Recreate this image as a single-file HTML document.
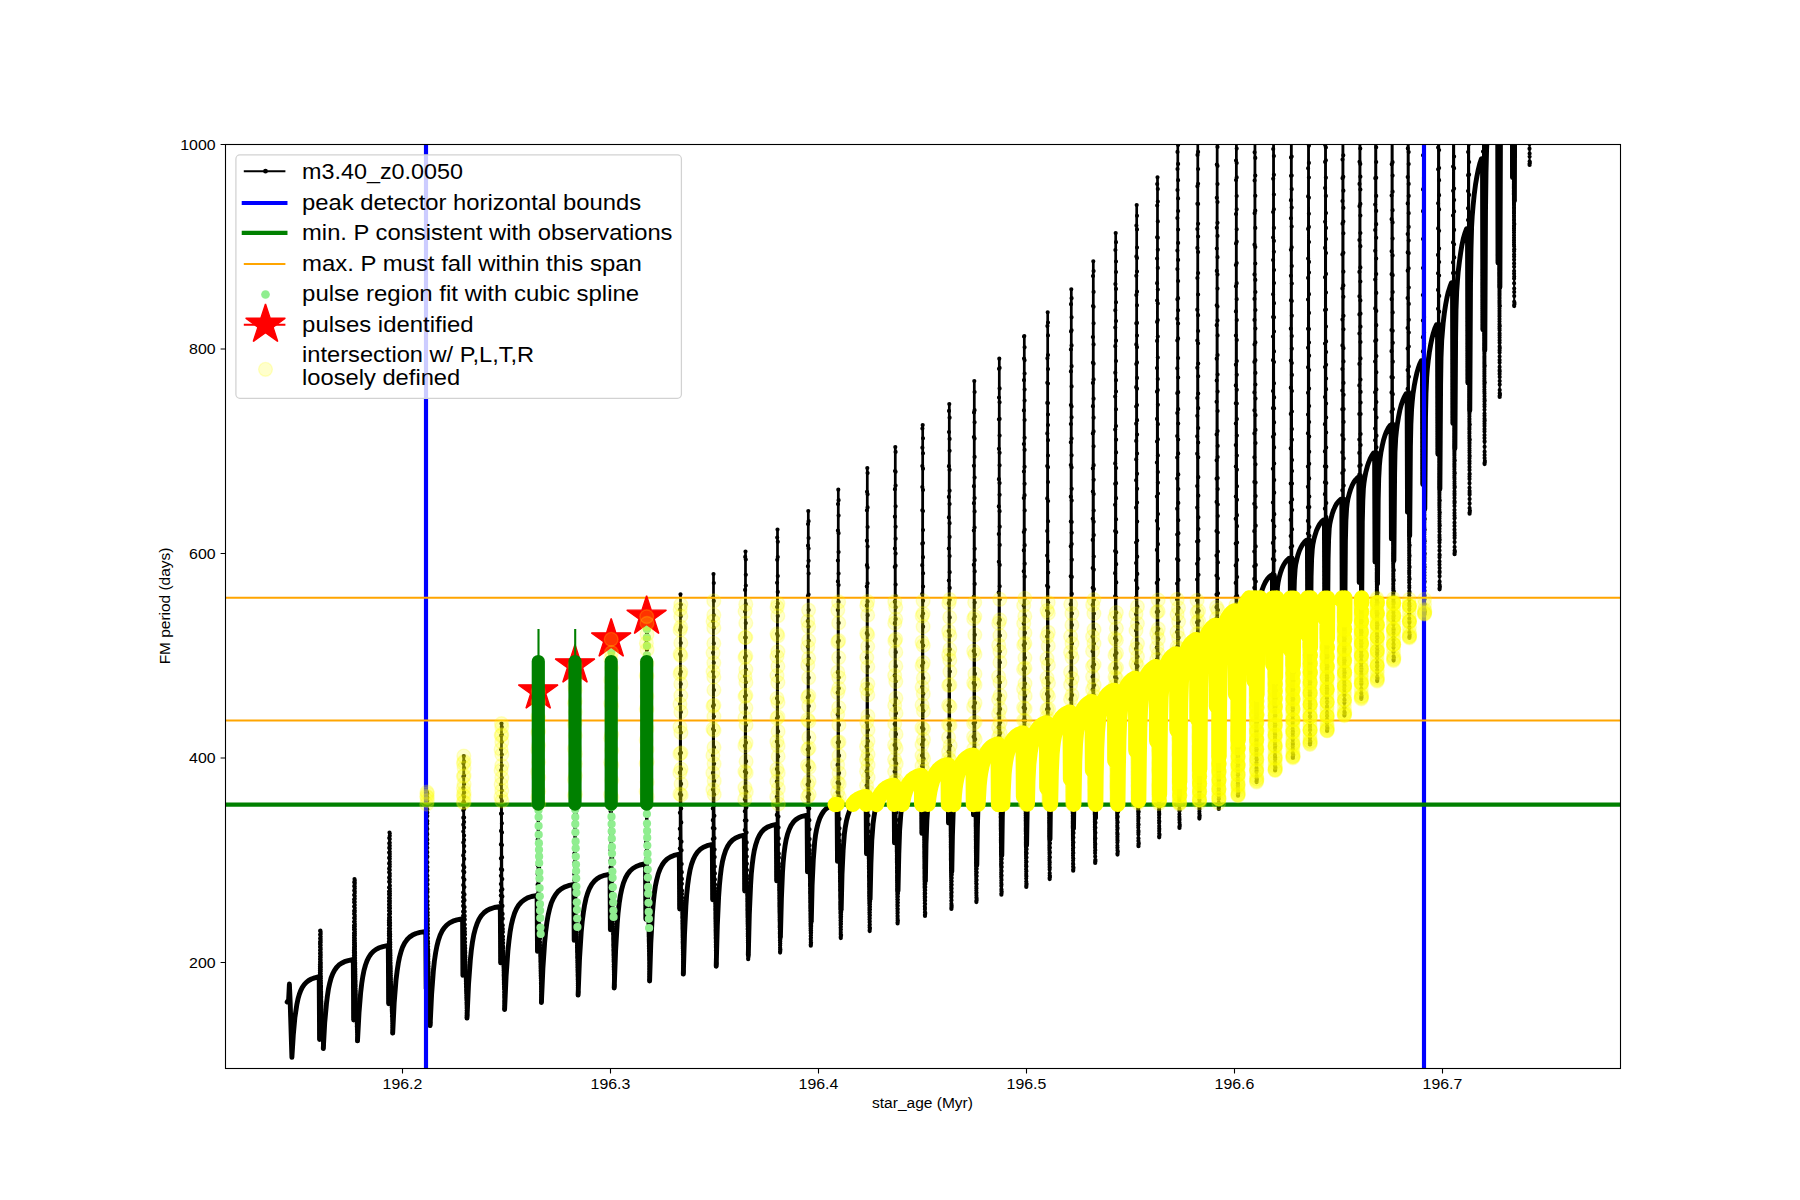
<!DOCTYPE html>
<html><head><meta charset="utf-8"><title>FM period vs star_age</title><style>html,body{margin:0;padding:0;background:#fff}body{width:1800px;height:1200px;overflow:hidden;font-family:"Liberation Sans",sans-serif}</style></head><body>
<svg width="1800" height="1200" viewBox="0 0 1800 1200" style="display:block;font-family:'Liberation Sans',sans-serif">
<defs><clipPath id="c"><rect x="225.5" y="144.5" width="1395" height="924"/></clipPath>
<path id="st" d="M0.00 -20.83 L4.68 -6.44 L19.81 -6.44 L7.57 2.46 L12.24 16.85 L0.00 7.96 L-12.24 16.85 L-7.57 2.46 L-19.81 -6.44 L-4.68 -6.44Z" fill="#f00" stroke="#f00" stroke-width="1.39" stroke-linejoin="bevel"/>
</defs>
<rect width="1800" height="1200" fill="#fff"/>
<g clip-path="url(#c)">
<g fill="none" stroke="#000" stroke-linejoin="round" stroke-linecap="round">
<path stroke-width="4.9" d="M287.2 1002.0 L288.6 1000.0 L289.4 984.0 L290.2 1003.0 L291.9 1057.4 M291.9 1057.4 L293.3 1035.1 L294.9 1017.4 L296.9 1004.2 L298.0 998.9 L299.3 994.4 L300.7 990.6 L302.3 987.4 L304.2 984.7 L306.3 982.4 L308.7 980.5 L311.4 979.0 L314.6 977.9 L318.2 977.0 L319.2 977.0 L319.6 1039.5 M323.3 1048.5 L324.7 1022.9 L326.5 1003.2 L327.5 995.3 L328.5 988.7 L329.8 982.8 L331.1 978.0 L332.7 973.9 L334.5 970.4 L336.5 967.5 L338.8 965.1 L341.5 963.2 L344.5 961.7 L348.1 960.6 L352.3 959.7 L353.3 959.7 L353.7 1020.0 M357.5 1040.9 L359.0 1012.9 L360.7 992.1 L361.7 983.7 L362.8 976.5 L364.0 970.4 L365.5 965.0 L367.1 960.6 L368.9 957.0 L371.0 953.9 L373.4 951.4 L376.1 949.4 L379.3 947.8 L382.9 946.6 L387.3 945.7 L388.3 945.7 L388.7 1003.7 M392.7 1033.1 L394.2 1002.7 L396.0 980.1 L397.1 971.2 L398.3 963.3 L399.6 956.8 L401.1 951.4 L402.7 946.8 L404.7 942.9 L406.9 939.8 L409.5 937.1 L412.5 935.1 L416.0 933.5 L420.0 932.4 L424.8 931.6 L425.8 931.6 L426.2 988.7 M430.1 1025.6 L431.6 994.4 L433.4 970.4 L434.4 961.0 L435.6 952.9 L436.9 946.1 L438.4 940.2 L440.1 935.3 L442.0 931.2 L444.2 927.8 L446.7 925.1 L449.6 922.9 L452.9 921.2 L456.9 919.9 L461.6 919.0 L462.6 919.0 L462.9 975.4 M467.0 1018.1 L468.5 984.9 L470.3 960.2 L471.3 950.4 L472.5 941.7 L473.8 934.6 L475.4 928.5 L477.1 923.4 L479.0 919.2 L481.3 915.6 L483.9 912.8 L486.9 910.5 L490.4 908.8 L494.4 907.5 L499.3 906.6 L500.3 906.6 L500.7 962.9 M504.6 1009.5 L506.1 976.3 L507.9 950.7 L509.0 940.6 L510.1 932.0 L511.4 924.6 L512.9 918.4 L514.6 913.1 L516.5 908.8 L518.7 905.1 L521.3 902.1 L524.2 899.8 L527.5 897.9 L531.5 896.5 L536.1 895.6 L537.1 895.6 L537.5 951.4 M541.4 1002.5 L542.9 968.2 L544.7 941.7 L545.7 931.3 L546.9 922.4 L548.2 914.9 L549.7 908.5 L551.3 903.0 L553.3 898.5 L555.5 894.7 L558.0 891.5 L560.9 889.1 L564.3 887.1 L568.2 885.7 L572.8 884.7 L573.8 884.7 L574.2 940.4 M578.1 995.1 L579.5 958.9 L581.2 932.1 L582.2 921.5 L583.4 912.4 L584.6 904.9 L586.0 898.4 L587.7 892.9 L589.6 888.2 L591.8 884.3 L594.3 881.2 L597.2 878.7 L600.5 876.7 L604.4 875.3 L609.0 874.3 L610.0 874.3 L610.4 929.8 M614.2 988.0 L615.6 950.7 L617.2 923.6 L618.1 912.6 L619.2 903.2 L620.4 895.5 L621.8 888.8 L623.4 883.1 L625.3 878.3 L627.5 874.3 L630.0 871.0 L632.8 868.5 L636.1 866.5 L639.9 865.0 L644.5 864.0 L645.5 864.0 L645.9 919.2 M649.6 981.0 L650.8 943.1 L652.3 914.8 L653.2 903.8 L654.2 894.4 L655.3 886.6 L656.7 879.8 L658.2 874.0 L660.0 869.1 L662.1 865.0 L664.4 861.7 L667.1 859.0 L670.3 857.0 L673.9 855.4 L678.3 854.4 L679.3 854.4 L679.7 909.0 M683.3 974.1 L684.5 934.8 L685.9 905.6 L686.7 894.4 L687.7 884.8 L688.8 876.9 L690.0 870.2 L691.5 864.4 L693.3 859.4 L695.3 855.3 L697.6 851.9 L700.3 849.3 L703.4 847.2 L707.0 845.7 L711.3 844.7 L712.3 844.7 L712.7 899.8 M716.2 966.2 L717.3 926.2 L718.6 897.0 L719.4 885.5 L720.3 876.2 L721.3 868.1 L722.5 861.3 L724.0 855.4 L725.7 850.3 L727.7 846.1 L730.0 842.7 L732.6 840.0 L735.6 837.9 L739.1 836.4 L743.3 835.4 L744.3 835.4 L744.7 891.0 M748.3 955.0 L749.3 914.9 L750.6 885.0 L751.3 873.8 L752.2 864.7 L753.2 856.9 L754.3 850.3 L755.8 844.4 L757.5 839.3 L759.5 835.1 L761.8 831.7 L764.4 829.1 L767.4 827.1 L771.0 825.7 L775.3 824.7 L776.3 824.7 L776.7 880.9 M780.4 937.0 L781.4 898.7 L782.5 872.3 L783.2 861.9 L784.0 853.5 L785.0 846.1 L786.1 839.9 L787.5 834.3 L789.2 829.5 L791.1 825.4 L793.4 822.1 L795.9 819.6 L798.7 817.7 L802.1 816.3 L806.1 815.4 L807.1 815.4 L807.5 871.9 M811.3 921.5 L812.1 885.4 L813.3 859.5 L814.7 841.8 L815.6 834.8 L816.7 828.8 L818.1 823.2 L819.7 818.4 L821.7 814.4 L823.8 811.1 L826.2 808.6 L829.0 806.7 L832.2 805.3 L836.1 804.3 L837.1 804.3 L837.5 861.4 M841.2 909.8 L842.0 874.7 L843.1 850.6 L844.4 833.8 L845.3 827.2 L846.4 821.2 L847.8 815.7 L849.4 810.9 L851.3 806.8 L853.3 803.6 L855.7 801.0 L858.3 799.1 L861.4 797.6 L865.1 796.6 L866.1 796.6 L866.5 853.7 M870.1 899.2 L870.9 864.2 L871.8 840.0 L873.1 823.3 L874.0 816.6 L875.0 810.8 L876.3 805.2 L877.9 800.2 L879.7 796.0 L881.7 792.6 L884.0 789.9 L886.6 787.9 L889.5 786.4 L893.1 785.3 L894.1 785.3 L894.5 842.9 M898.0 890.9 L898.8 854.4 L899.6 830.6 L900.8 814.2 L901.6 807.6 L902.6 801.9 L903.9 796.1 L905.5 790.9 L907.3 786.5 L909.3 783.0 L911.5 780.3 L914.1 778.2 L917.0 776.6 L920.5 775.5 L921.5 775.5 L921.9 833.4 M925.4 881.0 L926.0 844.2 L926.9 820.1 L928.0 803.9 L928.8 797.4 L929.7 791.7 L931.0 785.8 L932.5 780.6 L934.3 776.1 L936.3 772.6 L938.4 769.8 L940.9 767.6 L943.7 765.9 L947.1 764.8 L948.1 764.8 L948.5 823.1 M951.8 871.6 L952.4 836.6 L953.2 811.3 L954.3 794.9 L955.0 788.5 L955.8 782.9 L957.0 777.0 L958.4 771.8 L960.1 767.2 L962.0 763.4 L964.0 760.5 L966.4 758.1 L969.0 756.4 L972.1 755.1 L973.1 755.1 L973.5 814.9 M976.8 865.3 L977.4 827.1 L978.1 802.2 L979.1 784.9 L979.8 778.1 L980.6 772.5 L981.8 766.4 L983.2 761.1 L984.9 756.5 L986.8 752.6 L988.9 749.6 L991.3 747.2 L993.9 745.5 L997.1 744.2 L998.1 744.2 L998.5 805.8 M1001.8 855.4 L1002.3 817.4 L1003.1 791.0 L1004.0 773.8 L1004.7 767.3 L1005.5 761.5 L1006.6 755.6 L1008.1 750.2 L1009.8 745.4 L1011.8 741.6 L1013.8 738.6 L1016.2 736.2 L1018.9 734.4 L1022.1 733.2 L1023.1 733.2 L1023.5 796.6 M1026.6 845.3 L1027.2 807.8 L1027.8 781.2 L1028.7 764.1 L1030.1 751.9 L1031.1 746.1 L1032.5 740.7 L1034.1 736.0 L1035.9 731.9 L1037.9 728.8 L1040.1 726.3 L1042.6 724.4 L1045.5 723.0 L1046.5 723.0 L1046.9 788.1 M1050.0 839.1 L1050.5 798.4 L1051.2 771.4 L1052.0 753.9 L1052.6 747.3 L1053.3 741.6 L1054.4 735.6 L1055.8 730.1 L1057.4 725.2 L1059.3 721.2 L1061.3 718.0 L1063.5 715.6 L1066.1 713.6 L1069.1 712.2 L1070.1 712.2 L1070.5 779.1 M1073.5 828.4 L1074.0 788.6 L1074.6 761.4 L1075.4 743.5 L1076.5 731.4 L1077.5 725.5 L1078.8 720.2 L1080.4 715.3 L1082.1 711.2 L1084.0 707.9 L1086.1 705.3 L1088.4 703.3 L1091.1 701.7 L1092.1 701.7 L1092.5 770.4 M1095.5 818.0 L1096.0 776.5 L1096.6 748.9 L1097.4 731.7 L1098.5 719.7 L1099.5 713.9 L1100.8 708.5 L1102.5 703.6 L1104.2 699.6 L1106.1 696.4 L1108.3 693.8 L1110.7 691.8 L1113.5 690.3 L1114.5 690.3 L1114.9 760.8 M1117.8 811.5 L1118.2 768.7 L1118.8 739.1 L1119.5 720.6 L1120.5 708.5 L1121.4 702.8 L1122.6 697.5 L1124.1 692.5 L1125.8 688.2 L1127.6 684.9 L1129.7 682.1 L1131.9 680.0 L1134.5 678.3 L1135.5 678.3 L1135.9 750.8 M1138.7 800.5 L1139.2 755.8 L1139.7 727.4 L1140.4 709.0 L1141.4 696.8 L1142.3 691.1 L1143.4 685.9 L1144.9 680.9 L1146.6 676.6 L1148.4 673.2 L1150.5 670.5 L1152.7 668.3 L1155.3 666.6 L1156.3 666.6 L1156.7 741.0 M1159.5 794.4 L1159.9 748.5 L1160.4 716.2 L1161.0 697.0 L1162.0 684.3 L1162.8 678.6 L1163.9 673.4 L1165.4 668.3 L1167.1 664.0 L1168.9 660.5 L1170.9 657.7 L1173.1 655.5 L1175.6 653.8 L1176.6 653.8 L1177.0 730.3 M1179.7 782.0 L1180.1 733.6 L1180.6 702.4 L1181.3 682.4 L1182.1 670.3 L1182.9 664.7 L1184.0 659.5 L1185.5 654.5 L1187.1 650.1 L1188.9 646.6 L1190.9 643.7 L1193.1 641.5 L1195.6 639.7 L1196.6 639.7 L1197.0 718.5 M1199.7 769.2 L1200.1 722.1 L1200.5 688.2 L1201.1 668.0 L1202.0 655.8 L1202.7 650.2 L1203.8 645.1 L1205.2 640.1 L1206.8 635.7 L1208.5 632.2 L1210.5 629.3 L1212.6 627.0 L1215.0 625.2 L1216.0 625.2 L1216.4 706.4 M1219.1 756.3 L1219.4 707.1 L1219.9 674.5 L1220.4 654.4 L1221.3 641.5 L1222.0 636.1 L1223.0 631.0 L1224.4 625.9 L1226.1 621.4 L1227.8 617.9 L1229.7 615.0 L1231.8 612.7 L1234.2 610.9 L1235.2 610.9 L1235.6 694.4 M1238.2 740.2 L1239.0 658.5 L1239.5 637.7 L1240.3 625.2 L1241.0 620.0 L1242.0 614.9 L1243.4 609.9 L1245.0 605.4 L1246.6 601.9 L1248.5 599.0 L1250.5 596.6 L1252.8 594.7 L1253.8 594.7 L1254.2 680.9 M1255.7 594.7 L1255.8 674.9 M1257.0 694.7 L1257.7 630.0 L1258.3 613.7 L1259.1 603.7 L1259.9 598.8 L1260.9 594.1 L1262.3 589.3 L1263.9 585.2 L1265.5 581.9 L1267.2 579.2 L1269.2 577.0 L1271.4 575.2 L1272.4 575.2 L1272.8 664.5 M1274.3 575.2 L1274.4 658.5 M1275.5 677.3 L1276.2 612.9 L1276.8 596.8 L1277.5 586.7 L1278.2 582.0 L1279.2 577.3 L1280.5 572.6 L1282.0 568.4 L1283.6 565.0 L1285.3 562.3 L1287.1 560.0 L1289.2 558.2 L1290.2 558.2 L1290.6 650.2 M1292.1 558.2 L1292.2 644.2 M1293.2 665.6 L1293.9 596.9 L1294.4 580.0 L1295.1 569.2 L1295.7 564.5 L1296.7 559.9 L1297.9 555.1 L1299.4 550.8 L1301.0 547.3 L1302.6 544.5 L1304.4 542.1 L1306.4 540.2 L1307.4 540.2 L1307.8 635.2 M1309.3 540.2 L1309.4 629.2 M1310.4 647.3 L1311.1 576.3 L1311.6 559.2 L1312.3 548.9 L1312.9 544.3 L1313.8 539.7 L1315.1 534.9 L1316.5 530.6 L1318.0 527.2 L1319.6 524.3 L1321.4 521.9 L1323.4 520.0 L1324.4 520.0 L1324.8 618.2 M1326.3 520.0 L1326.4 612.2 M1327.4 638.3 L1328.1 558.8 L1328.6 539.9 L1329.2 528.8 L1329.8 524.0 L1330.8 519.3 L1332.1 514.3 L1333.6 509.9 L1335.2 506.4 L1336.8 503.5 L1338.7 501.2 L1340.8 499.2 L1341.8 499.2 L1342.2 600.8 M1343.7 499.2 L1343.8 594.8 M1344.8 620.3 L1345.4 541.3 L1345.9 520.5 L1346.6 508.4 L1347.2 503.3 L1348.0 498.6 L1349.3 493.5 L1350.8 488.8 L1352.3 485.1 L1353.9 482.1 L1355.8 479.6 L1357.8 477.5 L1358.8 477.5 L1359.2 582.6 M1360.7 477.5 L1360.8 576.6 M1361.7 602.7 L1362.3 522.3 L1362.8 500.9 L1363.4 488.4 L1364.0 482.8 L1364.8 477.5 L1365.9 471.8 L1367.3 466.6 L1368.7 462.3 L1370.2 458.6 L1371.8 455.6 L1373.6 453.0 L1374.6 453.0 L1375.0 562.1 M1376.5 453.0 L1376.6 556.1 M1377.5 583.7 L1378.2 499.2 L1378.7 478.4 L1379.4 465.4 L1380.0 458.9 L1380.9 452.6 L1382.2 446.0 L1383.5 440.3 L1384.9 435.6 L1386.5 431.5 L1388.2 428.2 L1390.0 425.5 L1391.0 425.5 L1391.4 538.9 M1392.9 425.5 L1393.0 532.9 M1393.9 560.8 L1394.6 473.9 L1395.0 452.2 L1395.7 438.3 L1396.4 431.2 L1397.3 424.3 L1398.5 417.1 L1399.8 410.5 L1401.2 405.1 L1402.7 400.7 L1404.3 396.9 L1406.1 393.8 L1407.1 393.8 L1407.5 512.3 M1409.0 393.8 L1409.1 506.3 M1409.7 535.7 L1410.4 446.3 L1410.9 423.8 L1411.6 409.0 L1412.2 401.7 L1413.0 394.0 L1414.2 386.1 L1415.5 379.1 L1416.8 373.2 L1418.2 368.3 L1419.7 364.1 L1421.4 360.6 L1422.4 360.6 L1422.8 484.5 M1424.3 360.6 L1424.4 478.5 M1424.8 509.1 L1425.5 416.8 L1426.0 393.3 L1426.7 377.6 L1427.3 369.3 L1428.2 361.0 L1429.3 352.7 L1430.6 345.0 L1431.9 338.6 L1433.3 333.2 L1434.8 328.6 L1436.5 324.7 L1437.5 324.7 L1437.9 454.3 M1439.4 324.7 L1439.5 448.3 M1439.9 489.1 L1440.6 384.5 L1441.0 358.0 L1441.7 340.6 L1443.2 322.6 L1444.3 313.4 L1445.6 304.9 L1446.9 297.9 L1448.3 291.9 L1449.9 286.9 L1451.5 282.7 L1452.5 282.7 L1452.9 423.4 M1454.4 282.7 L1454.5 417.4 M1454.9 448.5 L1455.6 338.0 L1456.0 309.9 L1456.7 291.3 L1457.4 281.4 L1458.2 271.6 L1459.4 261.7 L1460.7 252.6 L1461.9 245.2 L1463.3 238.8 L1464.9 233.3 L1466.5 228.8 L1467.5 228.8 L1467.9 383.1 M1469.4 228.8 L1469.5 377.1 M1469.8 410.5 L1470.5 283.9 L1471.0 249.1 L1471.6 226.9 L1472.2 216.3 L1473.1 205.9 L1474.2 194.7 L1475.5 184.7 L1476.9 176.5 L1478.3 169.6 L1479.8 163.6 L1481.5 158.6 L1482.5 158.6 L1482.9 329.8 M1484.4 158.6 L1484.5 323.8 M1484.8 350.3 L1485.5 211.1 L1486.0 173.0 L1486.6 149.0 L1487.2 137.6 L1488.1 126.5 L1489.3 114.6 L1490.5 104.1 L1491.9 95.4 L1493.3 87.9 L1494.9 81.5 L1496.6 76.2 L1497.6 76.2 L1498.0 262.9 M1499.5 100.0 L1499.6 256.9 M1499.9 287.2 L1500.5 120.3 L1501.0 77.9 L1501.6 50.0 L1502.1 38.1 L1502.9 26.3 L1504.0 13.8 L1505.2 2.3 L1506.5 -7.3 L1507.9 -15.7 L1509.5 -22.8 L1511.1 -28.7 L1512.1 -28.7 L1512.5 177.5 M1514.0 100.0 L1514.1 171.5 M1514.4 200.7 L1515.0 -6.9 L1515.5 -61.6 L1516.1 -92.6 L1516.7 -106.0 L1517.4 -117.9 L1518.6 -131.2 L1520.0 -143.5 L1521.4 -153.4 L1522.9 -162.1 L1524.6 -169.2 L1526.5 -175.2 L1527.5 -175.2 L1527.9 58.1 M1529.4 100.0 L1529.5 52.1"/>
<path stroke-width="2.1" d="M319.6 1039.5 L320.1 930.5 L320.7 930.5 L320.7 939.6 L320.7 948.7 L320.7 957.7 L320.8 966.8 L320.8 975.9 L321.0 985.0 L321.1 994.0 L321.3 1003.1 L321.6 1012.2 L321.9 1021.3 L322.3 1030.3 L322.7 1039.4 L323.3 1048.5 M353.7 1020.0 L354.2 879.0 L354.8 879.0 L354.8 891.5 L354.8 903.9 L354.8 916.4 L354.9 928.8 L355.0 941.3 L355.1 953.7 L355.2 966.2 L355.4 978.7 L355.7 991.1 L356.0 1003.6 L356.4 1016.0 L356.9 1028.5 L357.5 1040.9 M388.7 1003.7 L389.2 832.5 L389.8 832.5 L389.8 847.9 L389.8 863.4 L389.8 878.8 L389.9 894.2 L390.0 909.6 L390.1 925.1 L390.3 940.5 L390.5 955.9 L390.8 971.4 L391.1 986.8 L391.5 1002.2 L392.1 1017.6 L392.7 1033.1 M426.2 988.7 L426.7 792.0 L427.3 792.0 L427.3 810.0 L427.3 827.9 L427.3 845.9 L427.4 863.9 L427.5 881.8 L427.6 899.8 L427.7 917.8 L428.0 935.7 L428.2 953.7 L428.6 971.7 L429.0 989.6 L429.5 1007.6 L430.1 1025.6 M462.9 975.4 L463.4 756.0 L464.1 756.0 L464.1 776.2 L464.1 796.3 L464.1 816.5 L464.1 836.6 L464.2 856.8 L464.3 877.0 L464.5 897.1 L464.7 917.3 L465.0 937.5 L465.4 957.6 L465.8 977.8 L466.3 997.9 L467.0 1018.1 M500.7 962.9 L501.2 723.6 L501.8 723.6 L501.8 745.6 L501.8 767.6 L501.8 789.6 L501.9 811.6 L502.0 833.6 L502.1 855.5 L502.2 877.5 L502.5 899.5 L502.7 921.5 L503.1 943.5 L503.5 965.5 L504.0 987.5 L504.6 1009.5 M537.5 951.4 L538.0 691.3 L538.6 691.3 L538.6 715.2 L538.6 739.2 L538.6 763.1 L538.7 787.1 L538.8 811.0 L538.9 834.9 L539.0 858.9 L539.3 882.8 L539.5 906.8 L539.9 930.7 L540.3 954.7 L540.8 978.6 L541.4 1002.5 M574.2 940.4 L574.7 665.3 L575.3 665.3 L575.3 690.7 L575.3 716.0 L575.3 741.4 L575.4 766.8 L575.5 792.1 L575.6 817.5 L575.7 842.9 L575.9 868.2 L576.2 893.6 L576.6 919.0 L577.0 944.3 L577.5 969.7 L578.1 995.1 M610.4 929.8 L610.9 639.3 L611.5 639.3 L611.5 666.1 L611.5 693.0 L611.5 719.8 L611.6 746.6 L611.7 773.4 L611.8 800.3 L611.9 827.1 L612.1 853.9 L612.4 880.7 L612.7 907.6 L613.1 934.4 L613.6 961.2 L614.2 988.0 M645.9 919.2 L646.4 616.6 L647.0 616.6 L647.0 644.6 L647.0 672.7 L647.0 700.7 L647.1 728.7 L647.1 756.7 L647.3 784.8 L647.4 812.8 L647.6 840.8 L647.9 868.9 L648.2 896.9 L648.6 924.9 L649.0 952.9 L649.6 981.0 M679.7 909.0 L680.2 594.3 L680.8 594.3 L680.8 623.5 L680.8 652.7 L680.8 681.9 L680.9 711.1 L680.9 740.4 L681.0 769.6 L681.2 798.8 L681.4 828.0 L681.6 857.2 L681.9 886.4 L682.3 915.6 L682.8 944.8 L683.3 974.1 M712.7 899.8 L713.2 574.0 L713.8 574.0 L713.8 604.2 L713.8 634.3 L713.8 664.5 L713.9 694.7 L713.9 724.8 L714.0 755.0 L714.2 785.2 L714.4 815.3 L714.6 845.5 L714.9 875.7 L715.3 905.9 L715.7 936.0 L716.2 966.2 M744.7 891.0 L745.2 551.5 L745.8 551.5 L745.8 582.9 L745.8 614.2 L745.8 645.6 L745.9 676.9 L745.9 708.3 L746.0 739.7 L746.2 771.0 L746.4 802.4 L746.6 833.7 L746.9 865.1 L747.3 896.5 L747.7 927.8 L748.2 959.2 M748.2 959.2 L748.3 955.0 M776.7 880.9 L777.2 529.5 L777.8 529.5 L777.8 562.0 L777.8 594.6 L777.8 627.1 L777.9 659.7 L777.9 692.2 L778.0 724.8 L778.2 757.3 L778.3 789.9 L778.6 822.4 L778.9 855.0 L779.2 887.5 L779.6 920.1 L780.1 952.6 M780.1 952.6 L780.4 937.0 M807.5 871.9 L808.0 511.0 L808.6 511.0 L808.6 544.4 L808.6 577.9 L808.6 611.3 L808.7 644.8 L808.7 678.2 L808.8 711.6 L809.0 745.1 L809.1 778.5 L809.3 811.9 L809.6 845.4 L810.0 878.8 L810.4 912.3 L810.8 945.7 M810.8 945.7 L811.3 921.5 M837.5 861.4 L838.0 489.7 L838.6 489.7 L838.6 524.2 L838.6 558.7 L838.6 593.2 L838.7 627.7 L838.7 662.1 L838.8 696.6 L838.9 731.1 L839.1 765.6 L839.3 800.1 L839.6 834.6 L839.9 869.1 L840.3 903.6 L840.8 938.1 M840.8 938.1 L841.2 909.8 M866.5 853.7 L867.0 468.0 L867.6 468.0 L867.6 503.6 L867.6 539.2 L867.6 574.9 L867.7 610.5 L867.7 646.1 L867.8 681.7 L867.9 717.3 L868.1 753.0 L868.3 788.6 L868.5 824.2 L868.9 859.8 L869.2 895.5 L869.7 931.1 M869.7 931.1 L870.1 899.2 M894.5 842.9 L895.0 447.0 L895.6 447.0 L895.6 483.7 L895.6 520.3 L895.6 557.0 L895.7 593.6 L895.7 630.3 L895.8 666.9 L895.9 703.6 L896.1 740.2 L896.3 776.9 L896.5 813.5 L896.8 850.2 L897.2 886.8 L897.6 923.5 M897.6 923.5 L898.0 890.9 M921.9 833.4 L922.4 425.0 L923.0 425.0 L923.0 462.8 L923.0 500.5 L923.0 538.3 L923.1 576.1 L923.1 613.9 L923.2 651.6 L923.3 689.4 L923.5 727.2 L923.7 764.9 L923.9 802.7 L924.2 840.5 L924.5 878.2 L925.0 916.0 M925.0 916.0 L925.4 881.0 M948.5 823.1 L949.0 404.0 L949.6 404.0 L949.6 442.8 L949.6 481.7 L949.6 520.5 L949.7 559.3 L949.7 598.2 L949.8 637.0 L949.9 675.9 L950.0 714.7 L950.2 753.5 L950.4 792.4 L950.7 831.2 L951.0 870.0 L951.4 908.9 M951.4 908.9 L951.8 871.6 M973.5 814.9 L974.0 381.0 L974.6 381.0 L974.6 421.1 L974.6 461.2 L974.6 501.2 L974.7 541.3 L974.7 581.4 L974.8 621.5 L974.9 661.6 L975.0 701.7 L975.2 741.7 L975.4 781.8 L975.7 821.9 L976.0 862.0 L976.4 902.1 M976.4 902.1 L976.8 865.3 M998.5 805.8 L999.0 358.7 L999.6 358.7 L999.6 399.9 L999.6 441.2 L999.6 482.4 L999.7 523.6 L999.7 564.8 L999.8 606.1 L999.9 647.3 L1000.0 688.5 L1000.2 729.8 L1000.4 771.0 L1000.7 812.2 L1001.0 853.4 L1001.4 894.7 M1001.4 894.7 L1001.8 855.4 M1023.5 796.6 L1024.0 336.0 L1024.6 336.0 L1024.6 378.4 L1024.6 420.8 L1024.6 463.1 L1024.6 505.5 L1024.7 547.9 L1024.8 590.3 L1024.9 632.6 L1025.0 675.0 L1025.2 717.4 L1025.4 759.8 L1025.6 802.1 L1025.9 844.5 L1026.3 886.9 M1026.3 886.9 L1026.6 845.3 M1046.9 788.1 L1047.4 312.3 L1048.0 312.3 L1048.0 355.9 L1048.0 399.5 L1048.0 443.1 L1048.0 486.7 L1048.1 530.3 L1048.2 573.9 L1048.3 617.5 L1048.4 661.1 L1048.6 704.7 L1048.8 748.3 L1049.0 791.9 L1049.3 835.5 L1049.7 879.1 M1049.7 879.1 L1050.0 839.1 M1070.5 779.1 L1071.0 289.3 L1071.6 289.3 L1071.6 334.0 L1071.6 378.8 L1071.6 423.5 L1071.6 468.2 L1071.7 512.9 L1071.8 557.7 L1071.8 602.4 L1072.0 647.1 L1072.1 691.8 L1072.3 736.6 L1072.6 781.3 L1072.8 826.0 L1073.2 870.7 M1073.2 870.7 L1073.5 828.4 M1092.5 770.4 L1093.0 261.3 L1093.6 261.3 L1093.6 307.6 L1093.6 353.9 L1093.6 400.2 L1093.6 446.4 L1093.7 492.7 L1093.8 539.0 L1093.9 585.3 L1094.0 631.6 L1094.1 677.9 L1094.3 724.2 L1094.6 770.5 L1094.9 816.7 L1095.2 863.0 M1095.2 863.0 L1095.5 818.0 M1114.9 760.8 L1115.4 233.0 L1116.0 233.0 L1116.0 280.8 L1116.0 328.6 L1116.0 376.5 L1116.0 424.3 L1116.1 472.1 L1116.1 519.9 L1116.2 567.7 L1116.3 615.5 L1116.5 663.4 L1116.7 711.2 L1116.9 759.0 L1117.2 806.8 L1117.5 854.6 M1117.5 854.6 L1117.8 811.5 M1135.9 750.8 L1136.4 205.0 L1137.0 205.0 L1137.0 254.3 L1137.0 303.7 L1137.0 353.0 L1137.0 402.3 L1137.1 451.6 L1137.1 501.0 L1137.2 550.3 L1137.3 599.6 L1137.5 648.9 L1137.7 698.3 L1137.9 747.6 L1138.2 796.9 L1138.5 846.2 M1138.5 846.2 L1138.7 800.5 M1156.7 741.0 L1157.2 177.3 L1157.8 177.3 L1157.8 228.1 L1157.8 278.8 L1157.8 329.6 L1157.8 380.4 L1157.9 431.2 L1157.9 481.9 L1158.0 532.7 L1158.1 583.5 L1158.3 634.2 L1158.4 685.0 L1158.7 735.8 L1158.9 786.6 L1159.2 837.3 M1159.2 837.3 L1159.5 794.4 M1177.0 730.3 L1177.5 140.0 L1178.1 140.0 L1178.1 192.9 L1178.1 245.8 L1178.1 298.7 L1178.1 351.7 L1178.2 404.6 L1178.2 457.5 L1178.3 510.4 L1178.4 563.3 L1178.6 616.2 L1178.7 669.2 L1178.9 722.1 L1179.2 775.0 L1179.5 827.9 M1179.5 827.9 L1179.7 782.0 M1197.0 718.5 L1197.5 117.0 L1198.1 117.0 L1198.1 171.0 L1198.1 224.9 L1198.1 278.9 L1198.1 332.9 L1198.2 386.9 L1198.2 440.8 L1198.3 494.8 L1198.4 548.8 L1198.5 602.7 L1198.7 656.7 L1198.9 710.7 L1199.2 764.7 L1199.4 818.6 M1199.4 818.6 L1199.7 769.2 M1216.4 706.4 L1216.9 87.0 L1217.5 87.0 L1217.5 142.5 L1217.5 198.1 L1217.5 253.6 L1217.5 309.1 L1217.6 364.7 L1217.6 420.2 L1217.7 475.7 L1217.8 531.3 L1217.9 586.8 L1218.1 642.3 L1218.3 697.9 L1218.5 753.4 L1218.8 808.9 M1218.8 808.9 L1219.1 756.3 M1235.6 694.4 L1236.1 57.7 L1236.7 57.7 L1236.7 114.4 L1236.7 171.2 L1236.7 228.0 L1236.7 284.8 L1236.8 341.5 L1236.8 398.3 L1236.9 455.1 L1237.0 511.9 L1237.1 568.6 L1237.3 625.4 L1237.5 682.2 L1237.7 738.9 L1238.0 795.7 M1238.0 795.7 L1238.2 740.2 M1254.2 680.9 L1254.7 29.2 L1255.3 29.2 L1255.3 87.1 L1255.3 145.1 L1255.3 203.0 L1255.3 260.9 L1255.4 318.8 L1255.4 376.7 L1255.5 434.6 L1255.6 492.5 L1255.7 550.4 L1255.9 608.4 L1256.1 666.3 L1256.3 724.2 L1256.6 782.1 M1256.6 782.1 L1257.0 694.7 M1272.8 664.5 L1273.3 0.8 L1273.9 0.8 L1273.9 60.0 L1273.9 119.2 L1273.9 178.4 L1273.9 237.6 L1274.0 296.8 L1274.0 356.0 L1274.1 415.2 L1274.2 474.4 L1274.3 533.6 L1274.5 592.8 L1274.6 652.0 L1274.9 711.2 L1275.1 770.4 M1275.1 770.4 L1275.5 677.3 M1290.6 650.2 L1291.1 -26.4 L1291.7 -26.4 L1291.7 33.9 L1291.7 94.3 L1291.7 154.6 L1291.7 214.9 L1291.8 275.2 L1291.8 335.6 L1291.9 395.9 L1292.0 456.2 L1292.1 516.6 L1292.2 576.9 L1292.4 637.2 L1292.6 697.5 L1292.9 757.9 M1292.9 757.9 L1293.2 665.6 M1307.8 635.2 L1308.3 -52.7 L1308.9 -52.7 L1308.9 8.6 L1308.9 70.0 L1308.9 131.3 L1308.9 192.6 L1309.0 253.9 L1309.0 315.3 L1309.1 376.6 L1309.2 437.9 L1309.3 499.2 L1309.4 560.5 L1309.6 621.9 L1309.8 683.2 L1310.0 744.5 M1310.0 744.5 L1310.4 647.3 M1324.8 618.2 L1325.3 -78.7 L1325.9 -78.7 L1325.9 -16.4 L1325.9 45.9 L1325.9 108.2 L1325.9 170.5 L1326.0 232.7 L1326.0 295.0 L1326.1 357.3 L1326.2 419.6 L1326.3 481.9 L1326.4 544.2 L1326.6 606.4 L1326.8 668.7 L1327.1 731.0 M1327.1 731.0 L1327.4 638.3 M1342.2 600.8 L1342.7 -105.2 L1343.3 -105.2 L1343.3 -42.1 L1343.3 21.0 L1343.3 84.2 L1343.3 147.3 L1343.4 210.4 L1343.4 273.6 L1343.5 336.7 L1343.6 399.9 L1343.7 463.0 L1343.8 526.1 L1344.0 589.3 L1344.2 652.4 L1344.4 715.6 M1344.4 715.6 L1344.8 620.3 M1359.2 582.6 L1359.7 -131.2 L1360.3 -131.2 L1360.3 -67.4 L1360.3 -3.5 L1360.3 60.3 L1360.3 124.2 L1360.4 188.0 L1360.4 251.9 L1360.5 315.7 L1360.5 379.5 L1360.6 443.4 L1360.8 507.2 L1360.9 571.1 L1361.1 634.9 L1361.3 698.8 M1361.3 698.8 L1361.7 602.7 M1375.0 562.1 L1375.5 -155.4 L1376.1 -155.4 L1376.1 -91.0 L1376.1 -26.7 L1376.1 37.7 L1376.1 102.0 L1376.2 166.4 L1376.2 230.7 L1376.3 295.0 L1376.4 359.4 L1376.5 423.7 L1376.6 488.1 L1376.8 552.4 L1377.0 616.8 L1377.2 681.1 M1377.2 681.1 L1377.5 583.7 M1391.4 538.9 L1391.9 -180.4 L1392.5 -180.4 L1392.5 -115.7 L1392.5 -51.0 L1392.5 13.7 L1392.5 78.3 L1392.6 143.0 L1392.6 207.7 L1392.7 272.4 L1392.7 337.1 L1392.9 401.8 L1393.0 466.5 L1393.1 531.2 L1393.3 595.9 L1393.6 660.6 M1393.6 660.6 L1393.9 560.8 M1407.5 512.3 L1408.0 -205.0 L1408.6 -205.0 L1408.6 -140.2 L1408.6 -75.4 L1408.6 -10.5 L1408.6 54.3 L1408.6 119.1 L1408.7 184.0 L1408.7 248.8 L1408.8 313.6 L1408.9 378.5 L1409.0 443.3 L1409.1 508.1 L1409.2 573.0 L1409.4 637.8 M1409.4 637.8 L1409.7 535.7 M1422.8 484.5 L1423.3 -228.4 L1423.9 -228.4 L1423.9 -163.6 L1423.9 -98.8 L1423.9 -34.0 L1423.9 30.8 L1423.9 95.7 L1424.0 160.5 L1424.0 225.3 L1424.0 290.1 L1424.1 354.9 L1424.2 419.7 L1424.3 484.6 L1424.4 549.4 L1424.5 614.2 M1424.5 614.2 L1424.8 509.1 M1437.9 454.3 L1438.4 -251.5 L1439.0 -251.5 L1439.0 -186.8 L1439.0 -122.1 L1439.0 -57.5 L1439.0 7.2 L1439.0 71.9 L1439.1 136.6 L1439.1 201.2 L1439.1 265.9 L1439.2 330.6 L1439.3 395.3 L1439.4 459.9 L1439.5 524.6 L1439.6 589.3 M1439.6 589.3 L1439.9 489.1 M1452.9 423.4 L1453.4 -274.4 L1454.0 -274.4 L1454.0 -210.7 L1454.0 -146.9 L1454.0 -83.2 L1454.0 -19.5 L1454.0 44.3 L1454.1 108.0 L1454.1 171.8 L1454.1 235.5 L1454.2 299.2 L1454.3 363.0 L1454.4 426.7 L1454.5 490.5 L1454.6 554.2 M1454.6 554.2 L1454.9 448.5 M1467.9 383.1 L1468.4 -297.3 L1469.0 -297.3 L1469.0 -235.0 L1469.0 -172.6 L1469.0 -110.2 L1469.0 -47.8 L1469.0 14.6 L1469.1 77.0 L1469.1 139.4 L1469.1 201.7 L1469.2 264.1 L1469.3 326.5 L1469.4 388.9 L1469.5 451.3 L1469.6 513.7 M1469.6 513.7 L1469.8 410.5 M1482.9 329.8 L1483.4 -320.3 L1484.0 -320.3 L1484.0 -259.9 L1484.0 -199.6 L1484.0 -139.3 L1484.0 -78.9 L1484.0 -18.6 L1484.1 41.8 L1484.1 102.1 L1484.1 162.4 L1484.2 222.8 L1484.3 283.1 L1484.4 343.4 L1484.5 403.8 L1484.6 464.1 M1484.6 464.1 L1484.8 350.3 M1498.0 262.9 L1498.5 -343.3 L1499.1 -343.3 L1499.1 -286.4 L1499.1 -229.5 L1499.1 -172.5 L1499.1 -115.6 L1499.1 -58.6 L1499.2 -1.7 L1499.2 55.2 L1499.2 112.2 L1499.3 169.1 L1499.4 226.1 L1499.5 283.0 L1499.6 340.0 L1499.7 396.9 M1499.7 396.9 L1499.9 287.2 M1512.5 177.5 L1513.0 -365.5 L1513.6 -365.5 L1513.6 -313.8 L1513.6 -262.2 L1513.6 -210.5 L1513.6 -158.9 L1513.6 -107.2 L1513.7 -55.5 L1513.7 -3.9 L1513.7 47.8 L1513.8 99.5 L1513.9 151.1 L1514.0 202.8 L1514.1 254.5 L1514.2 306.1 M1514.2 306.1 L1514.4 200.7 M1527.9 58.1 L1528.4 -389.0 L1529.0 -389.0 L1529.0 -346.4 L1529.0 -303.8 L1529.0 -261.2 L1529.0 -218.6 L1529.0 -175.9 L1529.1 -133.3 L1529.1 -90.7 L1529.1 -48.1 L1529.2 -5.5 L1529.3 37.1 L1529.4 79.8 L1529.5 122.4 L1529.6 165.0"/>
<path stroke-width="4.2" d="M319.6 1038.9h0M319.6 1037.7h0M319.6 1036.6h0M319.6 1035.3h0M319.6 1034.0h0M319.6 1033.1h0M319.6 1032.3h0M319.6 1030.8h0M319.6 1029.8h0M319.6 1028.7h0M319.7 1027.1h0M319.7 1025.8h0M319.7 1024.2h0M319.7 1023.0h0M319.7 1021.5h0M319.7 1020.5h0M319.7 1019.1h0M319.7 1017.4h0M319.7 1016.0h0M319.7 1014.4h0M319.7 1012.8h0M319.7 1011.8h0M319.7 1010.1h0M319.7 1008.6h0M319.7 1007.3h0M319.8 1006.3h0M319.8 1004.4h0M319.8 1002.9h0M319.8 1001.1h0M319.8 999.1h0M319.8 997.3h0M319.8 995.1h0M319.8 993.6h0M319.8 991.5h0M319.8 989.9h0M319.8 987.6h0M319.8 985.3h0M319.9 984.0h0M319.9 982.6h0M319.9 981.1h0M319.9 978.5h0M319.9 976.7h0M319.9 974.5h0M319.9 972.7h0M319.9 970.7h0M319.9 968.7h0M319.9 966.8h0M319.9 964.5h0M320.0 962.1h0M320.0 959.2h0M320.0 956.5h0M320.0 953.4h0M320.0 950.3h0M320.0 946.9h0M320.0 943.9h0M320.0 941.9h0M320.1 938.4h0M320.1 934.7h0M320.1 930.9h0M320.4 930.5h0M320.7 932.1h0M320.7 933.9h0M320.7 936.7h0M320.7 939.0h0M320.7 940.9h0M320.7 942.5h0M320.7 945.2h0M320.7 948.1h0M320.7 949.6h0M320.7 952.2h0M320.7 954.2h0M320.7 955.7h0M320.7 957.5h0M320.7 959.9h0M320.8 962.5h0M320.8 963.9h0M320.8 966.0h0M320.8 967.4h0M320.8 969.6h0M320.8 971.3h0M320.8 973.8h0M320.9 976.3h0M320.9 978.2h0M320.9 980.7h0M320.9 982.3h0M320.9 983.6h0M321.0 985.5h0M321.0 986.7h0M321.0 988.1h0M321.0 989.8h0M321.1 991.7h0M321.1 993.0h0M321.1 994.2h0M321.2 996.3h0M321.2 997.8h0M321.2 1000.0h0M321.3 1001.4h0M321.3 1002.3h0M321.3 1003.4h0M321.3 1004.5h0M321.4 1005.8h0M321.4 1007.1h0M321.4 1008.3h0M321.5 1009.7h0M321.5 1011.3h0M321.6 1012.7h0M321.6 1013.9h0M321.7 1015.5h0M321.7 1016.7h0M321.8 1017.9h0M321.8 1019.9h0M321.9 1021.4h0M322.0 1023.1h0M322.0 1024.1h0M322.1 1025.6h0M322.1 1027.4h0M322.2 1028.5h0M322.3 1030.4h0M322.4 1032.3h0M322.4 1033.6h0M322.5 1035.6h0M322.6 1037.5h0M322.8 1039.7h0M322.9 1041.5h0M323.0 1043.9h0M323.2 1046.3h0M323.3 1047.8h0M323.3 1048.5h0M323.2 1047.6h0M323.4 1046.9h0M323.6 1045.5h0M353.7 1019.2h0M353.7 1017.6h0M353.7 1016.6h0M353.7 1015.4h0M353.7 1014.1h0M353.7 1013.0h0M353.7 1011.9h0M353.7 1010.8h0M353.7 1009.7h0M353.7 1008.4h0M353.7 1007.3h0M353.7 1006.1h0M353.8 1004.6h0M353.8 1003.7h0M353.8 1002.3h0M353.8 1000.7h0M353.8 999.6h0M353.8 998.5h0M353.8 996.8h0M353.8 995.6h0M353.8 994.5h0M353.8 993.2h0M353.8 991.5h0M353.8 990.4h0M353.8 989.1h0M353.8 987.8h0M353.8 985.9h0M353.8 984.4h0M353.8 982.4h0M353.8 981.2h0M353.8 979.7h0M353.8 977.9h0M353.9 975.8h0M353.9 974.1h0M353.9 972.7h0M353.9 971.3h0M353.9 969.5h0M353.9 968.0h0M353.9 965.7h0M353.9 963.4h0M353.9 961.8h0M353.9 960.1h0M353.9 957.7h0M353.9 955.3h0M353.9 952.7h0M353.9 950.8h0M354.0 949.1h0M354.0 947.2h0M354.0 944.4h0M354.0 942.3h0M354.0 940.2h0M354.0 937.8h0M354.0 935.4h0M354.0 933.0h0M354.0 929.5h0M354.0 927.4h0M354.0 925.6h0M354.0 921.8h0M354.1 918.0h0M354.1 913.9h0M354.1 910.9h0M354.1 906.6h0M354.1 902.2h0M354.1 899.4h0M354.1 895.1h0M354.2 890.5h0M354.2 886.2h0M354.2 882.2h0M354.5 879.0h0M354.8 880.2h0M354.8 882.2h0M354.8 883.8h0M354.8 886.4h0M354.8 888.4h0M354.8 891.3h0M354.8 893.0h0M354.8 896.1h0M354.8 898.8h0M354.8 901.9h0M354.8 905.0h0M354.8 908.0h0M354.8 910.6h0M354.8 912.1h0M354.8 915.0h0M354.8 916.8h0M354.8 918.9h0M354.8 921.5h0M354.9 924.0h0M354.9 926.2h0M354.9 929.2h0M354.9 931.7h0M354.9 933.7h0M354.9 935.6h0M354.9 938.4h0M354.9 940.5h0M355.0 943.1h0M355.0 945.0h0M355.0 946.7h0M355.0 948.9h0M355.0 951.4h0M355.1 953.0h0M355.1 955.4h0M355.1 958.0h0M355.1 960.4h0M355.2 962.8h0M355.2 964.1h0M355.2 966.2h0M355.3 968.6h0M355.3 969.8h0M355.3 971.4h0M355.3 972.9h0M355.4 974.8h0M355.4 976.5h0M355.4 978.2h0M355.5 980.3h0M355.5 981.4h0M355.5 982.6h0M355.5 983.9h0M355.6 985.1h0M355.6 986.3h0M355.6 988.5h0M355.7 990.6h0M355.7 991.8h0M355.7 992.8h0M355.7 993.7h0M355.8 994.6h0M355.8 995.6h0M355.8 996.8h0M355.9 998.0h0M355.9 999.1h0M355.9 1000.1h0M355.9 1001.1h0M356.0 1002.1h0M356.0 1003.4h0M356.1 1004.9h0M356.1 1006.1h0M356.1 1007.1h0M356.2 1008.2h0M356.2 1009.5h0M356.3 1011.1h0M356.3 1012.9h0M356.4 1014.3h0M356.4 1016.3h0M356.5 1018.0h0M356.6 1019.6h0M356.6 1021.2h0M356.7 1023.0h0M356.8 1025.0h0M356.8 1026.8h0M356.9 1029.0h0M357.0 1030.9h0M357.1 1032.5h0M357.2 1034.6h0M357.3 1037.0h0M357.4 1038.5h0M357.5 1040.6h0M357.5 1040.9h0M357.4 1040.0h0M357.6 1039.3h0M357.8 1037.9h0M388.7 1002.7h0M388.7 1001.2h0M388.7 1000.1h0M388.7 998.5h0M388.7 997.0h0M388.7 996.0h0M388.7 994.8h0M388.7 993.9h0M388.7 992.3h0M388.7 990.9h0M388.7 989.2h0M388.7 987.6h0M388.8 986.1h0M388.8 984.5h0M388.8 983.0h0M388.8 982.0h0M388.8 980.4h0M388.8 979.5h0M388.8 978.4h0M388.8 976.6h0M388.8 975.5h0M388.8 974.4h0M388.8 973.3h0M388.8 971.2h0M388.8 970.0h0M388.8 968.8h0M388.8 966.7h0M388.8 965.5h0M388.8 963.3h0M388.8 961.2h0M388.8 958.9h0M388.8 956.4h0M388.8 954.3h0M388.9 951.8h0M388.9 950.4h0M388.9 947.9h0M388.9 945.7h0M388.9 943.1h0M388.9 941.4h0M388.9 938.6h0M388.9 935.4h0M388.9 933.6h0M388.9 931.3h0M388.9 928.5h0M388.9 925.1h0M388.9 922.7h0M388.9 920.4h0M389.0 917.9h0M389.0 914.6h0M389.0 910.8h0M389.0 907.7h0M389.0 904.5h0M389.0 901.2h0M389.0 897.9h0M389.0 894.3h0M389.0 891.5h0M389.0 887.5h0M389.1 881.8h0M389.1 877.7h0M389.1 872.3h0M389.1 868.7h0M389.1 863.4h0M389.1 857.9h0M389.1 852.6h0M389.2 847.9h0M389.2 843.3h0M389.2 838.1h0M389.5 832.5h0M389.8 833.6h0M389.8 835.7h0M389.8 839.1h0M389.8 842.8h0M389.8 845.7h0M389.8 848.5h0M389.8 851.8h0M389.8 854.0h0M389.8 856.4h0M389.8 858.7h0M389.8 861.8h0M389.8 864.3h0M389.8 866.6h0M389.8 869.9h0M389.8 873.7h0M389.8 876.1h0M389.8 879.4h0M389.8 882.1h0M389.9 885.7h0M389.9 888.8h0M389.9 891.2h0M389.9 893.5h0M389.9 895.4h0M389.9 898.3h0M389.9 900.9h0M389.9 903.1h0M389.9 905.7h0M390.0 908.3h0M390.0 911.6h0M390.0 913.7h0M390.0 917.4h0M390.0 920.1h0M390.1 922.9h0M390.1 925.5h0M390.1 928.6h0M390.1 931.7h0M390.2 934.3h0M390.2 936.6h0M390.2 939.4h0M390.3 942.3h0M390.3 944.4h0M390.3 947.1h0M390.4 950.0h0M390.4 952.1h0M390.4 953.8h0M390.5 955.6h0M390.5 957.9h0M390.5 960.2h0M390.6 962.9h0M390.6 965.3h0M390.7 966.9h0M390.7 968.4h0M390.7 969.9h0M390.8 971.4h0M390.8 973.5h0M390.9 975.7h0M390.9 977.9h0M390.9 979.4h0M391.0 981.5h0M391.0 982.9h0M391.1 984.5h0M391.1 985.7h0M391.1 986.4h0M391.1 987.2h0M391.2 988.6h0M391.2 989.6h0M391.2 990.6h0M391.2 991.9h0M391.3 993.3h0M391.3 994.1h0M391.3 995.2h0M391.4 996.5h0M391.4 997.8h0M391.4 998.9h0M391.5 1000.4h0M391.6 1002.3h0M391.6 1003.7h0M391.6 1005.3h0M391.7 1006.5h0M391.7 1007.8h0M391.8 1009.6h0M391.8 1010.9h0M391.9 1013.1h0M392.0 1015.4h0M392.0 1016.7h0M392.1 1019.1h0M392.2 1020.9h0M392.3 1023.3h0M392.4 1025.7h0M392.5 1027.5h0M392.6 1029.9h0M392.7 1032.4h0M392.7 1033.1h0M392.6 1032.2h0M392.8 1031.5h0M393.0 1030.1h0M426.2 988.1h0M426.2 986.7h0M426.2 985.1h0M426.2 983.7h0M426.2 982.5h0M426.2 981.5h0M426.2 980.3h0M426.2 979.1h0M426.2 977.6h0M426.2 976.1h0M426.2 974.6h0M426.2 973.6h0M426.2 972.0h0M426.2 970.4h0M426.2 969.2h0M426.3 967.3h0M426.3 965.5h0M426.3 964.3h0M426.3 962.1h0M426.3 960.8h0M426.3 959.3h0M426.3 957.2h0M426.3 955.2h0M426.3 953.1h0M426.3 950.9h0M426.3 948.9h0M426.3 947.0h0M426.3 945.2h0M426.3 943.6h0M426.3 940.9h0M426.3 938.0h0M426.3 935.3h0M426.3 932.1h0M426.4 929.6h0M426.4 927.1h0M426.4 924.2h0M426.4 920.2h0M426.4 917.9h0M426.4 914.4h0M426.4 911.3h0M426.4 906.8h0M426.4 903.1h0M426.4 899.3h0M426.4 895.2h0M426.5 890.3h0M426.5 884.4h0M426.5 879.6h0M426.5 872.6h0M426.5 868.2h0M426.5 862.9h0M426.5 858.1h0M426.5 853.2h0M426.6 845.1h0M426.6 837.3h0M426.6 832.0h0M426.6 826.7h0M426.6 820.3h0M426.6 812.4h0M426.7 804.2h0M426.7 796.2h0M427.0 792.0h0M427.3 793.6h0M427.3 797.5h0M427.3 800.7h0M427.3 805.0h0M427.3 809.3h0M427.3 812.6h0M427.3 816.1h0M427.3 821.1h0M427.3 823.8h0M427.3 828.9h0M427.3 834.2h0M427.3 839.7h0M427.3 843.5h0M427.3 847.8h0M427.3 852.2h0M427.4 856.7h0M427.4 862.3h0M427.4 867.0h0M427.4 870.6h0M427.4 875.8h0M427.5 879.9h0M427.5 884.3h0M427.5 889.2h0M427.5 891.9h0M427.6 896.8h0M427.6 901.3h0M427.6 905.1h0M427.7 908.9h0M427.7 912.5h0M427.7 915.3h0M427.8 918.8h0M427.8 921.1h0M427.8 924.4h0M427.9 927.9h0M427.9 930.9h0M427.9 934.0h0M428.0 937.9h0M428.0 941.4h0M428.1 943.4h0M428.1 946.6h0M428.2 949.4h0M428.2 951.0h0M428.2 953.2h0M428.3 955.1h0M428.3 956.7h0M428.3 959.0h0M428.4 961.9h0M428.4 963.7h0M428.5 966.3h0M428.5 968.5h0M428.5 969.9h0M428.6 972.2h0M428.6 974.1h0M428.7 976.4h0M428.7 977.5h0M428.7 978.8h0M428.8 979.7h0M428.8 981.1h0M428.8 982.6h0M428.9 984.1h0M428.9 985.2h0M428.9 986.7h0M429.0 988.0h0M429.0 989.0h0M429.0 989.9h0M429.0 990.9h0M429.1 992.0h0M429.1 993.1h0M429.1 994.6h0M429.2 996.3h0M429.2 997.9h0M429.3 999.4h0M429.3 1001.2h0M429.4 1002.7h0M429.4 1004.4h0M429.5 1006.5h0M429.5 1008.2h0M429.6 1009.6h0M429.7 1012.1h0M429.7 1014.4h0M429.8 1016.2h0M429.9 1018.1h0M429.9 1020.3h0M430.0 1022.7h0M430.1 1024.5h0M430.1 1025.6h0M430.0 1024.7h0M430.3 1024.0h0M430.4 1022.6h0M463.0 974.9h0M463.0 973.4h0M463.0 972.5h0M463.0 971.3h0M463.0 970.3h0M463.0 969.3h0M463.0 968.3h0M463.0 967.1h0M463.0 966.1h0M463.0 965.1h0M463.0 964.1h0M463.0 963.0h0M463.0 961.5h0M463.0 960.5h0M463.0 959.4h0M463.0 957.9h0M463.0 956.3h0M463.0 954.3h0M463.0 953.0h0M463.0 951.3h0M463.0 949.5h0M463.0 948.1h0M463.0 945.3h0M463.0 943.5h0M463.0 941.8h0M463.0 939.3h0M463.0 937.3h0M463.0 934.4h0M463.0 931.8h0M463.1 929.6h0M463.1 927.3h0M463.1 923.5h0M463.1 920.4h0M463.1 915.8h0M463.1 911.7h0M463.1 905.9h0M463.1 901.6h0M463.1 897.2h0M463.1 892.5h0M463.2 885.0h0M463.2 877.7h0M463.2 871.0h0M463.2 865.2h0M463.2 855.4h0M463.3 842.5h0M463.3 831.5h0M463.3 824.7h0M463.3 817.7h0M463.3 810.3h0M463.3 802.3h0M463.4 795.2h0M463.4 788.1h0M463.4 776.6h0M463.4 763.3h0M463.8 756.0h0M464.1 761.7h0M464.1 768.0h0M464.1 775.7h0M464.1 784.0h0M464.1 792.4h0M464.1 796.7h0M464.1 802.2h0M464.1 809.1h0M464.1 817.5h0M464.1 822.0h0M464.1 827.5h0M464.1 835.5h0M464.1 840.1h0M464.2 846.1h0M464.2 851.7h0M464.2 858.9h0M464.3 867.2h0M464.3 872.2h0M464.4 879.7h0M464.4 887.1h0M464.5 894.4h0M464.5 900.2h0M464.6 907.1h0M464.7 911.5h0M464.7 915.9h0M464.8 919.5h0M464.8 924.6h0M464.9 928.5h0M464.9 931.7h0M465.0 934.5h0M465.0 938.5h0M465.1 942.0h0M465.1 945.5h0M465.2 948.2h0M465.2 950.9h0M465.3 952.8h0M465.3 955.7h0M465.4 957.3h0M465.4 959.5h0M465.5 962.0h0M465.5 964.3h0M465.5 965.6h0M465.6 967.1h0M465.6 969.3h0M465.6 970.4h0M465.7 971.7h0M465.7 973.1h0M465.7 974.2h0M465.8 975.7h0M465.8 977.1h0M465.8 978.2h0M465.9 979.4h0M465.9 980.3h0M465.9 981.6h0M465.9 983.4h0M466.0 984.4h0M466.0 985.9h0M466.0 987.0h0M466.1 988.1h0M466.1 989.8h0M466.1 991.1h0M466.2 992.2h0M466.2 993.5h0M466.3 995.4h0M466.3 997.2h0M466.4 998.4h0M466.4 999.9h0M466.5 1002.4h0M466.5 1004.0h0M466.6 1006.1h0M466.6 1008.0h0M466.7 1010.5h0M466.8 1012.9h0M466.9 1015.5h0M467.0 1017.9h0M467.0 1018.1h0M466.9 1017.2h0M467.1 1016.5h0M467.3 1015.1h0M500.7 962.4h0M500.7 961.6h0M500.7 960.1h0M500.7 959.2h0M500.7 958.3h0M500.7 956.6h0M500.7 955.5h0M500.7 953.7h0M500.7 952.7h0M500.7 951.2h0M500.7 949.9h0M500.7 947.8h0M500.7 945.9h0M500.7 943.8h0M500.7 941.4h0M500.8 938.6h0M500.8 936.4h0M500.8 933.7h0M500.8 931.0h0M500.8 928.8h0M500.8 924.8h0M500.8 920.9h0M500.8 916.1h0M500.8 912.6h0M500.8 907.6h0M500.8 902.4h0M500.8 895.5h0M500.9 890.7h0M500.9 884.0h0M500.9 875.8h0M500.9 869.2h0M500.9 858.4h0M500.9 844.4h0M501.0 830.9h0M501.0 813.7h0M501.0 796.9h0M501.1 784.4h0M501.1 770.4h0M501.1 749.4h0M501.2 735.6h0M501.5 723.6h0M501.8 727.0h0M501.8 734.7h0M501.8 742.0h0M501.8 754.5h0M501.8 765.6h0M501.8 777.8h0M501.8 790.6h0M501.9 801.0h0M501.9 813.5h0M501.9 823.3h0M502.0 832.4h0M502.0 845.0h0M502.1 857.3h0M502.2 869.9h0M502.3 879.1h0M502.4 889.3h0M502.4 896.4h0M502.5 905.9h0M502.6 913.9h0M502.7 918.7h0M502.8 925.3h0M502.8 928.9h0M502.9 931.9h0M503.0 936.5h0M503.0 939.6h0M503.1 942.9h0M503.1 946.2h0M503.2 948.1h0M503.2 951.1h0M503.3 953.1h0M503.3 955.1h0M503.3 956.9h0M503.4 959.0h0M503.4 960.9h0M503.4 961.8h0M503.5 962.6h0M503.5 963.5h0M503.5 964.6h0M503.5 965.4h0M503.5 966.3h0M503.6 967.7h0M503.6 969.1h0M503.6 970.8h0M503.7 972.5h0M503.7 974.3h0M503.7 975.6h0M503.8 976.7h0M503.8 978.0h0M503.8 979.5h0M503.9 981.1h0M503.9 982.7h0M503.9 984.2h0M504.0 986.4h0M504.0 987.9h0M504.1 989.6h0M504.1 992.0h0M504.2 994.4h0M504.2 996.1h0M504.3 997.7h0M504.4 1000.3h0M504.4 1001.7h0M504.5 1003.3h0M504.5 1005.7h0M504.6 1008.0h0M504.6 1009.5h0M504.5 1008.6h0M504.8 1007.9h0M504.9 1006.5h0M537.5 951.0h0M537.5 950.0h0M537.5 948.5h0M537.5 947.3h0M537.5 945.6h0M537.5 943.9h0M537.5 941.9h0M537.5 940.8h0M537.5 939.5h0M537.5 938.4h0M537.5 936.6h0M537.5 934.8h0M537.5 933.4h0M537.5 931.0h0M537.5 929.3h0M537.5 927.0h0M537.6 924.6h0M537.6 920.8h0M537.6 917.5h0M537.6 914.2h0M537.6 911.3h0M537.6 906.8h0M537.6 900.9h0M537.6 894.0h0M537.6 884.7h0M537.6 874.1h0M537.7 865.3h0M537.7 856.1h0M537.7 839.5h0M537.8 818.3h0M537.8 797.3h0M537.8 771.7h0M537.9 750.2h0M537.9 732.6h0M538.0 716.6h0M538.0 702.8h0M538.3 691.3h0M538.6 702.0h0M538.6 718.5h0M538.6 731.0h0M538.6 745.3h0M538.6 761.9h0M538.7 777.5h0M538.7 791.2h0M538.7 803.3h0M538.8 816.2h0M538.8 826.1h0M538.9 836.0h0M539.0 850.5h0M539.1 867.7h0M539.2 879.4h0M539.3 888.7h0M539.4 896.6h0M539.5 904.2h0M539.6 912.7h0M539.7 918.4h0M539.8 925.4h0M539.9 928.7h0M539.9 932.2h0M540.0 935.9h0M540.0 938.8h0M540.1 942.3h0M540.1 945.2h0M540.2 947.9h0M540.2 949.7h0M540.2 950.7h0M540.3 952.2h0M540.3 953.5h0M540.3 954.6h0M540.3 955.5h0M540.3 956.7h0M540.4 958.1h0M540.4 959.0h0M540.4 960.3h0M540.4 961.4h0M540.5 962.7h0M540.5 964.4h0M540.5 966.2h0M540.6 967.7h0M540.6 968.8h0M540.6 970.7h0M540.7 971.9h0M540.7 973.4h0M540.7 975.4h0M540.8 976.8h0M540.8 978.3h0M540.9 980.6h0M540.9 983.0h0M541.0 984.6h0M541.0 986.4h0M541.0 988.1h0M541.1 989.6h0M541.1 991.4h0M541.2 994.2h0M541.2 995.8h0M541.3 997.6h0M541.3 999.5h0M541.4 1001.2h0M541.4 1002.5h0M541.3 1001.6h0M541.6 1000.9h0M541.7 999.5h0M574.2 939.5h0M574.2 938.0h0M574.2 936.7h0M574.2 935.1h0M574.2 934.1h0M574.2 932.9h0M574.2 930.9h0M574.2 929.7h0M574.2 928.3h0M574.2 926.4h0M574.2 924.7h0M574.2 922.5h0M574.2 920.9h0M574.2 918.8h0M574.2 915.1h0M574.3 912.7h0M574.3 908.2h0M574.3 905.0h0M574.3 898.9h0M574.3 892.9h0M574.3 885.8h0M574.3 880.2h0M574.3 874.3h0M574.3 862.9h0M574.4 853.6h0M574.4 842.7h0M574.4 822.6h0M574.5 795.7h0M574.5 779.7h0M574.5 748.7h0M574.6 724.8h0M574.6 703.3h0M574.7 686.3h0M575.0 665.3h0M575.3 678.2h0M575.3 690.3h0M575.3 701.0h0M575.3 711.9h0M575.3 722.5h0M575.3 735.4h0M575.4 754.0h0M575.4 764.1h0M575.4 775.4h0M575.5 794.2h0M575.6 813.7h0M575.7 832.9h0M575.7 844.7h0M575.9 857.7h0M576.0 874.3h0M576.1 884.5h0M576.2 894.7h0M576.3 901.3h0M576.4 905.7h0M576.5 911.1h0M576.5 917.3h0M576.6 922.7h0M576.7 926.6h0M576.7 929.7h0M576.8 932.5h0M576.8 934.8h0M576.9 936.9h0M576.9 939.1h0M576.9 940.3h0M576.9 941.7h0M577.0 943.4h0M577.0 945.0h0M577.0 946.0h0M577.0 947.4h0M577.1 948.7h0M577.1 949.6h0M577.1 950.5h0M577.1 951.4h0M577.1 952.3h0M577.2 953.9h0M577.2 955.1h0M577.2 956.7h0M577.2 957.7h0M577.3 958.6h0M577.3 960.4h0M577.3 962.2h0M577.4 964.2h0M577.4 966.0h0M577.4 967.6h0M577.5 969.6h0M577.5 970.9h0M577.6 972.7h0M577.6 974.5h0M577.6 975.9h0M577.7 978.0h0M577.7 979.7h0M577.8 981.8h0M577.8 983.7h0M577.8 985.6h0M577.9 987.6h0M578.0 990.1h0M578.0 993.2h0M578.1 995.1h0M578.0 994.2h0M578.2 993.5h0M578.4 992.1h0M610.4 928.8h0M610.4 927.3h0M610.4 926.2h0M610.4 924.5h0M610.4 923.3h0M610.4 922.2h0M610.4 920.6h0M610.4 918.7h0M610.4 917.0h0M610.4 914.8h0M610.4 912.9h0M610.4 909.7h0M610.4 907.0h0M610.4 903.9h0M610.5 900.3h0M610.5 895.3h0M610.5 888.8h0M610.5 882.9h0M610.5 876.3h0M610.5 867.6h0M610.5 860.7h0M610.5 849.9h0M610.6 832.8h0M610.6 811.2h0M610.6 794.6h0M610.7 762.2h0M610.7 738.3h0M610.8 703.5h0M610.8 680.0h0M610.9 659.1h0M611.2 639.3h0M611.5 652.6h0M611.5 667.8h0M611.5 687.9h0M611.5 706.3h0M611.5 720.7h0M611.6 734.5h0M611.6 750.6h0M611.6 765.4h0M611.7 780.0h0M611.8 797.7h0M611.9 817.9h0M612.0 834.9h0M612.1 846.8h0M612.2 858.1h0M612.3 869.4h0M612.4 880.8h0M612.5 887.4h0M612.5 893.0h0M612.6 899.0h0M612.7 904.2h0M612.7 907.7h0M612.8 912.5h0M612.9 917.6h0M612.9 920.9h0M613.0 924.0h0M613.0 926.7h0M613.1 928.9h0M613.1 930.8h0M613.1 932.0h0M613.1 933.5h0M613.1 934.4h0M613.2 936.1h0M613.2 937.3h0M613.2 938.5h0M613.2 939.8h0M613.3 940.7h0M613.3 941.6h0M613.3 942.9h0M613.3 944.2h0M613.3 945.0h0M613.3 945.8h0M613.4 946.9h0M613.4 947.8h0M613.4 949.4h0M613.4 950.4h0M613.5 951.6h0M613.5 952.9h0M613.5 954.4h0M613.5 955.8h0M613.6 957.5h0M613.6 959.3h0M613.6 960.9h0M613.7 962.1h0M613.7 964.5h0M613.7 966.5h0M613.8 967.9h0M613.8 969.7h0M613.9 972.1h0M613.9 974.8h0M614.0 976.3h0M614.0 977.8h0M614.0 980.0h0M614.1 982.1h0M614.2 985.2h0M614.2 988.0h0M614.1 987.1h0M614.4 986.4h0M614.5 985.0h0M645.9 918.6h0M645.9 917.4h0M645.9 916.1h0M645.9 914.5h0M645.9 913.4h0M645.9 912.0h0M645.9 910.9h0M645.9 909.2h0M645.9 908.0h0M645.9 905.6h0M645.9 903.4h0M645.9 901.0h0M645.9 899.2h0M645.9 896.9h0M645.9 893.9h0M645.9 889.6h0M646.0 885.5h0M646.0 881.5h0M646.0 874.4h0M646.0 867.2h0M646.0 859.2h0M646.0 851.8h0M646.0 842.3h0M646.1 825.5h0M646.1 812.7h0M646.1 791.6h0M646.2 763.4h0M646.2 740.0h0M646.2 709.1h0M646.3 675.7h0M646.4 643.2h0M646.7 616.6h0M647.0 623.4h0M647.0 634.4h0M647.0 649.7h0M647.0 663.6h0M647.0 676.1h0M647.0 696.3h0M647.0 709.1h0M647.1 728.7h0M647.1 749.6h0M647.2 761.4h0M647.2 782.0h0M647.3 796.9h0M647.4 809.6h0M647.5 822.1h0M647.5 832.9h0M647.7 847.6h0M647.8 858.9h0M647.9 872.1h0M648.0 882.7h0M648.1 887.5h0M648.1 893.2h0M648.2 898.1h0M648.2 901.7h0M648.3 905.0h0M648.3 907.9h0M648.4 911.3h0M648.4 913.6h0M648.4 915.1h0M648.4 916.7h0M648.5 918.3h0M648.5 919.8h0M648.5 920.9h0M648.5 922.3h0M648.5 923.4h0M648.6 924.8h0M648.6 926.2h0M648.6 927.2h0M648.6 928.8h0M648.6 930.0h0M648.7 931.3h0M648.7 932.4h0M648.7 933.5h0M648.7 934.6h0M648.7 935.3h0M648.7 936.7h0M648.8 938.2h0M648.8 939.4h0M648.8 940.8h0M648.8 941.9h0M648.9 943.6h0M648.9 945.2h0M648.9 946.3h0M648.9 948.2h0M649.0 950.2h0M649.0 951.7h0M649.0 953.9h0M649.1 955.6h0M649.1 957.0h0M649.1 959.1h0M649.2 960.8h0M649.2 963.1h0M649.3 965.2h0M649.3 966.7h0M649.3 968.9h0M649.4 971.7h0M649.4 973.9h0M649.5 976.4h0M649.5 979.5h0M649.6 981.0h0M649.5 980.1h0M649.7 979.4h0M649.9 978.0h0M679.7 908.3h0M679.7 907.0h0M679.7 905.4h0M679.7 904.4h0M679.7 903.4h0M679.7 901.7h0M679.7 900.1h0M679.7 898.7h0M679.7 896.4h0M679.7 893.9h0M679.7 891.6h0M679.7 888.2h0M679.7 884.6h0M679.7 880.7h0M679.8 877.4h0M679.8 874.5h0M679.8 869.1h0M679.8 862.5h0M679.8 856.4h0M679.8 848.5h0M679.8 838.5h0M679.8 828.8h0M679.9 812.8h0M679.9 794.0h0M679.9 772.7h0M679.9 753.8h0M680.0 726.8h0M680.0 704.1h0M680.1 674.0h0M680.1 654.0h0M680.1 629.9h0M680.2 609.4h0M680.5 594.3h0M680.8 604.6h0M680.8 616.2h0M680.8 627.2h0M680.8 643.0h0M680.8 655.7h0M680.8 671.8h0M680.8 684.0h0M680.8 695.6h0M680.9 712.0h0M680.9 732.7h0M681.0 752.8h0M681.0 769.0h0M681.1 783.9h0M681.2 795.0h0M681.2 808.5h0M681.3 822.4h0M681.5 841.7h0M681.6 850.3h0M681.7 864.0h0M681.8 872.2h0M681.9 878.9h0M681.9 883.8h0M682.0 890.7h0M682.0 894.0h0M682.1 897.8h0M682.1 900.8h0M682.1 902.9h0M682.2 904.7h0M682.2 907.3h0M682.2 909.2h0M682.2 910.7h0M682.3 912.4h0M682.3 913.3h0M682.3 914.8h0M682.3 916.3h0M682.3 917.4h0M682.4 918.6h0M682.4 920.4h0M682.4 921.5h0M682.4 923.0h0M682.4 924.0h0M682.5 925.5h0M682.5 926.4h0M682.5 927.4h0M682.5 928.5h0M682.5 929.9h0M682.6 931.3h0M682.6 932.5h0M682.6 934.0h0M682.6 935.2h0M682.6 936.9h0M682.7 938.1h0M682.7 939.6h0M682.7 941.2h0M682.7 942.6h0M682.8 943.7h0M682.8 945.0h0M682.8 946.8h0M682.8 948.2h0M682.9 950.3h0M682.9 952.2h0M682.9 954.7h0M683.0 957.2h0M683.0 959.6h0M683.1 961.6h0M683.1 963.1h0M683.1 965.5h0M683.2 968.2h0M683.3 971.4h0M683.3 973.4h0M683.3 974.1h0M683.2 973.2h0M683.5 972.5h0M683.6 971.1h0M712.7 898.8h0M712.7 897.3h0M712.7 896.1h0M712.7 894.5h0M712.7 893.5h0M712.7 891.9h0M712.7 890.1h0M712.7 888.3h0M712.7 886.8h0M712.7 885.3h0M712.7 883.0h0M712.7 879.9h0M712.7 877.8h0M712.7 875.8h0M712.7 873.5h0M712.7 869.2h0M712.8 865.3h0M712.8 860.7h0M712.8 853.2h0M712.8 845.8h0M712.8 839.0h0M712.8 828.0h0M712.8 820.2h0M712.8 808.5h0M712.9 789.6h0M712.9 772.9h0M712.9 755.4h0M713.0 729.0h0M713.0 706.2h0M713.1 671.6h0M713.1 652.8h0M713.1 621.3h0M713.2 597.4h0M713.5 574.0h0M713.8 583.1h0M713.8 600.9h0M713.8 615.0h0M713.8 627.9h0M713.8 643.4h0M713.8 662.8h0M713.8 677.0h0M713.9 690.0h0M713.9 705.1h0M713.9 716.5h0M714.0 730.5h0M714.0 747.3h0M714.1 763.8h0M714.2 780.9h0M714.2 794.5h0M714.3 805.2h0M714.4 815.8h0M714.5 828.5h0M714.5 838.2h0M714.6 849.6h0M714.7 857.1h0M714.8 866.5h0M714.9 873.4h0M714.9 879.4h0M715.0 884.6h0M715.0 888.3h0M715.1 891.2h0M715.1 893.5h0M715.1 895.1h0M715.2 897.5h0M715.2 899.2h0M715.2 900.2h0M715.2 901.9h0M715.2 903.2h0M715.3 904.7h0M715.3 905.9h0M715.3 906.9h0M715.3 908.6h0M715.3 909.6h0M715.3 910.8h0M715.4 912.5h0M715.4 913.5h0M715.4 914.8h0M715.4 916.1h0M715.4 917.2h0M715.4 918.5h0M715.5 919.5h0M715.5 920.2h0M715.5 921.3h0M715.5 922.1h0M715.5 923.5h0M715.5 925.1h0M715.6 926.7h0M715.6 927.6h0M715.6 929.2h0M715.6 930.4h0M715.6 931.9h0M715.7 933.2h0M715.7 934.6h0M715.7 935.8h0M715.7 937.6h0M715.7 938.8h0M715.8 941.1h0M715.8 942.3h0M715.8 944.8h0M715.9 946.4h0M715.9 947.8h0M715.9 950.2h0M716.0 952.4h0M716.0 955.0h0M716.1 957.3h0M716.1 959.9h0M716.1 961.7h0M716.2 964.5h0M716.2 966.2h0M716.1 965.3h0M716.4 964.6h0M716.5 963.2h0M744.7 889.9h0M744.7 889.1h0M744.7 888.2h0M744.7 886.8h0M744.7 885.0h0M744.7 883.7h0M744.7 881.9h0M744.7 880.1h0M744.7 878.5h0M744.7 876.5h0M744.7 874.2h0M744.7 872.6h0M744.7 870.4h0M744.7 867.0h0M744.7 864.3h0M744.7 860.8h0M744.7 857.4h0M744.8 853.2h0M744.8 847.3h0M744.8 840.0h0M744.8 830.0h0M744.8 820.5h0M744.8 811.3h0M744.8 799.2h0M744.9 787.6h0M744.9 771.5h0M744.9 745.8h0M745.0 717.8h0M745.0 696.5h0M745.0 676.3h0M745.0 657.6h0M745.1 637.5h0M745.1 611.5h0M745.1 589.9h0M745.2 556.9h0M745.5 551.5h0M745.8 559.6h0M745.8 574.8h0M745.8 585.6h0M745.8 604.2h0M745.8 623.1h0M745.8 637.5h0M745.8 656.1h0M745.9 669.5h0M745.9 682.4h0M745.9 695.3h0M745.9 707.9h0M746.0 725.1h0M746.0 742.7h0M746.1 761.3h0M746.2 772.8h0M746.3 791.8h0M746.4 807.6h0M746.5 820.5h0M746.6 832.6h0M746.7 842.4h0M746.7 849.4h0M746.8 856.5h0M746.9 863.8h0M747.0 870.1h0M747.0 875.9h0M747.1 878.7h0M747.1 882.8h0M747.1 885.9h0M747.2 888.3h0M747.2 890.6h0M747.2 891.6h0M747.2 893.1h0M747.2 894.8h0M747.3 895.7h0M747.3 897.1h0M747.3 898.8h0M747.3 899.9h0M747.3 901.6h0M747.4 903.2h0M747.4 904.5h0M747.4 905.5h0M747.4 906.5h0M747.4 908.1h0M747.4 909.3h0M747.4 910.2h0M747.5 911.2h0M747.5 912.6h0M747.5 913.5h0M747.5 914.3h0M747.5 915.8h0M747.5 916.9h0M747.6 918.1h0M747.6 919.8h0M747.6 920.9h0M747.6 921.9h0M747.6 923.8h0M747.7 925.0h0M747.7 926.2h0M747.7 928.3h0M747.7 929.6h0M747.8 931.8h0M747.8 933.4h0M747.8 935.0h0M747.8 936.5h0M747.9 938.5h0M747.9 940.5h0M747.9 942.5h0M748.0 944.6h0M748.0 946.5h0M748.0 949.3h0M748.1 952.4h0M748.2 955.4h0M748.2 958.5h0M748.2 959.2h0M748.1 958.3h0M748.4 957.6h0M748.5 956.2h0M748.3 957.1h0M748.3 957.1h0M748.3 955.0h0M776.7 879.8h0M776.7 878.3h0M776.7 876.6h0M776.7 875.2h0M776.7 874.2h0M776.7 872.7h0M776.7 871.6h0M776.7 869.5h0M776.7 867.9h0M776.7 866.2h0M776.7 863.3h0M776.7 861.3h0M776.7 857.8h0M776.7 855.1h0M776.7 851.2h0M776.7 848.3h0M776.8 842.6h0M776.8 837.6h0M776.8 832.1h0M776.8 824.1h0M776.8 814.9h0M776.8 806.1h0M776.8 796.9h0M776.8 781.5h0M776.9 769.1h0M776.9 741.5h0M776.9 718.3h0M777.0 698.3h0M777.0 675.5h0M777.0 656.5h0M777.1 633.8h0M777.1 607.1h0M777.1 582.8h0M777.2 559.8h0M777.2 537.6h0M777.5 529.5h0M777.8 541.8h0M777.8 557.1h0M777.8 576.1h0M777.8 591.9h0M777.8 603.6h0M777.8 615.9h0M777.8 635.8h0M777.9 651.6h0M777.9 666.3h0M777.9 682.5h0M778.0 702.3h0M778.0 716.9h0M778.1 731.4h0M778.1 745.9h0M778.2 756.4h0M778.2 772.9h0M778.3 788.7h0M778.4 804.0h0M778.5 816.6h0M778.6 827.5h0M778.7 838.4h0M778.8 844.5h0M778.8 853.7h0M778.9 857.7h0M778.9 863.8h0M779.0 866.8h0M779.0 871.0h0M779.0 873.3h0M779.1 875.0h0M779.1 877.3h0M779.1 879.6h0M779.1 881.5h0M779.2 883.1h0M779.2 884.8h0M779.2 885.7h0M779.2 886.9h0M779.2 887.9h0M779.2 889.4h0M779.2 890.6h0M779.3 892.2h0M779.3 893.7h0M779.3 895.5h0M779.3 897.0h0M779.3 898.6h0M779.4 899.9h0M779.4 900.9h0M779.4 902.5h0M779.4 903.4h0M779.4 904.2h0M779.4 905.5h0M779.4 906.4h0M779.5 907.7h0M779.5 908.4h0M779.5 909.4h0M779.5 910.8h0M779.5 911.7h0M779.5 913.0h0M779.6 914.8h0M779.6 915.9h0M779.6 917.6h0M779.6 919.4h0M779.6 921.1h0M779.7 923.1h0M779.7 925.0h0M779.7 926.2h0M779.7 927.6h0M779.8 929.6h0M779.8 932.1h0M779.8 933.8h0M779.9 936.0h0M779.9 937.6h0M779.9 940.3h0M780.0 942.6h0M780.0 945.0h0M780.0 947.8h0M780.1 949.7h0M780.1 952.6h0M780.0 951.7h0M780.3 951.0h0M780.4 949.6h0M780.2 950.2h0M780.2 947.9h0M780.2 947.9h0M780.2 947.9h0M780.2 945.6h0M780.2 945.6h0M780.3 943.4h0M780.3 943.4h0M780.3 941.2h0M780.3 941.2h0M780.4 939.0h0M780.4 939.0h0M780.4 937.0h0M807.5 871.0h0M807.5 869.9h0M807.5 869.0h0M807.5 867.4h0M807.5 865.8h0M807.5 864.2h0M807.5 862.8h0M807.5 860.6h0M807.5 858.8h0M807.5 857.2h0M807.5 855.6h0M807.5 853.5h0M807.5 850.7h0M807.5 848.1h0M807.5 843.9h0M807.5 839.7h0M807.6 835.4h0M807.6 829.8h0M807.6 823.5h0M807.6 815.8h0M807.6 807.3h0M807.6 796.9h0M807.6 784.5h0M807.6 765.4h0M807.7 749.5h0M807.7 719.7h0M807.7 697.4h0M807.8 665.0h0M807.8 646.8h0M807.8 621.1h0M807.9 596.1h0M807.9 566.3h0M808.0 545.7h0M808.0 524.0h0M808.3 511.0h0M808.6 521.2h0M808.6 538.0h0M808.6 548.5h0M808.6 560.8h0M808.6 573.5h0M808.6 594.6h0M808.6 610.1h0M808.6 626.8h0M808.7 640.5h0M808.7 658.3h0M808.7 677.8h0M808.8 695.7h0M808.8 706.1h0M808.9 721.4h0M808.9 737.3h0M809.0 748.2h0M809.1 767.4h0M809.1 781.4h0M809.2 794.3h0M809.3 808.6h0M809.4 820.2h0M809.5 829.3h0M809.6 839.1h0M809.6 845.4h0M809.7 850.2h0M809.7 853.4h0M809.7 857.7h0M809.8 860.8h0M809.8 863.9h0M809.8 866.1h0M809.8 867.5h0M809.9 868.9h0M809.9 870.2h0M809.9 871.3h0M809.9 873.0h0M809.9 874.4h0M809.9 875.5h0M809.9 877.0h0M810.0 878.4h0M810.0 879.3h0M810.0 880.8h0M810.0 881.9h0M810.0 883.6h0M810.0 884.6h0M810.0 885.7h0M810.1 886.8h0M810.1 888.4h0M810.1 890.0h0M810.1 891.4h0M810.1 892.4h0M810.1 893.6h0M810.2 895.1h0M810.2 896.0h0M810.2 897.3h0M810.2 898.6h0M810.2 900.0h0M810.2 901.3h0M810.2 902.6h0M810.3 904.3h0M810.3 905.4h0M810.3 906.6h0M810.3 907.6h0M810.3 908.7h0M810.3 910.5h0M810.4 911.5h0M810.4 913.4h0M810.4 914.9h0M810.4 917.0h0M810.5 919.1h0M810.5 921.2h0M810.5 923.5h0M810.5 924.9h0M810.6 926.6h0M810.6 928.5h0M810.6 930.6h0M810.7 933.1h0M810.7 936.0h0M810.7 938.9h0M810.8 942.2h0M810.8 945.2h0M810.8 945.7h0M810.7 944.8h0M811.0 944.1h0M811.1 942.7h0M810.9 943.0h0M810.9 943.0h0M810.9 940.3h0M810.9 940.3h0M811.0 937.8h0M811.0 937.8h0M811.0 935.3h0M811.0 935.3h0M811.1 932.8h0M811.1 932.8h0M811.1 930.4h0M811.1 930.4h0M811.1 928.1h0M811.1 928.1h0M811.2 925.9h0M811.2 925.9h0M811.2 923.7h0M811.2 923.7h0M811.3 921.5h0M837.5 860.9h0M837.5 859.4h0M837.5 857.9h0M837.5 856.1h0M837.5 854.4h0M837.5 853.0h0M837.5 851.8h0M837.5 849.9h0M837.5 848.4h0M837.5 846.0h0M837.5 843.6h0M837.5 840.6h0M837.5 838.0h0M837.5 835.3h0M837.5 830.8h0M837.5 826.2h0M837.6 821.8h0M837.6 816.0h0M837.6 809.8h0M837.6 801.5h0M837.6 792.1h0M837.6 782.6h0M837.6 764.9h0M837.7 742.5h0M837.7 714.6h0M837.7 692.6h0M837.8 672.2h0M837.8 642.0h0M837.8 610.1h0M837.9 581.4h0M837.9 560.6h0M837.9 530.6h0M838.0 504.1h0M838.3 489.7h0M838.6 500.2h0M838.6 515.6h0M838.6 533.2h0M838.6 552.1h0M838.6 573.5h0M838.6 585.1h0M838.6 601.9h0M838.7 622.9h0M838.7 640.7h0M838.7 657.6h0M838.8 677.5h0M838.8 688.3h0M838.8 707.5h0M838.9 724.9h0M839.0 741.9h0M839.1 755.7h0M839.1 773.1h0M839.2 783.9h0M839.3 797.2h0M839.4 806.3h0M839.5 818.9h0M839.5 828.3h0M839.6 834.5h0M839.6 840.8h0M839.7 844.9h0M839.7 848.7h0M839.7 851.2h0M839.8 854.7h0M839.8 857.5h0M839.8 859.7h0M839.8 860.8h0M839.8 862.5h0M839.9 863.4h0M839.9 864.7h0M839.9 866.0h0M839.9 866.9h0M839.9 868.1h0M839.9 869.8h0M839.9 871.2h0M839.9 872.3h0M840.0 873.9h0M840.0 875.1h0M840.0 876.7h0M840.0 878.0h0M840.0 878.9h0M840.0 880.6h0M840.0 881.5h0M840.1 882.6h0M840.1 884.1h0M840.1 885.1h0M840.1 886.4h0M840.1 888.0h0M840.1 889.4h0M840.1 890.4h0M840.2 891.6h0M840.2 893.0h0M840.2 894.3h0M840.2 895.6h0M840.2 896.7h0M840.2 898.0h0M840.3 899.8h0M840.3 901.7h0M840.3 902.7h0M840.3 903.9h0M840.3 905.1h0M840.3 907.1h0M840.4 908.4h0M840.4 909.8h0M840.4 911.9h0M840.4 913.3h0M840.5 915.9h0M840.5 917.8h0M840.5 920.5h0M840.6 923.1h0M840.6 924.9h0M840.6 927.8h0M840.7 930.1h0M840.7 932.1h0M840.7 933.9h0M840.7 936.9h0M840.8 938.1h0M840.7 937.2h0M840.9 936.5h0M841.1 935.1h0M840.8 935.1h0M840.8 935.1h0M840.8 932.2h0M840.8 932.2h0M840.9 929.5h0M840.9 929.5h0M840.9 926.8h0M840.9 926.8h0M841.0 924.1h0M841.0 924.1h0M841.0 921.6h0M841.0 921.6h0M841.0 919.1h0M841.0 919.1h0M841.0 919.1h0M841.1 916.7h0M841.1 916.7h0M841.1 914.3h0M841.1 914.3h0M841.2 912.0h0M841.2 912.0h0M841.2 909.8h0M866.5 853.3h0M866.5 851.8h0M866.5 850.2h0M866.5 848.6h0M866.5 846.9h0M866.5 845.3h0M866.5 843.3h0M866.5 841.2h0M866.5 839.2h0M866.5 837.1h0M866.5 835.6h0M866.5 833.8h0M866.5 831.5h0M866.5 828.6h0M866.5 826.1h0M866.5 821.1h0M866.5 816.5h0M866.6 810.5h0M866.6 802.7h0M866.6 796.6h0M866.6 785.6h0M866.6 771.2h0M866.6 759.3h0M866.6 746.7h0M866.7 722.1h0M866.7 689.0h0M866.8 657.6h0M866.8 633.2h0M866.8 605.4h0M866.8 586.4h0M866.9 565.2h0M866.9 540.7h0M866.9 510.3h0M867.0 491.8h0M867.3 468.0h0M867.6 473.1h0M867.6 494.3h0M867.6 507.4h0M867.6 527.0h0M867.6 546.5h0M867.6 567.6h0M867.6 583.3h0M867.6 601.5h0M867.7 615.2h0M867.7 634.9h0M867.7 646.5h0M867.8 666.8h0M867.8 683.9h0M867.8 695.0h0M867.9 715.9h0M868.0 729.8h0M868.0 741.0h0M868.1 754.3h0M868.1 765.0h0M868.2 777.5h0M868.3 792.2h0M868.4 806.5h0M868.5 815.7h0M868.5 824.5h0M868.6 831.5h0M868.7 836.9h0M868.7 840.4h0M868.7 843.1h0M868.7 845.3h0M868.7 848.0h0M868.8 849.7h0M868.8 851.9h0M868.8 853.3h0M868.8 854.7h0M868.8 856.1h0M868.8 857.5h0M868.8 858.5h0M868.9 859.6h0M868.9 861.0h0M868.9 862.1h0M868.9 863.5h0M868.9 865.2h0M868.9 866.4h0M868.9 868.2h0M869.0 869.6h0M869.0 871.3h0M869.0 872.6h0M869.0 874.1h0M869.0 875.6h0M869.0 876.6h0M869.0 877.9h0M869.1 879.3h0M869.1 880.6h0M869.1 882.0h0M869.1 883.4h0M869.1 884.7h0M869.1 886.0h0M869.1 886.9h0M869.2 888.3h0M869.2 889.7h0M869.2 891.4h0M869.2 892.3h0M869.2 893.4h0M869.2 895.4h0M869.3 896.7h0M869.3 898.5h0M869.3 900.3h0M869.3 901.9h0M869.3 903.6h0M869.4 905.5h0M869.4 908.0h0M869.4 910.1h0M869.4 912.6h0M869.5 914.4h0M869.5 917.0h0M869.5 919.5h0M869.6 922.3h0M869.6 925.5h0M869.6 927.4h0M869.7 931.0h0M869.7 931.1h0M869.6 930.2h0M869.8 929.5h0M870.0 928.1h0M869.7 927.7h0M869.7 927.7h0M869.8 924.4h0M869.8 924.4h0M869.8 921.3h0M869.8 921.3h0M869.8 918.2h0M869.8 918.2h0M869.8 918.2h0M869.9 915.2h0M869.9 915.2h0M869.9 912.3h0M869.9 912.3h0M870.0 909.6h0M870.0 909.6h0M870.0 909.6h0M870.0 906.8h0M870.0 906.8h0M870.0 904.2h0M870.0 904.2h0M870.0 904.2h0M870.1 901.7h0M870.1 901.7h0M870.1 899.2h0M894.5 842.3h0M894.5 840.7h0M894.5 839.2h0M894.5 838.2h0M894.5 837.3h0M894.5 835.4h0M894.5 834.0h0M894.5 832.8h0M894.5 831.4h0M894.5 829.3h0M894.5 827.7h0M894.5 825.6h0M894.5 822.9h0M894.5 820.4h0M894.5 817.1h0M894.5 812.5h0M894.5 807.6h0M894.6 802.4h0M894.6 796.2h0M894.6 790.4h0M894.6 781.9h0M894.6 771.6h0M894.6 759.3h0M894.6 745.0h0M894.7 724.0h0M894.7 705.4h0M894.7 675.5h0M894.8 640.8h0M894.8 623.2h0M894.8 601.7h0M894.8 566.9h0M894.9 548.5h0M894.9 516.7h0M894.9 489.2h0M895.0 471.1h0M895.3 447.0h0M895.6 451.9h0M895.6 471.8h0M895.6 485.6h0M895.6 506.3h0M895.6 526.8h0M895.6 538.7h0M895.6 553.6h0M895.6 565.7h0M895.6 584.6h0M895.7 596.1h0M895.7 607.3h0M895.7 619.0h0M895.7 639.0h0M895.8 652.2h0M895.8 666.2h0M895.8 681.6h0M895.9 698.2h0M896.0 713.2h0M896.0 734.2h0M896.1 748.4h0M896.2 763.7h0M896.3 780.3h0M896.4 789.1h0M896.4 796.4h0M896.5 806.6h0M896.5 812.5h0M896.6 820.0h0M896.6 825.8h0M896.6 829.4h0M896.7 832.3h0M896.7 834.4h0M896.7 837.7h0M896.7 839.7h0M896.7 841.3h0M896.8 842.5h0M896.8 843.6h0M896.8 845.2h0M896.8 846.2h0M896.8 847.5h0M896.8 848.9h0M896.8 850.2h0M896.8 851.6h0M896.9 852.8h0M896.9 853.8h0M896.9 855.4h0M896.9 857.0h0M896.9 858.4h0M896.9 859.5h0M896.9 861.1h0M896.9 862.2h0M897.0 863.2h0M897.0 864.6h0M897.0 866.2h0M897.0 867.5h0M897.0 868.5h0M897.0 870.2h0M897.0 871.2h0M897.0 872.4h0M897.1 874.1h0M897.1 875.4h0M897.1 876.6h0M897.1 877.4h0M897.1 878.8h0M897.1 879.9h0M897.1 880.8h0M897.1 882.3h0M897.2 884.0h0M897.2 885.0h0M897.2 886.4h0M897.2 888.3h0M897.2 889.7h0M897.2 891.0h0M897.3 893.0h0M897.3 894.7h0M897.3 897.1h0M897.3 899.5h0M897.4 902.0h0M897.4 904.3h0M897.4 906.0h0M897.4 908.5h0M897.5 911.0h0M897.5 913.4h0M897.5 916.0h0M897.6 918.2h0M897.6 920.3h0M897.6 923.5h0M897.5 922.6h0M897.8 921.9h0M897.9 920.5h0M897.7 919.7h0M897.7 919.7h0M897.7 916.0h0M897.7 916.0h0M897.7 912.4h0M897.7 912.4h0M897.7 912.4h0M897.8 909.0h0M897.8 909.0h0M897.8 905.7h0M897.8 905.7h0M897.9 902.5h0M897.9 902.5h0M897.9 902.5h0M897.9 899.5h0M897.9 899.5h0M897.9 899.5h0M897.9 896.5h0M897.9 896.5h0M898.0 893.6h0M898.0 893.6h0M898.0 893.6h0M898.0 890.9h0M921.9 832.4h0M921.9 831.5h0M921.9 830.4h0M921.9 828.7h0M921.9 827.3h0M921.9 826.1h0M921.9 824.0h0M921.9 822.8h0M921.9 821.5h0M921.9 820.2h0M921.9 818.3h0M921.9 815.5h0M921.9 813.4h0M921.9 811.0h0M921.9 807.4h0M921.9 805.0h0M921.9 802.4h0M921.9 797.8h0M921.9 794.4h0M922.0 788.9h0M922.0 784.2h0M922.0 776.5h0M922.0 765.9h0M922.0 755.5h0M922.0 744.6h0M922.0 727.7h0M922.1 705.0h0M922.1 687.1h0M922.1 665.8h0M922.1 642.1h0M922.2 616.0h0M922.2 594.1h0M922.2 565.2h0M922.3 543.7h0M922.3 510.3h0M922.3 487.0h0M922.3 466.1h0M922.4 447.7h0M922.4 428.5h0M922.7 425.0h0M923.0 438.3h0M923.0 453.3h0M923.0 468.7h0M923.0 489.9h0M923.0 511.1h0M923.0 530.1h0M923.0 543.1h0M923.0 557.2h0M923.1 573.3h0M923.1 586.6h0M923.1 600.8h0M923.1 613.6h0M923.1 626.7h0M923.2 645.5h0M923.2 662.7h0M923.3 678.1h0M923.3 693.8h0M923.4 711.0h0M923.5 729.1h0M923.5 739.7h0M923.6 758.8h0M923.7 771.0h0M923.7 780.5h0M923.8 792.7h0M923.9 801.4h0M923.9 806.9h0M923.9 810.4h0M924.0 815.0h0M924.0 818.9h0M924.0 822.0h0M924.1 824.2h0M924.1 827.0h0M924.1 828.9h0M924.1 831.2h0M924.1 832.9h0M924.1 834.1h0M924.1 835.7h0M924.2 836.9h0M924.2 837.8h0M924.2 838.9h0M924.2 839.8h0M924.2 841.1h0M924.2 842.7h0M924.2 844.4h0M924.2 845.9h0M924.2 846.9h0M924.3 847.9h0M924.3 849.0h0M924.3 850.1h0M924.3 851.6h0M924.3 852.4h0M924.3 853.7h0M924.3 855.0h0M924.3 856.4h0M924.3 858.0h0M924.4 859.2h0M924.4 860.6h0M924.4 861.7h0M924.4 862.9h0M924.4 864.4h0M924.4 865.3h0M924.4 866.6h0M924.4 867.6h0M924.4 868.4h0M924.5 869.3h0M924.5 870.7h0M924.5 871.8h0M924.5 872.7h0M924.5 873.8h0M924.5 875.1h0M924.5 876.4h0M924.5 877.6h0M924.5 878.9h0M924.6 880.1h0M924.6 881.6h0M924.6 883.3h0M924.6 884.5h0M924.6 886.3h0M924.6 887.8h0M924.7 890.3h0M924.7 892.8h0M924.7 894.3h0M924.7 896.7h0M924.8 898.6h0M924.8 900.3h0M924.8 903.2h0M924.8 906.3h0M924.9 909.3h0M924.9 912.3h0M925.0 915.9h0M925.0 916.0h0M924.9 915.1h0M925.1 914.4h0M925.3 913.0h0M925.0 911.9h0M925.0 911.9h0M925.0 907.9h0M925.0 907.9h0M925.1 904.1h0M925.1 904.1h0M925.1 900.4h0M925.1 900.4h0M925.1 900.4h0M925.2 896.9h0M925.2 896.9h0M925.2 893.4h0M925.2 893.4h0M925.2 893.4h0M925.2 890.2h0M925.2 890.2h0M925.2 890.2h0M925.3 887.0h0M925.3 887.0h0M925.3 883.9h0M925.3 883.9h0M925.3 883.9h0M925.4 881.0h0M948.5 822.2h0M948.5 821.3h0M948.5 819.8h0M948.5 818.5h0M948.5 817.2h0M948.5 815.5h0M948.5 813.9h0M948.5 812.2h0M948.5 810.7h0M948.5 808.8h0M948.5 807.4h0M948.5 805.5h0M948.5 802.5h0M948.5 800.5h0M948.5 798.3h0M948.5 794.2h0M948.5 790.7h0M948.5 786.2h0M948.6 780.9h0M948.6 774.2h0M948.6 768.0h0M948.6 758.3h0M948.6 751.7h0M948.6 737.4h0M948.6 724.7h0M948.6 705.3h0M948.7 685.4h0M948.7 654.9h0M948.7 631.1h0M948.8 603.2h0M948.8 580.5h0M948.8 548.5h0M948.9 517.4h0M948.9 496.9h0M948.9 466.2h0M949.0 432.1h0M949.0 410.9h0M949.3 404.0h0M949.6 417.7h0M949.6 438.9h0M949.6 450.8h0M949.6 469.9h0M949.6 490.7h0M949.6 504.0h0M949.6 523.2h0M949.6 536.9h0M949.6 556.1h0M949.7 572.2h0M949.7 587.9h0M949.7 599.7h0M949.7 617.4h0M949.8 635.7h0M949.8 649.3h0M949.8 660.2h0M949.9 671.6h0M949.9 684.9h0M950.0 706.5h0M950.1 725.2h0M950.2 745.6h0M950.2 760.7h0M950.3 768.6h0M950.3 777.3h0M950.4 788.0h0M950.5 796.2h0M950.5 803.3h0M950.5 808.5h0M950.6 812.5h0M950.6 815.9h0M950.6 819.0h0M950.6 820.8h0M950.6 821.9h0M950.6 823.2h0M950.7 824.0h0M950.7 825.1h0M950.7 826.5h0M950.7 827.6h0M950.7 828.7h0M950.7 829.6h0M950.7 830.8h0M950.7 832.1h0M950.7 833.5h0M950.7 835.2h0M950.7 836.1h0M950.8 837.2h0M950.8 838.1h0M950.8 839.8h0M950.8 841.2h0M950.8 842.6h0M950.8 844.2h0M950.8 845.1h0M950.8 846.7h0M950.8 847.9h0M950.9 849.3h0M950.9 850.5h0M950.9 852.0h0M950.9 853.2h0M950.9 854.2h0M950.9 855.3h0M950.9 856.8h0M950.9 858.1h0M950.9 859.1h0M950.9 860.0h0M951.0 861.1h0M951.0 862.1h0M951.0 863.3h0M951.0 864.7h0M951.0 866.1h0M951.0 867.6h0M951.0 868.8h0M951.0 870.5h0M951.1 872.4h0M951.1 873.9h0M951.1 875.0h0M951.1 876.2h0M951.1 878.1h0M951.1 880.3h0M951.2 882.4h0M951.2 884.4h0M951.2 886.4h0M951.2 887.9h0M951.2 890.2h0M951.3 893.2h0M951.3 895.1h0M951.3 897.6h0M951.3 900.8h0M951.4 903.7h0M951.4 906.1h0M951.4 908.4h0M951.4 908.9h0M951.3 908.0h0M951.6 907.3h0M951.7 905.9h0M951.5 904.5h0M951.5 904.5h0M951.5 900.2h0M951.5 900.2h0M951.5 896.1h0M951.5 896.1h0M951.6 892.2h0M951.6 892.2h0M951.6 892.2h0M951.6 888.4h0M951.6 888.4h0M951.6 888.4h0M951.7 884.8h0M951.7 884.8h0M951.7 884.8h0M951.7 881.3h0M951.7 881.3h0M951.7 881.3h0M951.7 877.9h0M951.7 877.9h0M951.7 877.9h0M951.8 874.7h0M951.8 874.7h0M951.8 871.6h0M973.5 814.1h0M973.5 813.0h0M973.5 812.0h0M973.5 810.3h0M973.5 808.7h0M973.5 807.2h0M973.5 805.6h0M973.5 803.8h0M973.5 802.2h0M973.5 800.9h0M973.5 798.7h0M973.5 795.8h0M973.5 793.9h0M973.5 790.2h0M973.5 787.2h0M973.5 782.3h0M973.5 777.1h0M973.5 772.8h0M973.6 768.2h0M973.6 759.9h0M973.6 749.1h0M973.6 736.8h0M973.6 723.3h0M973.6 706.9h0M973.7 682.9h0M973.7 651.0h0M973.7 618.9h0M973.8 596.8h0M973.8 564.8h0M973.8 530.6h0M973.9 503.2h0M973.9 486.2h0M973.9 465.8h0M973.9 437.1h0M974.0 412.4h0M974.3 381.0h0M974.6 392.0h0M974.6 410.2h0M974.6 422.3h0M974.6 438.6h0M974.6 456.9h0M974.6 477.6h0M974.6 498.1h0M974.6 511.4h0M974.6 527.5h0M974.7 548.8h0M974.7 560.2h0M974.7 571.4h0M974.7 583.9h0M974.7 602.5h0M974.8 616.5h0M974.8 634.8h0M974.9 654.5h0M974.9 673.9h0M975.0 684.8h0M975.0 702.9h0M975.1 722.2h0M975.2 739.3h0M975.3 754.9h0M975.3 767.3h0M975.4 776.3h0M975.5 785.1h0M975.5 790.9h0M975.5 794.4h0M975.5 798.1h0M975.6 803.0h0M975.6 805.7h0M975.6 808.3h0M975.6 811.2h0M975.6 813.3h0M975.7 815.1h0M975.7 816.4h0M975.7 817.7h0M975.7 818.6h0M975.7 819.7h0M975.7 820.7h0M975.7 822.0h0M975.7 823.3h0M975.7 824.2h0M975.7 825.6h0M975.7 826.6h0M975.8 827.8h0M975.8 828.6h0M975.8 829.9h0M975.8 830.9h0M975.8 832.6h0M975.8 833.8h0M975.8 835.4h0M975.8 836.6h0M975.8 837.8h0M975.8 839.4h0M975.9 840.5h0M975.9 841.8h0M975.9 843.2h0M975.9 845.0h0M975.9 846.4h0M975.9 847.3h0M975.9 848.6h0M975.9 850.3h0M975.9 851.9h0M976.0 853.1h0M976.0 853.9h0M976.0 854.8h0M976.0 856.1h0M976.0 857.0h0M976.0 858.5h0M976.0 859.6h0M976.0 861.0h0M976.0 862.6h0M976.1 863.7h0M976.1 865.2h0M976.1 866.8h0M976.1 868.2h0M976.1 869.8h0M976.1 871.7h0M976.1 874.0h0M976.2 875.6h0M976.2 877.1h0M976.2 879.1h0M976.2 881.3h0M976.2 883.4h0M976.3 886.3h0M976.3 888.2h0M976.3 890.6h0M976.3 893.1h0M976.4 895.2h0M976.4 897.8h0M976.4 900.5h0M976.4 902.1h0M976.3 901.2h0M976.6 900.5h0M976.7 899.1h0M976.5 897.3h0M976.5 897.3h0M976.5 892.7h0M976.5 892.7h0M976.5 888.3h0M976.5 888.3h0M976.5 888.3h0M976.6 884.1h0M976.6 884.1h0M976.6 880.0h0M976.6 880.0h0M976.6 880.0h0M976.7 876.1h0M976.7 876.1h0M976.7 876.1h0M976.7 872.4h0M976.7 872.4h0M976.7 872.4h0M976.7 868.8h0M976.7 868.8h0M976.7 868.8h0M976.7 868.8h0M976.8 865.3h0M998.5 805.4h0M998.5 804.6h0M998.5 803.0h0M998.5 801.4h0M998.5 799.8h0M998.5 798.5h0M998.5 797.0h0M998.5 795.3h0M998.5 793.2h0M998.5 791.6h0M998.5 789.5h0M998.5 787.1h0M998.5 784.0h0M998.5 781.4h0M998.5 779.3h0M998.5 776.1h0M998.5 771.3h0M998.5 767.8h0M998.5 762.3h0M998.6 757.9h0M998.6 752.3h0M998.6 744.0h0M998.6 737.4h0M998.6 727.2h0M998.6 713.8h0M998.6 699.3h0M998.6 676.6h0M998.7 645.2h0M998.7 623.2h0M998.7 592.5h0M998.8 561.8h0M998.8 534.1h0M998.8 506.4h0M998.9 479.2h0M998.9 448.8h0M998.9 419.3h0M999.0 397.5h0M999.0 368.8h0M999.3 358.7h0M999.6 367.9h0M999.6 388.4h0M999.6 402.3h0M999.6 418.9h0M999.6 435.6h0M999.6 452.8h0M999.6 465.3h0M999.6 483.1h0M999.6 494.8h0M999.6 511.2h0M999.7 526.7h0M999.7 544.9h0M999.7 564.9h0M999.7 586.3h0M999.8 599.3h0M999.8 619.9h0M999.9 635.5h0M999.9 651.6h0M999.9 662.4h0M1000.0 682.5h0M1000.1 695.4h0M1000.1 708.9h0M1000.2 722.2h0M1000.2 733.1h0M1000.3 743.1h0M1000.3 752.0h0M1000.4 761.3h0M1000.4 768.2h0M1000.5 776.2h0M1000.5 783.5h0M1000.5 789.4h0M1000.6 792.7h0M1000.6 796.3h0M1000.6 799.4h0M1000.6 802.0h0M1000.6 803.7h0M1000.7 805.0h0M1000.7 806.6h0M1000.7 808.1h0M1000.7 809.2h0M1000.7 810.7h0M1000.7 811.6h0M1000.7 813.2h0M1000.7 814.8h0M1000.7 816.6h0M1000.7 817.5h0M1000.8 819.0h0M1000.8 820.5h0M1000.8 821.5h0M1000.8 822.9h0M1000.8 823.9h0M1000.8 825.0h0M1000.8 825.8h0M1000.8 826.9h0M1000.8 828.6h0M1000.8 829.9h0M1000.9 831.5h0M1000.9 833.2h0M1000.9 834.2h0M1000.9 835.8h0M1000.9 837.5h0M1000.9 838.9h0M1000.9 840.1h0M1000.9 841.1h0M1000.9 842.3h0M1001.0 843.5h0M1001.0 844.6h0M1001.0 846.1h0M1001.0 847.2h0M1001.0 848.1h0M1001.0 849.0h0M1001.0 850.2h0M1001.0 851.6h0M1001.0 853.0h0M1001.0 854.5h0M1001.1 856.2h0M1001.1 858.0h0M1001.1 859.4h0M1001.1 861.3h0M1001.1 863.2h0M1001.1 864.7h0M1001.1 866.1h0M1001.2 867.8h0M1001.2 870.0h0M1001.2 872.4h0M1001.2 874.2h0M1001.2 876.4h0M1001.3 878.0h0M1001.3 880.5h0M1001.3 882.9h0M1001.3 885.9h0M1001.4 889.2h0M1001.4 891.1h0M1001.4 894.7h0M1001.3 893.8h0M1001.6 893.1h0M1001.7 891.7h0M1001.5 889.5h0M1001.5 889.5h0M1001.5 884.6h0M1001.5 884.6h0M1001.5 879.9h0M1001.5 879.9h0M1001.5 879.9h0M1001.6 875.4h0M1001.6 875.4h0M1001.6 875.4h0M1001.6 871.0h0M1001.6 871.0h0M1001.6 871.0h0M1001.7 866.9h0M1001.7 866.9h0M1001.7 866.9h0M1001.7 862.9h0M1001.7 862.9h0M1001.7 862.9h0M1001.7 859.1h0M1001.7 859.1h0M1001.7 859.1h0M1001.8 855.4h0M1023.5 795.9h0M1023.5 794.5h0M1023.5 793.6h0M1023.5 792.6h0M1023.5 791.7h0M1023.5 790.4h0M1023.5 788.6h0M1023.5 786.9h0M1023.5 785.1h0M1023.5 782.7h0M1023.5 780.2h0M1023.5 778.3h0M1023.5 776.3h0M1023.5 773.6h0M1023.5 771.1h0M1023.5 767.7h0M1023.5 765.0h0M1023.5 761.3h0M1023.5 756.0h0M1023.5 751.6h0M1023.6 747.0h0M1023.6 739.0h0M1023.6 732.5h0M1023.6 720.4h0M1023.6 707.6h0M1023.6 688.9h0M1023.6 669.2h0M1023.7 645.1h0M1023.7 623.5h0M1023.7 605.5h0M1023.7 571.3h0M1023.8 550.4h0M1023.8 532.0h0M1023.8 498.1h0M1023.9 471.5h0M1023.9 444.0h0M1023.9 410.4h0M1024.0 380.2h0M1024.0 358.5h0M1024.0 336.5h0M1024.3 336.0h0M1024.6 347.3h0M1024.6 360.3h0M1024.6 373.5h0M1024.6 389.6h0M1024.6 400.6h0M1024.6 420.0h0M1024.6 437.8h0M1024.6 449.9h0M1024.6 466.8h0M1024.6 483.8h0M1024.6 495.2h0M1024.7 510.4h0M1024.7 529.7h0M1024.7 545.2h0M1024.7 563.7h0M1024.7 576.7h0M1024.8 598.3h0M1024.8 616.2h0M1024.9 632.9h0M1024.9 643.4h0M1024.9 657.8h0M1025.0 668.2h0M1025.0 683.5h0M1025.1 695.9h0M1025.1 708.7h0M1025.2 720.6h0M1025.2 729.7h0M1025.3 738.9h0M1025.3 748.4h0M1025.3 754.5h0M1025.4 762.1h0M1025.4 770.2h0M1025.5 776.1h0M1025.5 781.6h0M1025.5 784.1h0M1025.5 787.5h0M1025.5 789.6h0M1025.6 792.6h0M1025.6 794.5h0M1025.6 796.3h0M1025.6 797.9h0M1025.6 798.9h0M1025.6 799.8h0M1025.6 801.4h0M1025.6 803.0h0M1025.6 804.2h0M1025.6 805.1h0M1025.6 806.0h0M1025.7 807.6h0M1025.7 809.0h0M1025.7 810.2h0M1025.7 811.7h0M1025.7 813.3h0M1025.7 814.1h0M1025.7 815.6h0M1025.7 817.4h0M1025.7 819.0h0M1025.7 820.7h0M1025.8 821.9h0M1025.8 823.3h0M1025.8 824.2h0M1025.8 825.8h0M1025.8 827.3h0M1025.8 828.5h0M1025.8 829.4h0M1025.8 830.4h0M1025.8 831.6h0M1025.8 833.3h0M1025.9 834.5h0M1025.9 836.2h0M1025.9 837.2h0M1025.9 838.0h0M1025.9 838.9h0M1025.9 839.8h0M1025.9 841.1h0M1025.9 842.2h0M1025.9 843.3h0M1025.9 844.7h0M1025.9 846.0h0M1026.0 847.7h0M1026.0 849.3h0M1026.0 851.2h0M1026.0 852.7h0M1026.0 854.3h0M1026.0 855.9h0M1026.0 858.3h0M1026.1 860.8h0M1026.1 862.8h0M1026.1 864.9h0M1026.1 866.4h0M1026.1 869.2h0M1026.2 871.7h0M1026.2 874.0h0M1026.2 875.9h0M1026.2 878.5h0M1026.2 881.6h0M1026.3 883.9h0M1026.3 886.4h0M1026.3 886.9h0M1026.2 886.0h0M1026.4 885.3h0M1026.6 883.9h0M1026.3 881.4h0M1026.3 881.4h0M1026.4 876.2h0M1026.4 876.2h0M1026.4 876.2h0M1026.4 871.2h0M1026.4 871.2h0M1026.4 871.2h0M1026.4 866.4h0M1026.4 866.4h0M1026.4 866.4h0M1026.5 861.8h0M1026.5 861.8h0M1026.5 861.8h0M1026.5 857.4h0M1026.5 857.4h0M1026.5 857.4h0M1026.6 853.2h0M1026.6 853.2h0M1026.6 853.2h0M1026.6 853.2h0M1026.6 849.2h0M1026.6 849.2h0M1026.6 849.2h0M1026.6 849.2h0M1026.6 845.3h0M1046.9 787.3h0M1046.9 786.2h0M1046.9 785.2h0M1046.9 784.3h0M1046.9 782.9h0M1046.9 781.3h0M1046.9 780.3h0M1046.9 779.0h0M1046.9 777.1h0M1046.9 775.0h0M1046.9 773.6h0M1046.9 770.8h0M1046.9 768.1h0M1046.9 765.1h0M1046.9 762.5h0M1046.9 758.2h0M1046.9 754.6h0M1046.9 750.0h0M1046.9 743.4h0M1047.0 736.1h0M1047.0 730.5h0M1047.0 724.6h0M1047.0 717.2h0M1047.0 709.4h0M1047.0 693.9h0M1047.0 677.8h0M1047.0 658.7h0M1047.1 636.5h0M1047.1 610.5h0M1047.1 585.7h0M1047.1 555.6h0M1047.2 531.1h0M1047.2 498.4h0M1047.2 466.1h0M1047.3 433.4h0M1047.3 402.9h0M1047.3 382.8h0M1047.4 358.3h0M1047.4 326.1h0M1047.7 312.3h0M1048.0 322.6h0M1048.0 335.4h0M1048.0 355.0h0M1048.0 369.1h0M1048.0 383.6h0M1048.0 403.1h0M1048.0 414.5h0M1048.0 425.0h0M1048.0 440.2h0M1048.0 455.6h0M1048.0 467.2h0M1048.0 482.0h0M1048.1 501.0h0M1048.1 521.3h0M1048.1 542.0h0M1048.1 561.3h0M1048.2 572.6h0M1048.2 587.1h0M1048.2 602.5h0M1048.3 613.2h0M1048.3 632.4h0M1048.3 645.9h0M1048.4 665.0h0M1048.5 683.0h0M1048.5 696.4h0M1048.6 708.9h0M1048.6 720.9h0M1048.7 729.3h0M1048.7 735.5h0M1048.8 743.7h0M1048.8 749.8h0M1048.8 755.3h0M1048.9 762.4h0M1048.9 768.1h0M1048.9 771.9h0M1048.9 774.3h0M1048.9 778.1h0M1049.0 780.4h0M1049.0 782.1h0M1049.0 784.6h0M1049.0 786.9h0M1049.0 788.1h0M1049.0 789.5h0M1049.0 791.1h0M1049.0 792.4h0M1049.0 793.6h0M1049.1 794.6h0M1049.1 795.5h0M1049.1 797.1h0M1049.1 798.7h0M1049.1 799.7h0M1049.1 801.1h0M1049.1 802.2h0M1049.1 803.7h0M1049.1 804.9h0M1049.1 806.3h0M1049.1 807.7h0M1049.1 808.6h0M1049.2 810.0h0M1049.2 811.4h0M1049.2 812.3h0M1049.2 813.2h0M1049.2 814.3h0M1049.2 815.8h0M1049.2 817.5h0M1049.2 818.7h0M1049.2 820.4h0M1049.2 821.9h0M1049.2 823.0h0M1049.3 824.2h0M1049.3 825.8h0M1049.3 827.1h0M1049.3 828.4h0M1049.3 829.9h0M1049.3 830.7h0M1049.3 831.7h0M1049.3 832.9h0M1049.3 834.1h0M1049.3 835.4h0M1049.3 836.5h0M1049.4 837.8h0M1049.4 839.1h0M1049.4 840.2h0M1049.4 841.9h0M1049.4 844.0h0M1049.4 845.7h0M1049.4 847.3h0M1049.4 848.9h0M1049.5 850.6h0M1049.5 852.4h0M1049.5 854.0h0M1049.5 856.7h0M1049.5 858.7h0M1049.5 860.5h0M1049.6 863.1h0M1049.6 864.7h0M1049.6 866.9h0M1049.6 869.6h0M1049.7 873.0h0M1049.7 875.4h0M1049.7 877.5h0M1049.7 879.1h0M1049.6 878.2h0M1049.9 877.5h0M1050.0 876.1h0M1049.7 873.2h0M1049.7 873.2h0M1049.8 867.7h0M1049.8 867.7h0M1049.8 867.7h0M1049.8 862.3h0M1049.8 862.3h0M1049.8 862.3h0M1049.9 857.2h0M1049.9 857.2h0M1049.9 857.2h0M1049.9 852.4h0M1049.9 852.4h0M1049.9 852.4h0M1049.9 847.7h0M1049.9 847.7h0M1049.9 847.7h0M1050.0 843.3h0M1050.0 843.3h0M1050.0 843.3h0M1050.0 843.3h0M1050.0 839.1h0M1070.5 778.5h0M1070.5 777.3h0M1070.5 775.7h0M1070.5 774.3h0M1070.5 773.4h0M1070.5 772.3h0M1070.5 770.8h0M1070.5 769.4h0M1070.5 768.3h0M1070.5 766.1h0M1070.5 764.4h0M1070.5 761.8h0M1070.5 759.7h0M1070.5 757.7h0M1070.5 755.1h0M1070.5 751.4h0M1070.5 747.0h0M1070.5 742.8h0M1070.5 739.0h0M1070.5 733.7h0M1070.6 728.8h0M1070.6 722.7h0M1070.6 717.6h0M1070.6 711.9h0M1070.6 699.2h0M1070.6 684.7h0M1070.6 672.0h0M1070.6 652.2h0M1070.6 636.3h0M1070.7 604.3h0M1070.7 576.3h0M1070.7 546.3h0M1070.8 521.6h0M1070.8 496.7h0M1070.8 465.0h0M1070.8 442.3h0M1070.9 424.0h0M1070.9 405.0h0M1070.9 371.4h0M1070.9 349.4h0M1071.0 331.4h0M1071.0 304.2h0M1071.3 289.3h0M1071.6 298.2h0M1071.6 317.3h0M1071.6 330.3h0M1071.6 345.4h0M1071.6 366.2h0M1071.6 386.4h0M1071.6 406.5h0M1071.6 417.3h0M1071.6 438.6h0M1071.6 455.3h0M1071.6 467.4h0M1071.7 488.8h0M1071.7 500.6h0M1071.7 522.0h0M1071.7 532.8h0M1071.7 544.0h0M1071.8 559.7h0M1071.8 576.9h0M1071.8 593.9h0M1071.9 613.5h0M1071.9 625.1h0M1072.0 643.6h0M1072.0 657.6h0M1072.1 678.7h0M1072.1 695.1h0M1072.2 709.7h0M1072.2 717.7h0M1072.3 730.3h0M1072.3 737.1h0M1072.3 742.8h0M1072.4 748.7h0M1072.4 755.3h0M1072.4 759.3h0M1072.5 763.2h0M1072.5 767.0h0M1072.5 769.4h0M1072.5 771.3h0M1072.5 773.6h0M1072.5 775.9h0M1072.5 777.9h0M1072.5 779.1h0M1072.5 780.5h0M1072.6 782.1h0M1072.6 783.6h0M1072.6 784.6h0M1072.6 785.5h0M1072.6 787.2h0M1072.6 788.7h0M1072.6 789.8h0M1072.6 791.3h0M1072.6 792.7h0M1072.6 794.1h0M1072.6 795.3h0M1072.6 796.8h0M1072.7 798.0h0M1072.7 799.1h0M1072.7 800.3h0M1072.7 801.8h0M1072.7 803.4h0M1072.7 804.5h0M1072.7 805.5h0M1072.7 806.5h0M1072.7 808.1h0M1072.7 809.2h0M1072.7 810.1h0M1072.7 811.7h0M1072.7 812.9h0M1072.8 813.8h0M1072.8 815.4h0M1072.8 816.7h0M1072.8 818.3h0M1072.8 819.9h0M1072.8 821.5h0M1072.8 822.8h0M1072.8 823.8h0M1072.8 825.2h0M1072.8 826.4h0M1072.8 827.7h0M1072.9 828.8h0M1072.9 830.3h0M1072.9 831.3h0M1072.9 833.1h0M1072.9 834.3h0M1072.9 835.9h0M1072.9 838.0h0M1072.9 840.1h0M1073.0 842.4h0M1073.0 844.3h0M1073.0 845.7h0M1073.0 848.5h0M1073.0 850.4h0M1073.0 853.3h0M1073.0 855.5h0M1073.1 857.9h0M1073.1 860.6h0M1073.1 863.4h0M1073.1 866.8h0M1073.2 870.0h0M1073.2 870.7h0M1073.1 869.8h0M1073.3 869.1h0M1073.5 867.7h0M1073.2 864.5h0M1073.2 864.5h0M1073.3 858.6h0M1073.3 858.6h0M1073.3 858.6h0M1073.3 852.9h0M1073.3 852.9h0M1073.3 852.9h0M1073.3 847.6h0M1073.3 847.6h0M1073.3 847.6h0M1073.4 842.4h0M1073.4 842.4h0M1073.4 842.4h0M1073.4 837.5h0M1073.4 837.5h0M1073.4 837.5h0M1073.4 837.5h0M1073.5 832.9h0M1073.5 832.9h0M1073.5 832.9h0M1073.5 832.9h0M1073.5 828.4h0M1092.5 769.3h0M1092.5 768.5h0M1092.5 767.4h0M1092.5 766.2h0M1092.5 764.6h0M1092.5 763.1h0M1092.5 762.0h0M1092.5 760.5h0M1092.5 758.6h0M1092.5 757.2h0M1092.5 755.8h0M1092.5 753.3h0M1092.5 751.8h0M1092.5 750.1h0M1092.5 748.1h0M1092.5 744.7h0M1092.5 741.8h0M1092.5 738.5h0M1092.5 734.4h0M1092.5 728.7h0M1092.5 725.1h0M1092.5 720.6h0M1092.6 714.5h0M1092.6 706.2h0M1092.6 699.5h0M1092.6 689.7h0M1092.6 676.8h0M1092.6 666.5h0M1092.6 651.2h0M1092.6 636.7h0M1092.7 604.9h0M1092.7 587.8h0M1092.7 568.0h0M1092.7 539.9h0M1092.7 518.8h0M1092.8 491.5h0M1092.8 468.4h0M1092.8 433.5h0M1092.9 406.2h0M1092.9 382.9h0M1092.9 362.7h0M1092.9 337.0h0M1093.0 306.1h0M1093.0 276.1h0M1093.3 261.3h0M1093.6 271.1h0M1093.6 291.9h0M1093.6 306.8h0M1093.6 323.3h0M1093.6 344.4h0M1093.6 363.7h0M1093.6 379.4h0M1093.6 398.7h0M1093.6 417.7h0M1093.6 431.4h0M1093.6 446.3h0M1093.7 465.2h0M1093.7 479.8h0M1093.7 494.1h0M1093.7 510.5h0M1093.7 521.8h0M1093.8 535.1h0M1093.8 556.5h0M1093.8 569.7h0M1093.9 589.2h0M1093.9 599.6h0M1093.9 613.5h0M1094.0 629.6h0M1094.0 643.5h0M1094.1 664.5h0M1094.2 685.1h0M1094.2 696.2h0M1094.2 704.6h0M1094.3 717.8h0M1094.3 728.0h0M1094.4 735.1h0M1094.4 739.3h0M1094.4 742.9h0M1094.5 748.6h0M1094.5 753.4h0M1094.5 756.9h0M1094.5 759.7h0M1094.5 762.0h0M1094.5 764.2h0M1094.5 766.2h0M1094.6 768.2h0M1094.6 769.7h0M1094.6 770.9h0M1094.6 772.0h0M1094.6 773.4h0M1094.6 775.1h0M1094.6 776.1h0M1094.6 777.7h0M1094.6 779.1h0M1094.6 780.2h0M1094.6 781.1h0M1094.6 782.8h0M1094.6 783.7h0M1094.7 784.7h0M1094.7 785.6h0M1094.7 787.2h0M1094.7 788.4h0M1094.7 789.2h0M1094.7 790.3h0M1094.7 791.7h0M1094.7 792.9h0M1094.7 793.9h0M1094.7 795.5h0M1094.7 797.0h0M1094.7 798.1h0M1094.7 799.2h0M1094.8 800.3h0M1094.8 801.2h0M1094.8 802.6h0M1094.8 803.7h0M1094.8 805.1h0M1094.8 806.7h0M1094.8 807.9h0M1094.8 809.0h0M1094.8 810.1h0M1094.8 811.4h0M1094.8 812.3h0M1094.8 813.5h0M1094.8 814.4h0M1094.9 815.2h0M1094.9 816.5h0M1094.9 817.8h0M1094.9 819.0h0M1094.9 819.9h0M1094.9 821.4h0M1094.9 822.7h0M1094.9 824.5h0M1094.9 826.2h0M1094.9 827.5h0M1094.9 829.4h0M1095.0 831.2h0M1095.0 832.9h0M1095.0 835.1h0M1095.0 836.9h0M1095.0 838.4h0M1095.0 839.9h0M1095.0 842.2h0M1095.1 844.2h0M1095.1 846.0h0M1095.1 847.7h0M1095.1 850.7h0M1095.1 853.0h0M1095.2 856.4h0M1095.2 860.2h0M1095.2 863.0h0M1095.1 862.1h0M1095.4 861.4h0M1095.5 860.0h0M1095.2 856.4h0M1095.2 856.4h0M1095.3 850.0h0M1095.3 850.0h0M1095.3 850.0h0M1095.3 844.0h0M1095.3 844.0h0M1095.3 844.0h0M1095.4 838.3h0M1095.4 838.3h0M1095.4 838.3h0M1095.4 832.8h0M1095.4 832.8h0M1095.4 832.8h0M1095.4 832.8h0M1095.4 827.7h0M1095.4 827.7h0M1095.4 827.7h0M1095.4 827.7h0M1095.5 822.7h0M1095.5 822.7h0M1095.5 822.7h0M1095.5 822.7h0M1095.5 818.0h0M1114.9 760.2h0M1114.9 758.9h0M1114.9 757.9h0M1114.9 756.9h0M1114.9 755.6h0M1114.9 754.2h0M1114.9 752.9h0M1114.9 751.8h0M1114.9 749.7h0M1114.9 748.1h0M1114.9 746.3h0M1114.9 744.5h0M1114.9 742.2h0M1114.9 739.3h0M1114.9 735.8h0M1114.9 732.5h0M1114.9 728.0h0M1114.9 724.4h0M1114.9 720.0h0M1114.9 715.5h0M1115.0 707.9h0M1115.0 702.8h0M1115.0 696.5h0M1115.0 686.0h0M1115.0 677.1h0M1115.0 668.3h0M1115.0 655.2h0M1115.0 638.3h0M1115.0 617.6h0M1115.1 596.4h0M1115.1 573.2h0M1115.1 551.1h0M1115.1 531.0h0M1115.1 504.8h0M1115.2 483.8h0M1115.2 463.4h0M1115.2 429.6h0M1115.2 396.6h0M1115.3 372.7h0M1115.3 346.2h0M1115.3 327.5h0M1115.3 310.3h0M1115.4 284.1h0M1115.4 250.0h0M1115.7 233.0h0M1116.0 242.2h0M1116.0 261.5h0M1116.0 272.0h0M1116.0 288.9h0M1116.0 302.3h0M1116.0 321.1h0M1116.0 340.7h0M1116.0 361.0h0M1116.0 380.2h0M1116.0 391.5h0M1116.0 409.3h0M1116.0 426.0h0M1116.1 439.7h0M1116.1 452.4h0M1116.1 468.1h0M1116.1 483.2h0M1116.1 498.2h0M1116.1 519.3h0M1116.2 532.2h0M1116.2 552.2h0M1116.2 564.2h0M1116.3 582.4h0M1116.3 597.7h0M1116.3 612.5h0M1116.4 628.3h0M1116.4 640.2h0M1116.5 653.1h0M1116.5 667.7h0M1116.5 678.5h0M1116.6 693.7h0M1116.7 705.3h0M1116.7 714.8h0M1116.7 723.2h0M1116.7 728.0h0M1116.8 731.7h0M1116.8 735.4h0M1116.8 741.3h0M1116.8 745.2h0M1116.9 749.7h0M1116.9 752.1h0M1116.9 754.4h0M1116.9 756.8h0M1116.9 759.0h0M1116.9 760.5h0M1116.9 761.8h0M1116.9 763.0h0M1116.9 764.1h0M1116.9 765.7h0M1116.9 767.4h0M1117.0 768.6h0M1117.0 769.6h0M1117.0 771.3h0M1117.0 772.5h0M1117.0 774.0h0M1117.0 775.3h0M1117.0 776.2h0M1117.0 777.7h0M1117.0 778.7h0M1117.0 780.3h0M1117.0 781.3h0M1117.0 782.5h0M1117.0 783.4h0M1117.0 784.4h0M1117.0 785.8h0M1117.0 786.8h0M1117.1 787.7h0M1117.1 788.6h0M1117.1 789.5h0M1117.1 790.8h0M1117.1 791.8h0M1117.1 793.4h0M1117.1 794.8h0M1117.1 796.1h0M1117.1 797.8h0M1117.1 799.5h0M1117.1 800.7h0M1117.1 802.2h0M1117.1 803.7h0M1117.2 804.7h0M1117.2 805.9h0M1117.2 806.6h0M1117.2 807.9h0M1117.2 809.3h0M1117.2 810.7h0M1117.2 812.1h0M1117.2 813.6h0M1117.2 814.9h0M1117.2 816.0h0M1117.2 817.4h0M1117.2 818.8h0M1117.3 820.8h0M1117.3 823.0h0M1117.3 825.4h0M1117.3 827.1h0M1117.3 829.7h0M1117.3 832.5h0M1117.3 834.0h0M1117.4 836.4h0M1117.4 838.1h0M1117.4 839.9h0M1117.4 842.4h0M1117.4 845.5h0M1117.4 847.7h0M1117.5 850.3h0M1117.5 853.4h0M1117.5 854.6h0M1117.4 853.7h0M1117.6 853.0h0M1117.8 851.6h0M1117.5 847.5h0M1117.5 847.5h0M1117.5 847.5h0M1117.6 840.7h0M1117.6 840.7h0M1117.6 840.7h0M1117.6 834.2h0M1117.6 834.2h0M1117.6 828.1h0M1117.6 828.1h0M1117.6 828.1h0M1117.6 828.1h0M1117.7 822.3h0M1117.7 822.3h0M1117.7 822.3h0M1117.7 822.3h0M1117.7 816.8h0M1117.7 816.8h0M1117.7 816.8h0M1117.7 816.8h0M1117.7 816.8h0M1117.8 811.5h0M1135.9 750.4h0M1135.9 748.8h0M1135.9 747.3h0M1135.9 745.9h0M1135.9 744.4h0M1135.9 742.7h0M1135.9 741.2h0M1135.9 739.9h0M1135.9 738.0h0M1135.9 735.5h0M1135.9 732.8h0M1135.9 730.1h0M1135.9 728.1h0M1135.9 725.7h0M1135.9 723.1h0M1135.9 719.6h0M1135.9 714.8h0M1135.9 710.1h0M1135.9 704.8h0M1135.9 699.4h0M1136.0 694.3h0M1136.0 688.1h0M1136.0 676.8h0M1136.0 663.4h0M1136.0 648.9h0M1136.0 630.5h0M1136.0 614.0h0M1136.0 597.7h0M1136.1 580.3h0M1136.1 563.1h0M1136.1 542.5h0M1136.1 507.7h0M1136.1 480.3h0M1136.2 459.4h0M1136.2 440.9h0M1136.2 423.7h0M1136.2 406.5h0M1136.2 387.2h0M1136.3 364.1h0M1136.3 344.4h0M1136.3 323.3h0M1136.3 295.1h0M1136.3 275.8h0M1136.4 256.4h0M1136.4 225.5h0M1136.7 205.0h0M1137.0 215.8h0M1137.0 229.4h0M1137.0 247.6h0M1137.0 258.1h0M1137.0 271.6h0M1137.0 291.7h0M1137.0 305.3h0M1137.0 322.9h0M1137.0 335.6h0M1137.0 347.2h0M1137.0 362.4h0M1137.0 377.9h0M1137.0 388.7h0M1137.0 405.0h0M1137.1 420.2h0M1137.1 434.6h0M1137.1 453.5h0M1137.1 473.8h0M1137.1 488.8h0M1137.1 502.6h0M1137.2 521.6h0M1137.2 540.5h0M1137.2 556.7h0M1137.3 573.9h0M1137.3 588.2h0M1137.4 606.7h0M1137.4 623.5h0M1137.5 643.6h0M1137.5 656.7h0M1137.5 666.2h0M1137.6 681.7h0M1137.6 692.7h0M1137.7 703.5h0M1137.7 712.2h0M1137.8 719.8h0M1137.8 724.6h0M1137.8 730.5h0M1137.8 734.8h0M1137.8 738.0h0M1137.9 740.3h0M1137.9 742.2h0M1137.9 744.2h0M1137.9 746.0h0M1137.9 747.7h0M1137.9 749.6h0M1137.9 751.5h0M1137.9 752.9h0M1137.9 754.3h0M1137.9 755.2h0M1137.9 756.7h0M1137.9 758.0h0M1137.9 759.5h0M1138.0 760.7h0M1138.0 762.1h0M1138.0 763.4h0M1138.0 765.0h0M1138.0 766.2h0M1138.0 767.8h0M1138.0 769.5h0M1138.0 770.8h0M1138.0 772.1h0M1138.0 773.6h0M1138.0 774.9h0M1138.0 776.6h0M1138.0 778.3h0M1138.1 779.6h0M1138.1 781.1h0M1138.1 782.0h0M1138.1 783.7h0M1138.1 785.1h0M1138.1 786.0h0M1138.1 786.8h0M1138.1 788.4h0M1138.1 790.0h0M1138.1 791.4h0M1138.1 792.6h0M1138.1 793.7h0M1138.1 795.0h0M1138.2 796.6h0M1138.2 797.8h0M1138.2 798.5h0M1138.2 799.4h0M1138.2 800.2h0M1138.2 801.7h0M1138.2 803.2h0M1138.2 804.9h0M1138.2 806.3h0M1138.2 807.6h0M1138.2 808.6h0M1138.2 809.9h0M1138.2 811.4h0M1138.3 813.0h0M1138.3 814.5h0M1138.3 816.7h0M1138.3 819.1h0M1138.3 821.0h0M1138.3 823.6h0M1138.3 825.6h0M1138.3 827.6h0M1138.4 830.5h0M1138.4 832.4h0M1138.4 834.3h0M1138.4 838.0h0M1138.4 840.9h0M1138.5 843.8h0M1138.5 846.2h0M1138.4 845.3h0M1138.6 844.6h0M1138.8 843.2h0M1138.5 838.6h0M1138.5 838.6h0M1138.5 831.3h0M1138.5 831.3h0M1138.5 831.3h0M1138.6 824.5h0M1138.6 824.5h0M1138.6 824.5h0M1138.6 824.5h0M1138.6 818.0h0M1138.6 818.0h0M1138.6 818.0h0M1138.6 818.0h0M1138.7 811.8h0M1138.7 811.8h0M1138.7 811.8h0M1138.7 811.8h0M1138.7 806.0h0M1138.7 806.0h0M1138.7 806.0h0M1138.7 806.0h0M1138.7 806.0h0M1138.7 806.0h0M1138.7 800.5h0M1156.7 740.5h0M1156.7 738.9h0M1156.7 737.6h0M1156.7 736.3h0M1156.7 734.9h0M1156.7 733.1h0M1156.7 731.5h0M1156.7 730.2h0M1156.7 728.0h0M1156.7 725.6h0M1156.7 723.2h0M1156.7 720.5h0M1156.7 717.7h0M1156.7 715.2h0M1156.7 711.1h0M1156.7 707.1h0M1156.7 704.0h0M1156.7 698.6h0M1156.7 693.8h0M1156.7 689.7h0M1156.8 681.5h0M1156.8 675.3h0M1156.8 666.9h0M1156.8 659.5h0M1156.8 647.6h0M1156.8 633.2h0M1156.8 612.1h0M1156.8 582.9h0M1156.9 549.9h0M1156.9 520.8h0M1156.9 496.6h0M1156.9 462.6h0M1157.0 441.6h0M1157.0 418.9h0M1157.0 391.7h0M1157.0 368.1h0M1157.1 340.9h0M1157.1 321.9h0M1157.1 300.5h0M1157.1 283.2h0M1157.1 258.5h0M1157.1 237.3h0M1157.2 205.5h0M1157.2 184.0h0M1157.5 177.3h0M1157.8 189.0h0M1157.8 201.6h0M1157.8 221.4h0M1157.8 237.7h0M1157.8 249.7h0M1157.8 267.9h0M1157.8 289.5h0M1157.8 303.4h0M1157.8 320.0h0M1157.8 336.5h0M1157.8 357.5h0M1157.8 379.0h0M1157.8 390.1h0M1157.9 404.8h0M1157.9 424.2h0M1157.9 439.3h0M1157.9 455.4h0M1157.9 472.1h0M1157.9 482.7h0M1158.0 493.5h0M1158.0 514.0h0M1158.0 528.8h0M1158.0 544.2h0M1158.1 560.8h0M1158.1 579.6h0M1158.2 600.0h0M1158.2 611.4h0M1158.3 628.8h0M1158.3 639.1h0M1158.3 654.0h0M1158.4 669.2h0M1158.4 679.6h0M1158.5 687.9h0M1158.5 698.1h0M1158.5 705.8h0M1158.6 713.3h0M1158.6 718.3h0M1158.6 722.0h0M1158.6 726.2h0M1158.6 729.4h0M1158.6 731.2h0M1158.7 733.1h0M1158.7 736.2h0M1158.7 738.3h0M1158.7 739.4h0M1158.7 741.2h0M1158.7 742.7h0M1158.7 743.6h0M1158.7 745.3h0M1158.7 746.3h0M1158.7 747.7h0M1158.7 749.1h0M1158.7 750.4h0M1158.7 751.6h0M1158.7 752.9h0M1158.8 754.3h0M1158.8 756.0h0M1158.8 757.7h0M1158.8 759.4h0M1158.8 761.0h0M1158.8 762.3h0M1158.8 763.4h0M1158.8 765.1h0M1158.8 766.8h0M1158.8 767.9h0M1158.8 769.5h0M1158.8 770.6h0M1158.8 771.5h0M1158.8 772.8h0M1158.9 774.5h0M1158.9 775.8h0M1158.9 777.4h0M1158.9 779.0h0M1158.9 780.6h0M1158.9 781.7h0M1158.9 783.3h0M1158.9 784.3h0M1158.9 785.6h0M1158.9 786.5h0M1158.9 787.7h0M1158.9 789.0h0M1158.9 790.3h0M1159.0 791.8h0M1159.0 793.1h0M1159.0 794.4h0M1159.0 795.4h0M1159.0 796.8h0M1159.0 798.6h0M1159.0 800.0h0M1159.0 802.0h0M1159.0 803.5h0M1159.0 805.6h0M1159.0 807.1h0M1159.1 809.6h0M1159.1 811.2h0M1159.1 812.7h0M1159.1 815.0h0M1159.1 817.7h0M1159.1 820.5h0M1159.1 823.0h0M1159.2 826.1h0M1159.2 828.3h0M1159.2 830.9h0M1159.2 833.5h0M1159.2 836.1h0M1159.2 837.3h0M1159.1 836.4h0M1159.4 835.7h0M1159.5 834.3h0M1159.3 829.1h0M1159.3 829.1h0M1159.3 821.4h0M1159.3 821.4h0M1159.3 821.4h0M1159.3 821.4h0M1159.3 814.1h0M1159.3 814.1h0M1159.3 814.1h0M1159.4 807.1h0M1159.4 807.1h0M1159.4 807.1h0M1159.4 807.1h0M1159.4 807.1h0M1159.4 800.6h0M1159.4 800.6h0M1159.4 800.6h0M1159.4 800.6h0M1159.4 800.6h0M1159.5 794.4h0M1177.0 729.6h0M1177.0 728.1h0M1177.0 727.2h0M1177.0 725.8h0M1177.0 724.8h0M1177.0 723.1h0M1177.0 721.9h0M1177.0 720.1h0M1177.0 718.6h0M1177.0 716.7h0M1177.0 714.8h0M1177.0 712.0h0M1177.0 709.8h0M1177.0 707.3h0M1177.0 704.5h0M1177.0 702.0h0M1177.0 697.7h0M1177.0 694.3h0M1177.0 691.1h0M1177.0 687.5h0M1177.0 681.6h0M1177.0 673.9h0M1177.1 666.3h0M1177.1 655.3h0M1177.1 647.0h0M1177.1 632.0h0M1177.1 614.3h0M1177.1 599.4h0M1177.1 583.6h0M1177.1 559.0h0M1177.2 534.5h0M1177.2 508.7h0M1177.2 478.6h0M1177.2 457.6h0M1177.2 436.0h0M1177.3 413.1h0M1177.3 393.2h0M1177.3 368.3h0M1177.3 340.5h0M1177.3 318.7h0M1177.4 299.3h0M1177.4 269.1h0M1177.4 250.6h0M1177.4 218.1h0M1177.5 190.0h0M1177.5 169.0h0M1177.5 151.9h0M1177.8 140.0h0M1178.1 145.0h0M1178.1 163.9h0M1178.1 180.2h0M1178.1 198.4h0M1178.1 211.0h0M1178.1 229.6h0M1178.1 242.9h0M1178.1 259.9h0M1178.1 281.1h0M1178.1 298.2h0M1178.1 310.3h0M1178.1 323.5h0M1178.1 338.4h0M1178.1 358.1h0M1178.2 377.5h0M1178.2 392.2h0M1178.2 409.2h0M1178.2 423.6h0M1178.2 439.5h0M1178.2 453.4h0M1178.3 474.4h0M1178.3 489.0h0M1178.3 502.9h0M1178.3 520.3h0M1178.4 533.2h0M1178.4 544.8h0M1178.4 560.2h0M1178.5 579.9h0M1178.5 594.4h0M1178.5 607.9h0M1178.6 621.6h0M1178.6 637.7h0M1178.7 648.6h0M1178.7 660.5h0M1178.7 670.7h0M1178.8 676.6h0M1178.8 683.7h0M1178.8 692.5h0M1178.8 697.3h0M1178.9 703.8h0M1178.9 707.0h0M1178.9 711.2h0M1178.9 714.7h0M1178.9 718.3h0M1178.9 720.2h0M1178.9 722.1h0M1179.0 724.3h0M1179.0 726.9h0M1179.0 728.7h0M1179.0 730.5h0M1179.0 731.9h0M1179.0 733.6h0M1179.0 734.5h0M1179.0 736.2h0M1179.0 737.2h0M1179.0 738.3h0M1179.0 739.6h0M1179.0 740.8h0M1179.0 742.6h0M1179.0 744.3h0M1179.1 745.8h0M1179.1 746.9h0M1179.1 747.9h0M1179.1 749.2h0M1179.1 750.3h0M1179.1 751.3h0M1179.1 752.4h0M1179.1 753.5h0M1179.1 754.6h0M1179.1 755.5h0M1179.1 756.6h0M1179.1 758.4h0M1179.1 760.0h0M1179.1 761.4h0M1179.1 763.1h0M1179.1 764.8h0M1179.2 765.7h0M1179.2 766.6h0M1179.2 767.8h0M1179.2 769.1h0M1179.2 770.8h0M1179.2 771.7h0M1179.2 773.2h0M1179.2 774.8h0M1179.2 775.8h0M1179.2 777.4h0M1179.2 779.0h0M1179.2 779.8h0M1179.2 781.0h0M1179.2 782.1h0M1179.2 783.5h0M1179.3 784.5h0M1179.3 786.0h0M1179.3 786.9h0M1179.3 787.9h0M1179.3 789.3h0M1179.3 790.6h0M1179.3 792.2h0M1179.3 793.5h0M1179.3 795.9h0M1179.3 797.7h0M1179.3 799.6h0M1179.3 801.5h0M1179.4 804.2h0M1179.4 805.9h0M1179.4 809.0h0M1179.4 811.0h0M1179.4 814.3h0M1179.4 816.9h0M1179.5 820.0h0M1179.5 822.5h0M1179.5 826.3h0M1179.5 827.9h0M1179.4 827.0h0M1179.7 826.3h0M1179.8 824.9h0M1179.5 819.1h0M1179.5 819.1h0M1179.6 810.7h0M1179.6 810.7h0M1179.6 810.7h0M1179.6 810.7h0M1179.6 802.9h0M1179.6 802.9h0M1179.6 802.9h0M1179.7 795.5h0M1179.7 795.5h0M1179.7 795.5h0M1179.7 795.5h0M1179.7 795.5h0M1179.7 788.5h0M1179.7 788.5h0M1179.7 788.5h0M1179.7 788.5h0M1179.7 788.5h0M1179.7 788.5h0M1179.7 782.0h0M1197.0 717.9h0M1197.0 716.3h0M1197.0 715.2h0M1197.0 713.5h0M1197.0 712.3h0M1197.0 710.9h0M1197.0 709.9h0M1197.0 708.7h0M1197.0 706.6h0M1197.0 704.9h0M1197.0 702.8h0M1197.0 700.7h0M1197.0 698.2h0M1197.0 695.7h0M1197.0 693.6h0M1197.0 691.1h0M1197.0 687.7h0M1197.0 685.0h0M1197.0 679.9h0M1197.0 676.8h0M1197.0 671.7h0M1197.0 664.7h0M1197.1 657.0h0M1197.1 651.2h0M1197.1 644.9h0M1197.1 633.6h0M1197.1 622.4h0M1197.1 612.3h0M1197.1 600.4h0M1197.1 579.5h0M1197.1 563.8h0M1197.1 541.6h0M1197.2 507.6h0M1197.2 486.1h0M1197.2 453.7h0M1197.2 436.3h0M1197.3 415.8h0M1197.3 398.0h0M1197.3 367.8h0M1197.3 340.6h0M1197.3 309.7h0M1197.4 278.0h0M1197.4 247.9h0M1197.4 229.0h0M1197.4 203.8h0M1197.4 186.3h0M1197.5 154.9h0M1197.5 131.2h0M1198.1 130.4h0M1198.1 151.9h0M1198.1 169.0h0M1198.1 183.8h0M1198.1 203.9h0M1198.1 223.8h0M1198.1 236.6h0M1198.1 252.1h0M1198.1 273.1h0M1198.1 294.5h0M1198.1 315.2h0M1198.1 331.0h0M1198.1 343.3h0M1198.2 363.6h0M1198.2 376.3h0M1198.2 393.5h0M1198.2 408.2h0M1198.2 428.1h0M1198.2 442.6h0M1198.3 457.3h0M1198.3 477.2h0M1198.3 495.7h0M1198.4 517.3h0M1198.4 529.0h0M1198.4 540.9h0M1198.4 558.9h0M1198.5 574.8h0M1198.5 595.2h0M1198.6 610.8h0M1198.6 620.8h0M1198.6 634.0h0M1198.7 643.7h0M1198.7 656.5h0M1198.8 667.4h0M1198.8 676.9h0M1198.8 681.6h0M1198.8 687.8h0M1198.8 691.8h0M1198.9 697.9h0M1198.9 700.8h0M1198.9 704.7h0M1198.9 708.2h0M1198.9 710.2h0M1198.9 712.7h0M1198.9 714.2h0M1198.9 715.4h0M1198.9 716.8h0M1198.9 717.9h0M1199.0 719.2h0M1199.0 720.7h0M1199.0 722.4h0M1199.0 723.5h0M1199.0 724.7h0M1199.0 726.2h0M1199.0 727.3h0M1199.0 728.5h0M1199.0 729.7h0M1199.0 731.3h0M1199.0 732.4h0M1199.0 734.0h0M1199.0 735.0h0M1199.0 736.1h0M1199.0 737.2h0M1199.0 738.2h0M1199.0 739.2h0M1199.0 740.4h0M1199.1 742.0h0M1199.1 743.5h0M1199.1 745.2h0M1199.1 746.3h0M1199.1 747.5h0M1199.1 748.5h0M1199.1 749.8h0M1199.1 750.8h0M1199.1 752.4h0M1199.1 753.6h0M1199.1 754.5h0M1199.1 755.8h0M1199.1 757.0h0M1199.1 758.0h0M1199.1 759.2h0M1199.1 760.6h0M1199.1 762.4h0M1199.2 763.8h0M1199.2 764.8h0M1199.2 765.7h0M1199.2 766.9h0M1199.2 767.9h0M1199.2 769.1h0M1199.2 770.1h0M1199.2 771.0h0M1199.2 771.9h0M1199.2 773.4h0M1199.2 775.0h0M1199.2 776.6h0M1199.2 778.4h0M1199.2 779.9h0M1199.2 781.7h0M1199.3 783.3h0M1199.3 785.3h0M1199.3 787.5h0M1199.3 789.7h0M1199.3 792.2h0M1199.3 794.5h0M1199.3 796.6h0M1199.3 799.5h0M1199.4 802.7h0M1199.4 804.9h0M1199.4 807.0h0M1199.4 808.9h0M1199.4 811.4h0M1199.4 813.8h0M1199.4 816.4h0M1199.4 818.6h0M1199.3 817.7h0M1199.6 817.0h0M1199.7 815.6h0M1199.5 809.1h0M1199.5 809.1h0M1199.5 809.1h0M1199.5 800.1h0M1199.5 800.1h0M1199.5 800.1h0M1199.5 800.1h0M1199.6 791.6h0M1199.6 791.6h0M1199.6 791.6h0M1199.6 791.6h0M1199.6 783.7h0M1199.6 783.7h0M1199.6 783.7h0M1199.6 783.7h0M1199.6 783.7h0M1199.6 783.7h0M1199.6 776.2h0M1199.6 776.2h0M1199.6 776.2h0M1199.6 776.2h0M1199.6 776.2h0M1199.6 776.2h0M1199.6 776.2h0M1199.7 769.2h0M1216.4 705.8h0M1216.4 704.1h0M1216.4 702.7h0M1216.4 701.6h0M1216.4 700.0h0M1216.4 699.0h0M1216.4 697.5h0M1216.4 695.6h0M1216.4 694.4h0M1216.4 693.1h0M1216.4 690.9h0M1216.4 689.3h0M1216.4 686.7h0M1216.4 684.4h0M1216.4 682.4h0M1216.4 678.9h0M1216.4 676.1h0M1216.4 673.3h0M1216.4 668.5h0M1216.4 662.7h0M1216.4 658.2h0M1216.4 650.7h0M1216.4 645.8h0M1216.5 636.7h0M1216.5 627.2h0M1216.5 618.5h0M1216.5 607.2h0M1216.5 594.6h0M1216.5 575.6h0M1216.5 555.6h0M1216.5 531.0h0M1216.6 501.9h0M1216.6 478.7h0M1216.6 460.3h0M1216.6 434.4h0M1216.6 401.8h0M1216.7 380.5h0M1216.7 358.7h0M1216.7 325.2h0M1216.7 305.3h0M1216.8 270.9h0M1216.8 248.5h0M1216.8 227.8h0M1216.8 197.8h0M1216.8 164.6h0M1216.9 139.3h0M1217.5 131.2h0M1217.5 146.9h0M1217.5 165.9h0M1217.5 184.1h0M1217.5 202.1h0M1217.5 222.8h0M1217.5 235.9h0M1217.5 257.2h0M1217.5 274.6h0M1217.5 288.6h0M1217.5 306.6h0M1217.5 320.4h0M1217.6 335.4h0M1217.6 355.1h0M1217.6 374.5h0M1217.6 391.6h0M1217.6 411.0h0M1217.6 431.1h0M1217.7 445.9h0M1217.7 457.1h0M1217.7 478.0h0M1217.7 489.1h0M1217.8 504.5h0M1217.8 516.0h0M1217.8 532.5h0M1217.9 551.6h0M1217.9 562.4h0M1217.9 578.4h0M1218.0 593.3h0M1218.0 610.1h0M1218.1 626.7h0M1218.1 639.0h0M1218.1 645.6h0M1218.1 653.3h0M1218.2 660.9h0M1218.2 666.1h0M1218.2 673.8h0M1218.2 678.6h0M1218.2 682.8h0M1218.3 686.1h0M1218.3 690.0h0M1218.3 694.0h0M1218.3 696.0h0M1218.3 698.6h0M1218.3 700.5h0M1218.3 701.9h0M1218.3 703.6h0M1218.3 705.4h0M1218.3 706.9h0M1218.4 708.7h0M1218.4 710.2h0M1218.4 711.9h0M1218.4 713.4h0M1218.4 714.8h0M1218.4 716.5h0M1218.4 718.1h0M1218.4 719.7h0M1218.4 720.8h0M1218.4 721.9h0M1218.4 723.5h0M1218.4 724.4h0M1218.4 725.6h0M1218.4 727.2h0M1218.4 728.3h0M1218.4 729.6h0M1218.4 730.8h0M1218.5 732.2h0M1218.5 733.8h0M1218.5 734.7h0M1218.5 735.9h0M1218.5 737.6h0M1218.5 738.8h0M1218.5 740.5h0M1218.5 741.6h0M1218.5 742.9h0M1218.5 743.9h0M1218.5 745.6h0M1218.5 746.8h0M1218.5 748.4h0M1218.5 749.9h0M1218.5 751.0h0M1218.5 752.6h0M1218.5 753.5h0M1218.6 755.2h0M1218.6 756.4h0M1218.6 757.3h0M1218.6 758.5h0M1218.6 759.6h0M1218.6 760.8h0M1218.6 762.5h0M1218.6 763.8h0M1218.6 765.4h0M1218.6 766.4h0M1218.6 767.5h0M1218.6 769.0h0M1218.6 770.6h0M1218.6 772.9h0M1218.7 774.9h0M1218.7 777.3h0M1218.7 779.5h0M1218.7 782.3h0M1218.7 784.3h0M1218.7 785.9h0M1218.7 788.8h0M1218.7 791.7h0M1218.8 793.8h0M1218.8 796.1h0M1218.8 798.9h0M1218.8 802.8h0M1218.8 806.5h0M1218.8 808.9h0M1218.7 808.0h0M1219.0 807.3h0M1219.1 805.9h0M1218.9 798.7h0M1218.9 798.7h0M1218.9 798.7h0M1218.9 789.1h0M1218.9 789.1h0M1218.9 789.1h0M1218.9 789.1h0M1219.0 780.1h0M1219.0 780.1h0M1219.0 780.1h0M1219.0 780.1h0M1219.0 780.1h0M1219.0 771.7h0M1219.0 771.7h0M1219.0 771.7h0M1219.0 771.7h0M1219.0 771.7h0M1219.0 763.8h0M1219.0 763.8h0M1219.0 763.8h0M1219.0 763.8h0M1219.0 763.8h0M1219.0 763.8h0M1219.0 763.8h0M1219.1 756.3h0M1235.6 693.6h0M1235.6 692.6h0M1235.6 691.8h0M1235.6 690.4h0M1235.6 689.6h0M1235.6 687.9h0M1235.6 686.8h0M1235.6 685.1h0M1235.6 683.1h0M1235.6 681.7h0M1235.6 679.8h0M1235.6 677.6h0M1235.6 675.6h0M1235.6 673.4h0M1235.6 670.3h0M1235.6 668.1h0M1235.6 665.0h0M1235.6 662.8h0M1235.6 659.1h0M1235.6 653.9h0M1235.6 649.7h0M1235.6 643.7h0M1235.6 638.6h0M1235.6 632.5h0M1235.7 625.5h0M1235.7 614.6h0M1235.7 605.3h0M1235.7 597.1h0M1235.7 582.9h0M1235.7 565.4h0M1235.7 543.6h0M1235.7 518.8h0M1235.8 496.5h0M1235.8 466.5h0M1235.8 445.1h0M1235.8 423.5h0M1235.8 403.3h0M1235.8 385.4h0M1235.9 364.7h0M1235.9 335.5h0M1235.9 311.4h0M1235.9 286.2h0M1235.9 265.1h0M1236.0 243.5h0M1236.0 214.1h0M1236.0 180.1h0M1236.0 160.6h0M1236.0 131.2h0M1236.7 148.6h0M1236.7 163.0h0M1236.7 177.4h0M1236.7 196.0h0M1236.7 209.3h0M1236.7 229.3h0M1236.7 241.7h0M1236.7 263.1h0M1236.7 283.2h0M1236.7 299.2h0M1236.8 320.1h0M1236.8 340.0h0M1236.8 361.0h0M1236.8 374.8h0M1236.8 389.8h0M1236.8 403.6h0M1236.9 419.0h0M1236.9 435.6h0M1236.9 455.6h0M1236.9 469.7h0M1237.0 486.3h0M1237.0 499.8h0M1237.0 515.2h0M1237.0 526.2h0M1237.1 542.6h0M1237.1 559.9h0M1237.1 577.0h0M1237.2 596.2h0M1237.2 609.3h0M1237.3 619.0h0M1237.3 632.5h0M1237.3 640.6h0M1237.4 646.6h0M1237.4 653.6h0M1237.4 660.7h0M1237.4 665.1h0M1237.4 669.0h0M1237.4 672.1h0M1237.5 676.2h0M1237.5 679.3h0M1237.5 683.1h0M1237.5 685.1h0M1237.5 687.7h0M1237.5 689.3h0M1237.5 690.8h0M1237.5 692.0h0M1237.5 693.8h0M1237.5 695.4h0M1237.5 696.6h0M1237.5 698.2h0M1237.5 699.8h0M1237.5 701.4h0M1237.6 702.8h0M1237.6 704.1h0M1237.6 705.3h0M1237.6 706.9h0M1237.6 708.0h0M1237.6 709.1h0M1237.6 710.8h0M1237.6 712.5h0M1237.6 714.0h0M1237.6 715.6h0M1237.6 716.4h0M1237.6 718.0h0M1237.6 719.4h0M1237.6 720.5h0M1237.6 721.6h0M1237.6 723.1h0M1237.6 724.7h0M1237.7 726.3h0M1237.7 727.1h0M1237.7 728.5h0M1237.7 729.7h0M1237.7 730.7h0M1237.7 731.6h0M1237.7 733.0h0M1237.7 734.1h0M1237.7 735.2h0M1237.7 736.5h0M1237.7 737.8h0M1237.7 738.7h0M1237.7 739.9h0M1237.7 741.2h0M1237.7 742.6h0M1237.7 744.2h0M1237.7 745.3h0M1237.7 747.0h0M1237.7 748.1h0M1237.8 749.5h0M1237.8 751.4h0M1237.8 753.5h0M1237.8 755.1h0M1237.8 757.1h0M1237.8 759.3h0M1237.8 760.6h0M1237.8 763.1h0M1237.8 765.7h0M1237.8 767.4h0M1237.8 769.5h0M1237.9 771.8h0M1237.9 775.1h0M1237.9 778.7h0M1237.9 780.9h0M1237.9 783.6h0M1237.9 785.8h0M1237.9 788.0h0M1238.0 790.6h0M1238.0 794.9h0M1238.0 795.7h0M1237.9 794.8h0M1238.1 794.1h0M1238.3 792.7h0M1238.0 784.8h0M1238.0 784.8h0M1238.0 784.8h0M1238.1 774.7h0M1238.1 774.7h0M1238.1 774.7h0M1238.1 774.7h0M1238.1 765.1h0M1238.1 765.1h0M1238.1 765.1h0M1238.1 765.1h0M1238.1 765.1h0M1238.1 756.3h0M1238.1 756.3h0M1238.1 756.3h0M1238.1 756.3h0M1238.2 747.9h0M1238.2 747.9h0M1238.2 747.9h0M1238.2 747.9h0M1238.2 747.9h0M1238.2 747.9h0M1238.2 747.9h0M1238.2 740.2h0M1254.2 680.5h0M1254.2 679.4h0M1254.2 677.9h0M1254.2 676.8h0M1254.2 675.1h0M1254.2 673.5h0M1254.2 672.3h0M1254.2 670.8h0M1254.2 669.4h0M1254.2 667.5h0M1254.2 665.4h0M1254.2 663.4h0M1254.2 661.9h0M1254.2 659.1h0M1254.2 657.2h0M1254.2 654.3h0M1254.2 650.7h0M1254.2 647.4h0M1254.2 644.9h0M1254.2 640.9h0M1254.2 637.7h0M1254.2 634.0h0M1254.2 629.8h0M1254.2 625.3h0M1254.2 618.5h0M1254.3 609.7h0M1254.3 601.2h0M1254.3 587.8h0M1254.3 578.9h0M1254.3 566.3h0M1254.3 551.6h0M1254.3 531.2h0M1254.3 503.8h0M1254.4 481.9h0M1254.4 457.3h0M1254.4 433.4h0M1254.4 410.3h0M1254.4 392.4h0M1254.4 361.9h0M1254.5 344.5h0M1254.5 319.9h0M1254.5 298.9h0M1254.5 274.4h0M1254.5 244.7h0M1254.6 213.2h0M1254.6 180.5h0M1254.6 152.3h0M1254.6 130.2h0M1255.3 131.6h0M1255.3 142.3h0M1255.3 157.9h0M1255.3 175.6h0M1255.3 195.8h0M1255.3 210.7h0M1255.3 227.9h0M1255.3 247.1h0M1255.3 263.5h0M1255.3 279.9h0M1255.4 292.0h0M1255.4 310.0h0M1255.4 328.6h0M1255.4 342.4h0M1255.4 360.2h0M1255.4 372.9h0M1255.4 384.5h0M1255.5 398.6h0M1255.5 415.2h0M1255.5 429.9h0M1255.5 443.1h0M1255.5 464.3h0M1255.6 482.6h0M1255.6 496.1h0M1255.6 507.3h0M1255.7 525.7h0M1255.7 546.4h0M1255.8 564.9h0M1255.8 581.6h0M1255.9 598.7h0M1255.9 611.1h0M1255.9 618.0h0M1255.9 626.5h0M1256.0 633.5h0M1256.0 640.7h0M1256.0 645.3h0M1256.0 651.2h0M1256.0 656.6h0M1256.1 660.1h0M1256.1 664.2h0M1256.1 667.0h0M1256.1 670.3h0M1256.1 672.8h0M1256.1 675.7h0M1256.1 677.6h0M1256.1 678.7h0M1256.1 679.8h0M1256.1 681.4h0M1256.1 682.4h0M1256.1 683.9h0M1256.1 685.2h0M1256.2 686.1h0M1256.2 687.1h0M1256.2 688.4h0M1256.2 689.6h0M1256.2 690.6h0M1256.2 691.8h0M1256.2 693.0h0M1256.2 694.2h0M1256.2 695.7h0M1256.2 696.9h0M1256.2 698.1h0M1256.2 699.1h0M1256.2 700.4h0M1256.2 701.5h0M1256.2 702.7h0M1256.2 703.8h0M1256.2 705.2h0M1256.2 707.2h0M1256.2 708.8h0M1256.2 710.2h0M1256.3 711.9h0M1256.3 713.6h0M1256.3 714.8h0M1256.3 717.0h0M1256.3 718.9h0M1256.3 721.5h0M1256.3 723.7h0M1256.3 725.4h0M1256.3 728.2h0M1256.3 729.8h0M1256.3 731.5h0M1256.3 733.2h0M1256.4 734.9h0M1256.4 736.7h0M1256.4 739.8h0M1256.4 741.6h0M1256.4 744.2h0M1256.4 746.1h0M1256.4 748.4h0M1256.4 750.4h0M1256.4 752.9h0M1256.4 755.3h0M1256.5 758.7h0M1256.5 762.7h0M1256.5 765.1h0M1256.5 768.2h0M1256.5 771.7h0M1256.6 776.2h0M1256.6 778.6h0M1256.6 782.1h0M1256.5 781.2h0M1256.7 780.5h0M1256.9 779.1h0M1256.6 770.3h0M1256.6 770.3h0M1256.6 770.3h0M1256.7 759.4h0M1256.7 759.4h0M1256.7 759.4h0M1256.7 749.2h0M1256.7 749.2h0M1256.7 749.2h0M1256.7 749.2h0M1256.7 739.7h0M1256.7 739.7h0M1256.7 739.7h0M1256.7 739.7h0M1256.7 739.7h0M1256.8 730.8h0M1256.8 730.8h0M1256.8 730.8h0M1256.8 730.8h0M1256.8 722.5h0M1256.8 722.5h0M1256.8 722.5h0M1256.8 722.5h0M1256.9 714.8h0M1256.9 714.8h0M1256.9 714.8h0M1256.9 714.8h0M1256.9 714.8h0M1256.9 714.8h0M1256.9 707.6h0M1256.9 707.6h0M1256.9 707.6h0M1256.9 707.6h0M1256.9 707.6h0M1256.9 700.9h0M1256.9 700.9h0M1256.9 700.9h0M1256.9 700.9h0M1256.9 700.9h0M1257.0 694.7h0M1272.8 663.7h0M1272.8 662.3h0M1272.8 661.1h0M1272.8 659.4h0M1272.8 657.8h0M1272.8 656.0h0M1272.8 654.9h0M1272.8 653.1h0M1272.8 651.2h0M1272.8 649.2h0M1272.8 646.7h0M1272.8 645.0h0M1272.8 643.3h0M1272.8 640.8h0M1272.8 638.7h0M1272.8 635.0h0M1272.8 630.9h0M1272.8 627.4h0M1272.8 622.5h0M1272.8 617.6h0M1272.8 610.9h0M1272.8 604.7h0M1272.8 599.2h0M1272.9 588.8h0M1272.9 581.0h0M1272.9 573.3h0M1272.9 559.0h0M1272.9 542.9h0M1272.9 520.6h0M1272.9 502.5h0M1272.9 468.8h0M1273.0 436.8h0M1273.0 408.2h0M1273.0 391.0h0M1273.0 360.2h0M1273.0 336.5h0M1273.1 317.1h0M1273.1 294.3h0M1273.1 260.1h0M1273.1 237.5h0M1273.1 212.1h0M1273.2 178.8h0M1273.2 149.0h0M1273.9 137.9h0M1273.9 156.1h0M1273.9 174.8h0M1273.9 194.5h0M1273.9 209.3h0M1273.9 227.9h0M1273.9 240.9h0M1273.9 251.8h0M1274.0 270.0h0M1274.0 283.0h0M1274.0 303.2h0M1274.0 317.3h0M1274.0 331.5h0M1274.0 351.4h0M1274.0 362.1h0M1274.0 383.3h0M1274.1 397.4h0M1274.1 408.3h0M1274.1 422.4h0M1274.1 434.2h0M1274.1 447.4h0M1274.2 463.5h0M1274.2 480.1h0M1274.2 492.7h0M1274.3 514.2h0M1274.3 526.3h0M1274.3 537.9h0M1274.3 551.0h0M1274.4 560.2h0M1274.4 576.9h0M1274.4 585.4h0M1274.5 592.2h0M1274.5 602.6h0M1274.5 610.0h0M1274.5 615.5h0M1274.5 622.2h0M1274.6 626.9h0M1274.6 630.9h0M1274.6 636.0h0M1274.6 639.7h0M1274.6 643.4h0M1274.6 647.1h0M1274.6 651.5h0M1274.6 654.5h0M1274.7 657.0h0M1274.7 658.9h0M1274.7 660.8h0M1274.7 662.2h0M1274.7 664.2h0M1274.7 665.9h0M1274.7 667.5h0M1274.7 668.7h0M1274.7 670.2h0M1274.7 671.1h0M1274.7 672.4h0M1274.7 673.8h0M1274.7 674.6h0M1274.7 675.5h0M1274.7 677.0h0M1274.7 678.3h0M1274.7 679.8h0M1274.7 681.4h0M1274.7 683.0h0M1274.7 684.0h0M1274.8 685.1h0M1274.8 686.4h0M1274.8 688.2h0M1274.8 690.0h0M1274.8 691.2h0M1274.8 692.4h0M1274.8 694.4h0M1274.8 696.5h0M1274.8 697.6h0M1274.8 699.2h0M1274.8 700.5h0M1274.8 702.3h0M1274.8 703.5h0M1274.8 705.3h0M1274.8 706.8h0M1274.8 708.2h0M1274.9 710.9h0M1274.9 712.5h0M1274.9 715.3h0M1274.9 717.9h0M1274.9 719.9h0M1274.9 722.1h0M1274.9 724.3h0M1274.9 726.4h0M1274.9 729.1h0M1274.9 731.0h0M1274.9 733.8h0M1275.0 736.5h0M1275.0 738.7h0M1275.0 742.5h0M1275.0 745.0h0M1275.0 748.3h0M1275.0 752.0h0M1275.0 755.7h0M1275.1 759.2h0M1275.1 762.5h0M1275.1 765.9h0M1275.1 770.1h0M1275.1 770.4h0M1275.0 769.5h0M1275.3 768.8h0M1275.4 767.4h0M1275.2 757.8h0M1275.2 757.8h0M1275.2 757.8h0M1275.2 746.0h0M1275.2 746.0h0M1275.2 746.0h0M1275.2 746.0h0M1275.2 735.0h0M1275.2 735.0h0M1275.2 735.0h0M1275.2 735.0h0M1275.3 724.9h0M1275.3 724.9h0M1275.3 724.9h0M1275.3 724.9h0M1275.3 715.4h0M1275.3 715.4h0M1275.3 715.4h0M1275.3 715.4h0M1275.3 715.4h0M1275.4 706.7h0M1275.4 706.7h0M1275.4 706.7h0M1275.4 706.7h0M1275.4 706.7h0M1275.4 698.5h0M1275.4 698.5h0M1275.4 698.5h0M1275.4 698.5h0M1275.4 698.5h0M1275.4 690.9h0M1275.4 690.9h0M1275.4 690.9h0M1275.4 690.9h0M1275.4 690.9h0M1275.4 690.9h0M1275.5 683.9h0M1275.5 683.9h0M1275.5 683.9h0M1275.5 683.9h0M1275.5 683.9h0M1275.5 683.9h0M1275.5 677.3h0M1290.6 649.8h0M1290.6 648.7h0M1290.6 647.2h0M1290.6 646.3h0M1290.6 645.3h0M1290.6 643.9h0M1290.6 643.0h0M1290.6 641.9h0M1290.6 640.1h0M1290.6 638.9h0M1290.6 637.3h0M1290.6 635.0h0M1290.6 633.0h0M1290.6 630.7h0M1290.6 629.1h0M1290.6 626.7h0M1290.6 624.1h0M1290.6 621.3h0M1290.6 618.3h0M1290.6 616.0h0M1290.6 612.1h0M1290.6 608.4h0M1290.6 603.4h0M1290.6 599.2h0M1290.6 592.0h0M1290.6 585.6h0M1290.7 576.4h0M1290.7 567.5h0M1290.7 558.8h0M1290.7 547.6h0M1290.7 536.0h0M1290.7 519.8h0M1290.7 502.6h0M1290.7 483.5h0M1290.7 448.4h0M1290.8 413.9h0M1290.8 387.7h0M1290.8 360.5h0M1290.8 328.7h0M1290.9 300.3h0M1290.9 275.8h0M1290.9 249.8h0M1290.9 218.3h0M1290.9 200.2h0M1291.0 175.8h0M1291.0 157.4h0M1291.0 130.2h0M1291.7 140.2h0M1291.7 156.5h0M1291.7 175.6h0M1291.7 189.2h0M1291.7 207.6h0M1291.7 226.5h0M1291.7 247.3h0M1291.8 266.0h0M1291.8 283.5h0M1291.8 301.0h0M1291.8 315.7h0M1291.8 336.1h0M1291.8 348.7h0M1291.8 363.1h0M1291.9 374.9h0M1291.9 391.0h0M1291.9 411.5h0M1291.9 429.1h0M1291.9 439.7h0M1292.0 460.0h0M1292.0 471.0h0M1292.0 483.6h0M1292.1 499.4h0M1292.1 510.0h0M1292.1 529.3h0M1292.2 546.0h0M1292.2 563.1h0M1292.2 575.2h0M1292.2 584.4h0M1292.3 591.4h0M1292.3 598.2h0M1292.3 605.9h0M1292.3 613.6h0M1292.3 617.8h0M1292.4 622.8h0M1292.4 627.6h0M1292.4 630.7h0M1292.4 634.7h0M1292.4 637.3h0M1292.4 639.7h0M1292.4 641.7h0M1292.4 644.6h0M1292.4 645.9h0M1292.4 647.5h0M1292.4 649.2h0M1292.4 650.6h0M1292.5 651.7h0M1292.5 653.0h0M1292.5 654.2h0M1292.5 655.6h0M1292.5 656.8h0M1292.5 657.6h0M1292.5 658.8h0M1292.5 659.8h0M1292.5 661.1h0M1292.5 662.1h0M1292.5 663.6h0M1292.5 664.6h0M1292.5 666.0h0M1292.5 667.7h0M1292.5 668.8h0M1292.5 670.5h0M1292.5 672.0h0M1292.5 672.9h0M1292.5 674.5h0M1292.5 675.8h0M1292.5 676.9h0M1292.5 678.9h0M1292.6 680.7h0M1292.6 682.9h0M1292.6 684.2h0M1292.6 685.8h0M1292.6 687.7h0M1292.6 689.4h0M1292.6 690.8h0M1292.6 692.6h0M1292.6 694.6h0M1292.6 696.6h0M1292.6 698.6h0M1292.6 700.7h0M1292.6 702.9h0M1292.6 705.5h0M1292.7 707.5h0M1292.7 709.9h0M1292.7 713.0h0M1292.7 716.0h0M1292.7 719.2h0M1292.7 722.8h0M1292.7 725.6h0M1292.7 729.2h0M1292.8 732.9h0M1292.8 735.7h0M1292.8 739.4h0M1292.8 742.7h0M1292.8 746.3h0M1292.8 748.9h0M1292.8 753.1h0M1292.9 756.3h0M1292.9 757.9h0M1292.8 757.0h0M1293.0 756.3h0M1293.2 754.9h0M1292.9 744.2h0M1292.9 744.2h0M1292.9 744.2h0M1292.9 731.6h0M1292.9 731.6h0M1292.9 731.6h0M1292.9 731.6h0M1293.0 719.8h0M1293.0 719.8h0M1293.0 719.8h0M1293.0 719.8h0M1293.0 719.8h0M1293.0 709.0h0M1293.0 709.0h0M1293.0 709.0h0M1293.0 709.0h0M1293.1 699.0h0M1293.1 699.0h0M1293.1 699.0h0M1293.1 699.0h0M1293.1 699.0h0M1293.1 689.6h0M1293.1 689.6h0M1293.1 689.6h0M1293.1 689.6h0M1293.1 689.6h0M1293.1 681.0h0M1293.1 681.0h0M1293.1 681.0h0M1293.1 681.0h0M1293.1 681.0h0M1293.1 681.0h0M1293.2 673.0h0M1293.2 673.0h0M1293.2 673.0h0M1293.2 673.0h0M1293.2 673.0h0M1293.2 673.0h0M1293.2 673.0h0M1293.2 665.6h0M1307.8 634.4h0M1307.8 633.5h0M1307.8 632.5h0M1307.8 631.4h0M1307.8 630.6h0M1307.8 629.2h0M1307.8 627.5h0M1307.8 626.3h0M1307.8 624.4h0M1307.8 622.9h0M1307.8 621.3h0M1307.8 619.1h0M1307.8 617.2h0M1307.8 615.1h0M1307.8 612.2h0M1307.8 610.5h0M1307.8 608.0h0M1307.8 605.5h0M1307.8 602.4h0M1307.8 598.9h0M1307.8 594.7h0M1307.8 591.1h0M1307.8 585.0h0M1307.8 578.0h0M1307.8 570.5h0M1307.9 562.7h0M1307.9 552.5h0M1307.9 545.6h0M1307.9 533.6h0M1307.9 520.9h0M1307.9 507.3h0M1307.9 486.8h0M1307.9 466.5h0M1307.9 433.3h0M1308.0 414.5h0M1308.0 392.8h0M1308.0 367.3h0M1308.0 347.8h0M1308.0 328.8h0M1308.0 299.6h0M1308.1 277.9h0M1308.1 258.6h0M1308.1 228.9h0M1308.1 196.4h0M1308.1 168.3h0M1308.2 140.1h0M1308.9 130.6h0M1308.9 145.8h0M1308.9 162.9h0M1308.9 177.5h0M1308.9 197.7h0M1308.9 213.8h0M1308.9 226.9h0M1309.0 242.0h0M1309.0 261.9h0M1309.0 272.6h0M1309.0 294.2h0M1309.0 312.9h0M1309.0 329.0h0M1309.0 342.5h0M1309.1 355.7h0M1309.1 370.0h0M1309.1 388.5h0M1309.1 406.0h0M1309.1 422.0h0M1309.2 436.6h0M1309.2 451.8h0M1309.2 463.8h0M1309.2 478.4h0M1309.3 496.5h0M1309.3 507.1h0M1309.3 527.1h0M1309.4 535.8h0M1309.4 547.4h0M1309.4 556.7h0M1309.4 566.8h0M1309.5 574.1h0M1309.5 582.6h0M1309.5 587.4h0M1309.5 595.7h0M1309.5 603.0h0M1309.6 609.0h0M1309.6 613.7h0M1309.6 616.4h0M1309.6 620.1h0M1309.6 623.2h0M1309.6 626.3h0M1309.6 628.5h0M1309.6 631.0h0M1309.6 632.5h0M1309.6 633.5h0M1309.6 634.7h0M1309.6 636.5h0M1309.6 637.6h0M1309.6 638.6h0M1309.6 639.6h0M1309.7 641.3h0M1309.7 642.5h0M1309.7 643.5h0M1309.7 644.2h0M1309.7 645.5h0M1309.7 646.3h0M1309.7 647.6h0M1309.7 648.7h0M1309.7 649.8h0M1309.7 650.6h0M1309.7 652.0h0M1309.7 653.7h0M1309.7 655.0h0M1309.7 656.7h0M1309.7 657.8h0M1309.7 659.1h0M1309.7 660.6h0M1309.7 661.8h0M1309.7 663.9h0M1309.7 665.5h0M1309.7 666.6h0M1309.7 668.5h0M1309.8 669.8h0M1309.8 671.4h0M1309.8 673.7h0M1309.8 675.4h0M1309.8 677.0h0M1309.8 679.5h0M1309.8 681.2h0M1309.8 684.0h0M1309.8 685.5h0M1309.8 687.1h0M1309.8 690.1h0M1309.8 692.7h0M1309.8 695.2h0M1309.9 698.3h0M1309.9 700.5h0M1309.9 703.8h0M1309.9 706.2h0M1309.9 709.7h0M1309.9 712.6h0M1309.9 716.5h0M1309.9 720.6h0M1310.0 724.5h0M1310.0 727.0h0M1310.0 730.3h0M1310.0 734.8h0M1310.0 738.3h0M1310.0 741.2h0M1310.0 744.5h0M1309.9 743.6h0M1310.2 742.9h0M1310.3 741.5h0M1310.1 730.0h0M1310.1 730.0h0M1310.1 730.0h0M1310.1 730.0h0M1310.1 716.7h0M1310.1 716.7h0M1310.1 716.7h0M1310.1 716.7h0M1310.2 704.3h0M1310.2 704.3h0M1310.2 704.3h0M1310.2 704.3h0M1310.2 704.3h0M1310.2 692.9h0M1310.2 692.9h0M1310.2 692.9h0M1310.2 692.9h0M1310.2 692.9h0M1310.2 682.3h0M1310.2 682.3h0M1310.2 682.3h0M1310.2 682.3h0M1310.2 682.3h0M1310.3 672.5h0M1310.3 672.5h0M1310.3 672.5h0M1310.3 672.5h0M1310.3 672.5h0M1310.3 672.5h0M1310.3 672.5h0M1310.3 663.5h0M1310.3 663.5h0M1310.3 663.5h0M1310.3 663.5h0M1310.3 663.5h0M1310.3 663.5h0M1310.4 655.1h0M1310.4 655.1h0M1310.4 655.1h0M1310.4 655.1h0M1310.4 655.1h0M1310.4 655.1h0M1310.4 655.1h0M1310.4 655.1h0M1310.4 647.3h0M1324.8 617.2h0M1324.8 615.9h0M1324.8 614.5h0M1324.8 613.3h0M1324.8 612.0h0M1324.8 610.8h0M1324.8 609.8h0M1324.8 608.5h0M1324.8 607.3h0M1324.8 605.8h0M1324.8 604.2h0M1324.8 602.7h0M1324.8 600.1h0M1324.8 598.4h0M1324.8 596.4h0M1324.8 593.5h0M1324.8 591.2h0M1324.8 589.2h0M1324.8 586.1h0M1324.8 583.2h0M1324.8 579.0h0M1324.8 575.4h0M1324.8 571.6h0M1324.8 566.7h0M1324.8 560.8h0M1324.8 556.3h0M1324.8 551.6h0M1324.9 542.8h0M1324.9 535.7h0M1324.9 523.0h0M1324.9 508.7h0M1324.9 494.2h0M1324.9 482.3h0M1324.9 466.3h0M1324.9 451.4h0M1324.9 424.2h0M1325.0 397.1h0M1325.0 367.0h0M1325.0 343.5h0M1325.0 310.1h0M1325.0 277.3h0M1325.1 247.9h0M1325.1 221.8h0M1325.1 188.0h0M1325.1 161.9h0M1325.1 145.0h0M1325.9 133.1h0M1325.9 147.4h0M1325.9 160.3h0M1325.9 177.7h0M1325.9 195.9h0M1326.0 213.1h0M1326.0 227.9h0M1326.0 239.0h0M1326.0 253.1h0M1326.0 273.9h0M1326.0 292.6h0M1326.0 309.6h0M1326.0 326.6h0M1326.1 341.4h0M1326.1 352.1h0M1326.1 364.8h0M1326.1 378.6h0M1326.1 389.2h0M1326.1 403.6h0M1326.2 417.5h0M1326.2 432.5h0M1326.2 447.6h0M1326.3 466.7h0M1326.3 483.0h0M1326.3 503.0h0M1326.4 517.2h0M1326.4 527.7h0M1326.4 538.3h0M1326.5 549.3h0M1326.5 555.8h0M1326.5 564.9h0M1326.5 574.2h0M1326.5 581.1h0M1326.6 587.0h0M1326.6 592.7h0M1326.6 595.4h0M1326.6 599.3h0M1326.6 602.3h0M1326.6 604.6h0M1326.6 607.2h0M1326.6 608.9h0M1326.6 611.5h0M1326.6 612.9h0M1326.6 614.6h0M1326.6 615.8h0M1326.7 617.9h0M1326.7 619.0h0M1326.7 620.3h0M1326.7 621.2h0M1326.7 622.3h0M1326.7 623.5h0M1326.7 624.4h0M1326.7 626.0h0M1326.7 627.5h0M1326.7 628.2h0M1326.7 629.2h0M1326.7 629.9h0M1326.7 631.0h0M1326.7 632.3h0M1326.7 633.2h0M1326.7 634.7h0M1326.7 635.9h0M1326.7 637.3h0M1326.7 639.0h0M1326.7 640.1h0M1326.7 641.7h0M1326.7 643.5h0M1326.7 645.0h0M1326.7 646.2h0M1326.8 648.1h0M1326.8 649.6h0M1326.8 650.7h0M1326.8 652.9h0M1326.8 654.2h0M1326.8 656.3h0M1326.8 657.7h0M1326.8 659.6h0M1326.8 661.5h0M1326.8 663.2h0M1326.8 665.3h0M1326.8 668.2h0M1326.8 670.1h0M1326.8 672.5h0M1326.9 675.5h0M1326.9 677.3h0M1326.9 680.4h0M1326.9 683.7h0M1326.9 686.5h0M1326.9 688.4h0M1326.9 690.7h0M1326.9 693.0h0M1326.9 695.9h0M1326.9 698.3h0M1327.0 702.2h0M1327.0 706.4h0M1327.0 708.7h0M1327.0 712.8h0M1327.0 716.1h0M1327.0 719.7h0M1327.0 723.2h0M1327.1 726.6h0M1327.1 730.5h0M1327.1 731.0h0M1327.0 730.1h0M1327.2 729.4h0M1327.4 728.0h0M1327.1 716.0h0M1327.1 716.0h0M1327.1 716.0h0M1327.1 716.0h0M1327.2 702.1h0M1327.2 702.1h0M1327.2 702.1h0M1327.2 702.1h0M1327.2 689.3h0M1327.2 689.3h0M1327.2 689.3h0M1327.2 689.3h0M1327.2 689.3h0M1327.2 677.5h0M1327.2 677.5h0M1327.2 677.5h0M1327.2 677.5h0M1327.2 677.5h0M1327.3 666.5h0M1327.3 666.5h0M1327.3 666.5h0M1327.3 666.5h0M1327.3 666.5h0M1327.3 666.5h0M1327.3 656.4h0M1327.3 656.4h0M1327.3 656.4h0M1327.3 656.4h0M1327.3 656.4h0M1327.3 656.4h0M1327.4 647.0h0M1327.4 647.0h0M1327.4 647.0h0M1327.4 647.0h0M1327.4 647.0h0M1327.4 647.0h0M1327.4 647.0h0M1327.4 647.0h0M1327.4 638.3h0M1342.2 600.1h0M1342.2 598.5h0M1342.2 597.3h0M1342.2 596.0h0M1342.2 595.1h0M1342.2 593.6h0M1342.2 592.1h0M1342.2 590.2h0M1342.2 589.1h0M1342.2 587.7h0M1342.2 585.7h0M1342.2 583.5h0M1342.2 581.2h0M1342.2 579.5h0M1342.2 576.5h0M1342.2 573.9h0M1342.2 570.5h0M1342.2 566.7h0M1342.2 563.0h0M1342.2 559.2h0M1342.2 554.5h0M1342.2 551.1h0M1342.2 545.1h0M1342.2 537.6h0M1342.2 530.3h0M1342.3 521.8h0M1342.3 511.3h0M1342.3 499.6h0M1342.3 490.3h0M1342.3 473.0h0M1342.3 452.3h0M1342.3 435.0h0M1342.3 409.3h0M1342.3 390.5h0M1342.4 369.1h0M1342.4 345.4h0M1342.4 319.6h0M1342.4 288.4h0M1342.4 254.4h0M1342.5 223.7h0M1342.5 201.0h0M1342.5 178.2h0M1342.5 159.6h0M1342.5 132.7h0M1343.3 130.8h0M1343.3 142.9h0M1343.3 155.3h0M1343.3 176.8h0M1343.4 190.7h0M1343.4 207.9h0M1343.4 221.5h0M1343.4 233.3h0M1343.4 252.8h0M1343.4 271.7h0M1343.4 285.4h0M1343.4 296.8h0M1343.5 315.8h0M1343.5 329.3h0M1343.5 348.2h0M1343.5 361.4h0M1343.5 382.9h0M1343.6 394.8h0M1343.6 409.0h0M1343.6 421.9h0M1343.6 439.3h0M1343.7 458.4h0M1343.7 470.2h0M1343.7 485.6h0M1343.8 502.8h0M1343.8 513.5h0M1343.8 525.4h0M1343.8 535.9h0M1343.9 542.8h0M1343.9 552.1h0M1343.9 559.8h0M1343.9 565.3h0M1343.9 569.2h0M1343.9 572.6h0M1344.0 577.9h0M1344.0 581.7h0M1344.0 585.1h0M1344.0 587.8h0M1344.0 589.6h0M1344.0 591.5h0M1344.0 593.1h0M1344.0 595.7h0M1344.0 598.1h0M1344.0 599.6h0M1344.0 601.2h0M1344.0 602.6h0M1344.0 604.3h0M1344.0 606.0h0M1344.0 607.0h0M1344.1 608.7h0M1344.1 610.1h0M1344.1 611.3h0M1344.1 612.5h0M1344.1 613.2h0M1344.1 614.5h0M1344.1 616.0h0M1344.1 616.8h0M1344.1 617.8h0M1344.1 619.4h0M1344.1 621.1h0M1344.1 622.5h0M1344.1 624.3h0M1344.1 625.3h0M1344.1 626.6h0M1344.1 628.5h0M1344.1 629.5h0M1344.1 630.9h0M1344.1 632.1h0M1344.1 633.8h0M1344.1 636.1h0M1344.1 637.8h0M1344.2 640.1h0M1344.2 641.4h0M1344.2 643.2h0M1344.2 645.8h0M1344.2 648.5h0M1344.2 650.2h0M1344.2 651.8h0M1344.2 653.7h0M1344.2 656.6h0M1344.2 658.4h0M1344.2 660.4h0M1344.2 662.5h0M1344.2 664.9h0M1344.3 668.0h0M1344.3 670.8h0M1344.3 674.1h0M1344.3 676.9h0M1344.3 680.5h0M1344.3 683.2h0M1344.3 686.6h0M1344.3 689.5h0M1344.4 692.6h0M1344.4 695.3h0M1344.4 699.6h0M1344.4 702.8h0M1344.4 707.7h0M1344.4 711.9h0M1344.4 714.8h0M1344.4 715.6h0M1344.3 714.7h0M1344.6 714.0h0M1344.7 712.6h0M1344.5 700.1h0M1344.5 700.1h0M1344.5 700.1h0M1344.5 685.9h0M1344.5 685.9h0M1344.5 685.9h0M1344.5 685.9h0M1344.5 685.9h0M1344.6 672.7h0M1344.6 672.7h0M1344.6 672.7h0M1344.6 672.7h0M1344.6 672.7h0M1344.6 660.6h0M1344.6 660.6h0M1344.6 660.6h0M1344.6 660.6h0M1344.6 660.6h0M1344.6 649.3h0M1344.6 649.3h0M1344.6 649.3h0M1344.6 649.3h0M1344.6 649.3h0M1344.6 649.3h0M1344.7 638.9h0M1344.7 638.9h0M1344.7 638.9h0M1344.7 638.9h0M1344.7 638.9h0M1344.7 638.9h0M1344.7 629.2h0M1344.7 629.2h0M1344.7 629.2h0M1344.7 629.2h0M1344.7 629.2h0M1344.7 629.2h0M1344.7 629.2h0M1344.7 629.2h0M1344.8 620.3h0M1359.2 582.0h0M1359.2 580.5h0M1359.2 579.7h0M1359.2 578.1h0M1359.2 576.5h0M1359.2 574.8h0M1359.2 573.2h0M1359.2 571.8h0M1359.2 570.3h0M1359.2 568.9h0M1359.2 567.4h0M1359.2 565.6h0M1359.2 564.2h0M1359.2 562.9h0M1359.2 560.5h0M1359.2 557.5h0M1359.2 554.5h0M1359.2 552.6h0M1359.2 550.4h0M1359.2 548.2h0M1359.2 544.6h0M1359.2 540.3h0M1359.2 536.3h0M1359.2 533.1h0M1359.2 526.7h0M1359.2 519.9h0M1359.2 514.9h0M1359.3 505.9h0M1359.3 495.0h0M1359.3 486.5h0M1359.3 474.7h0M1359.3 466.1h0M1359.3 452.9h0M1359.3 439.5h0M1359.3 414.0h0M1359.3 385.4h0M1359.4 363.9h0M1359.4 333.5h0M1359.4 314.4h0M1359.4 296.3h0M1359.4 271.9h0M1359.4 240.0h0M1359.5 206.2h0M1359.5 183.9h0M1359.5 161.8h0M1359.5 136.9h0M1360.3 132.1h0M1360.3 148.5h0M1360.3 163.9h0M1360.4 176.7h0M1360.4 189.5h0M1360.4 203.9h0M1360.4 215.6h0M1360.4 233.0h0M1360.4 246.2h0M1360.4 267.4h0M1360.4 281.5h0M1360.4 300.4h0M1360.5 313.7h0M1360.5 326.7h0M1360.5 342.0h0M1360.5 358.4h0M1360.5 379.6h0M1360.6 391.9h0M1360.6 402.6h0M1360.6 414.0h0M1360.6 434.0h0M1360.6 445.1h0M1360.7 465.0h0M1360.7 475.3h0M1360.7 491.0h0M1360.8 500.4h0M1360.8 512.8h0M1360.8 520.9h0M1360.8 527.8h0M1360.8 532.3h0M1360.8 538.2h0M1360.9 543.8h0M1360.9 550.6h0M1360.9 555.2h0M1360.9 560.3h0M1360.9 563.7h0M1360.9 567.2h0M1360.9 570.3h0M1360.9 572.2h0M1360.9 574.7h0M1360.9 577.1h0M1361.0 578.8h0M1361.0 580.1h0M1361.0 581.3h0M1361.0 582.7h0M1361.0 584.4h0M1361.0 585.7h0M1361.0 586.7h0M1361.0 588.0h0M1361.0 589.5h0M1361.0 591.1h0M1361.0 592.1h0M1361.0 593.4h0M1361.0 594.1h0M1361.0 595.0h0M1361.0 596.0h0M1361.0 596.9h0M1361.0 597.7h0M1361.0 599.1h0M1361.0 600.1h0M1361.0 601.5h0M1361.0 602.5h0M1361.0 603.5h0M1361.0 604.5h0M1361.0 606.2h0M1361.0 607.2h0M1361.0 608.3h0M1361.0 609.9h0M1361.0 611.4h0M1361.1 613.3h0M1361.1 614.7h0M1361.1 615.9h0M1361.1 617.8h0M1361.1 619.4h0M1361.1 621.3h0M1361.1 622.7h0M1361.1 625.2h0M1361.1 627.5h0M1361.1 629.2h0M1361.1 631.1h0M1361.1 632.7h0M1361.1 635.6h0M1361.1 637.3h0M1361.1 639.5h0M1361.1 641.4h0M1361.1 643.8h0M1361.2 646.5h0M1361.2 648.7h0M1361.2 651.5h0M1361.2 654.6h0M1361.2 656.9h0M1361.2 660.8h0M1361.2 663.5h0M1361.2 666.8h0M1361.2 671.0h0M1361.3 673.9h0M1361.3 676.1h0M1361.3 679.0h0M1361.3 681.5h0M1361.3 684.1h0M1361.3 688.9h0M1361.3 693.1h0M1361.3 696.2h0M1361.3 698.8h0M1361.2 697.9h0M1361.5 697.2h0M1361.6 695.8h0M1361.4 683.2h0M1361.4 683.2h0M1361.4 683.2h0M1361.4 683.2h0M1361.4 668.9h0M1361.4 668.9h0M1361.4 668.9h0M1361.4 668.9h0M1361.5 655.6h0M1361.5 655.6h0M1361.5 655.6h0M1361.5 655.6h0M1361.5 655.6h0M1361.5 643.3h0M1361.5 643.3h0M1361.5 643.3h0M1361.5 643.3h0M1361.5 643.3h0M1361.5 643.3h0M1361.5 631.9h0M1361.5 631.9h0M1361.5 631.9h0M1361.5 631.9h0M1361.5 631.9h0M1361.6 621.4h0M1361.6 621.4h0M1361.6 621.4h0M1361.6 621.4h0M1361.6 621.4h0M1361.6 621.4h0M1361.6 621.4h0M1361.6 611.7h0M1361.6 611.7h0M1361.6 611.7h0M1361.6 611.7h0M1361.6 611.7h0M1361.6 611.7h0M1361.6 611.7h0M1361.6 611.7h0M1361.7 602.7h0M1375.0 561.5h0M1375.0 560.3h0M1375.0 559.3h0M1375.0 557.7h0M1375.0 556.8h0M1375.0 555.1h0M1375.0 554.0h0M1375.0 552.8h0M1375.0 551.4h0M1375.0 550.0h0M1375.0 548.8h0M1375.0 546.8h0M1375.0 545.6h0M1375.0 543.9h0M1375.0 542.6h0M1375.0 541.2h0M1375.0 539.2h0M1375.0 536.8h0M1375.0 535.1h0M1375.0 532.6h0M1375.0 530.0h0M1375.0 525.9h0M1375.0 521.3h0M1375.0 517.2h0M1375.0 512.2h0M1375.0 509.0h0M1375.0 503.6h0M1375.0 496.2h0M1375.1 487.7h0M1375.1 478.7h0M1375.1 467.9h0M1375.1 454.0h0M1375.1 440.3h0M1375.1 428.6h0M1375.1 409.3h0M1375.1 392.3h0M1375.1 361.6h0M1375.2 341.0h0M1375.2 308.4h0M1375.2 279.6h0M1375.2 250.8h0M1375.2 230.0h0M1375.2 204.6h0M1375.3 178.2h0M1375.3 143.3h0M1376.2 147.3h0M1376.2 162.0h0M1376.2 177.8h0M1376.2 195.9h0M1376.2 210.9h0M1376.2 224.2h0M1376.2 237.8h0M1376.2 258.6h0M1376.2 274.1h0M1376.3 292.9h0M1376.3 310.9h0M1376.3 325.2h0M1376.3 340.1h0M1376.4 356.1h0M1376.4 372.3h0M1376.4 389.4h0M1376.4 402.1h0M1376.5 417.5h0M1376.5 435.7h0M1376.5 447.3h0M1376.5 459.3h0M1376.6 472.9h0M1376.6 484.1h0M1376.6 493.6h0M1376.6 499.4h0M1376.6 507.8h0M1376.7 515.6h0M1376.7 519.9h0M1376.7 524.1h0M1376.7 530.5h0M1376.7 534.8h0M1376.7 539.6h0M1376.7 542.1h0M1376.7 546.3h0M1376.8 549.3h0M1376.8 551.4h0M1376.8 554.0h0M1376.8 556.2h0M1376.8 557.7h0M1376.8 560.0h0M1376.8 561.0h0M1376.8 562.3h0M1376.8 563.9h0M1376.8 565.5h0M1376.8 566.5h0M1376.8 568.2h0M1376.8 569.2h0M1376.8 570.3h0M1376.8 571.9h0M1376.8 572.9h0M1376.8 574.0h0M1376.8 575.0h0M1376.8 576.0h0M1376.8 577.0h0M1376.8 577.9h0M1376.8 579.0h0M1376.8 580.1h0M1376.8 581.4h0M1376.9 582.3h0M1376.9 583.2h0M1376.9 584.7h0M1376.9 586.1h0M1376.9 587.7h0M1376.9 589.3h0M1376.9 590.3h0M1376.9 591.4h0M1376.9 593.4h0M1376.9 595.0h0M1376.9 596.5h0M1376.9 598.4h0M1376.9 599.8h0M1376.9 602.2h0M1376.9 604.3h0M1376.9 605.9h0M1376.9 608.2h0M1376.9 610.2h0M1376.9 612.0h0M1376.9 613.6h0M1377.0 615.3h0M1377.0 617.6h0M1377.0 619.8h0M1377.0 622.9h0M1377.0 625.1h0M1377.0 627.7h0M1377.0 631.0h0M1377.0 634.2h0M1377.0 637.4h0M1377.0 641.1h0M1377.1 644.4h0M1377.1 648.2h0M1377.1 651.9h0M1377.1 654.5h0M1377.1 658.2h0M1377.1 662.4h0M1377.1 666.5h0M1377.2 670.1h0M1377.2 672.7h0M1377.2 676.9h0M1377.2 681.1h0M1377.1 680.2h0M1377.3 679.5h0M1377.5 678.1h0M1377.2 665.4h0M1377.2 665.4h0M1377.2 665.4h0M1377.2 665.4h0M1377.3 650.8h0M1377.3 650.8h0M1377.3 650.8h0M1377.3 650.8h0M1377.3 637.4h0M1377.3 637.4h0M1377.3 637.4h0M1377.3 637.4h0M1377.3 637.4h0M1377.4 624.9h0M1377.4 624.9h0M1377.4 624.9h0M1377.4 624.9h0M1377.4 624.9h0M1377.4 613.4h0M1377.4 613.4h0M1377.4 613.4h0M1377.4 613.4h0M1377.4 613.4h0M1377.4 613.4h0M1377.4 602.7h0M1377.4 602.7h0M1377.4 602.7h0M1377.4 602.7h0M1377.4 602.7h0M1377.4 602.7h0M1377.4 602.7h0M1377.5 592.9h0M1377.5 592.9h0M1377.5 592.9h0M1377.5 592.9h0M1377.5 592.9h0M1377.5 592.9h0M1377.5 592.9h0M1377.5 592.9h0M1377.5 583.7h0M1391.4 537.9h0M1391.4 536.6h0M1391.4 535.0h0M1391.4 533.8h0M1391.4 532.1h0M1391.4 531.0h0M1391.4 529.5h0M1391.4 528.0h0M1391.4 526.6h0M1391.4 525.0h0M1391.4 522.8h0M1391.4 521.5h0M1391.4 519.3h0M1391.4 517.7h0M1391.4 515.5h0M1391.4 512.8h0M1391.4 510.3h0M1391.4 506.9h0M1391.4 503.3h0M1391.4 501.0h0M1391.4 498.2h0M1391.4 493.7h0M1391.4 488.9h0M1391.4 484.1h0M1391.4 480.5h0M1391.4 476.1h0M1391.4 470.8h0M1391.5 463.9h0M1391.5 455.0h0M1391.5 447.6h0M1391.5 436.7h0M1391.5 424.0h0M1391.5 411.8h0M1391.5 392.4h0M1391.5 377.1h0M1391.5 351.2h0M1391.5 330.0h0M1391.6 299.2h0M1391.6 274.2h0M1391.6 251.3h0M1391.6 219.2h0M1391.6 195.5h0M1391.7 164.3h0M1391.7 138.4h0M1392.6 141.2h0M1392.6 162.2h0M1392.6 175.6h0M1392.6 191.7h0M1392.6 210.2h0M1392.6 222.4h0M1392.6 238.6h0M1392.6 255.4h0M1392.7 275.2h0M1392.7 292.1h0M1392.7 312.4h0M1392.7 330.8h0M1392.8 342.8h0M1392.8 361.7h0M1392.8 377.6h0M1392.8 394.2h0M1392.9 409.2h0M1392.9 423.7h0M1392.9 435.3h0M1392.9 446.0h0M1393.0 458.8h0M1393.0 465.9h0M1393.0 473.4h0M1393.0 480.3h0M1393.0 484.8h0M1393.0 489.4h0M1393.1 495.3h0M1393.1 502.7h0M1393.1 507.7h0M1393.1 511.2h0M1393.1 513.9h0M1393.1 517.0h0M1393.1 521.5h0M1393.1 524.0h0M1393.1 527.4h0M1393.1 530.0h0M1393.1 531.6h0M1393.2 534.1h0M1393.2 535.8h0M1393.2 536.9h0M1393.2 538.8h0M1393.2 540.2h0M1393.2 541.2h0M1393.2 542.4h0M1393.2 543.6h0M1393.2 544.6h0M1393.2 546.1h0M1393.2 547.7h0M1393.2 549.1h0M1393.2 550.1h0M1393.2 551.9h0M1393.2 553.3h0M1393.2 554.1h0M1393.2 555.4h0M1393.2 556.8h0M1393.2 558.2h0M1393.2 559.8h0M1393.2 561.0h0M1393.2 561.9h0M1393.2 563.6h0M1393.2 565.1h0M1393.2 567.0h0M1393.3 568.9h0M1393.3 570.6h0M1393.3 571.7h0M1393.3 573.8h0M1393.3 574.9h0M1393.3 576.5h0M1393.3 578.2h0M1393.3 579.5h0M1393.3 581.1h0M1393.3 583.3h0M1393.3 584.8h0M1393.3 587.0h0M1393.3 588.7h0M1393.3 590.2h0M1393.3 593.0h0M1393.3 594.9h0M1393.3 596.4h0M1393.4 598.9h0M1393.4 601.4h0M1393.4 604.0h0M1393.4 607.4h0M1393.4 609.7h0M1393.4 612.6h0M1393.4 616.1h0M1393.4 618.4h0M1393.4 621.7h0M1393.4 624.4h0M1393.5 628.6h0M1393.5 630.8h0M1393.5 633.5h0M1393.5 637.6h0M1393.5 640.1h0M1393.5 644.2h0M1393.5 647.6h0M1393.5 651.9h0M1393.6 656.4h0M1393.6 660.6h0M1393.5 659.7h0M1393.7 659.0h0M1393.9 657.6h0M1393.6 644.5h0M1393.6 644.5h0M1393.6 644.5h0M1393.6 644.5h0M1393.6 629.6h0M1393.6 629.6h0M1393.6 629.6h0M1393.6 629.6h0M1393.7 615.8h0M1393.7 615.8h0M1393.7 615.8h0M1393.7 615.8h0M1393.7 615.8h0M1393.7 603.1h0M1393.7 603.1h0M1393.7 603.1h0M1393.7 603.1h0M1393.7 603.1h0M1393.7 603.1h0M1393.8 591.3h0M1393.8 591.3h0M1393.8 591.3h0M1393.8 591.3h0M1393.8 591.3h0M1393.8 591.3h0M1393.8 580.3h0M1393.8 580.3h0M1393.8 580.3h0M1393.8 580.3h0M1393.8 580.3h0M1393.8 580.3h0M1393.8 580.3h0M1393.8 570.2h0M1393.8 570.2h0M1393.8 570.2h0M1393.8 570.2h0M1393.8 570.2h0M1393.8 570.2h0M1393.8 570.2h0M1393.8 570.2h0M1393.9 560.8h0M1407.5 511.9h0M1407.5 510.7h0M1407.5 509.1h0M1407.5 507.9h0M1407.5 506.5h0M1407.5 505.1h0M1407.5 503.8h0M1407.5 501.9h0M1407.5 500.8h0M1407.5 499.4h0M1407.5 497.2h0M1407.5 495.9h0M1407.5 493.6h0M1407.5 491.5h0M1407.5 489.5h0M1407.5 486.6h0M1407.5 483.3h0M1407.5 481.3h0M1407.5 479.0h0M1407.5 476.8h0M1407.5 474.0h0M1407.5 470.4h0M1407.5 467.0h0M1407.5 462.4h0M1407.5 459.4h0M1407.5 456.1h0M1407.5 451.1h0M1407.5 446.0h0M1407.6 440.0h0M1407.6 432.3h0M1407.6 423.8h0M1407.6 417.6h0M1407.6 410.5h0M1407.6 403.1h0M1407.6 388.9h0M1407.6 370.1h0M1407.6 348.6h0M1407.6 328.0h0M1407.6 298.1h0M1407.7 270.7h0M1407.7 252.4h0M1407.7 234.1h0M1407.7 203.4h0M1407.7 177.1h0M1407.8 148.4h0M1408.7 136.7h0M1408.7 152.1h0M1408.7 164.1h0M1408.7 183.9h0M1408.7 195.9h0M1408.7 213.2h0M1408.7 226.9h0M1408.7 240.6h0M1408.7 253.2h0M1408.7 268.3h0M1408.8 287.5h0M1408.8 303.9h0M1408.8 319.8h0M1408.8 332.6h0M1408.8 346.5h0M1408.8 366.4h0M1408.9 376.8h0M1408.9 392.1h0M1408.9 407.1h0M1408.9 418.5h0M1408.9 427.3h0M1408.9 434.8h0M1409.0 444.4h0M1409.0 452.8h0M1409.0 458.0h0M1409.0 463.6h0M1409.0 470.7h0M1409.0 474.2h0M1409.0 480.4h0M1409.0 485.0h0M1409.0 488.0h0M1409.0 492.6h0M1409.1 495.4h0M1409.1 498.6h0M1409.1 501.1h0M1409.1 502.8h0M1409.1 504.8h0M1409.1 506.3h0M1409.1 508.4h0M1409.1 510.6h0M1409.1 511.6h0M1409.1 512.7h0M1409.1 513.9h0M1409.1 515.3h0M1409.1 516.5h0M1409.1 518.0h0M1409.1 519.7h0M1409.1 520.7h0M1409.1 521.7h0M1409.1 523.0h0M1409.1 524.4h0M1409.1 525.9h0M1409.1 527.2h0M1409.1 528.9h0M1409.1 530.2h0M1409.1 531.6h0M1409.1 532.6h0M1409.1 534.1h0M1409.1 535.3h0M1409.1 536.8h0M1409.1 538.3h0M1409.1 539.2h0M1409.1 541.0h0M1409.2 542.7h0M1409.2 544.3h0M1409.2 546.0h0M1409.2 547.4h0M1409.2 549.0h0M1409.2 550.5h0M1409.2 551.9h0M1409.2 553.6h0M1409.2 555.2h0M1409.2 557.4h0M1409.2 559.2h0M1409.2 560.7h0M1409.2 563.1h0M1409.2 565.5h0M1409.2 568.2h0M1409.2 570.7h0M1409.2 572.2h0M1409.2 573.9h0M1409.2 577.1h0M1409.2 579.9h0M1409.2 582.4h0M1409.3 585.8h0M1409.3 587.7h0M1409.3 591.2h0M1409.3 593.6h0M1409.3 595.6h0M1409.3 599.4h0M1409.3 603.4h0M1409.3 605.6h0M1409.3 609.4h0M1409.3 614.0h0M1409.3 618.6h0M1409.4 622.6h0M1409.4 627.4h0M1409.4 632.4h0M1409.4 636.7h0M1409.4 637.8h0M1409.3 636.9h0M1409.5 636.2h0M1409.7 634.8h0M1409.4 621.3h0M1409.4 621.3h0M1409.4 621.3h0M1409.4 621.3h0M1409.5 606.1h0M1409.5 606.1h0M1409.5 606.1h0M1409.5 606.1h0M1409.5 592.0h0M1409.5 592.0h0M1409.5 592.0h0M1409.5 592.0h0M1409.5 592.0h0M1409.5 592.0h0M1409.6 578.9h0M1409.6 578.9h0M1409.6 578.9h0M1409.6 578.9h0M1409.6 578.9h0M1409.6 566.9h0M1409.6 566.9h0M1409.6 566.9h0M1409.6 566.9h0M1409.6 566.9h0M1409.6 566.9h0M1409.6 555.7h0M1409.6 555.7h0M1409.6 555.7h0M1409.6 555.7h0M1409.6 555.7h0M1409.6 555.7h0M1409.6 555.7h0M1409.7 545.3h0M1409.7 545.3h0M1409.7 545.3h0M1409.7 545.3h0M1409.7 545.3h0M1409.7 545.3h0M1409.7 545.3h0M1409.7 545.3h0M1409.7 535.7h0M1422.8 483.5h0M1422.8 482.4h0M1422.8 481.2h0M1422.8 480.0h0M1422.8 479.1h0M1422.8 477.8h0M1422.8 476.5h0M1422.8 474.8h0M1422.8 473.6h0M1422.8 472.6h0M1422.8 470.7h0M1422.8 468.8h0M1422.8 467.6h0M1422.8 466.1h0M1422.8 463.8h0M1422.8 462.0h0M1422.8 460.1h0M1422.8 457.7h0M1422.8 454.5h0M1422.8 451.5h0M1422.8 449.5h0M1422.8 446.6h0M1422.8 442.2h0M1422.8 438.1h0M1422.8 433.7h0M1422.8 428.6h0M1422.8 422.8h0M1422.8 419.0h0M1422.9 411.4h0M1422.9 406.0h0M1422.9 398.6h0M1422.9 391.7h0M1422.9 385.4h0M1422.9 377.6h0M1422.9 366.4h0M1422.9 351.4h0M1422.9 337.2h0M1422.9 320.6h0M1422.9 295.1h0M1423.0 268.0h0M1423.0 239.0h0M1423.0 211.2h0M1423.0 189.4h0M1423.0 155.3h0M1423.0 132.9h0M1424.0 145.0h0M1424.0 164.0h0M1424.0 183.4h0M1424.0 204.6h0M1424.0 223.7h0M1424.0 244.7h0M1424.0 259.9h0M1424.0 273.7h0M1424.0 287.9h0M1424.0 302.3h0M1424.1 317.0h0M1424.1 332.7h0M1424.1 343.3h0M1424.1 357.8h0M1424.1 371.3h0M1424.1 381.5h0M1424.1 390.2h0M1424.2 403.3h0M1424.2 413.6h0M1424.2 422.9h0M1424.2 430.7h0M1424.2 435.0h0M1424.2 439.9h0M1424.2 446.0h0M1424.2 451.7h0M1424.2 455.0h0M1424.2 459.2h0M1424.2 463.4h0M1424.2 467.3h0M1424.2 469.4h0M1424.2 472.5h0M1424.2 475.0h0M1424.3 477.9h0M1424.3 479.2h0M1424.3 481.2h0M1424.3 483.3h0M1424.3 485.0h0M1424.3 486.1h0M1424.3 487.3h0M1424.3 489.0h0M1424.3 490.4h0M1424.3 491.7h0M1424.3 492.9h0M1424.3 494.2h0M1424.3 495.1h0M1424.3 496.3h0M1424.3 497.9h0M1424.3 499.6h0M1424.3 500.6h0M1424.3 502.0h0M1424.3 503.7h0M1424.3 504.7h0M1424.3 505.6h0M1424.3 506.7h0M1424.3 507.6h0M1424.3 508.9h0M1424.3 510.2h0M1424.3 511.3h0M1424.3 512.8h0M1424.3 514.5h0M1424.3 515.6h0M1424.3 517.1h0M1424.3 518.2h0M1424.3 519.8h0M1424.3 520.8h0M1424.3 522.2h0M1424.3 524.1h0M1424.3 525.9h0M1424.3 527.4h0M1424.3 528.7h0M1424.3 530.9h0M1424.3 532.8h0M1424.3 534.3h0M1424.3 536.8h0M1424.4 539.1h0M1424.4 541.5h0M1424.4 543.6h0M1424.4 546.2h0M1424.4 547.9h0M1424.4 549.8h0M1424.4 552.6h0M1424.4 555.0h0M1424.4 557.2h0M1424.4 558.9h0M1424.4 561.1h0M1424.4 564.4h0M1424.4 566.4h0M1424.4 569.6h0M1424.4 572.4h0M1424.4 575.4h0M1424.4 578.3h0M1424.4 582.6h0M1424.4 587.3h0M1424.5 590.8h0M1424.5 595.4h0M1424.5 599.3h0M1424.5 604.2h0M1424.5 609.7h0M1424.5 613.5h0M1424.5 614.2h0M1424.4 613.3h0M1424.7 612.6h0M1424.8 611.2h0M1424.5 597.3h0M1424.5 597.3h0M1424.5 597.3h0M1424.5 597.3h0M1424.6 581.6h0M1424.6 581.6h0M1424.6 581.6h0M1424.6 581.6h0M1424.6 567.1h0M1424.6 567.1h0M1424.6 567.1h0M1424.6 567.1h0M1424.6 567.1h0M1424.6 567.1h0M1424.7 553.7h0M1424.7 553.7h0M1424.7 553.7h0M1424.7 553.7h0M1424.7 553.7h0M1424.7 541.2h0M1424.7 541.2h0M1424.7 541.2h0M1424.7 541.2h0M1424.7 541.2h0M1424.7 541.2h0M1424.7 529.7h0M1424.7 529.7h0M1424.7 529.7h0M1424.7 529.7h0M1424.7 529.7h0M1424.7 529.7h0M1424.7 529.7h0M1424.8 519.0h0M1424.8 519.0h0M1424.8 519.0h0M1424.8 519.0h0M1424.8 519.0h0M1424.8 519.0h0M1424.8 519.0h0M1424.8 519.0h0M1424.8 519.0h0M1424.8 519.0h0M1424.8 509.1h0M1437.9 453.8h0M1437.9 452.3h0M1437.9 451.3h0M1437.9 449.7h0M1437.9 448.2h0M1437.9 446.4h0M1437.9 445.3h0M1437.9 444.0h0M1437.9 442.7h0M1437.9 440.9h0M1437.9 439.8h0M1437.9 438.6h0M1437.9 436.4h0M1437.9 434.1h0M1437.9 431.6h0M1437.9 429.3h0M1437.9 427.4h0M1437.9 425.3h0M1437.9 422.2h0M1437.9 420.0h0M1437.9 417.6h0M1437.9 413.8h0M1437.9 409.5h0M1437.9 406.3h0M1437.9 403.0h0M1437.9 397.1h0M1437.9 393.1h0M1437.9 387.0h0M1438.0 379.1h0M1438.0 374.2h0M1438.0 368.5h0M1438.0 360.0h0M1438.0 352.6h0M1438.0 338.9h0M1438.0 326.8h0M1438.0 308.8h0M1438.0 289.9h0M1438.0 273.3h0M1438.0 254.9h0M1438.1 228.4h0M1438.1 203.3h0M1438.1 169.3h0M1438.1 147.6h0M1439.1 130.6h0M1439.1 150.1h0M1439.1 168.0h0M1439.1 180.2h0M1439.1 195.2h0M1439.1 209.4h0M1439.1 230.8h0M1439.1 248.6h0M1439.1 262.0h0M1439.1 275.5h0M1439.2 295.9h0M1439.2 311.7h0M1439.2 325.9h0M1439.2 338.7h0M1439.2 347.6h0M1439.2 354.6h0M1439.2 364.7h0M1439.2 372.0h0M1439.3 382.7h0M1439.3 390.1h0M1439.3 396.3h0M1439.3 404.5h0M1439.3 410.8h0M1439.3 416.9h0M1439.3 422.3h0M1439.3 426.9h0M1439.3 431.4h0M1439.3 434.4h0M1439.3 437.5h0M1439.3 439.8h0M1439.3 443.0h0M1439.3 445.1h0M1439.3 447.1h0M1439.3 449.2h0M1439.3 450.4h0M1439.4 451.5h0M1439.4 453.5h0M1439.4 454.5h0M1439.4 455.9h0M1439.4 457.1h0M1439.4 458.4h0M1439.4 459.5h0M1439.4 460.9h0M1439.4 461.8h0M1439.4 462.8h0M1439.4 464.4h0M1439.4 465.9h0M1439.4 467.3h0M1439.4 468.3h0M1439.4 469.2h0M1439.4 470.1h0M1439.4 471.9h0M1439.4 473.6h0M1439.4 474.8h0M1439.4 476.2h0M1439.4 477.4h0M1439.4 479.0h0M1439.4 480.3h0M1439.4 481.6h0M1439.4 482.3h0M1439.4 483.6h0M1439.4 484.7h0M1439.4 486.2h0M1439.4 487.2h0M1439.4 488.1h0M1439.4 489.5h0M1439.4 490.8h0M1439.4 491.9h0M1439.4 492.9h0M1439.4 494.3h0M1439.4 496.0h0M1439.4 497.7h0M1439.4 499.4h0M1439.4 500.7h0M1439.4 502.5h0M1439.4 503.7h0M1439.4 504.9h0M1439.4 506.1h0M1439.4 507.5h0M1439.4 509.9h0M1439.5 512.5h0M1439.5 514.6h0M1439.5 516.4h0M1439.5 518.5h0M1439.5 521.2h0M1439.5 523.7h0M1439.5 526.1h0M1439.5 528.8h0M1439.5 531.5h0M1439.5 535.0h0M1439.5 537.2h0M1439.5 540.5h0M1439.5 542.6h0M1439.5 546.5h0M1439.5 550.4h0M1439.5 554.7h0M1439.5 557.3h0M1439.5 561.4h0M1439.5 564.5h0M1439.6 568.1h0M1439.6 572.5h0M1439.6 576.2h0M1439.6 581.7h0M1439.6 584.8h0M1439.6 588.8h0M1439.6 589.3h0M1439.5 588.4h0M1439.8 587.7h0M1439.9 586.3h0M1439.6 571.5h0M1439.6 571.5h0M1439.6 571.5h0M1439.6 571.5h0M1439.7 555.0h0M1439.7 555.0h0M1439.7 555.0h0M1439.7 555.0h0M1439.7 555.0h0M1439.7 539.7h0M1439.7 539.7h0M1439.7 539.7h0M1439.7 539.7h0M1439.7 539.7h0M1439.8 525.6h0M1439.8 525.6h0M1439.8 525.6h0M1439.8 525.6h0M1439.8 525.6h0M1439.8 525.6h0M1439.8 525.6h0M1439.8 512.5h0M1439.8 512.5h0M1439.8 512.5h0M1439.8 512.5h0M1439.8 512.5h0M1439.8 512.5h0M1439.8 500.4h0M1439.8 500.4h0M1439.8 500.4h0M1439.8 500.4h0M1439.8 500.4h0M1439.8 500.4h0M1439.8 500.4h0M1439.8 500.4h0M1439.8 500.4h0M1439.9 489.1h0M1452.9 423.0h0M1452.9 421.9h0M1452.9 420.5h0M1452.9 419.3h0M1452.9 417.6h0M1452.9 416.5h0M1452.9 414.8h0M1452.9 413.9h0M1452.9 412.7h0M1452.9 411.7h0M1452.9 410.0h0M1452.9 407.9h0M1452.9 406.3h0M1452.9 404.8h0M1452.9 403.5h0M1452.9 401.9h0M1452.9 400.1h0M1452.9 398.6h0M1452.9 396.3h0M1452.9 394.0h0M1452.9 392.3h0M1452.9 389.3h0M1452.9 386.7h0M1452.9 383.9h0M1452.9 379.8h0M1452.9 376.8h0M1452.9 372.2h0M1452.9 369.1h0M1452.9 363.2h0M1452.9 359.6h0M1453.0 352.9h0M1453.0 344.9h0M1453.0 338.8h0M1453.0 330.9h0M1453.0 321.6h0M1453.0 309.8h0M1453.0 300.5h0M1453.0 286.5h0M1453.0 273.1h0M1453.0 262.4h0M1453.0 242.4h0M1453.0 215.5h0M1453.1 190.8h0M1453.1 166.6h0M1453.1 139.7h0M1454.1 141.1h0M1454.1 156.6h0M1454.1 168.2h0M1454.1 188.6h0M1454.1 200.0h0M1454.1 211.4h0M1454.1 229.9h0M1454.1 244.3h0M1454.2 257.4h0M1454.2 272.9h0M1454.2 281.9h0M1454.2 292.3h0M1454.2 304.1h0M1454.2 318.8h0M1454.2 328.0h0M1454.2 338.6h0M1454.3 347.5h0M1454.3 352.7h0M1454.3 360.3h0M1454.3 368.1h0M1454.3 375.6h0M1454.3 381.1h0M1454.3 385.9h0M1454.3 390.6h0M1454.3 395.6h0M1454.3 400.0h0M1454.3 404.1h0M1454.3 407.9h0M1454.3 410.3h0M1454.3 413.3h0M1454.3 415.6h0M1454.4 418.2h0M1454.4 420.1h0M1454.4 421.8h0M1454.4 423.5h0M1454.4 424.8h0M1454.4 426.3h0M1454.4 428.0h0M1454.4 429.0h0M1454.4 430.4h0M1454.4 431.8h0M1454.4 433.2h0M1454.4 434.8h0M1454.4 436.0h0M1454.4 436.9h0M1454.4 438.0h0M1454.4 439.7h0M1454.4 441.2h0M1454.4 443.0h0M1454.4 444.3h0M1454.4 445.6h0M1454.4 446.6h0M1454.4 447.7h0M1454.4 449.0h0M1454.4 450.1h0M1454.4 451.0h0M1454.4 451.9h0M1454.4 453.2h0M1454.4 454.3h0M1454.4 455.5h0M1454.4 457.3h0M1454.4 459.0h0M1454.4 460.0h0M1454.4 461.6h0M1454.4 463.2h0M1454.4 464.5h0M1454.4 465.9h0M1454.4 467.1h0M1454.4 469.2h0M1454.4 471.6h0M1454.4 473.4h0M1454.4 475.8h0M1454.4 477.6h0M1454.5 479.1h0M1454.5 481.7h0M1454.5 483.8h0M1454.5 485.8h0M1454.5 488.1h0M1454.5 491.3h0M1454.5 493.3h0M1454.5 495.1h0M1454.5 497.9h0M1454.5 501.2h0M1454.5 503.1h0M1454.5 506.0h0M1454.5 510.0h0M1454.5 513.1h0M1454.5 515.6h0M1454.5 518.6h0M1454.5 522.7h0M1454.5 526.0h0M1454.5 529.7h0M1454.6 532.9h0M1454.6 537.9h0M1454.6 542.1h0M1454.6 547.0h0M1454.6 550.7h0M1454.6 554.2h0M1454.5 553.3h0M1454.8 552.6h0M1454.9 551.2h0M1454.6 535.4h0M1454.6 535.4h0M1454.6 535.4h0M1454.6 535.4h0M1454.7 518.0h0M1454.7 518.0h0M1454.7 518.0h0M1454.7 518.0h0M1454.7 518.0h0M1454.7 501.9h0M1454.7 501.9h0M1454.7 501.9h0M1454.7 501.9h0M1454.7 501.9h0M1454.7 501.9h0M1454.8 487.0h0M1454.8 487.0h0M1454.8 487.0h0M1454.8 487.0h0M1454.8 487.0h0M1454.8 487.0h0M1454.8 487.0h0M1454.8 473.2h0M1454.8 473.2h0M1454.8 473.2h0M1454.8 473.2h0M1454.8 473.2h0M1454.8 473.2h0M1454.8 473.2h0M1454.8 473.2h0M1454.8 473.2h0M1454.8 460.4h0M1454.8 460.4h0M1454.8 460.4h0M1454.8 460.4h0M1454.8 460.4h0M1454.8 460.4h0M1454.8 460.4h0M1454.8 460.4h0M1454.8 460.4h0M1454.8 460.4h0M1454.9 448.5h0M1467.9 382.5h0M1467.9 381.4h0M1467.9 380.4h0M1467.9 378.8h0M1467.9 377.6h0M1467.9 376.1h0M1467.9 374.7h0M1467.9 373.7h0M1467.9 371.9h0M1467.9 370.7h0M1467.9 369.7h0M1467.9 367.6h0M1467.9 366.2h0M1467.9 365.1h0M1467.9 363.8h0M1467.9 361.7h0M1467.9 359.5h0M1467.9 357.5h0M1467.9 355.4h0M1467.9 353.5h0M1467.9 350.4h0M1467.9 348.6h0M1467.9 346.7h0M1467.9 343.2h0M1467.9 339.3h0M1467.9 335.4h0M1467.9 330.5h0M1467.9 325.4h0M1467.9 321.4h0M1467.9 317.9h0M1468.0 312.4h0M1468.0 308.6h0M1468.0 302.8h0M1468.0 298.3h0M1468.0 289.8h0M1468.0 284.5h0M1468.0 274.3h0M1468.0 261.9h0M1468.0 253.8h0M1468.0 241.8h0M1468.0 232.3h0M1468.0 220.0h0M1468.0 208.3h0M1468.0 191.0h0M1468.1 175.2h0M1468.1 152.0h0M1469.1 143.9h0M1469.1 162.1h0M1469.1 174.7h0M1469.1 194.9h0M1469.1 212.0h0M1469.2 224.5h0M1469.2 236.8h0M1469.2 248.6h0M1469.2 264.0h0M1469.2 276.4h0M1469.2 282.7h0M1469.2 293.7h0M1469.2 302.0h0M1469.3 311.1h0M1469.3 316.2h0M1469.3 321.7h0M1469.3 329.6h0M1469.3 336.3h0M1469.3 341.5h0M1469.3 346.0h0M1469.3 349.4h0M1469.3 352.9h0M1469.3 356.5h0M1469.3 359.7h0M1469.3 362.7h0M1469.3 365.9h0M1469.3 369.3h0M1469.3 371.9h0M1469.3 374.5h0M1469.3 376.0h0M1469.3 377.9h0M1469.3 379.4h0M1469.4 380.6h0M1469.4 381.8h0M1469.4 383.6h0M1469.4 385.3h0M1469.4 386.6h0M1469.4 387.5h0M1469.4 388.9h0M1469.4 389.8h0M1469.4 391.1h0M1469.4 392.0h0M1469.4 393.4h0M1469.4 394.5h0M1469.4 395.6h0M1469.4 396.7h0M1469.4 397.7h0M1469.4 399.3h0M1469.4 400.9h0M1469.4 402.0h0M1469.4 402.9h0M1469.4 404.3h0M1469.4 405.1h0M1469.4 405.9h0M1469.4 407.2h0M1469.4 408.4h0M1469.4 409.4h0M1469.4 411.0h0M1469.4 412.2h0M1469.4 413.6h0M1469.4 415.0h0M1469.4 416.6h0M1469.4 418.5h0M1469.4 419.6h0M1469.4 421.2h0M1469.4 423.0h0M1469.4 425.0h0M1469.4 427.1h0M1469.4 428.3h0M1469.4 429.6h0M1469.4 431.9h0M1469.4 433.5h0M1469.4 436.1h0M1469.4 438.2h0M1469.5 440.3h0M1469.5 442.3h0M1469.5 443.8h0M1469.5 446.0h0M1469.5 448.6h0M1469.5 450.5h0M1469.5 452.6h0M1469.5 455.3h0M1469.5 458.2h0M1469.5 461.2h0M1469.5 463.4h0M1469.5 466.9h0M1469.5 469.9h0M1469.5 474.1h0M1469.5 476.6h0M1469.5 478.9h0M1469.5 483.2h0M1469.5 487.8h0M1469.6 491.0h0M1469.6 494.6h0M1469.6 499.0h0M1469.6 503.4h0M1469.6 508.1h0M1469.6 513.7h0M1469.5 512.8h0M1469.8 512.1h0M1469.9 510.7h0M1469.6 493.0h0M1469.6 493.0h0M1469.6 493.0h0M1469.6 493.0h0M1469.6 493.0h0M1469.7 473.9h0M1469.7 473.9h0M1469.7 473.9h0M1469.7 473.9h0M1469.7 473.9h0M1469.7 456.1h0M1469.7 456.1h0M1469.7 456.1h0M1469.7 456.1h0M1469.7 456.1h0M1469.7 456.1h0M1469.7 456.1h0M1469.7 456.1h0M1469.8 439.7h0M1469.8 439.7h0M1469.8 439.7h0M1469.8 439.7h0M1469.8 439.7h0M1469.8 439.7h0M1469.8 439.7h0M1469.8 439.7h0M1469.8 424.5h0M1469.8 424.5h0M1469.8 424.5h0M1469.8 424.5h0M1469.8 424.5h0M1469.8 424.5h0M1469.8 424.5h0M1469.8 424.5h0M1469.8 424.5h0M1469.8 424.5h0M1469.8 424.5h0M1469.8 410.5h0M1482.9 329.1h0M1482.9 328.2h0M1482.9 327.1h0M1482.9 325.8h0M1482.9 324.2h0M1482.9 322.6h0M1482.9 321.1h0M1482.9 319.7h0M1482.9 318.1h0M1482.9 316.5h0M1482.9 314.5h0M1482.9 312.6h0M1482.9 310.5h0M1482.9 308.4h0M1482.9 306.5h0M1482.9 304.7h0M1482.9 302.7h0M1482.9 299.9h0M1482.9 297.1h0M1482.9 295.2h0M1482.9 291.9h0M1482.9 289.9h0M1482.9 287.2h0M1482.9 285.1h0M1482.9 283.0h0M1482.9 279.8h0M1482.9 275.5h0M1482.9 272.4h0M1482.9 269.3h0M1483.0 264.1h0M1483.0 258.4h0M1483.0 251.6h0M1483.0 244.5h0M1483.0 239.1h0M1483.0 233.4h0M1483.0 227.0h0M1483.0 217.4h0M1483.0 205.8h0M1483.0 196.3h0M1483.0 180.9h0M1483.0 164.9h0M1483.0 151.6h0M1483.1 131.7h0M1484.1 134.5h0M1484.1 147.6h0M1484.1 162.2h0M1484.2 177.8h0M1484.2 188.0h0M1484.2 198.4h0M1484.2 211.9h0M1484.2 219.6h0M1484.2 226.4h0M1484.2 234.5h0M1484.2 241.4h0M1484.2 249.9h0M1484.2 256.3h0M1484.2 263.4h0M1484.3 268.1h0M1484.3 274.7h0M1484.3 281.3h0M1484.3 285.3h0M1484.3 289.7h0M1484.3 295.0h0M1484.3 297.6h0M1484.3 300.2h0M1484.3 303.1h0M1484.3 306.1h0M1484.3 308.9h0M1484.3 310.7h0M1484.3 313.0h0M1484.3 314.6h0M1484.3 316.8h0M1484.3 318.7h0M1484.3 320.7h0M1484.3 322.7h0M1484.3 323.9h0M1484.3 325.9h0M1484.3 327.6h0M1484.3 328.6h0M1484.3 330.0h0M1484.3 331.7h0M1484.3 333.4h0M1484.3 335.1h0M1484.4 336.1h0M1484.4 337.7h0M1484.4 339.0h0M1484.4 340.5h0M1484.4 342.0h0M1484.4 343.5h0M1484.4 344.8h0M1484.4 345.8h0M1484.4 347.4h0M1484.4 348.3h0M1484.4 349.4h0M1484.4 351.0h0M1484.4 352.1h0M1484.4 353.4h0M1484.4 355.1h0M1484.4 356.4h0M1484.4 357.6h0M1484.4 358.8h0M1484.4 359.9h0M1484.4 361.2h0M1484.4 362.7h0M1484.4 363.7h0M1484.4 364.9h0M1484.4 366.2h0M1484.4 367.3h0M1484.4 369.2h0M1484.4 371.0h0M1484.4 372.1h0M1484.4 373.6h0M1484.4 375.3h0M1484.4 376.4h0M1484.4 378.5h0M1484.4 380.2h0M1484.4 381.7h0M1484.4 383.3h0M1484.4 384.8h0M1484.4 387.0h0M1484.4 389.7h0M1484.4 391.8h0M1484.5 393.4h0M1484.5 396.2h0M1484.5 399.1h0M1484.5 401.5h0M1484.5 404.4h0M1484.5 406.5h0M1484.5 409.8h0M1484.5 413.6h0M1484.5 415.8h0M1484.5 418.7h0M1484.5 421.4h0M1484.5 423.8h0M1484.5 426.1h0M1484.5 429.1h0M1484.5 431.4h0M1484.5 435.1h0M1484.5 438.0h0M1484.6 441.8h0M1484.6 446.8h0M1484.6 451.7h0M1484.6 455.0h0M1484.6 458.0h0M1484.6 462.8h0M1484.6 464.1h0M1484.5 463.2h0M1484.8 462.5h0M1484.9 461.1h0M1484.6 441.3h0M1484.6 441.3h0M1484.6 441.3h0M1484.6 441.3h0M1484.6 441.3h0M1484.7 420.2h0M1484.7 420.2h0M1484.7 420.2h0M1484.7 420.2h0M1484.7 420.2h0M1484.7 420.2h0M1484.7 420.2h0M1484.7 420.2h0M1484.7 400.6h0M1484.7 400.6h0M1484.7 400.6h0M1484.7 400.6h0M1484.7 400.6h0M1484.7 400.6h0M1484.7 400.6h0M1484.7 400.6h0M1484.8 382.5h0M1484.8 382.5h0M1484.8 382.5h0M1484.8 382.5h0M1484.8 382.5h0M1484.8 382.5h0M1484.8 382.5h0M1484.8 382.5h0M1484.8 382.5h0M1484.8 382.5h0M1484.8 365.8h0M1484.8 365.8h0M1484.8 365.8h0M1484.8 365.8h0M1484.8 365.8h0M1484.8 365.8h0M1484.8 365.8h0M1484.8 365.8h0M1484.8 365.8h0M1484.8 365.8h0M1484.8 365.8h0M1484.8 365.8h0M1484.8 365.8h0M1484.8 365.8h0M1484.8 365.8h0M1484.8 365.8h0M1484.8 350.3h0M1498.0 262.3h0M1498.0 260.8h0M1498.0 260.0h0M1498.0 259.1h0M1498.0 257.7h0M1498.0 256.7h0M1498.0 255.6h0M1498.0 254.7h0M1498.0 253.1h0M1498.0 251.4h0M1498.0 249.9h0M1498.0 248.9h0M1498.0 247.1h0M1498.0 245.3h0M1498.0 243.8h0M1498.0 242.5h0M1498.0 240.9h0M1498.0 239.4h0M1498.0 238.0h0M1498.0 235.4h0M1498.0 232.9h0M1498.0 230.8h0M1498.0 228.7h0M1498.0 227.0h0M1498.0 224.4h0M1498.0 222.0h0M1498.0 218.7h0M1498.0 216.5h0M1498.0 213.5h0M1498.0 210.2h0M1498.0 206.4h0M1498.0 203.2h0M1498.1 199.7h0M1498.1 194.6h0M1498.1 189.4h0M1498.1 184.2h0M1498.1 178.7h0M1498.1 173.8h0M1498.1 165.4h0M1498.1 160.5h0M1498.1 153.0h0M1498.1 147.5h0M1498.1 141.6h0M1498.1 130.6h0M1499.3 134.7h0M1499.3 146.1h0M1499.3 157.5h0M1499.3 167.2h0M1499.3 172.1h0M1499.3 177.7h0M1499.3 183.7h0M1499.3 189.0h0M1499.3 197.1h0M1499.3 204.1h0M1499.3 209.3h0M1499.4 213.2h0M1499.4 216.5h0M1499.4 219.5h0M1499.4 222.7h0M1499.4 225.9h0M1499.4 230.5h0M1499.4 233.5h0M1499.4 236.7h0M1499.4 239.9h0M1499.4 243.6h0M1499.4 246.5h0M1499.4 248.5h0M1499.4 250.7h0M1499.4 252.6h0M1499.4 254.2h0M1499.4 256.4h0M1499.4 258.2h0M1499.4 259.6h0M1499.4 261.3h0M1499.4 262.3h0M1499.4 263.7h0M1499.4 265.3h0M1499.4 267.0h0M1499.4 268.4h0M1499.4 269.4h0M1499.4 270.9h0M1499.4 272.7h0M1499.4 273.8h0M1499.4 275.0h0M1499.5 276.0h0M1499.5 277.1h0M1499.5 278.7h0M1499.5 280.0h0M1499.5 281.0h0M1499.5 282.1h0M1499.5 283.1h0M1499.5 284.5h0M1499.5 285.5h0M1499.5 286.5h0M1499.5 287.7h0M1499.5 289.0h0M1499.5 290.3h0M1499.5 291.4h0M1499.5 292.8h0M1499.5 293.7h0M1499.5 294.7h0M1499.5 295.8h0M1499.5 297.2h0M1499.5 298.7h0M1499.5 300.4h0M1499.5 301.5h0M1499.5 302.6h0M1499.5 303.8h0M1499.5 304.9h0M1499.5 306.6h0M1499.5 308.8h0M1499.5 310.9h0M1499.5 313.0h0M1499.5 315.0h0M1499.5 316.5h0M1499.5 319.1h0M1499.5 321.4h0M1499.5 324.2h0M1499.5 326.6h0M1499.5 328.4h0M1499.6 330.2h0M1499.6 333.3h0M1499.6 335.2h0M1499.6 337.6h0M1499.6 340.2h0M1499.6 342.7h0M1499.6 346.4h0M1499.6 350.2h0M1499.6 352.4h0M1499.6 356.6h0M1499.6 360.0h0M1499.6 362.6h0M1499.6 366.9h0M1499.6 370.2h0M1499.6 373.9h0M1499.7 377.0h0M1499.7 381.0h0M1499.7 384.5h0M1499.7 390.0h0M1499.7 393.2h0M1499.7 396.9h0M1499.6 396.0h0M1499.9 395.3h0M1500.0 393.9h0M1499.7 371.4h0M1499.7 371.4h0M1499.7 371.4h0M1499.7 371.4h0M1499.7 371.4h0M1499.7 371.4h0M1499.8 347.9h0M1499.8 347.9h0M1499.8 347.9h0M1499.8 347.9h0M1499.8 347.9h0M1499.8 347.9h0M1499.8 347.9h0M1499.8 347.9h0M1499.8 326.1h0M1499.8 326.1h0M1499.8 326.1h0M1499.8 326.1h0M1499.8 326.1h0M1499.8 326.1h0M1499.8 326.1h0M1499.8 326.1h0M1499.8 326.1h0M1499.8 326.1h0M1499.9 305.9h0M1499.9 305.9h0M1499.9 305.9h0M1499.9 305.9h0M1499.9 305.9h0M1499.9 305.9h0M1499.9 305.9h0M1499.9 305.9h0M1499.9 305.9h0M1499.9 305.9h0M1499.9 305.9h0M1499.9 305.9h0M1499.9 305.9h0M1499.9 305.9h0M1499.9 305.9h0M1499.9 305.9h0M1499.9 287.2h0M1512.5 176.6h0M1512.5 175.5h0M1512.5 174.2h0M1512.5 173.3h0M1512.5 172.0h0M1512.5 171.1h0M1512.5 169.6h0M1512.5 168.3h0M1512.5 166.9h0M1512.5 165.4h0M1512.5 163.9h0M1512.5 162.9h0M1512.5 161.5h0M1512.5 159.5h0M1512.5 157.7h0M1512.5 155.9h0M1512.5 153.7h0M1512.5 151.7h0M1512.5 150.1h0M1512.5 147.9h0M1512.5 145.3h0M1512.5 143.6h0M1512.5 141.7h0M1512.5 139.8h0M1512.5 136.6h0M1512.5 134.4h0M1512.5 131.1h0M1513.8 132.2h0M1513.8 135.9h0M1513.9 140.5h0M1513.9 143.5h0M1513.9 147.9h0M1513.9 150.9h0M1513.9 153.3h0M1513.9 155.7h0M1513.9 157.7h0M1513.9 160.6h0M1513.9 162.7h0M1513.9 164.2h0M1513.9 166.2h0M1513.9 168.6h0M1513.9 170.3h0M1513.9 171.4h0M1513.9 173.0h0M1513.9 174.6h0M1513.9 176.2h0M1513.9 177.4h0M1513.9 178.4h0M1513.9 179.7h0M1513.9 181.2h0M1513.9 182.9h0M1513.9 184.3h0M1513.9 185.2h0M1513.9 186.5h0M1513.9 187.4h0M1513.9 188.7h0M1513.9 190.2h0M1513.9 191.2h0M1513.9 192.3h0M1513.9 193.7h0M1513.9 194.6h0M1514.0 195.8h0M1514.0 197.0h0M1514.0 198.2h0M1514.0 199.4h0M1514.0 200.2h0M1514.0 201.2h0M1514.0 202.4h0M1514.0 203.6h0M1514.0 204.7h0M1514.0 205.9h0M1514.0 207.7h0M1514.0 209.1h0M1514.0 210.9h0M1514.0 212.2h0M1514.0 213.6h0M1514.0 215.5h0M1514.0 217.0h0M1514.0 219.2h0M1514.0 220.8h0M1514.0 223.1h0M1514.0 225.5h0M1514.0 226.9h0M1514.0 228.6h0M1514.0 230.3h0M1514.0 232.4h0M1514.0 235.3h0M1514.0 237.8h0M1514.0 240.2h0M1514.0 242.3h0M1514.0 244.5h0M1514.1 246.2h0M1514.1 249.5h0M1514.1 251.3h0M1514.1 254.5h0M1514.1 256.6h0M1514.1 259.7h0M1514.1 263.4h0M1514.1 266.8h0M1514.1 271.1h0M1514.1 273.7h0M1514.1 278.4h0M1514.1 283.3h0M1514.2 288.5h0M1514.2 292.0h0M1514.2 296.1h0M1514.2 301.8h0M1514.2 306.1h0M1514.1 305.2h0M1514.4 304.5h0M1514.5 303.1h0M1514.2 276.6h0M1514.2 276.6h0M1514.2 276.6h0M1514.2 276.6h0M1514.2 276.6h0M1514.2 276.6h0M1514.2 276.6h0M1514.2 276.6h0M1514.3 249.3h0M1514.3 249.3h0M1514.3 249.3h0M1514.3 249.3h0M1514.3 249.3h0M1514.3 249.3h0M1514.3 249.3h0M1514.3 249.3h0M1514.3 249.3h0M1514.3 249.3h0M1514.3 224.1h0M1514.3 224.1h0M1514.3 224.1h0M1514.3 224.1h0M1514.3 224.1h0M1514.3 224.1h0M1514.3 224.1h0M1514.3 224.1h0M1514.3 224.1h0M1514.3 224.1h0M1514.3 224.1h0M1514.3 224.1h0M1514.3 224.1h0M1514.3 224.1h0M1514.3 224.1h0M1514.4 200.7h0M1529.5 130.3h0M1529.5 133.1h0M1529.5 136.8h0M1529.5 139.5h0M1529.5 143.8h0M1529.5 148.7h0M1529.6 153.5h0M1529.6 156.5h0M1529.6 161.5h0M1529.6 165.0h0M1529.5 164.1h0M1529.8 163.4h0M1529.9 162.0h0"/>
</g>
<path d="M426.0 100V1100M1424.0 100V1100" stroke="#00f" stroke-width="4.17" fill="none"/>
<path d="M200 804.6H1650" stroke="#008000" stroke-width="4.17" fill="none"/>
<path d="M200 597.8H1650M200 720.5H1650" stroke="#ffa500" stroke-width="2.08" fill="none"/>
<g fill="#90ee90"><circle cx="540.7" cy="934.0" r="4.1"/><circle cx="540.5" cy="927.5" r="4.1"/><circle cx="540.3" cy="918.1" r="4.1"/><circle cx="540.1" cy="910.5" r="4.1"/><circle cx="540.0" cy="904.0" r="4.1"/><circle cx="539.8" cy="896.3" r="4.1"/><circle cx="539.6" cy="888.0" r="4.1"/><circle cx="539.5" cy="878.6" r="4.1"/><circle cx="539.3" cy="872.1" r="4.1"/><circle cx="539.2" cy="863.1" r="4.1"/><circle cx="539.1" cy="856.4" r="4.1"/><circle cx="539.0" cy="849.8" r="4.1"/><circle cx="538.9" cy="843.2" r="4.1"/><circle cx="538.7" cy="834.7" r="4.1"/><circle cx="538.6" cy="825.9" r="4.1"/><circle cx="538.6" cy="817.1" r="4.1"/><circle cx="538.5" cy="810.2" r="4.1"/><circle cx="538.5" cy="801.8" r="4.1"/><circle cx="538.5" cy="793.9" r="4.1"/><circle cx="538.5" cy="786.5" r="4.1"/><circle cx="538.5" cy="778.7" r="4.1"/><circle cx="538.5" cy="769.4" r="4.1"/><circle cx="538.5" cy="762.5" r="4.1"/><circle cx="538.5" cy="755.4" r="4.1"/><circle cx="538.5" cy="748.8" r="4.1"/><circle cx="538.5" cy="740.5" r="4.1"/><circle cx="538.5" cy="734.2" r="4.1"/><circle cx="538.5" cy="726.2" r="4.1"/><circle cx="538.5" cy="717.7" r="4.1"/><circle cx="538.5" cy="709.9" r="4.1"/><circle cx="538.5" cy="703.6" r="4.1"/><circle cx="538.5" cy="696.1" r="4.1"/><circle cx="538.3" cy="691.3" r="4.1"/><circle cx="577.4" cy="927.0" r="4.1"/><circle cx="577.2" cy="918.5" r="4.1"/><circle cx="577.0" cy="909.8" r="4.1"/><circle cx="576.8" cy="902.3" r="4.1"/><circle cx="576.5" cy="892.8" r="4.1"/><circle cx="576.4" cy="886.6" r="4.1"/><circle cx="576.2" cy="878.4" r="4.1"/><circle cx="576.1" cy="871.1" r="4.1"/><circle cx="576.0" cy="864.6" r="4.1"/><circle cx="575.8" cy="856.6" r="4.1"/><circle cx="575.7" cy="848.3" r="4.1"/><circle cx="575.6" cy="841.4" r="4.1"/><circle cx="575.4" cy="832.3" r="4.1"/><circle cx="575.3" cy="824.1" r="4.1"/><circle cx="575.3" cy="817.0" r="4.1"/><circle cx="575.2" cy="809.6" r="4.1"/><circle cx="575.2" cy="801.3" r="4.1"/><circle cx="575.2" cy="792.5" r="4.1"/><circle cx="575.2" cy="786.1" r="4.1"/><circle cx="575.2" cy="779.1" r="4.1"/><circle cx="575.2" cy="771.4" r="4.1"/><circle cx="575.2" cy="762.2" r="4.1"/><circle cx="575.2" cy="754.1" r="4.1"/><circle cx="575.2" cy="746.4" r="4.1"/><circle cx="575.2" cy="738.4" r="4.1"/><circle cx="575.2" cy="730.9" r="4.1"/><circle cx="575.2" cy="723.8" r="4.1"/><circle cx="575.2" cy="717.0" r="4.1"/><circle cx="575.2" cy="710.3" r="4.1"/><circle cx="575.2" cy="700.8" r="4.1"/><circle cx="575.2" cy="693.9" r="4.1"/><circle cx="575.2" cy="685.8" r="4.1"/><circle cx="575.2" cy="677.5" r="4.1"/><circle cx="575.2" cy="670.8" r="4.1"/><circle cx="575.0" cy="665.3" r="4.1"/><circle cx="613.6" cy="917.0" r="4.1"/><circle cx="613.4" cy="910.5" r="4.1"/><circle cx="613.2" cy="902.5" r="4.1"/><circle cx="613.0" cy="895.8" r="4.1"/><circle cx="612.8" cy="887.2" r="4.1"/><circle cx="612.6" cy="877.8" r="4.1"/><circle cx="612.4" cy="871.5" r="4.1"/><circle cx="612.2" cy="862.3" r="4.1"/><circle cx="612.0" cy="853.6" r="4.1"/><circle cx="611.9" cy="846.9" r="4.1"/><circle cx="611.8" cy="838.7" r="4.1"/><circle cx="611.7" cy="831.3" r="4.1"/><circle cx="611.6" cy="824.1" r="4.1"/><circle cx="611.5" cy="816.7" r="4.1"/><circle cx="611.4" cy="807.3" r="4.1"/><circle cx="611.4" cy="799.7" r="4.1"/><circle cx="611.4" cy="792.0" r="4.1"/><circle cx="611.4" cy="785.3" r="4.1"/><circle cx="611.4" cy="776.1" r="4.1"/><circle cx="611.4" cy="768.9" r="4.1"/><circle cx="611.4" cy="761.8" r="4.1"/><circle cx="611.4" cy="754.7" r="4.1"/><circle cx="611.4" cy="745.6" r="4.1"/><circle cx="611.4" cy="738.9" r="4.1"/><circle cx="611.4" cy="731.4" r="4.1"/><circle cx="611.4" cy="723.1" r="4.1"/><circle cx="611.4" cy="715.9" r="4.1"/><circle cx="611.4" cy="707.5" r="4.1"/><circle cx="611.4" cy="698.1" r="4.1"/><circle cx="611.4" cy="691.3" r="4.1"/><circle cx="611.4" cy="682.2" r="4.1"/><circle cx="611.4" cy="674.2" r="4.1"/><circle cx="611.4" cy="665.0" r="4.1"/><circle cx="611.4" cy="658.2" r="4.1"/><circle cx="611.4" cy="651.7" r="4.1"/><circle cx="611.4" cy="642.4" r="4.1"/><circle cx="611.2" cy="639.3" r="4.1"/><circle cx="649.1" cy="928.0" r="4.1"/><circle cx="648.9" cy="918.8" r="4.1"/><circle cx="648.7" cy="911.9" r="4.1"/><circle cx="648.5" cy="902.8" r="4.1"/><circle cx="648.2" cy="893.7" r="4.1"/><circle cx="648.1" cy="886.9" r="4.1"/><circle cx="647.9" cy="877.6" r="4.1"/><circle cx="647.7" cy="869.6" r="4.1"/><circle cx="647.6" cy="860.7" r="4.1"/><circle cx="647.5" cy="853.7" r="4.1"/><circle cx="647.3" cy="845.5" r="4.1"/><circle cx="647.2" cy="837.7" r="4.1"/><circle cx="647.1" cy="830.9" r="4.1"/><circle cx="647.0" cy="823.5" r="4.1"/><circle cx="646.9" cy="814.0" r="4.1"/><circle cx="646.9" cy="806.9" r="4.1"/><circle cx="646.9" cy="797.4" r="4.1"/><circle cx="646.9" cy="789.8" r="4.1"/><circle cx="646.9" cy="782.5" r="4.1"/><circle cx="646.9" cy="774.1" r="4.1"/><circle cx="646.9" cy="765.6" r="4.1"/><circle cx="646.9" cy="758.0" r="4.1"/><circle cx="646.9" cy="750.8" r="4.1"/><circle cx="646.9" cy="742.3" r="4.1"/><circle cx="646.9" cy="735.6" r="4.1"/><circle cx="646.9" cy="728.5" r="4.1"/><circle cx="646.9" cy="719.1" r="4.1"/><circle cx="646.9" cy="711.8" r="4.1"/><circle cx="646.9" cy="703.8" r="4.1"/><circle cx="646.9" cy="694.4" r="4.1"/><circle cx="646.9" cy="687.4" r="4.1"/><circle cx="646.9" cy="681.0" r="4.1"/><circle cx="646.9" cy="672.7" r="4.1"/><circle cx="646.9" cy="664.2" r="4.1"/><circle cx="646.9" cy="655.4" r="4.1"/><circle cx="646.9" cy="645.9" r="4.1"/><circle cx="646.9" cy="637.7" r="4.1"/><circle cx="646.9" cy="629.2" r="4.1"/><circle cx="646.9" cy="620.5" r="4.1"/><circle cx="646.7" cy="616.6" r="4.1"/></g>
<use href="#st" x="538.2" y="691.3"/>
<use href="#st" x="575.0" y="665.3"/>
<use href="#st" x="611.2" y="639.3"/>
<use href="#st" x="646.6" y="616.6"/>
<path d="M835.2 804.5 L837.1 804.3 M852.9 804.3 L855.7 801.0 L858.3 799.1 L861.4 797.6 L865.1 796.6 L866.1 796.6 L866.2 804.3 M876.5 804.5 L877.9 800.2 L879.7 796.0 L881.7 792.6 L884.0 789.9 L886.6 787.9 L889.5 786.4 L893.1 785.3 L894.1 785.3 L894.2 804.3 M902.2 804.4 L903.9 796.1 L905.5 790.9 L907.3 786.5 L909.3 783.0 L911.5 780.3 L914.1 778.2 L917.0 776.6 L920.5 775.5 L921.5 775.5 L921.7 804.5 M928.0 804.3 L928.8 797.4 L929.7 791.7 L931.0 785.8 L932.5 780.6 L934.3 776.1 L936.3 772.6 L938.4 769.8 L940.9 767.6 L943.7 765.9 L947.1 764.8 L948.1 764.8 L948.4 804.6 M953.7 804.5 L954.3 794.9 L955.0 788.5 L955.8 782.9 L957.0 777.0 L958.4 771.8 L960.1 767.2 L962.0 763.4 L964.0 760.5 L966.4 758.1 L969.0 756.4 L972.1 755.1 L973.1 755.1 L973.4 804.5 M978.0 804.2 L979.1 784.9 L979.8 778.1 L980.6 772.5 L981.8 766.4 L983.2 761.1 L984.9 756.5 L986.8 752.6 L988.9 749.6 L991.3 747.2 L993.9 745.5 L997.1 744.2 L998.1 744.2 L998.5 804.6 M1002.7 804.4 L1003.1 791.0 L1004.0 773.8 L1004.7 767.3 L1005.5 761.5 L1006.6 755.6 L1008.1 750.2 L1009.8 745.4 L1011.8 741.6 L1013.8 738.6 L1016.2 736.2 L1018.9 734.4 L1022.1 733.2 L1023.1 733.2 L1023.5 796.6 M1027.3 804.2 L1027.8 781.2 L1028.7 764.1 L1030.1 751.9 L1031.1 746.1 L1032.5 740.7 L1034.1 736.0 L1035.9 731.9 L1037.9 728.8 L1040.1 726.3 L1042.6 724.4 L1045.5 723.0 L1046.5 723.0 L1046.9 788.1 M1050.5 804.4 L1051.2 771.4 L1052.0 753.9 L1052.6 747.3 L1053.3 741.6 L1054.4 735.6 L1055.8 730.1 L1057.4 725.2 L1059.3 721.2 L1061.3 718.0 L1063.5 715.6 L1066.1 713.6 L1069.1 712.2 L1070.1 712.2 L1070.5 779.1 M1073.8 804.3 L1074.6 761.4 L1075.4 743.5 L1076.5 731.4 L1077.5 725.5 L1078.8 720.2 L1080.4 715.3 L1082.1 711.2 L1084.0 707.9 L1086.1 705.3 L1088.4 703.3 L1091.1 701.7 L1092.1 701.7 L1092.5 770.4 M1095.7 804.3 L1096.0 776.5 L1096.6 748.9 L1097.4 731.7 L1098.5 719.7 L1099.5 713.9 L1100.8 708.5 L1102.5 703.6 L1104.2 699.6 L1106.1 696.4 L1108.3 693.8 L1110.7 691.8 L1113.5 690.3 L1114.5 690.3 L1114.9 760.8 M1117.8 804.3 L1118.2 768.7 L1118.8 739.1 L1119.5 720.6 L1120.5 708.5 L1121.4 702.8 L1122.6 697.5 L1124.1 692.5 L1125.8 688.2 L1127.6 684.9 L1129.7 682.1 L1131.9 680.0 L1134.5 678.3 L1135.5 678.3 L1135.9 750.8 M1138.7 800.5 L1139.2 755.8 L1139.7 727.4 L1140.4 709.0 L1141.4 696.8 L1142.3 691.1 L1143.4 685.9 L1144.9 680.9 L1146.6 676.6 L1148.4 673.2 L1150.5 670.5 L1152.7 668.3 L1155.3 666.6 L1156.3 666.6 L1156.7 741.0 M1159.5 794.4 L1159.9 748.5 L1160.4 716.2 L1161.0 697.0 L1162.0 684.3 L1162.8 678.6 L1163.9 673.4 L1165.4 668.3 L1167.1 664.0 L1168.9 660.5 L1170.9 657.7 L1173.1 655.5 L1175.6 653.8 L1176.6 653.8 L1177.0 730.3 M1179.7 782.0 L1180.1 733.6 L1180.6 702.4 L1181.3 682.4 L1182.1 670.3 L1182.9 664.7 L1184.0 659.5 L1185.5 654.5 L1187.1 650.1 L1188.9 646.6 L1190.9 643.7 L1193.1 641.5 L1195.6 639.7 L1196.6 639.7 L1197.0 718.5 M1199.7 769.2 L1200.1 722.1 L1200.5 688.2 L1201.1 668.0 L1202.0 655.8 L1202.7 650.2 L1203.8 645.1 L1205.2 640.1 L1206.8 635.7 L1208.5 632.2 L1210.5 629.3 L1212.6 627.0 L1215.0 625.2 L1216.0 625.2 L1216.4 706.4 M1219.1 756.3 L1219.4 707.1 L1219.9 674.5 L1220.4 654.4 L1221.3 641.5 L1222.0 636.1 L1223.0 631.0 L1224.4 625.9 L1226.1 621.4 L1227.8 617.9 L1229.7 615.0 L1231.8 612.7 L1234.2 610.9 L1235.2 610.9 L1235.6 694.4 M1238.2 740.2 L1239.0 658.5 L1239.5 637.7 L1240.3 625.2 L1241.0 620.0 L1242.0 614.9 L1243.4 609.9 L1245.0 605.4 L1246.6 601.9 L1248.5 599.0 L1249.3 597.9 M1253.8 597.9 L1254.2 680.9 M1255.7 597.9 L1255.8 674.9 M1257.0 694.7 L1257.7 630.0 L1258.3 613.7 L1259.1 603.7 L1260.1 597.9 M1272.5 598.1 L1272.8 664.5 M1274.3 598.1 L1274.4 658.5 M1275.5 677.3 L1276.2 612.9 L1276.7 598.0 M1290.4 598.2 L1290.6 650.2 M1292.1 598.2 L1292.2 644.2 M1293.2 665.6 L1293.9 598.1 M1307.6 597.9 L1307.8 635.2 M1309.4 597.9 L1309.4 629.2 M1310.4 647.3 L1310.9 598.0 M1324.7 598.2 L1324.8 618.2 M1326.4 598.2 L1326.4 612.2 M1327.4 638.3 L1327.7 598.2 M1342.2 598.0 L1342.2 600.8 M1344.8 620.3 L1344.9 597.9 M1361.7 602.7 L1361.7 597.9" fill="none" stroke="#ff0" stroke-width="15.3" stroke-linecap="round" stroke-linejoin="round"/>
<g fill="#ff0" fill-opacity=".2" stroke="#ff0" stroke-opacity=".2" stroke-width="1.4"><circle cx="426.7" cy="804.2" r="6.9"/><circle cx="426.7" cy="796.2" r="6.9"/><circle cx="427.0" cy="792.0" r="6.9"/><circle cx="427.3" cy="793.6" r="6.9"/><circle cx="427.3" cy="797.5" r="6.9"/><circle cx="427.3" cy="800.7" r="6.9"/><circle cx="463.3" cy="802.3" r="6.9"/><circle cx="463.4" cy="795.2" r="6.9"/><circle cx="463.4" cy="788.1" r="6.9"/><circle cx="463.4" cy="776.6" r="6.9"/><circle cx="463.4" cy="763.3" r="6.9"/><circle cx="463.8" cy="756.0" r="6.9"/><circle cx="464.1" cy="761.7" r="6.9"/><circle cx="464.1" cy="768.0" r="6.9"/><circle cx="464.1" cy="775.7" r="6.9"/><circle cx="464.1" cy="784.0" r="6.9"/><circle cx="464.1" cy="792.4" r="6.9"/><circle cx="464.1" cy="796.7" r="6.9"/><circle cx="464.1" cy="802.2" r="6.9"/><circle cx="501.0" cy="796.9" r="6.9"/><circle cx="501.1" cy="784.4" r="6.9"/><circle cx="501.1" cy="770.4" r="6.9"/><circle cx="501.1" cy="749.4" r="6.9"/><circle cx="501.2" cy="735.6" r="6.9"/><circle cx="501.5" cy="723.6" r="6.9"/><circle cx="501.8" cy="727.0" r="6.9"/><circle cx="501.8" cy="734.7" r="6.9"/><circle cx="501.8" cy="742.0" r="6.9"/><circle cx="501.8" cy="754.5" r="6.9"/><circle cx="501.8" cy="765.6" r="6.9"/><circle cx="501.8" cy="777.8" r="6.9"/><circle cx="501.8" cy="790.6" r="6.9"/><circle cx="501.9" cy="801.0" r="6.9"/><circle cx="537.8" cy="797.3" r="6.9"/><circle cx="537.8" cy="771.7" r="6.9"/><circle cx="537.9" cy="750.2" r="6.9"/><circle cx="537.9" cy="732.6" r="6.9"/><circle cx="538.0" cy="716.6" r="6.9"/><circle cx="538.0" cy="702.8" r="6.9"/><circle cx="538.3" cy="691.3" r="6.9"/><circle cx="538.6" cy="702.0" r="6.9"/><circle cx="538.6" cy="718.5" r="6.9"/><circle cx="538.6" cy="731.0" r="6.9"/><circle cx="538.6" cy="745.3" r="6.9"/><circle cx="538.6" cy="761.9" r="6.9"/><circle cx="538.7" cy="777.5" r="6.9"/><circle cx="538.7" cy="791.2" r="6.9"/><circle cx="538.7" cy="803.3" r="6.9"/><circle cx="574.5" cy="795.7" r="6.9"/><circle cx="574.5" cy="779.7" r="6.9"/><circle cx="574.5" cy="748.7" r="6.9"/><circle cx="574.6" cy="724.8" r="6.9"/><circle cx="574.6" cy="703.3" r="6.9"/><circle cx="574.7" cy="686.3" r="6.9"/><circle cx="575.0" cy="665.3" r="6.9"/><circle cx="575.3" cy="678.2" r="6.9"/><circle cx="575.3" cy="690.3" r="6.9"/><circle cx="575.3" cy="701.0" r="6.9"/><circle cx="575.3" cy="711.9" r="6.9"/><circle cx="575.3" cy="722.5" r="6.9"/><circle cx="575.3" cy="735.4" r="6.9"/><circle cx="575.4" cy="754.0" r="6.9"/><circle cx="575.4" cy="764.1" r="6.9"/><circle cx="575.4" cy="775.4" r="6.9"/><circle cx="575.5" cy="794.2" r="6.9"/><circle cx="610.6" cy="794.6" r="6.9"/><circle cx="610.7" cy="762.2" r="6.9"/><circle cx="610.7" cy="738.3" r="6.9"/><circle cx="610.8" cy="703.5" r="6.9"/><circle cx="610.8" cy="680.0" r="6.9"/><circle cx="610.9" cy="659.1" r="6.9"/><circle cx="611.2" cy="639.3" r="6.9"/><circle cx="611.5" cy="652.6" r="6.9"/><circle cx="611.5" cy="667.8" r="6.9"/><circle cx="611.5" cy="687.9" r="6.9"/><circle cx="611.5" cy="706.3" r="6.9"/><circle cx="611.5" cy="720.7" r="6.9"/><circle cx="611.6" cy="734.5" r="6.9"/><circle cx="611.6" cy="750.6" r="6.9"/><circle cx="611.6" cy="765.4" r="6.9"/><circle cx="611.7" cy="780.0" r="6.9"/><circle cx="611.8" cy="797.7" r="6.9"/><circle cx="646.1" cy="791.6" r="6.9"/><circle cx="646.2" cy="763.4" r="6.9"/><circle cx="646.2" cy="740.0" r="6.9"/><circle cx="646.2" cy="709.1" r="6.9"/><circle cx="646.3" cy="675.7" r="6.9"/><circle cx="646.4" cy="643.2" r="6.9"/><circle cx="646.7" cy="616.6" r="6.9"/><circle cx="647.0" cy="623.4" r="6.9"/><circle cx="647.0" cy="634.4" r="6.9"/><circle cx="647.0" cy="649.7" r="6.9"/><circle cx="647.0" cy="663.6" r="6.9"/><circle cx="647.0" cy="676.1" r="6.9"/><circle cx="647.0" cy="696.3" r="6.9"/><circle cx="647.0" cy="709.1" r="6.9"/><circle cx="647.1" cy="728.7" r="6.9"/><circle cx="647.1" cy="749.6" r="6.9"/><circle cx="647.2" cy="761.4" r="6.9"/><circle cx="647.2" cy="782.0" r="6.9"/><circle cx="647.3" cy="796.9" r="6.9"/><circle cx="679.9" cy="794.0" r="6.9"/><circle cx="679.9" cy="772.7" r="6.9"/><circle cx="679.9" cy="753.8" r="6.9"/><circle cx="680.0" cy="726.8" r="6.9"/><circle cx="680.0" cy="704.1" r="6.9"/><circle cx="680.1" cy="674.0" r="6.9"/><circle cx="680.1" cy="654.0" r="6.9"/><circle cx="680.1" cy="629.9" r="6.9"/><circle cx="680.2" cy="609.4" r="6.9"/><circle cx="680.8" cy="604.6" r="6.9"/><circle cx="680.8" cy="616.2" r="6.9"/><circle cx="680.8" cy="627.2" r="6.9"/><circle cx="680.8" cy="643.0" r="6.9"/><circle cx="680.8" cy="655.7" r="6.9"/><circle cx="680.8" cy="671.8" r="6.9"/><circle cx="680.8" cy="684.0" r="6.9"/><circle cx="680.8" cy="695.6" r="6.9"/><circle cx="680.9" cy="712.0" r="6.9"/><circle cx="680.9" cy="732.7" r="6.9"/><circle cx="681.0" cy="752.8" r="6.9"/><circle cx="681.0" cy="769.0" r="6.9"/><circle cx="681.1" cy="783.9" r="6.9"/><circle cx="681.2" cy="795.0" r="6.9"/><circle cx="712.9" cy="789.6" r="6.9"/><circle cx="712.9" cy="772.9" r="6.9"/><circle cx="712.9" cy="755.4" r="6.9"/><circle cx="713.0" cy="729.0" r="6.9"/><circle cx="713.0" cy="706.2" r="6.9"/><circle cx="713.1" cy="671.6" r="6.9"/><circle cx="713.1" cy="652.8" r="6.9"/><circle cx="713.1" cy="621.3" r="6.9"/><circle cx="713.8" cy="600.9" r="6.9"/><circle cx="713.8" cy="615.0" r="6.9"/><circle cx="713.8" cy="627.9" r="6.9"/><circle cx="713.8" cy="643.4" r="6.9"/><circle cx="713.8" cy="662.8" r="6.9"/><circle cx="713.8" cy="677.0" r="6.9"/><circle cx="713.9" cy="690.0" r="6.9"/><circle cx="713.9" cy="705.1" r="6.9"/><circle cx="713.9" cy="716.5" r="6.9"/><circle cx="714.0" cy="730.5" r="6.9"/><circle cx="714.0" cy="747.3" r="6.9"/><circle cx="714.1" cy="763.8" r="6.9"/><circle cx="714.2" cy="780.9" r="6.9"/><circle cx="714.2" cy="794.5" r="6.9"/><circle cx="744.8" cy="799.2" r="6.9"/><circle cx="744.9" cy="787.6" r="6.9"/><circle cx="744.9" cy="771.5" r="6.9"/><circle cx="744.9" cy="745.8" r="6.9"/><circle cx="745.0" cy="717.8" r="6.9"/><circle cx="745.0" cy="696.5" r="6.9"/><circle cx="745.0" cy="676.3" r="6.9"/><circle cx="745.0" cy="657.6" r="6.9"/><circle cx="745.1" cy="637.5" r="6.9"/><circle cx="745.1" cy="611.5" r="6.9"/><circle cx="745.8" cy="604.2" r="6.9"/><circle cx="745.8" cy="623.1" r="6.9"/><circle cx="745.8" cy="637.5" r="6.9"/><circle cx="745.8" cy="656.1" r="6.9"/><circle cx="745.9" cy="669.5" r="6.9"/><circle cx="745.9" cy="682.4" r="6.9"/><circle cx="745.9" cy="695.3" r="6.9"/><circle cx="745.9" cy="707.9" r="6.9"/><circle cx="746.0" cy="725.1" r="6.9"/><circle cx="746.0" cy="742.7" r="6.9"/><circle cx="746.1" cy="761.3" r="6.9"/><circle cx="746.2" cy="772.8" r="6.9"/><circle cx="746.3" cy="791.8" r="6.9"/><circle cx="776.8" cy="796.9" r="6.9"/><circle cx="776.8" cy="781.5" r="6.9"/><circle cx="776.9" cy="769.1" r="6.9"/><circle cx="776.9" cy="741.5" r="6.9"/><circle cx="776.9" cy="718.3" r="6.9"/><circle cx="777.0" cy="698.3" r="6.9"/><circle cx="777.0" cy="675.5" r="6.9"/><circle cx="777.0" cy="656.5" r="6.9"/><circle cx="777.1" cy="633.8" r="6.9"/><circle cx="777.1" cy="607.1" r="6.9"/><circle cx="777.8" cy="603.6" r="6.9"/><circle cx="777.8" cy="615.9" r="6.9"/><circle cx="777.8" cy="635.8" r="6.9"/><circle cx="777.9" cy="651.6" r="6.9"/><circle cx="777.9" cy="666.3" r="6.9"/><circle cx="777.9" cy="682.5" r="6.9"/><circle cx="778.0" cy="702.3" r="6.9"/><circle cx="778.0" cy="716.9" r="6.9"/><circle cx="778.1" cy="731.4" r="6.9"/><circle cx="778.1" cy="745.9" r="6.9"/><circle cx="778.2" cy="756.4" r="6.9"/><circle cx="778.2" cy="772.9" r="6.9"/><circle cx="778.3" cy="788.7" r="6.9"/><circle cx="778.4" cy="804.0" r="6.9"/><circle cx="807.6" cy="796.9" r="6.9"/><circle cx="807.6" cy="784.5" r="6.9"/><circle cx="807.6" cy="765.4" r="6.9"/><circle cx="807.7" cy="749.5" r="6.9"/><circle cx="807.7" cy="719.7" r="6.9"/><circle cx="807.7" cy="697.4" r="6.9"/><circle cx="807.8" cy="665.0" r="6.9"/><circle cx="807.8" cy="646.8" r="6.9"/><circle cx="807.8" cy="621.1" r="6.9"/><circle cx="808.6" cy="610.1" r="6.9"/><circle cx="808.6" cy="626.8" r="6.9"/><circle cx="808.7" cy="640.5" r="6.9"/><circle cx="808.7" cy="658.3" r="6.9"/><circle cx="808.7" cy="677.8" r="6.9"/><circle cx="808.8" cy="695.7" r="6.9"/><circle cx="808.8" cy="706.1" r="6.9"/><circle cx="808.9" cy="721.4" r="6.9"/><circle cx="808.9" cy="737.3" r="6.9"/><circle cx="809.0" cy="748.2" r="6.9"/><circle cx="809.1" cy="767.4" r="6.9"/><circle cx="809.1" cy="781.4" r="6.9"/><circle cx="809.2" cy="794.3" r="6.9"/><circle cx="837.6" cy="801.5" r="6.9"/><circle cx="837.6" cy="792.1" r="6.9"/><circle cx="837.6" cy="782.6" r="6.9"/><circle cx="837.6" cy="764.9" r="6.9"/><circle cx="837.7" cy="742.5" r="6.9"/><circle cx="837.7" cy="714.6" r="6.9"/><circle cx="837.7" cy="692.6" r="6.9"/><circle cx="837.8" cy="672.2" r="6.9"/><circle cx="837.8" cy="642.0" r="6.9"/><circle cx="837.8" cy="610.1" r="6.9"/><circle cx="838.6" cy="601.9" r="6.9"/><circle cx="838.7" cy="622.9" r="6.9"/><circle cx="838.7" cy="640.7" r="6.9"/><circle cx="838.7" cy="657.6" r="6.9"/><circle cx="838.8" cy="677.5" r="6.9"/><circle cx="838.8" cy="688.3" r="6.9"/><circle cx="838.8" cy="707.5" r="6.9"/><circle cx="838.9" cy="724.9" r="6.9"/><circle cx="839.0" cy="741.9" r="6.9"/><circle cx="839.1" cy="755.7" r="6.9"/><circle cx="839.1" cy="773.1" r="6.9"/><circle cx="839.2" cy="783.9" r="6.9"/><circle cx="839.3" cy="797.2" r="6.9"/><circle cx="866.6" cy="802.7" r="6.9"/><circle cx="866.6" cy="796.6" r="6.9"/><circle cx="866.6" cy="785.6" r="6.9"/><circle cx="866.6" cy="771.2" r="6.9"/><circle cx="866.6" cy="759.3" r="6.9"/><circle cx="866.6" cy="746.7" r="6.9"/><circle cx="866.7" cy="722.1" r="6.9"/><circle cx="866.7" cy="689.0" r="6.9"/><circle cx="866.8" cy="657.6" r="6.9"/><circle cx="866.8" cy="633.2" r="6.9"/><circle cx="866.8" cy="605.4" r="6.9"/><circle cx="867.6" cy="601.5" r="6.9"/><circle cx="867.7" cy="615.2" r="6.9"/><circle cx="867.7" cy="634.9" r="6.9"/><circle cx="867.7" cy="646.5" r="6.9"/><circle cx="867.8" cy="666.8" r="6.9"/><circle cx="867.8" cy="683.9" r="6.9"/><circle cx="867.8" cy="695.0" r="6.9"/><circle cx="867.9" cy="715.9" r="6.9"/><circle cx="868.0" cy="729.8" r="6.9"/><circle cx="868.0" cy="741.0" r="6.9"/><circle cx="868.1" cy="754.3" r="6.9"/><circle cx="868.1" cy="765.0" r="6.9"/><circle cx="868.2" cy="777.5" r="6.9"/><circle cx="868.3" cy="792.2" r="6.9"/><circle cx="894.6" cy="802.4" r="6.9"/><circle cx="894.6" cy="796.2" r="6.9"/><circle cx="894.6" cy="790.4" r="6.9"/><circle cx="894.6" cy="781.9" r="6.9"/><circle cx="894.6" cy="771.6" r="6.9"/><circle cx="894.6" cy="759.3" r="6.9"/><circle cx="894.6" cy="745.0" r="6.9"/><circle cx="894.7" cy="724.0" r="6.9"/><circle cx="894.7" cy="705.4" r="6.9"/><circle cx="894.7" cy="675.5" r="6.9"/><circle cx="894.8" cy="640.8" r="6.9"/><circle cx="894.8" cy="623.2" r="6.9"/><circle cx="894.8" cy="601.7" r="6.9"/><circle cx="895.7" cy="607.3" r="6.9"/><circle cx="895.7" cy="619.0" r="6.9"/><circle cx="895.7" cy="639.0" r="6.9"/><circle cx="895.8" cy="652.2" r="6.9"/><circle cx="895.8" cy="666.2" r="6.9"/><circle cx="895.8" cy="681.6" r="6.9"/><circle cx="895.9" cy="698.2" r="6.9"/><circle cx="896.0" cy="713.2" r="6.9"/><circle cx="896.0" cy="734.2" r="6.9"/><circle cx="896.1" cy="748.4" r="6.9"/><circle cx="896.2" cy="763.7" r="6.9"/><circle cx="896.3" cy="780.3" r="6.9"/><circle cx="896.4" cy="789.1" r="6.9"/><circle cx="896.4" cy="796.4" r="6.9"/><circle cx="921.9" cy="802.4" r="6.9"/><circle cx="921.9" cy="797.8" r="6.9"/><circle cx="921.9" cy="794.4" r="6.9"/><circle cx="922.0" cy="788.9" r="6.9"/><circle cx="922.0" cy="784.2" r="6.9"/><circle cx="922.0" cy="776.5" r="6.9"/><circle cx="922.0" cy="765.9" r="6.9"/><circle cx="922.0" cy="755.5" r="6.9"/><circle cx="922.0" cy="744.6" r="6.9"/><circle cx="922.0" cy="727.7" r="6.9"/><circle cx="922.1" cy="705.0" r="6.9"/><circle cx="922.1" cy="687.1" r="6.9"/><circle cx="922.1" cy="665.8" r="6.9"/><circle cx="922.1" cy="642.1" r="6.9"/><circle cx="922.2" cy="616.0" r="6.9"/><circle cx="923.1" cy="600.8" r="6.9"/><circle cx="923.1" cy="613.6" r="6.9"/><circle cx="923.1" cy="626.7" r="6.9"/><circle cx="923.2" cy="645.5" r="6.9"/><circle cx="923.2" cy="662.7" r="6.9"/><circle cx="923.3" cy="678.1" r="6.9"/><circle cx="923.3" cy="693.8" r="6.9"/><circle cx="923.4" cy="711.0" r="6.9"/><circle cx="923.5" cy="729.1" r="6.9"/><circle cx="923.5" cy="739.7" r="6.9"/><circle cx="923.6" cy="758.8" r="6.9"/><circle cx="923.7" cy="771.0" r="6.9"/><circle cx="923.7" cy="780.5" r="6.9"/><circle cx="923.8" cy="792.7" r="6.9"/><circle cx="923.9" cy="801.4" r="6.9"/><circle cx="948.5" cy="802.5" r="6.9"/><circle cx="948.5" cy="800.5" r="6.9"/><circle cx="948.5" cy="798.3" r="6.9"/><circle cx="948.5" cy="794.2" r="6.9"/><circle cx="948.5" cy="790.7" r="6.9"/><circle cx="948.5" cy="786.2" r="6.9"/><circle cx="948.6" cy="780.9" r="6.9"/><circle cx="948.6" cy="774.2" r="6.9"/><circle cx="948.6" cy="768.0" r="6.9"/><circle cx="948.6" cy="758.3" r="6.9"/><circle cx="948.6" cy="751.7" r="6.9"/><circle cx="948.6" cy="737.4" r="6.9"/><circle cx="948.6" cy="724.7" r="6.9"/><circle cx="948.6" cy="705.3" r="6.9"/><circle cx="948.7" cy="685.4" r="6.9"/><circle cx="948.7" cy="654.9" r="6.9"/><circle cx="948.7" cy="631.1" r="6.9"/><circle cx="948.8" cy="603.2" r="6.9"/><circle cx="949.7" cy="599.7" r="6.9"/><circle cx="949.7" cy="617.4" r="6.9"/><circle cx="949.8" cy="635.7" r="6.9"/><circle cx="949.8" cy="649.3" r="6.9"/><circle cx="949.8" cy="660.2" r="6.9"/><circle cx="949.9" cy="671.6" r="6.9"/><circle cx="949.9" cy="684.9" r="6.9"/><circle cx="950.0" cy="706.5" r="6.9"/><circle cx="950.1" cy="725.2" r="6.9"/><circle cx="950.2" cy="745.6" r="6.9"/><circle cx="950.2" cy="760.7" r="6.9"/><circle cx="950.3" cy="768.6" r="6.9"/><circle cx="950.3" cy="777.3" r="6.9"/><circle cx="950.4" cy="788.0" r="6.9"/><circle cx="950.5" cy="796.2" r="6.9"/><circle cx="950.5" cy="803.3" r="6.9"/><circle cx="973.5" cy="803.8" r="6.9"/><circle cx="973.5" cy="802.2" r="6.9"/><circle cx="973.5" cy="800.9" r="6.9"/><circle cx="973.5" cy="798.7" r="6.9"/><circle cx="973.5" cy="795.8" r="6.9"/><circle cx="973.5" cy="793.9" r="6.9"/><circle cx="973.5" cy="790.2" r="6.9"/><circle cx="973.5" cy="787.2" r="6.9"/><circle cx="973.5" cy="782.3" r="6.9"/><circle cx="973.5" cy="777.1" r="6.9"/><circle cx="973.5" cy="772.8" r="6.9"/><circle cx="973.6" cy="768.2" r="6.9"/><circle cx="973.6" cy="759.9" r="6.9"/><circle cx="973.6" cy="749.1" r="6.9"/><circle cx="973.6" cy="736.8" r="6.9"/><circle cx="973.6" cy="723.3" r="6.9"/><circle cx="973.6" cy="706.9" r="6.9"/><circle cx="973.7" cy="682.9" r="6.9"/><circle cx="973.7" cy="651.0" r="6.9"/><circle cx="973.7" cy="618.9" r="6.9"/><circle cx="974.7" cy="602.5" r="6.9"/><circle cx="974.8" cy="616.5" r="6.9"/><circle cx="974.8" cy="634.8" r="6.9"/><circle cx="974.9" cy="654.5" r="6.9"/><circle cx="974.9" cy="673.9" r="6.9"/><circle cx="975.0" cy="684.8" r="6.9"/><circle cx="975.0" cy="702.9" r="6.9"/><circle cx="975.1" cy="722.2" r="6.9"/><circle cx="975.2" cy="739.3" r="6.9"/><circle cx="975.3" cy="754.9" r="6.9"/><circle cx="975.3" cy="767.3" r="6.9"/><circle cx="975.4" cy="776.3" r="6.9"/><circle cx="975.5" cy="785.1" r="6.9"/><circle cx="975.5" cy="790.9" r="6.9"/><circle cx="975.5" cy="794.4" r="6.9"/><circle cx="975.5" cy="798.1" r="6.9"/><circle cx="975.6" cy="803.0" r="6.9"/><circle cx="998.5" cy="804.6" r="6.9"/><circle cx="998.5" cy="803.0" r="6.9"/><circle cx="998.5" cy="801.4" r="6.9"/><circle cx="998.5" cy="799.8" r="6.9"/><circle cx="998.5" cy="798.5" r="6.9"/><circle cx="998.5" cy="797.0" r="6.9"/><circle cx="998.5" cy="795.3" r="6.9"/><circle cx="998.5" cy="793.2" r="6.9"/><circle cx="998.5" cy="791.6" r="6.9"/><circle cx="998.5" cy="789.5" r="6.9"/><circle cx="998.5" cy="787.1" r="6.9"/><circle cx="998.5" cy="784.0" r="6.9"/><circle cx="998.5" cy="781.4" r="6.9"/><circle cx="998.5" cy="779.3" r="6.9"/><circle cx="998.5" cy="776.1" r="6.9"/><circle cx="998.5" cy="771.3" r="6.9"/><circle cx="998.5" cy="767.8" r="6.9"/><circle cx="998.5" cy="762.3" r="6.9"/><circle cx="998.6" cy="757.9" r="6.9"/><circle cx="998.6" cy="752.3" r="6.9"/><circle cx="998.6" cy="744.0" r="6.9"/><circle cx="998.6" cy="737.4" r="6.9"/><circle cx="998.6" cy="727.2" r="6.9"/><circle cx="998.6" cy="713.8" r="6.9"/><circle cx="998.6" cy="699.3" r="6.9"/><circle cx="998.6" cy="676.6" r="6.9"/><circle cx="998.7" cy="645.2" r="6.9"/><circle cx="998.7" cy="623.2" r="6.9"/><circle cx="999.8" cy="599.3" r="6.9"/><circle cx="999.8" cy="619.9" r="6.9"/><circle cx="999.9" cy="635.5" r="6.9"/><circle cx="999.9" cy="651.6" r="6.9"/><circle cx="999.9" cy="662.4" r="6.9"/><circle cx="1000.0" cy="682.5" r="6.9"/><circle cx="1000.1" cy="695.4" r="6.9"/><circle cx="1000.1" cy="708.9" r="6.9"/><circle cx="1000.2" cy="722.2" r="6.9"/><circle cx="1000.2" cy="733.1" r="6.9"/><circle cx="1000.3" cy="743.1" r="6.9"/><circle cx="1000.3" cy="752.0" r="6.9"/><circle cx="1000.4" cy="761.3" r="6.9"/><circle cx="1000.4" cy="768.2" r="6.9"/><circle cx="1000.5" cy="776.2" r="6.9"/><circle cx="1000.5" cy="783.5" r="6.9"/><circle cx="1000.5" cy="789.4" r="6.9"/><circle cx="1000.6" cy="792.7" r="6.9"/><circle cx="1000.6" cy="796.3" r="6.9"/><circle cx="1000.6" cy="799.4" r="6.9"/><circle cx="1000.6" cy="802.0" r="6.9"/><circle cx="1000.6" cy="803.7" r="6.9"/><circle cx="1023.5" cy="795.9" r="6.9"/><circle cx="1023.5" cy="794.5" r="6.9"/><circle cx="1023.5" cy="793.6" r="6.9"/><circle cx="1023.5" cy="792.6" r="6.9"/><circle cx="1023.5" cy="791.7" r="6.9"/><circle cx="1023.5" cy="790.4" r="6.9"/><circle cx="1023.5" cy="788.6" r="6.9"/><circle cx="1023.5" cy="786.9" r="6.9"/><circle cx="1023.5" cy="785.1" r="6.9"/><circle cx="1023.5" cy="782.7" r="6.9"/><circle cx="1023.5" cy="780.2" r="6.9"/><circle cx="1023.5" cy="778.3" r="6.9"/><circle cx="1023.5" cy="776.3" r="6.9"/><circle cx="1023.5" cy="773.6" r="6.9"/><circle cx="1023.5" cy="771.1" r="6.9"/><circle cx="1023.5" cy="767.7" r="6.9"/><circle cx="1023.5" cy="765.0" r="6.9"/><circle cx="1023.5" cy="761.3" r="6.9"/><circle cx="1023.5" cy="756.0" r="6.9"/><circle cx="1023.5" cy="751.6" r="6.9"/><circle cx="1023.6" cy="747.0" r="6.9"/><circle cx="1023.6" cy="739.0" r="6.9"/><circle cx="1023.6" cy="732.5" r="6.9"/><circle cx="1023.6" cy="720.4" r="6.9"/><circle cx="1023.6" cy="707.6" r="6.9"/><circle cx="1023.6" cy="688.9" r="6.9"/><circle cx="1023.6" cy="669.2" r="6.9"/><circle cx="1023.7" cy="645.1" r="6.9"/><circle cx="1023.7" cy="623.5" r="6.9"/><circle cx="1023.7" cy="605.5" r="6.9"/><circle cx="1024.8" cy="598.3" r="6.9"/><circle cx="1024.8" cy="616.2" r="6.9"/><circle cx="1024.9" cy="632.9" r="6.9"/><circle cx="1024.9" cy="643.4" r="6.9"/><circle cx="1024.9" cy="657.8" r="6.9"/><circle cx="1025.0" cy="668.2" r="6.9"/><circle cx="1025.0" cy="683.5" r="6.9"/><circle cx="1025.1" cy="695.9" r="6.9"/><circle cx="1025.1" cy="708.7" r="6.9"/><circle cx="1025.2" cy="720.6" r="6.9"/><circle cx="1025.2" cy="729.7" r="6.9"/><circle cx="1025.3" cy="738.9" r="6.9"/><circle cx="1025.3" cy="748.4" r="6.9"/><circle cx="1025.3" cy="754.5" r="6.9"/><circle cx="1025.4" cy="762.1" r="6.9"/><circle cx="1025.4" cy="770.2" r="6.9"/><circle cx="1025.5" cy="776.1" r="6.9"/><circle cx="1025.5" cy="781.6" r="6.9"/><circle cx="1025.5" cy="784.1" r="6.9"/><circle cx="1025.5" cy="787.5" r="6.9"/><circle cx="1025.5" cy="789.6" r="6.9"/><circle cx="1025.6" cy="792.6" r="6.9"/><circle cx="1025.6" cy="794.5" r="6.9"/><circle cx="1025.6" cy="796.3" r="6.9"/><circle cx="1025.6" cy="797.9" r="6.9"/><circle cx="1025.6" cy="798.9" r="6.9"/><circle cx="1025.6" cy="799.8" r="6.9"/><circle cx="1025.6" cy="801.4" r="6.9"/><circle cx="1025.6" cy="803.0" r="6.9"/><circle cx="1025.6" cy="804.2" r="6.9"/><circle cx="1046.9" cy="787.3" r="6.9"/><circle cx="1046.9" cy="786.2" r="6.9"/><circle cx="1046.9" cy="785.2" r="6.9"/><circle cx="1046.9" cy="784.3" r="6.9"/><circle cx="1046.9" cy="782.9" r="6.9"/><circle cx="1046.9" cy="781.3" r="6.9"/><circle cx="1046.9" cy="780.3" r="6.9"/><circle cx="1046.9" cy="779.0" r="6.9"/><circle cx="1046.9" cy="777.1" r="6.9"/><circle cx="1046.9" cy="775.0" r="6.9"/><circle cx="1046.9" cy="773.6" r="6.9"/><circle cx="1046.9" cy="770.8" r="6.9"/><circle cx="1046.9" cy="768.1" r="6.9"/><circle cx="1046.9" cy="765.1" r="6.9"/><circle cx="1046.9" cy="762.5" r="6.9"/><circle cx="1046.9" cy="758.2" r="6.9"/><circle cx="1046.9" cy="754.6" r="6.9"/><circle cx="1046.9" cy="750.0" r="6.9"/><circle cx="1046.9" cy="743.4" r="6.9"/><circle cx="1047.0" cy="736.1" r="6.9"/><circle cx="1047.0" cy="730.5" r="6.9"/><circle cx="1047.0" cy="724.6" r="6.9"/><circle cx="1047.0" cy="717.2" r="6.9"/><circle cx="1047.0" cy="709.4" r="6.9"/><circle cx="1047.0" cy="693.9" r="6.9"/><circle cx="1047.0" cy="677.8" r="6.9"/><circle cx="1047.0" cy="658.7" r="6.9"/><circle cx="1047.1" cy="636.5" r="6.9"/><circle cx="1047.1" cy="610.5" r="6.9"/><circle cx="1048.2" cy="602.5" r="6.9"/><circle cx="1048.3" cy="613.2" r="6.9"/><circle cx="1048.3" cy="632.4" r="6.9"/><circle cx="1048.3" cy="645.9" r="6.9"/><circle cx="1048.4" cy="665.0" r="6.9"/><circle cx="1048.5" cy="683.0" r="6.9"/><circle cx="1048.5" cy="696.4" r="6.9"/><circle cx="1048.6" cy="708.9" r="6.9"/><circle cx="1048.6" cy="720.9" r="6.9"/><circle cx="1048.7" cy="729.3" r="6.9"/><circle cx="1048.7" cy="735.5" r="6.9"/><circle cx="1048.8" cy="743.7" r="6.9"/><circle cx="1048.8" cy="749.8" r="6.9"/><circle cx="1048.8" cy="755.3" r="6.9"/><circle cx="1048.9" cy="762.4" r="6.9"/><circle cx="1048.9" cy="768.1" r="6.9"/><circle cx="1048.9" cy="771.9" r="6.9"/><circle cx="1048.9" cy="774.3" r="6.9"/><circle cx="1048.9" cy="778.1" r="6.9"/><circle cx="1049.0" cy="780.4" r="6.9"/><circle cx="1049.0" cy="782.1" r="6.9"/><circle cx="1049.0" cy="784.6" r="6.9"/><circle cx="1049.0" cy="786.9" r="6.9"/><circle cx="1049.0" cy="788.1" r="6.9"/><circle cx="1049.0" cy="789.5" r="6.9"/><circle cx="1049.0" cy="791.1" r="6.9"/><circle cx="1049.0" cy="792.4" r="6.9"/><circle cx="1049.0" cy="793.6" r="6.9"/><circle cx="1049.1" cy="794.6" r="6.9"/><circle cx="1049.1" cy="795.5" r="6.9"/><circle cx="1049.1" cy="797.1" r="6.9"/><circle cx="1049.1" cy="798.7" r="6.9"/><circle cx="1049.1" cy="799.7" r="6.9"/><circle cx="1049.1" cy="801.1" r="6.9"/><circle cx="1049.1" cy="802.2" r="6.9"/><circle cx="1049.1" cy="803.7" r="6.9"/><circle cx="1070.5" cy="778.5" r="6.9"/><circle cx="1070.5" cy="777.3" r="6.9"/><circle cx="1070.5" cy="775.7" r="6.9"/><circle cx="1070.5" cy="774.3" r="6.9"/><circle cx="1070.5" cy="773.4" r="6.9"/><circle cx="1070.5" cy="772.3" r="6.9"/><circle cx="1070.5" cy="770.8" r="6.9"/><circle cx="1070.5" cy="769.4" r="6.9"/><circle cx="1070.5" cy="768.3" r="6.9"/><circle cx="1070.5" cy="766.1" r="6.9"/><circle cx="1070.5" cy="764.4" r="6.9"/><circle cx="1070.5" cy="761.8" r="6.9"/><circle cx="1070.5" cy="759.7" r="6.9"/><circle cx="1070.5" cy="757.7" r="6.9"/><circle cx="1070.5" cy="755.1" r="6.9"/><circle cx="1070.5" cy="751.4" r="6.9"/><circle cx="1070.5" cy="747.0" r="6.9"/><circle cx="1070.5" cy="742.8" r="6.9"/><circle cx="1070.5" cy="739.0" r="6.9"/><circle cx="1070.5" cy="733.7" r="6.9"/><circle cx="1070.6" cy="728.8" r="6.9"/><circle cx="1070.6" cy="722.7" r="6.9"/><circle cx="1070.6" cy="717.6" r="6.9"/><circle cx="1070.6" cy="711.9" r="6.9"/><circle cx="1070.6" cy="699.2" r="6.9"/><circle cx="1070.6" cy="684.7" r="6.9"/><circle cx="1070.6" cy="672.0" r="6.9"/><circle cx="1070.6" cy="652.2" r="6.9"/><circle cx="1070.6" cy="636.3" r="6.9"/><circle cx="1070.7" cy="604.3" r="6.9"/><circle cx="1071.9" cy="613.5" r="6.9"/><circle cx="1071.9" cy="625.1" r="6.9"/><circle cx="1072.0" cy="643.6" r="6.9"/><circle cx="1072.0" cy="657.6" r="6.9"/><circle cx="1072.1" cy="678.7" r="6.9"/><circle cx="1072.1" cy="695.1" r="6.9"/><circle cx="1072.2" cy="709.7" r="6.9"/><circle cx="1072.2" cy="717.7" r="6.9"/><circle cx="1072.3" cy="730.3" r="6.9"/><circle cx="1072.3" cy="737.1" r="6.9"/><circle cx="1072.3" cy="742.8" r="6.9"/><circle cx="1072.4" cy="748.7" r="6.9"/><circle cx="1072.4" cy="755.3" r="6.9"/><circle cx="1072.4" cy="759.3" r="6.9"/><circle cx="1072.5" cy="763.2" r="6.9"/><circle cx="1072.5" cy="767.0" r="6.9"/><circle cx="1072.5" cy="769.4" r="6.9"/><circle cx="1072.5" cy="771.3" r="6.9"/><circle cx="1072.5" cy="773.6" r="6.9"/><circle cx="1072.5" cy="775.9" r="6.9"/><circle cx="1072.5" cy="777.9" r="6.9"/><circle cx="1072.5" cy="779.1" r="6.9"/><circle cx="1072.5" cy="780.5" r="6.9"/><circle cx="1072.6" cy="782.1" r="6.9"/><circle cx="1072.6" cy="783.6" r="6.9"/><circle cx="1072.6" cy="784.6" r="6.9"/><circle cx="1072.6" cy="785.5" r="6.9"/><circle cx="1072.6" cy="787.2" r="6.9"/><circle cx="1072.6" cy="788.7" r="6.9"/><circle cx="1072.6" cy="789.8" r="6.9"/><circle cx="1072.6" cy="791.3" r="6.9"/><circle cx="1072.6" cy="792.7" r="6.9"/><circle cx="1072.6" cy="794.1" r="6.9"/><circle cx="1072.6" cy="795.3" r="6.9"/><circle cx="1072.6" cy="796.8" r="6.9"/><circle cx="1072.7" cy="798.0" r="6.9"/><circle cx="1072.7" cy="799.1" r="6.9"/><circle cx="1072.7" cy="800.3" r="6.9"/><circle cx="1072.7" cy="801.8" r="6.9"/><circle cx="1072.7" cy="803.4" r="6.9"/><circle cx="1072.7" cy="804.5" r="6.9"/><circle cx="1092.5" cy="769.3" r="6.9"/><circle cx="1092.5" cy="768.5" r="6.9"/><circle cx="1092.5" cy="767.4" r="6.9"/><circle cx="1092.5" cy="766.2" r="6.9"/><circle cx="1092.5" cy="764.6" r="6.9"/><circle cx="1092.5" cy="763.1" r="6.9"/><circle cx="1092.5" cy="762.0" r="6.9"/><circle cx="1092.5" cy="760.5" r="6.9"/><circle cx="1092.5" cy="758.6" r="6.9"/><circle cx="1092.5" cy="757.2" r="6.9"/><circle cx="1092.5" cy="755.8" r="6.9"/><circle cx="1092.5" cy="753.3" r="6.9"/><circle cx="1092.5" cy="751.8" r="6.9"/><circle cx="1092.5" cy="750.1" r="6.9"/><circle cx="1092.5" cy="748.1" r="6.9"/><circle cx="1092.5" cy="744.7" r="6.9"/><circle cx="1092.5" cy="741.8" r="6.9"/><circle cx="1092.5" cy="738.5" r="6.9"/><circle cx="1092.5" cy="734.4" r="6.9"/><circle cx="1092.5" cy="728.7" r="6.9"/><circle cx="1092.5" cy="725.1" r="6.9"/><circle cx="1092.5" cy="720.6" r="6.9"/><circle cx="1092.6" cy="714.5" r="6.9"/><circle cx="1092.6" cy="706.2" r="6.9"/><circle cx="1092.6" cy="699.5" r="6.9"/><circle cx="1092.6" cy="689.7" r="6.9"/><circle cx="1092.6" cy="676.8" r="6.9"/><circle cx="1092.6" cy="666.5" r="6.9"/><circle cx="1092.6" cy="651.2" r="6.9"/><circle cx="1092.6" cy="636.7" r="6.9"/><circle cx="1092.7" cy="604.9" r="6.9"/><circle cx="1093.9" cy="599.6" r="6.9"/><circle cx="1093.9" cy="613.5" r="6.9"/><circle cx="1094.0" cy="629.6" r="6.9"/><circle cx="1094.0" cy="643.5" r="6.9"/><circle cx="1094.1" cy="664.5" r="6.9"/><circle cx="1094.2" cy="685.1" r="6.9"/><circle cx="1094.2" cy="696.2" r="6.9"/><circle cx="1094.2" cy="704.6" r="6.9"/><circle cx="1094.3" cy="717.8" r="6.9"/><circle cx="1094.3" cy="728.0" r="6.9"/><circle cx="1094.4" cy="735.1" r="6.9"/><circle cx="1094.4" cy="739.3" r="6.9"/><circle cx="1094.4" cy="742.9" r="6.9"/><circle cx="1094.5" cy="748.6" r="6.9"/><circle cx="1094.5" cy="753.4" r="6.9"/><circle cx="1094.5" cy="756.9" r="6.9"/><circle cx="1094.5" cy="759.7" r="6.9"/><circle cx="1094.5" cy="762.0" r="6.9"/><circle cx="1094.5" cy="764.2" r="6.9"/><circle cx="1094.5" cy="766.2" r="6.9"/><circle cx="1094.6" cy="768.2" r="6.9"/><circle cx="1094.6" cy="769.7" r="6.9"/><circle cx="1094.6" cy="770.9" r="6.9"/><circle cx="1094.6" cy="772.0" r="6.9"/><circle cx="1094.6" cy="773.4" r="6.9"/><circle cx="1094.6" cy="775.1" r="6.9"/><circle cx="1094.6" cy="776.1" r="6.9"/><circle cx="1094.6" cy="777.7" r="6.9"/><circle cx="1094.6" cy="779.1" r="6.9"/><circle cx="1094.6" cy="780.2" r="6.9"/><circle cx="1094.6" cy="781.1" r="6.9"/><circle cx="1094.6" cy="782.8" r="6.9"/><circle cx="1094.6" cy="783.7" r="6.9"/><circle cx="1094.7" cy="784.7" r="6.9"/><circle cx="1094.7" cy="785.6" r="6.9"/><circle cx="1094.7" cy="787.2" r="6.9"/><circle cx="1094.7" cy="788.4" r="6.9"/><circle cx="1094.7" cy="789.2" r="6.9"/><circle cx="1094.7" cy="790.3" r="6.9"/><circle cx="1094.7" cy="791.7" r="6.9"/><circle cx="1094.7" cy="792.9" r="6.9"/><circle cx="1094.7" cy="793.9" r="6.9"/><circle cx="1094.7" cy="795.5" r="6.9"/><circle cx="1094.7" cy="797.0" r="6.9"/><circle cx="1094.7" cy="798.1" r="6.9"/><circle cx="1094.7" cy="799.2" r="6.9"/><circle cx="1094.8" cy="800.3" r="6.9"/><circle cx="1094.8" cy="801.2" r="6.9"/><circle cx="1094.8" cy="802.6" r="6.9"/><circle cx="1094.8" cy="803.7" r="6.9"/><circle cx="1114.9" cy="760.2" r="6.9"/><circle cx="1114.9" cy="758.9" r="6.9"/><circle cx="1114.9" cy="757.9" r="6.9"/><circle cx="1114.9" cy="756.9" r="6.9"/><circle cx="1114.9" cy="755.6" r="6.9"/><circle cx="1114.9" cy="754.2" r="6.9"/><circle cx="1114.9" cy="752.9" r="6.9"/><circle cx="1114.9" cy="751.8" r="6.9"/><circle cx="1114.9" cy="749.7" r="6.9"/><circle cx="1114.9" cy="748.1" r="6.9"/><circle cx="1114.9" cy="746.3" r="6.9"/><circle cx="1114.9" cy="744.5" r="6.9"/><circle cx="1114.9" cy="742.2" r="6.9"/><circle cx="1114.9" cy="739.3" r="6.9"/><circle cx="1114.9" cy="735.8" r="6.9"/><circle cx="1114.9" cy="732.5" r="6.9"/><circle cx="1114.9" cy="728.0" r="6.9"/><circle cx="1114.9" cy="724.4" r="6.9"/><circle cx="1114.9" cy="720.0" r="6.9"/><circle cx="1114.9" cy="715.5" r="6.9"/><circle cx="1115.0" cy="707.9" r="6.9"/><circle cx="1115.0" cy="702.8" r="6.9"/><circle cx="1115.0" cy="696.5" r="6.9"/><circle cx="1115.0" cy="686.0" r="6.9"/><circle cx="1115.0" cy="677.1" r="6.9"/><circle cx="1115.0" cy="668.3" r="6.9"/><circle cx="1115.0" cy="655.2" r="6.9"/><circle cx="1115.0" cy="638.3" r="6.9"/><circle cx="1115.0" cy="617.6" r="6.9"/><circle cx="1116.3" cy="612.5" r="6.9"/><circle cx="1116.4" cy="628.3" r="6.9"/><circle cx="1116.4" cy="640.2" r="6.9"/><circle cx="1116.5" cy="653.1" r="6.9"/><circle cx="1116.5" cy="667.7" r="6.9"/><circle cx="1116.5" cy="678.5" r="6.9"/><circle cx="1116.6" cy="693.7" r="6.9"/><circle cx="1116.7" cy="705.3" r="6.9"/><circle cx="1116.7" cy="714.8" r="6.9"/><circle cx="1116.7" cy="723.2" r="6.9"/><circle cx="1116.7" cy="728.0" r="6.9"/><circle cx="1116.8" cy="731.7" r="6.9"/><circle cx="1116.8" cy="735.4" r="6.9"/><circle cx="1116.8" cy="741.3" r="6.9"/><circle cx="1116.8" cy="745.2" r="6.9"/><circle cx="1116.9" cy="749.7" r="6.9"/><circle cx="1116.9" cy="752.1" r="6.9"/><circle cx="1116.9" cy="754.4" r="6.9"/><circle cx="1116.9" cy="756.8" r="6.9"/><circle cx="1116.9" cy="759.0" r="6.9"/><circle cx="1116.9" cy="760.5" r="6.9"/><circle cx="1116.9" cy="761.8" r="6.9"/><circle cx="1116.9" cy="763.0" r="6.9"/><circle cx="1116.9" cy="764.1" r="6.9"/><circle cx="1116.9" cy="765.7" r="6.9"/><circle cx="1116.9" cy="767.4" r="6.9"/><circle cx="1117.0" cy="768.6" r="6.9"/><circle cx="1117.0" cy="769.6" r="6.9"/><circle cx="1117.0" cy="771.3" r="6.9"/><circle cx="1117.0" cy="772.5" r="6.9"/><circle cx="1117.0" cy="774.0" r="6.9"/><circle cx="1117.0" cy="775.3" r="6.9"/><circle cx="1117.0" cy="776.2" r="6.9"/><circle cx="1117.0" cy="777.7" r="6.9"/><circle cx="1117.0" cy="778.7" r="6.9"/><circle cx="1117.0" cy="780.3" r="6.9"/><circle cx="1117.0" cy="781.3" r="6.9"/><circle cx="1117.0" cy="782.5" r="6.9"/><circle cx="1117.0" cy="783.4" r="6.9"/><circle cx="1117.0" cy="784.4" r="6.9"/><circle cx="1117.0" cy="785.8" r="6.9"/><circle cx="1117.0" cy="786.8" r="6.9"/><circle cx="1117.1" cy="787.7" r="6.9"/><circle cx="1117.1" cy="788.6" r="6.9"/><circle cx="1117.1" cy="789.5" r="6.9"/><circle cx="1117.1" cy="790.8" r="6.9"/><circle cx="1117.1" cy="791.8" r="6.9"/><circle cx="1117.1" cy="793.4" r="6.9"/><circle cx="1117.1" cy="794.8" r="6.9"/><circle cx="1117.1" cy="796.1" r="6.9"/><circle cx="1117.1" cy="797.8" r="6.9"/><circle cx="1117.1" cy="799.5" r="6.9"/><circle cx="1117.1" cy="800.7" r="6.9"/><circle cx="1117.1" cy="802.2" r="6.9"/><circle cx="1117.1" cy="803.7" r="6.9"/><circle cx="1135.9" cy="750.4" r="6.9"/><circle cx="1135.9" cy="748.8" r="6.9"/><circle cx="1135.9" cy="747.3" r="6.9"/><circle cx="1135.9" cy="745.9" r="6.9"/><circle cx="1135.9" cy="744.4" r="6.9"/><circle cx="1135.9" cy="742.7" r="6.9"/><circle cx="1135.9" cy="741.2" r="6.9"/><circle cx="1135.9" cy="739.9" r="6.9"/><circle cx="1135.9" cy="738.0" r="6.9"/><circle cx="1135.9" cy="735.5" r="6.9"/><circle cx="1135.9" cy="732.8" r="6.9"/><circle cx="1135.9" cy="730.1" r="6.9"/><circle cx="1135.9" cy="728.1" r="6.9"/><circle cx="1135.9" cy="725.7" r="6.9"/><circle cx="1135.9" cy="723.1" r="6.9"/><circle cx="1135.9" cy="719.6" r="6.9"/><circle cx="1135.9" cy="714.8" r="6.9"/><circle cx="1135.9" cy="710.1" r="6.9"/><circle cx="1135.9" cy="704.8" r="6.9"/><circle cx="1135.9" cy="699.4" r="6.9"/><circle cx="1136.0" cy="694.3" r="6.9"/><circle cx="1136.0" cy="688.1" r="6.9"/><circle cx="1136.0" cy="676.8" r="6.9"/><circle cx="1136.0" cy="663.4" r="6.9"/><circle cx="1136.0" cy="648.9" r="6.9"/><circle cx="1136.0" cy="630.5" r="6.9"/><circle cx="1136.0" cy="614.0" r="6.9"/><circle cx="1137.4" cy="606.7" r="6.9"/><circle cx="1137.4" cy="623.5" r="6.9"/><circle cx="1137.5" cy="643.6" r="6.9"/><circle cx="1137.5" cy="656.7" r="6.9"/><circle cx="1137.5" cy="666.2" r="6.9"/><circle cx="1137.6" cy="681.7" r="6.9"/><circle cx="1137.6" cy="692.7" r="6.9"/><circle cx="1137.7" cy="703.5" r="6.9"/><circle cx="1137.7" cy="712.2" r="6.9"/><circle cx="1137.8" cy="719.8" r="6.9"/><circle cx="1137.8" cy="724.6" r="6.9"/><circle cx="1137.8" cy="730.5" r="6.9"/><circle cx="1137.8" cy="734.8" r="6.9"/><circle cx="1137.8" cy="738.0" r="6.9"/><circle cx="1137.9" cy="740.3" r="6.9"/><circle cx="1137.9" cy="742.2" r="6.9"/><circle cx="1137.9" cy="744.2" r="6.9"/><circle cx="1137.9" cy="746.0" r="6.9"/><circle cx="1137.9" cy="747.7" r="6.9"/><circle cx="1137.9" cy="749.6" r="6.9"/><circle cx="1137.9" cy="751.5" r="6.9"/><circle cx="1137.9" cy="752.9" r="6.9"/><circle cx="1137.9" cy="754.3" r="6.9"/><circle cx="1137.9" cy="755.2" r="6.9"/><circle cx="1137.9" cy="756.7" r="6.9"/><circle cx="1137.9" cy="758.0" r="6.9"/><circle cx="1137.9" cy="759.5" r="6.9"/><circle cx="1138.0" cy="760.7" r="6.9"/><circle cx="1138.0" cy="762.1" r="6.9"/><circle cx="1138.0" cy="763.4" r="6.9"/><circle cx="1138.0" cy="765.0" r="6.9"/><circle cx="1138.0" cy="766.2" r="6.9"/><circle cx="1138.0" cy="767.8" r="6.9"/><circle cx="1138.0" cy="769.5" r="6.9"/><circle cx="1138.0" cy="770.8" r="6.9"/><circle cx="1138.0" cy="772.1" r="6.9"/><circle cx="1138.0" cy="773.6" r="6.9"/><circle cx="1138.0" cy="774.9" r="6.9"/><circle cx="1138.0" cy="776.6" r="6.9"/><circle cx="1138.0" cy="778.3" r="6.9"/><circle cx="1138.1" cy="779.6" r="6.9"/><circle cx="1138.1" cy="781.1" r="6.9"/><circle cx="1138.1" cy="782.0" r="6.9"/><circle cx="1138.1" cy="783.7" r="6.9"/><circle cx="1138.1" cy="785.1" r="6.9"/><circle cx="1138.1" cy="786.0" r="6.9"/><circle cx="1138.1" cy="786.8" r="6.9"/><circle cx="1138.1" cy="788.4" r="6.9"/><circle cx="1138.1" cy="790.0" r="6.9"/><circle cx="1138.1" cy="791.4" r="6.9"/><circle cx="1138.1" cy="792.6" r="6.9"/><circle cx="1138.1" cy="793.7" r="6.9"/><circle cx="1138.1" cy="795.0" r="6.9"/><circle cx="1138.2" cy="796.6" r="6.9"/><circle cx="1138.2" cy="797.8" r="6.9"/><circle cx="1138.2" cy="798.5" r="6.9"/><circle cx="1138.2" cy="799.4" r="6.9"/><circle cx="1138.2" cy="800.2" r="6.9"/><circle cx="1138.2" cy="801.7" r="6.9"/><circle cx="1138.2" cy="803.2" r="6.9"/><circle cx="1138.7" cy="800.5" r="6.9"/><circle cx="1156.7" cy="740.5" r="6.9"/><circle cx="1156.7" cy="738.9" r="6.9"/><circle cx="1156.7" cy="737.6" r="6.9"/><circle cx="1156.7" cy="736.3" r="6.9"/><circle cx="1156.7" cy="734.9" r="6.9"/><circle cx="1156.7" cy="733.1" r="6.9"/><circle cx="1156.7" cy="731.5" r="6.9"/><circle cx="1156.7" cy="730.2" r="6.9"/><circle cx="1156.7" cy="728.0" r="6.9"/><circle cx="1156.7" cy="725.6" r="6.9"/><circle cx="1156.7" cy="723.2" r="6.9"/><circle cx="1156.7" cy="720.5" r="6.9"/><circle cx="1156.7" cy="717.7" r="6.9"/><circle cx="1156.7" cy="715.2" r="6.9"/><circle cx="1156.7" cy="711.1" r="6.9"/><circle cx="1156.7" cy="707.1" r="6.9"/><circle cx="1156.7" cy="704.0" r="6.9"/><circle cx="1156.7" cy="698.6" r="6.9"/><circle cx="1156.7" cy="693.8" r="6.9"/><circle cx="1156.7" cy="689.7" r="6.9"/><circle cx="1156.8" cy="681.5" r="6.9"/><circle cx="1156.8" cy="675.3" r="6.9"/><circle cx="1156.8" cy="666.9" r="6.9"/><circle cx="1156.8" cy="659.5" r="6.9"/><circle cx="1156.8" cy="647.6" r="6.9"/><circle cx="1156.8" cy="633.2" r="6.9"/><circle cx="1156.8" cy="612.1" r="6.9"/><circle cx="1158.2" cy="600.0" r="6.9"/><circle cx="1158.2" cy="611.4" r="6.9"/><circle cx="1158.3" cy="628.8" r="6.9"/><circle cx="1158.3" cy="639.1" r="6.9"/><circle cx="1158.3" cy="654.0" r="6.9"/><circle cx="1158.4" cy="669.2" r="6.9"/><circle cx="1158.4" cy="679.6" r="6.9"/><circle cx="1158.5" cy="687.9" r="6.9"/><circle cx="1158.5" cy="698.1" r="6.9"/><circle cx="1158.5" cy="705.8" r="6.9"/><circle cx="1158.6" cy="713.3" r="6.9"/><circle cx="1158.6" cy="718.3" r="6.9"/><circle cx="1158.6" cy="722.0" r="6.9"/><circle cx="1158.6" cy="726.2" r="6.9"/><circle cx="1158.6" cy="729.4" r="6.9"/><circle cx="1158.6" cy="731.2" r="6.9"/><circle cx="1158.7" cy="733.1" r="6.9"/><circle cx="1158.7" cy="736.2" r="6.9"/><circle cx="1158.7" cy="738.3" r="6.9"/><circle cx="1158.7" cy="739.4" r="6.9"/><circle cx="1158.7" cy="741.2" r="6.9"/><circle cx="1158.7" cy="742.7" r="6.9"/><circle cx="1158.7" cy="743.6" r="6.9"/><circle cx="1158.7" cy="745.3" r="6.9"/><circle cx="1158.7" cy="746.3" r="6.9"/><circle cx="1158.7" cy="747.7" r="6.9"/><circle cx="1158.7" cy="749.1" r="6.9"/><circle cx="1158.7" cy="750.4" r="6.9"/><circle cx="1158.7" cy="751.6" r="6.9"/><circle cx="1158.7" cy="752.9" r="6.9"/><circle cx="1158.8" cy="754.3" r="6.9"/><circle cx="1158.8" cy="756.0" r="6.9"/><circle cx="1158.8" cy="757.7" r="6.9"/><circle cx="1158.8" cy="759.4" r="6.9"/><circle cx="1158.8" cy="761.0" r="6.9"/><circle cx="1158.8" cy="762.3" r="6.9"/><circle cx="1158.8" cy="763.4" r="6.9"/><circle cx="1158.8" cy="765.1" r="6.9"/><circle cx="1158.8" cy="766.8" r="6.9"/><circle cx="1158.8" cy="767.9" r="6.9"/><circle cx="1158.8" cy="769.5" r="6.9"/><circle cx="1158.8" cy="770.6" r="6.9"/><circle cx="1158.8" cy="771.5" r="6.9"/><circle cx="1158.8" cy="772.8" r="6.9"/><circle cx="1158.9" cy="774.5" r="6.9"/><circle cx="1158.9" cy="775.8" r="6.9"/><circle cx="1158.9" cy="777.4" r="6.9"/><circle cx="1158.9" cy="779.0" r="6.9"/><circle cx="1158.9" cy="780.6" r="6.9"/><circle cx="1158.9" cy="781.7" r="6.9"/><circle cx="1158.9" cy="783.3" r="6.9"/><circle cx="1158.9" cy="784.3" r="6.9"/><circle cx="1158.9" cy="785.6" r="6.9"/><circle cx="1158.9" cy="786.5" r="6.9"/><circle cx="1158.9" cy="787.7" r="6.9"/><circle cx="1158.9" cy="789.0" r="6.9"/><circle cx="1158.9" cy="790.3" r="6.9"/><circle cx="1159.0" cy="791.8" r="6.9"/><circle cx="1159.0" cy="793.1" r="6.9"/><circle cx="1159.0" cy="794.4" r="6.9"/><circle cx="1159.0" cy="795.4" r="6.9"/><circle cx="1159.0" cy="796.8" r="6.9"/><circle cx="1159.0" cy="798.6" r="6.9"/><circle cx="1159.0" cy="800.0" r="6.9"/><circle cx="1159.0" cy="802.0" r="6.9"/><circle cx="1159.0" cy="803.5" r="6.9"/><circle cx="1159.4" cy="800.6" r="6.9"/><circle cx="1159.4" cy="800.6" r="6.9"/><circle cx="1159.4" cy="800.6" r="6.9"/><circle cx="1159.4" cy="800.6" r="6.9"/><circle cx="1159.4" cy="800.6" r="6.9"/><circle cx="1159.5" cy="794.4" r="6.9"/><circle cx="1177.0" cy="729.6" r="6.9"/><circle cx="1177.0" cy="728.1" r="6.9"/><circle cx="1177.0" cy="727.2" r="6.9"/><circle cx="1177.0" cy="725.8" r="6.9"/><circle cx="1177.0" cy="724.8" r="6.9"/><circle cx="1177.0" cy="723.1" r="6.9"/><circle cx="1177.0" cy="721.9" r="6.9"/><circle cx="1177.0" cy="720.1" r="6.9"/><circle cx="1177.0" cy="718.6" r="6.9"/><circle cx="1177.0" cy="716.7" r="6.9"/><circle cx="1177.0" cy="714.8" r="6.9"/><circle cx="1177.0" cy="712.0" r="6.9"/><circle cx="1177.0" cy="709.8" r="6.9"/><circle cx="1177.0" cy="707.3" r="6.9"/><circle cx="1177.0" cy="704.5" r="6.9"/><circle cx="1177.0" cy="702.0" r="6.9"/><circle cx="1177.0" cy="697.7" r="6.9"/><circle cx="1177.0" cy="694.3" r="6.9"/><circle cx="1177.0" cy="691.1" r="6.9"/><circle cx="1177.0" cy="687.5" r="6.9"/><circle cx="1177.0" cy="681.6" r="6.9"/><circle cx="1177.0" cy="673.9" r="6.9"/><circle cx="1177.1" cy="666.3" r="6.9"/><circle cx="1177.1" cy="655.3" r="6.9"/><circle cx="1177.1" cy="647.0" r="6.9"/><circle cx="1177.1" cy="632.0" r="6.9"/><circle cx="1177.1" cy="614.3" r="6.9"/><circle cx="1177.1" cy="599.4" r="6.9"/><circle cx="1178.5" cy="607.9" r="6.9"/><circle cx="1178.6" cy="621.6" r="6.9"/><circle cx="1178.6" cy="637.7" r="6.9"/><circle cx="1178.7" cy="648.6" r="6.9"/><circle cx="1178.7" cy="660.5" r="6.9"/><circle cx="1178.7" cy="670.7" r="6.9"/><circle cx="1178.8" cy="676.6" r="6.9"/><circle cx="1178.8" cy="683.7" r="6.9"/><circle cx="1178.8" cy="692.5" r="6.9"/><circle cx="1178.8" cy="697.3" r="6.9"/><circle cx="1178.9" cy="703.8" r="6.9"/><circle cx="1178.9" cy="707.0" r="6.9"/><circle cx="1178.9" cy="711.2" r="6.9"/><circle cx="1178.9" cy="714.7" r="6.9"/><circle cx="1178.9" cy="718.3" r="6.9"/><circle cx="1178.9" cy="720.2" r="6.9"/><circle cx="1178.9" cy="722.1" r="6.9"/><circle cx="1179.0" cy="724.3" r="6.9"/><circle cx="1179.0" cy="726.9" r="6.9"/><circle cx="1179.0" cy="728.7" r="6.9"/><circle cx="1179.0" cy="730.5" r="6.9"/><circle cx="1179.0" cy="731.9" r="6.9"/><circle cx="1179.0" cy="733.6" r="6.9"/><circle cx="1179.0" cy="734.5" r="6.9"/><circle cx="1179.0" cy="736.2" r="6.9"/><circle cx="1179.0" cy="737.2" r="6.9"/><circle cx="1179.0" cy="738.3" r="6.9"/><circle cx="1179.0" cy="739.6" r="6.9"/><circle cx="1179.0" cy="740.8" r="6.9"/><circle cx="1179.0" cy="742.6" r="6.9"/><circle cx="1179.0" cy="744.3" r="6.9"/><circle cx="1179.1" cy="745.8" r="6.9"/><circle cx="1179.1" cy="746.9" r="6.9"/><circle cx="1179.1" cy="747.9" r="6.9"/><circle cx="1179.1" cy="749.2" r="6.9"/><circle cx="1179.1" cy="750.3" r="6.9"/><circle cx="1179.1" cy="751.3" r="6.9"/><circle cx="1179.1" cy="752.4" r="6.9"/><circle cx="1179.1" cy="753.5" r="6.9"/><circle cx="1179.1" cy="754.6" r="6.9"/><circle cx="1179.1" cy="755.5" r="6.9"/><circle cx="1179.1" cy="756.6" r="6.9"/><circle cx="1179.1" cy="758.4" r="6.9"/><circle cx="1179.1" cy="760.0" r="6.9"/><circle cx="1179.1" cy="761.4" r="6.9"/><circle cx="1179.1" cy="763.1" r="6.9"/><circle cx="1179.1" cy="764.8" r="6.9"/><circle cx="1179.2" cy="765.7" r="6.9"/><circle cx="1179.2" cy="766.6" r="6.9"/><circle cx="1179.2" cy="767.8" r="6.9"/><circle cx="1179.2" cy="769.1" r="6.9"/><circle cx="1179.2" cy="770.8" r="6.9"/><circle cx="1179.2" cy="771.7" r="6.9"/><circle cx="1179.2" cy="773.2" r="6.9"/><circle cx="1179.2" cy="774.8" r="6.9"/><circle cx="1179.2" cy="775.8" r="6.9"/><circle cx="1179.2" cy="777.4" r="6.9"/><circle cx="1179.2" cy="779.0" r="6.9"/><circle cx="1179.2" cy="779.8" r="6.9"/><circle cx="1179.2" cy="781.0" r="6.9"/><circle cx="1179.2" cy="782.1" r="6.9"/><circle cx="1179.2" cy="783.5" r="6.9"/><circle cx="1179.3" cy="784.5" r="6.9"/><circle cx="1179.3" cy="786.0" r="6.9"/><circle cx="1179.3" cy="786.9" r="6.9"/><circle cx="1179.3" cy="787.9" r="6.9"/><circle cx="1179.3" cy="789.3" r="6.9"/><circle cx="1179.3" cy="790.6" r="6.9"/><circle cx="1179.3" cy="792.2" r="6.9"/><circle cx="1179.3" cy="793.5" r="6.9"/><circle cx="1179.3" cy="795.9" r="6.9"/><circle cx="1179.3" cy="797.7" r="6.9"/><circle cx="1179.3" cy="799.6" r="6.9"/><circle cx="1179.3" cy="801.5" r="6.9"/><circle cx="1179.4" cy="804.2" r="6.9"/><circle cx="1179.6" cy="802.9" r="6.9"/><circle cx="1179.6" cy="802.9" r="6.9"/><circle cx="1179.6" cy="802.9" r="6.9"/><circle cx="1179.7" cy="795.5" r="6.9"/><circle cx="1179.7" cy="795.5" r="6.9"/><circle cx="1179.7" cy="795.5" r="6.9"/><circle cx="1179.7" cy="795.5" r="6.9"/><circle cx="1179.7" cy="795.5" r="6.9"/><circle cx="1179.7" cy="788.5" r="6.9"/><circle cx="1179.7" cy="788.5" r="6.9"/><circle cx="1179.7" cy="788.5" r="6.9"/><circle cx="1179.7" cy="788.5" r="6.9"/><circle cx="1179.7" cy="788.5" r="6.9"/><circle cx="1179.7" cy="788.5" r="6.9"/><circle cx="1179.7" cy="782.0" r="6.9"/><circle cx="1197.0" cy="717.9" r="6.9"/><circle cx="1197.0" cy="716.3" r="6.9"/><circle cx="1197.0" cy="715.2" r="6.9"/><circle cx="1197.0" cy="713.5" r="6.9"/><circle cx="1197.0" cy="712.3" r="6.9"/><circle cx="1197.0" cy="710.9" r="6.9"/><circle cx="1197.0" cy="709.9" r="6.9"/><circle cx="1197.0" cy="708.7" r="6.9"/><circle cx="1197.0" cy="706.6" r="6.9"/><circle cx="1197.0" cy="704.9" r="6.9"/><circle cx="1197.0" cy="702.8" r="6.9"/><circle cx="1197.0" cy="700.7" r="6.9"/><circle cx="1197.0" cy="698.2" r="6.9"/><circle cx="1197.0" cy="695.7" r="6.9"/><circle cx="1197.0" cy="693.6" r="6.9"/><circle cx="1197.0" cy="691.1" r="6.9"/><circle cx="1197.0" cy="687.7" r="6.9"/><circle cx="1197.0" cy="685.0" r="6.9"/><circle cx="1197.0" cy="679.9" r="6.9"/><circle cx="1197.0" cy="676.8" r="6.9"/><circle cx="1197.0" cy="671.7" r="6.9"/><circle cx="1197.0" cy="664.7" r="6.9"/><circle cx="1197.1" cy="657.0" r="6.9"/><circle cx="1197.1" cy="651.2" r="6.9"/><circle cx="1197.1" cy="644.9" r="6.9"/><circle cx="1197.1" cy="633.6" r="6.9"/><circle cx="1197.1" cy="622.4" r="6.9"/><circle cx="1197.1" cy="612.3" r="6.9"/><circle cx="1197.1" cy="600.4" r="6.9"/><circle cx="1198.6" cy="610.8" r="6.9"/><circle cx="1198.6" cy="620.8" r="6.9"/><circle cx="1198.6" cy="634.0" r="6.9"/><circle cx="1198.7" cy="643.7" r="6.9"/><circle cx="1198.7" cy="656.5" r="6.9"/><circle cx="1198.8" cy="667.4" r="6.9"/><circle cx="1198.8" cy="676.9" r="6.9"/><circle cx="1198.8" cy="681.6" r="6.9"/><circle cx="1198.8" cy="687.8" r="6.9"/><circle cx="1198.8" cy="691.8" r="6.9"/><circle cx="1198.9" cy="697.9" r="6.9"/><circle cx="1198.9" cy="700.8" r="6.9"/><circle cx="1198.9" cy="704.7" r="6.9"/><circle cx="1198.9" cy="708.2" r="6.9"/><circle cx="1198.9" cy="710.2" r="6.9"/><circle cx="1198.9" cy="712.7" r="6.9"/><circle cx="1198.9" cy="714.2" r="6.9"/><circle cx="1198.9" cy="715.4" r="6.9"/><circle cx="1198.9" cy="716.8" r="6.9"/><circle cx="1198.9" cy="717.9" r="6.9"/><circle cx="1199.0" cy="719.2" r="6.9"/><circle cx="1199.0" cy="720.7" r="6.9"/><circle cx="1199.0" cy="722.4" r="6.9"/><circle cx="1199.0" cy="723.5" r="6.9"/><circle cx="1199.0" cy="724.7" r="6.9"/><circle cx="1199.0" cy="726.2" r="6.9"/><circle cx="1199.0" cy="727.3" r="6.9"/><circle cx="1199.0" cy="728.5" r="6.9"/><circle cx="1199.0" cy="729.7" r="6.9"/><circle cx="1199.0" cy="731.3" r="6.9"/><circle cx="1199.0" cy="732.4" r="6.9"/><circle cx="1199.0" cy="734.0" r="6.9"/><circle cx="1199.0" cy="735.0" r="6.9"/><circle cx="1199.0" cy="736.1" r="6.9"/><circle cx="1199.0" cy="737.2" r="6.9"/><circle cx="1199.0" cy="738.2" r="6.9"/><circle cx="1199.0" cy="739.2" r="6.9"/><circle cx="1199.0" cy="740.4" r="6.9"/><circle cx="1199.1" cy="742.0" r="6.9"/><circle cx="1199.1" cy="743.5" r="6.9"/><circle cx="1199.1" cy="745.2" r="6.9"/><circle cx="1199.1" cy="746.3" r="6.9"/><circle cx="1199.1" cy="747.5" r="6.9"/><circle cx="1199.1" cy="748.5" r="6.9"/><circle cx="1199.1" cy="749.8" r="6.9"/><circle cx="1199.1" cy="750.8" r="6.9"/><circle cx="1199.1" cy="752.4" r="6.9"/><circle cx="1199.1" cy="753.6" r="6.9"/><circle cx="1199.1" cy="754.5" r="6.9"/><circle cx="1199.1" cy="755.8" r="6.9"/><circle cx="1199.1" cy="757.0" r="6.9"/><circle cx="1199.1" cy="758.0" r="6.9"/><circle cx="1199.1" cy="759.2" r="6.9"/><circle cx="1199.1" cy="760.6" r="6.9"/><circle cx="1199.1" cy="762.4" r="6.9"/><circle cx="1199.2" cy="763.8" r="6.9"/><circle cx="1199.2" cy="764.8" r="6.9"/><circle cx="1199.2" cy="765.7" r="6.9"/><circle cx="1199.2" cy="766.9" r="6.9"/><circle cx="1199.2" cy="767.9" r="6.9"/><circle cx="1199.2" cy="769.1" r="6.9"/><circle cx="1199.2" cy="770.1" r="6.9"/><circle cx="1199.2" cy="771.0" r="6.9"/><circle cx="1199.2" cy="771.9" r="6.9"/><circle cx="1199.2" cy="773.4" r="6.9"/><circle cx="1199.2" cy="775.0" r="6.9"/><circle cx="1199.2" cy="776.6" r="6.9"/><circle cx="1199.2" cy="778.4" r="6.9"/><circle cx="1199.2" cy="779.9" r="6.9"/><circle cx="1199.2" cy="781.7" r="6.9"/><circle cx="1199.3" cy="783.3" r="6.9"/><circle cx="1199.3" cy="785.3" r="6.9"/><circle cx="1199.3" cy="787.5" r="6.9"/><circle cx="1199.3" cy="789.7" r="6.9"/><circle cx="1199.3" cy="792.2" r="6.9"/><circle cx="1199.3" cy="794.5" r="6.9"/><circle cx="1199.3" cy="796.6" r="6.9"/><circle cx="1199.3" cy="799.5" r="6.9"/><circle cx="1199.4" cy="802.7" r="6.9"/><circle cx="1199.5" cy="800.1" r="6.9"/><circle cx="1199.5" cy="800.1" r="6.9"/><circle cx="1199.5" cy="800.1" r="6.9"/><circle cx="1199.5" cy="800.1" r="6.9"/><circle cx="1199.6" cy="791.6" r="6.9"/><circle cx="1199.6" cy="791.6" r="6.9"/><circle cx="1199.6" cy="791.6" r="6.9"/><circle cx="1199.6" cy="791.6" r="6.9"/><circle cx="1199.6" cy="783.7" r="6.9"/><circle cx="1199.6" cy="783.7" r="6.9"/><circle cx="1199.6" cy="783.7" r="6.9"/><circle cx="1199.6" cy="783.7" r="6.9"/><circle cx="1199.6" cy="783.7" r="6.9"/><circle cx="1199.6" cy="783.7" r="6.9"/><circle cx="1199.6" cy="776.2" r="6.9"/><circle cx="1199.6" cy="776.2" r="6.9"/><circle cx="1199.6" cy="776.2" r="6.9"/><circle cx="1199.6" cy="776.2" r="6.9"/><circle cx="1199.6" cy="776.2" r="6.9"/><circle cx="1199.6" cy="776.2" r="6.9"/><circle cx="1199.6" cy="776.2" r="6.9"/><circle cx="1199.7" cy="769.2" r="6.9"/><circle cx="1216.4" cy="705.8" r="6.9"/><circle cx="1216.4" cy="704.1" r="6.9"/><circle cx="1216.4" cy="702.7" r="6.9"/><circle cx="1216.4" cy="701.6" r="6.9"/><circle cx="1216.4" cy="700.0" r="6.9"/><circle cx="1216.4" cy="699.0" r="6.9"/><circle cx="1216.4" cy="697.5" r="6.9"/><circle cx="1216.4" cy="695.6" r="6.9"/><circle cx="1216.4" cy="694.4" r="6.9"/><circle cx="1216.4" cy="693.1" r="6.9"/><circle cx="1216.4" cy="690.9" r="6.9"/><circle cx="1216.4" cy="689.3" r="6.9"/><circle cx="1216.4" cy="686.7" r="6.9"/><circle cx="1216.4" cy="684.4" r="6.9"/><circle cx="1216.4" cy="682.4" r="6.9"/><circle cx="1216.4" cy="678.9" r="6.9"/><circle cx="1216.4" cy="676.1" r="6.9"/><circle cx="1216.4" cy="673.3" r="6.9"/><circle cx="1216.4" cy="668.5" r="6.9"/><circle cx="1216.4" cy="662.7" r="6.9"/><circle cx="1216.4" cy="658.2" r="6.9"/><circle cx="1216.4" cy="650.7" r="6.9"/><circle cx="1216.4" cy="645.8" r="6.9"/><circle cx="1216.5" cy="636.7" r="6.9"/><circle cx="1216.5" cy="627.2" r="6.9"/><circle cx="1216.5" cy="618.5" r="6.9"/><circle cx="1216.5" cy="607.2" r="6.9"/><circle cx="1218.0" cy="610.1" r="6.9"/><circle cx="1218.1" cy="626.7" r="6.9"/><circle cx="1218.1" cy="639.0" r="6.9"/><circle cx="1218.1" cy="645.6" r="6.9"/><circle cx="1218.1" cy="653.3" r="6.9"/><circle cx="1218.2" cy="660.9" r="6.9"/><circle cx="1218.2" cy="666.1" r="6.9"/><circle cx="1218.2" cy="673.8" r="6.9"/><circle cx="1218.2" cy="678.6" r="6.9"/><circle cx="1218.2" cy="682.8" r="6.9"/><circle cx="1218.3" cy="686.1" r="6.9"/><circle cx="1218.3" cy="690.0" r="6.9"/><circle cx="1218.3" cy="694.0" r="6.9"/><circle cx="1218.3" cy="696.0" r="6.9"/><circle cx="1218.3" cy="698.6" r="6.9"/><circle cx="1218.3" cy="700.5" r="6.9"/><circle cx="1218.3" cy="701.9" r="6.9"/><circle cx="1218.3" cy="703.6" r="6.9"/><circle cx="1218.3" cy="705.4" r="6.9"/><circle cx="1218.3" cy="706.9" r="6.9"/><circle cx="1218.4" cy="708.7" r="6.9"/><circle cx="1218.4" cy="710.2" r="6.9"/><circle cx="1218.4" cy="711.9" r="6.9"/><circle cx="1218.4" cy="713.4" r="6.9"/><circle cx="1218.4" cy="714.8" r="6.9"/><circle cx="1218.4" cy="716.5" r="6.9"/><circle cx="1218.4" cy="718.1" r="6.9"/><circle cx="1218.4" cy="719.7" r="6.9"/><circle cx="1218.4" cy="720.8" r="6.9"/><circle cx="1218.4" cy="721.9" r="6.9"/><circle cx="1218.4" cy="723.5" r="6.9"/><circle cx="1218.4" cy="724.4" r="6.9"/><circle cx="1218.4" cy="725.6" r="6.9"/><circle cx="1218.4" cy="727.2" r="6.9"/><circle cx="1218.4" cy="728.3" r="6.9"/><circle cx="1218.4" cy="729.6" r="6.9"/><circle cx="1218.4" cy="730.8" r="6.9"/><circle cx="1218.5" cy="732.2" r="6.9"/><circle cx="1218.5" cy="733.8" r="6.9"/><circle cx="1218.5" cy="734.7" r="6.9"/><circle cx="1218.5" cy="735.9" r="6.9"/><circle cx="1218.5" cy="737.6" r="6.9"/><circle cx="1218.5" cy="738.8" r="6.9"/><circle cx="1218.5" cy="740.5" r="6.9"/><circle cx="1218.5" cy="741.6" r="6.9"/><circle cx="1218.5" cy="742.9" r="6.9"/><circle cx="1218.5" cy="743.9" r="6.9"/><circle cx="1218.5" cy="745.6" r="6.9"/><circle cx="1218.5" cy="746.8" r="6.9"/><circle cx="1218.5" cy="748.4" r="6.9"/><circle cx="1218.5" cy="749.9" r="6.9"/><circle cx="1218.5" cy="751.0" r="6.9"/><circle cx="1218.5" cy="752.6" r="6.9"/><circle cx="1218.5" cy="753.5" r="6.9"/><circle cx="1218.6" cy="755.2" r="6.9"/><circle cx="1218.6" cy="756.4" r="6.9"/><circle cx="1218.6" cy="757.3" r="6.9"/><circle cx="1218.6" cy="758.5" r="6.9"/><circle cx="1218.6" cy="759.6" r="6.9"/><circle cx="1218.6" cy="760.8" r="6.9"/><circle cx="1218.6" cy="762.5" r="6.9"/><circle cx="1218.6" cy="763.8" r="6.9"/><circle cx="1218.6" cy="765.4" r="6.9"/><circle cx="1218.6" cy="766.4" r="6.9"/><circle cx="1218.6" cy="767.5" r="6.9"/><circle cx="1218.6" cy="769.0" r="6.9"/><circle cx="1218.6" cy="770.6" r="6.9"/><circle cx="1218.6" cy="772.9" r="6.9"/><circle cx="1218.7" cy="774.9" r="6.9"/><circle cx="1218.7" cy="777.3" r="6.9"/><circle cx="1218.7" cy="779.5" r="6.9"/><circle cx="1218.7" cy="782.3" r="6.9"/><circle cx="1218.7" cy="784.3" r="6.9"/><circle cx="1218.7" cy="785.9" r="6.9"/><circle cx="1218.7" cy="788.8" r="6.9"/><circle cx="1218.7" cy="791.7" r="6.9"/><circle cx="1218.8" cy="793.8" r="6.9"/><circle cx="1218.8" cy="796.1" r="6.9"/><circle cx="1218.8" cy="798.9" r="6.9"/><circle cx="1218.8" cy="802.8" r="6.9"/><circle cx="1218.9" cy="798.7" r="6.9"/><circle cx="1218.9" cy="798.7" r="6.9"/><circle cx="1218.9" cy="798.7" r="6.9"/><circle cx="1218.9" cy="789.1" r="6.9"/><circle cx="1218.9" cy="789.1" r="6.9"/><circle cx="1218.9" cy="789.1" r="6.9"/><circle cx="1218.9" cy="789.1" r="6.9"/><circle cx="1219.0" cy="780.1" r="6.9"/><circle cx="1219.0" cy="780.1" r="6.9"/><circle cx="1219.0" cy="780.1" r="6.9"/><circle cx="1219.0" cy="780.1" r="6.9"/><circle cx="1219.0" cy="780.1" r="6.9"/><circle cx="1219.0" cy="771.7" r="6.9"/><circle cx="1219.0" cy="771.7" r="6.9"/><circle cx="1219.0" cy="771.7" r="6.9"/><circle cx="1219.0" cy="771.7" r="6.9"/><circle cx="1219.0" cy="771.7" r="6.9"/><circle cx="1219.0" cy="763.8" r="6.9"/><circle cx="1219.0" cy="763.8" r="6.9"/><circle cx="1219.0" cy="763.8" r="6.9"/><circle cx="1219.0" cy="763.8" r="6.9"/><circle cx="1219.0" cy="763.8" r="6.9"/><circle cx="1219.0" cy="763.8" r="6.9"/><circle cx="1219.0" cy="763.8" r="6.9"/><circle cx="1219.1" cy="756.3" r="6.9"/><circle cx="1235.6" cy="693.6" r="6.9"/><circle cx="1235.6" cy="692.6" r="6.9"/><circle cx="1235.6" cy="691.8" r="6.9"/><circle cx="1235.6" cy="690.4" r="6.9"/><circle cx="1235.6" cy="689.6" r="6.9"/><circle cx="1235.6" cy="687.9" r="6.9"/><circle cx="1235.6" cy="686.8" r="6.9"/><circle cx="1235.6" cy="685.1" r="6.9"/><circle cx="1235.6" cy="683.1" r="6.9"/><circle cx="1235.6" cy="681.7" r="6.9"/><circle cx="1235.6" cy="679.8" r="6.9"/><circle cx="1235.6" cy="677.6" r="6.9"/><circle cx="1235.6" cy="675.6" r="6.9"/><circle cx="1235.6" cy="673.4" r="6.9"/><circle cx="1235.6" cy="670.3" r="6.9"/><circle cx="1235.6" cy="668.1" r="6.9"/><circle cx="1235.6" cy="665.0" r="6.9"/><circle cx="1235.6" cy="662.8" r="6.9"/><circle cx="1235.6" cy="659.1" r="6.9"/><circle cx="1235.6" cy="653.9" r="6.9"/><circle cx="1235.6" cy="649.7" r="6.9"/><circle cx="1235.6" cy="643.7" r="6.9"/><circle cx="1235.6" cy="638.6" r="6.9"/><circle cx="1235.6" cy="632.5" r="6.9"/><circle cx="1235.7" cy="625.5" r="6.9"/><circle cx="1235.7" cy="614.6" r="6.9"/><circle cx="1235.7" cy="605.3" r="6.9"/><circle cx="1237.2" cy="609.3" r="6.9"/><circle cx="1237.3" cy="619.0" r="6.9"/><circle cx="1237.3" cy="632.5" r="6.9"/><circle cx="1237.3" cy="640.6" r="6.9"/><circle cx="1237.4" cy="646.6" r="6.9"/><circle cx="1237.4" cy="653.6" r="6.9"/><circle cx="1237.4" cy="660.7" r="6.9"/><circle cx="1237.4" cy="665.1" r="6.9"/><circle cx="1237.4" cy="669.0" r="6.9"/><circle cx="1237.4" cy="672.1" r="6.9"/><circle cx="1237.5" cy="676.2" r="6.9"/><circle cx="1237.5" cy="679.3" r="6.9"/><circle cx="1237.5" cy="683.1" r="6.9"/><circle cx="1237.5" cy="685.1" r="6.9"/><circle cx="1237.5" cy="687.7" r="6.9"/><circle cx="1237.5" cy="689.3" r="6.9"/><circle cx="1237.5" cy="690.8" r="6.9"/><circle cx="1237.5" cy="692.0" r="6.9"/><circle cx="1237.5" cy="693.8" r="6.9"/><circle cx="1237.5" cy="695.4" r="6.9"/><circle cx="1237.5" cy="696.6" r="6.9"/><circle cx="1237.5" cy="698.2" r="6.9"/><circle cx="1237.5" cy="699.8" r="6.9"/><circle cx="1237.5" cy="701.4" r="6.9"/><circle cx="1237.6" cy="702.8" r="6.9"/><circle cx="1237.6" cy="704.1" r="6.9"/><circle cx="1237.6" cy="705.3" r="6.9"/><circle cx="1237.6" cy="706.9" r="6.9"/><circle cx="1237.6" cy="708.0" r="6.9"/><circle cx="1237.6" cy="709.1" r="6.9"/><circle cx="1237.6" cy="710.8" r="6.9"/><circle cx="1237.6" cy="712.5" r="6.9"/><circle cx="1237.6" cy="714.0" r="6.9"/><circle cx="1237.6" cy="715.6" r="6.9"/><circle cx="1237.6" cy="716.4" r="6.9"/><circle cx="1237.6" cy="718.0" r="6.9"/><circle cx="1237.6" cy="719.4" r="6.9"/><circle cx="1237.6" cy="720.5" r="6.9"/><circle cx="1237.6" cy="721.6" r="6.9"/><circle cx="1237.6" cy="723.1" r="6.9"/><circle cx="1237.6" cy="724.7" r="6.9"/><circle cx="1237.7" cy="726.3" r="6.9"/><circle cx="1237.7" cy="727.1" r="6.9"/><circle cx="1237.7" cy="728.5" r="6.9"/><circle cx="1237.7" cy="729.7" r="6.9"/><circle cx="1237.7" cy="730.7" r="6.9"/><circle cx="1237.7" cy="731.6" r="6.9"/><circle cx="1237.7" cy="733.0" r="6.9"/><circle cx="1237.7" cy="734.1" r="6.9"/><circle cx="1237.7" cy="735.2" r="6.9"/><circle cx="1237.7" cy="736.5" r="6.9"/><circle cx="1237.7" cy="737.8" r="6.9"/><circle cx="1237.7" cy="738.7" r="6.9"/><circle cx="1237.7" cy="739.9" r="6.9"/><circle cx="1237.7" cy="741.2" r="6.9"/><circle cx="1237.7" cy="742.6" r="6.9"/><circle cx="1237.7" cy="744.2" r="6.9"/><circle cx="1237.7" cy="745.3" r="6.9"/><circle cx="1237.7" cy="747.0" r="6.9"/><circle cx="1237.7" cy="748.1" r="6.9"/><circle cx="1237.8" cy="749.5" r="6.9"/><circle cx="1237.8" cy="751.4" r="6.9"/><circle cx="1237.8" cy="753.5" r="6.9"/><circle cx="1237.8" cy="755.1" r="6.9"/><circle cx="1237.8" cy="757.1" r="6.9"/><circle cx="1237.8" cy="759.3" r="6.9"/><circle cx="1237.8" cy="760.6" r="6.9"/><circle cx="1237.8" cy="763.1" r="6.9"/><circle cx="1237.8" cy="765.7" r="6.9"/><circle cx="1237.8" cy="767.4" r="6.9"/><circle cx="1237.8" cy="769.5" r="6.9"/><circle cx="1237.9" cy="771.8" r="6.9"/><circle cx="1237.9" cy="775.1" r="6.9"/><circle cx="1237.9" cy="778.7" r="6.9"/><circle cx="1237.9" cy="780.9" r="6.9"/><circle cx="1237.9" cy="783.6" r="6.9"/><circle cx="1237.9" cy="785.8" r="6.9"/><circle cx="1237.9" cy="788.0" r="6.9"/><circle cx="1238.0" cy="790.6" r="6.9"/><circle cx="1238.0" cy="794.9" r="6.9"/><circle cx="1238.0" cy="795.7" r="6.9"/><circle cx="1237.9" cy="794.8" r="6.9"/><circle cx="1238.1" cy="794.1" r="6.9"/><circle cx="1238.3" cy="792.7" r="6.9"/><circle cx="1238.0" cy="784.8" r="6.9"/><circle cx="1238.0" cy="784.8" r="6.9"/><circle cx="1238.0" cy="784.8" r="6.9"/><circle cx="1238.1" cy="774.7" r="6.9"/><circle cx="1238.1" cy="774.7" r="6.9"/><circle cx="1238.1" cy="774.7" r="6.9"/><circle cx="1238.1" cy="774.7" r="6.9"/><circle cx="1238.1" cy="765.1" r="6.9"/><circle cx="1238.1" cy="765.1" r="6.9"/><circle cx="1238.1" cy="765.1" r="6.9"/><circle cx="1238.1" cy="765.1" r="6.9"/><circle cx="1238.1" cy="765.1" r="6.9"/><circle cx="1238.1" cy="756.3" r="6.9"/><circle cx="1238.1" cy="756.3" r="6.9"/><circle cx="1238.1" cy="756.3" r="6.9"/><circle cx="1238.1" cy="756.3" r="6.9"/><circle cx="1238.2" cy="747.9" r="6.9"/><circle cx="1238.2" cy="747.9" r="6.9"/><circle cx="1238.2" cy="747.9" r="6.9"/><circle cx="1238.2" cy="747.9" r="6.9"/><circle cx="1238.2" cy="747.9" r="6.9"/><circle cx="1238.2" cy="747.9" r="6.9"/><circle cx="1238.2" cy="747.9" r="6.9"/><circle cx="1238.2" cy="740.2" r="6.9"/><circle cx="1254.2" cy="680.5" r="6.9"/><circle cx="1254.2" cy="679.4" r="6.9"/><circle cx="1254.2" cy="677.9" r="6.9"/><circle cx="1254.2" cy="676.8" r="6.9"/><circle cx="1254.2" cy="675.1" r="6.9"/><circle cx="1254.2" cy="673.5" r="6.9"/><circle cx="1254.2" cy="672.3" r="6.9"/><circle cx="1254.2" cy="670.8" r="6.9"/><circle cx="1254.2" cy="669.4" r="6.9"/><circle cx="1254.2" cy="667.5" r="6.9"/><circle cx="1254.2" cy="665.4" r="6.9"/><circle cx="1254.2" cy="663.4" r="6.9"/><circle cx="1254.2" cy="661.9" r="6.9"/><circle cx="1254.2" cy="659.1" r="6.9"/><circle cx="1254.2" cy="657.2" r="6.9"/><circle cx="1254.2" cy="654.3" r="6.9"/><circle cx="1254.2" cy="650.7" r="6.9"/><circle cx="1254.2" cy="647.4" r="6.9"/><circle cx="1254.2" cy="644.9" r="6.9"/><circle cx="1254.2" cy="640.9" r="6.9"/><circle cx="1254.2" cy="637.7" r="6.9"/><circle cx="1254.2" cy="634.0" r="6.9"/><circle cx="1254.2" cy="629.8" r="6.9"/><circle cx="1254.2" cy="625.3" r="6.9"/><circle cx="1254.2" cy="618.5" r="6.9"/><circle cx="1254.3" cy="609.7" r="6.9"/><circle cx="1254.3" cy="601.2" r="6.9"/><circle cx="1255.9" cy="598.7" r="6.9"/><circle cx="1255.9" cy="611.1" r="6.9"/><circle cx="1255.9" cy="618.0" r="6.9"/><circle cx="1255.9" cy="626.5" r="6.9"/><circle cx="1256.0" cy="633.5" r="6.9"/><circle cx="1256.0" cy="640.7" r="6.9"/><circle cx="1256.0" cy="645.3" r="6.9"/><circle cx="1256.0" cy="651.2" r="6.9"/><circle cx="1256.0" cy="656.6" r="6.9"/><circle cx="1256.1" cy="660.1" r="6.9"/><circle cx="1256.1" cy="664.2" r="6.9"/><circle cx="1256.1" cy="667.0" r="6.9"/><circle cx="1256.1" cy="670.3" r="6.9"/><circle cx="1256.1" cy="672.8" r="6.9"/><circle cx="1256.1" cy="675.7" r="6.9"/><circle cx="1256.1" cy="677.6" r="6.9"/><circle cx="1256.1" cy="678.7" r="6.9"/><circle cx="1256.1" cy="679.8" r="6.9"/><circle cx="1256.1" cy="681.4" r="6.9"/><circle cx="1256.1" cy="682.4" r="6.9"/><circle cx="1256.1" cy="683.9" r="6.9"/><circle cx="1256.1" cy="685.2" r="6.9"/><circle cx="1256.2" cy="686.1" r="6.9"/><circle cx="1256.2" cy="687.1" r="6.9"/><circle cx="1256.2" cy="688.4" r="6.9"/><circle cx="1256.2" cy="689.6" r="6.9"/><circle cx="1256.2" cy="690.6" r="6.9"/><circle cx="1256.2" cy="691.8" r="6.9"/><circle cx="1256.2" cy="693.0" r="6.9"/><circle cx="1256.2" cy="694.2" r="6.9"/><circle cx="1256.2" cy="695.7" r="6.9"/><circle cx="1256.2" cy="696.9" r="6.9"/><circle cx="1256.2" cy="698.1" r="6.9"/><circle cx="1256.2" cy="699.1" r="6.9"/><circle cx="1256.2" cy="700.4" r="6.9"/><circle cx="1256.2" cy="701.5" r="6.9"/><circle cx="1256.2" cy="702.7" r="6.9"/><circle cx="1256.2" cy="703.8" r="6.9"/><circle cx="1256.2" cy="705.2" r="6.9"/><circle cx="1256.2" cy="707.2" r="6.9"/><circle cx="1256.2" cy="708.8" r="6.9"/><circle cx="1256.2" cy="710.2" r="6.9"/><circle cx="1256.3" cy="711.9" r="6.9"/><circle cx="1256.3" cy="713.6" r="6.9"/><circle cx="1256.3" cy="714.8" r="6.9"/><circle cx="1256.3" cy="717.0" r="6.9"/><circle cx="1256.3" cy="718.9" r="6.9"/><circle cx="1256.3" cy="721.5" r="6.9"/><circle cx="1256.3" cy="723.7" r="6.9"/><circle cx="1256.3" cy="725.4" r="6.9"/><circle cx="1256.3" cy="728.2" r="6.9"/><circle cx="1256.3" cy="729.8" r="6.9"/><circle cx="1256.3" cy="731.5" r="6.9"/><circle cx="1256.3" cy="733.2" r="6.9"/><circle cx="1256.4" cy="734.9" r="6.9"/><circle cx="1256.4" cy="736.7" r="6.9"/><circle cx="1256.4" cy="739.8" r="6.9"/><circle cx="1256.4" cy="741.6" r="6.9"/><circle cx="1256.4" cy="744.2" r="6.9"/><circle cx="1256.4" cy="746.1" r="6.9"/><circle cx="1256.4" cy="748.4" r="6.9"/><circle cx="1256.4" cy="750.4" r="6.9"/><circle cx="1256.4" cy="752.9" r="6.9"/><circle cx="1256.4" cy="755.3" r="6.9"/><circle cx="1256.5" cy="758.7" r="6.9"/><circle cx="1256.5" cy="762.7" r="6.9"/><circle cx="1256.5" cy="765.1" r="6.9"/><circle cx="1256.5" cy="768.2" r="6.9"/><circle cx="1256.5" cy="771.7" r="6.9"/><circle cx="1256.6" cy="776.2" r="6.9"/><circle cx="1256.6" cy="778.6" r="6.9"/><circle cx="1256.6" cy="782.1" r="6.9"/><circle cx="1256.5" cy="781.2" r="6.9"/><circle cx="1256.7" cy="780.5" r="6.9"/><circle cx="1256.9" cy="779.1" r="6.9"/><circle cx="1256.6" cy="770.3" r="6.9"/><circle cx="1256.6" cy="770.3" r="6.9"/><circle cx="1256.6" cy="770.3" r="6.9"/><circle cx="1256.7" cy="759.4" r="6.9"/><circle cx="1256.7" cy="759.4" r="6.9"/><circle cx="1256.7" cy="759.4" r="6.9"/><circle cx="1256.7" cy="749.2" r="6.9"/><circle cx="1256.7" cy="749.2" r="6.9"/><circle cx="1256.7" cy="749.2" r="6.9"/><circle cx="1256.7" cy="749.2" r="6.9"/><circle cx="1256.7" cy="739.7" r="6.9"/><circle cx="1256.7" cy="739.7" r="6.9"/><circle cx="1256.7" cy="739.7" r="6.9"/><circle cx="1256.7" cy="739.7" r="6.9"/><circle cx="1256.7" cy="739.7" r="6.9"/><circle cx="1256.8" cy="730.8" r="6.9"/><circle cx="1256.8" cy="730.8" r="6.9"/><circle cx="1256.8" cy="730.8" r="6.9"/><circle cx="1256.8" cy="730.8" r="6.9"/><circle cx="1256.8" cy="722.5" r="6.9"/><circle cx="1256.8" cy="722.5" r="6.9"/><circle cx="1256.8" cy="722.5" r="6.9"/><circle cx="1256.8" cy="722.5" r="6.9"/><circle cx="1256.9" cy="714.8" r="6.9"/><circle cx="1256.9" cy="714.8" r="6.9"/><circle cx="1256.9" cy="714.8" r="6.9"/><circle cx="1256.9" cy="714.8" r="6.9"/><circle cx="1256.9" cy="714.8" r="6.9"/><circle cx="1256.9" cy="714.8" r="6.9"/><circle cx="1256.9" cy="707.6" r="6.9"/><circle cx="1256.9" cy="707.6" r="6.9"/><circle cx="1256.9" cy="707.6" r="6.9"/><circle cx="1256.9" cy="707.6" r="6.9"/><circle cx="1256.9" cy="707.6" r="6.9"/><circle cx="1256.9" cy="700.9" r="6.9"/><circle cx="1256.9" cy="700.9" r="6.9"/><circle cx="1256.9" cy="700.9" r="6.9"/><circle cx="1256.9" cy="700.9" r="6.9"/><circle cx="1256.9" cy="700.9" r="6.9"/><circle cx="1257.0" cy="694.7" r="6.9"/><circle cx="1272.8" cy="663.7" r="6.9"/><circle cx="1272.8" cy="662.3" r="6.9"/><circle cx="1272.8" cy="661.1" r="6.9"/><circle cx="1272.8" cy="659.4" r="6.9"/><circle cx="1272.8" cy="657.8" r="6.9"/><circle cx="1272.8" cy="656.0" r="6.9"/><circle cx="1272.8" cy="654.9" r="6.9"/><circle cx="1272.8" cy="653.1" r="6.9"/><circle cx="1272.8" cy="651.2" r="6.9"/><circle cx="1272.8" cy="649.2" r="6.9"/><circle cx="1272.8" cy="646.7" r="6.9"/><circle cx="1272.8" cy="645.0" r="6.9"/><circle cx="1272.8" cy="643.3" r="6.9"/><circle cx="1272.8" cy="640.8" r="6.9"/><circle cx="1272.8" cy="638.7" r="6.9"/><circle cx="1272.8" cy="635.0" r="6.9"/><circle cx="1272.8" cy="630.9" r="6.9"/><circle cx="1272.8" cy="627.4" r="6.9"/><circle cx="1272.8" cy="622.5" r="6.9"/><circle cx="1272.8" cy="617.6" r="6.9"/><circle cx="1272.8" cy="610.9" r="6.9"/><circle cx="1272.8" cy="604.7" r="6.9"/><circle cx="1272.8" cy="599.2" r="6.9"/><circle cx="1274.5" cy="602.6" r="6.9"/><circle cx="1274.5" cy="610.0" r="6.9"/><circle cx="1274.5" cy="615.5" r="6.9"/><circle cx="1274.5" cy="622.2" r="6.9"/><circle cx="1274.6" cy="626.9" r="6.9"/><circle cx="1274.6" cy="630.9" r="6.9"/><circle cx="1274.6" cy="636.0" r="6.9"/><circle cx="1274.6" cy="639.7" r="6.9"/><circle cx="1274.6" cy="643.4" r="6.9"/><circle cx="1274.6" cy="647.1" r="6.9"/><circle cx="1274.6" cy="651.5" r="6.9"/><circle cx="1274.6" cy="654.5" r="6.9"/><circle cx="1274.7" cy="657.0" r="6.9"/><circle cx="1274.7" cy="658.9" r="6.9"/><circle cx="1274.7" cy="660.8" r="6.9"/><circle cx="1274.7" cy="662.2" r="6.9"/><circle cx="1274.7" cy="664.2" r="6.9"/><circle cx="1274.7" cy="665.9" r="6.9"/><circle cx="1274.7" cy="667.5" r="6.9"/><circle cx="1274.7" cy="668.7" r="6.9"/><circle cx="1274.7" cy="670.2" r="6.9"/><circle cx="1274.7" cy="671.1" r="6.9"/><circle cx="1274.7" cy="672.4" r="6.9"/><circle cx="1274.7" cy="673.8" r="6.9"/><circle cx="1274.7" cy="674.6" r="6.9"/><circle cx="1274.7" cy="675.5" r="6.9"/><circle cx="1274.7" cy="677.0" r="6.9"/><circle cx="1274.7" cy="678.3" r="6.9"/><circle cx="1274.7" cy="679.8" r="6.9"/><circle cx="1274.7" cy="681.4" r="6.9"/><circle cx="1274.7" cy="683.0" r="6.9"/><circle cx="1274.7" cy="684.0" r="6.9"/><circle cx="1274.8" cy="685.1" r="6.9"/><circle cx="1274.8" cy="686.4" r="6.9"/><circle cx="1274.8" cy="688.2" r="6.9"/><circle cx="1274.8" cy="690.0" r="6.9"/><circle cx="1274.8" cy="691.2" r="6.9"/><circle cx="1274.8" cy="692.4" r="6.9"/><circle cx="1274.8" cy="694.4" r="6.9"/><circle cx="1274.8" cy="696.5" r="6.9"/><circle cx="1274.8" cy="697.6" r="6.9"/><circle cx="1274.8" cy="699.2" r="6.9"/><circle cx="1274.8" cy="700.5" r="6.9"/><circle cx="1274.8" cy="702.3" r="6.9"/><circle cx="1274.8" cy="703.5" r="6.9"/><circle cx="1274.8" cy="705.3" r="6.9"/><circle cx="1274.8" cy="706.8" r="6.9"/><circle cx="1274.8" cy="708.2" r="6.9"/><circle cx="1274.9" cy="710.9" r="6.9"/><circle cx="1274.9" cy="712.5" r="6.9"/><circle cx="1274.9" cy="715.3" r="6.9"/><circle cx="1274.9" cy="717.9" r="6.9"/><circle cx="1274.9" cy="719.9" r="6.9"/><circle cx="1274.9" cy="722.1" r="6.9"/><circle cx="1274.9" cy="724.3" r="6.9"/><circle cx="1274.9" cy="726.4" r="6.9"/><circle cx="1274.9" cy="729.1" r="6.9"/><circle cx="1274.9" cy="731.0" r="6.9"/><circle cx="1274.9" cy="733.8" r="6.9"/><circle cx="1275.0" cy="736.5" r="6.9"/><circle cx="1275.0" cy="738.7" r="6.9"/><circle cx="1275.0" cy="742.5" r="6.9"/><circle cx="1275.0" cy="745.0" r="6.9"/><circle cx="1275.0" cy="748.3" r="6.9"/><circle cx="1275.0" cy="752.0" r="6.9"/><circle cx="1275.0" cy="755.7" r="6.9"/><circle cx="1275.1" cy="759.2" r="6.9"/><circle cx="1275.1" cy="762.5" r="6.9"/><circle cx="1275.1" cy="765.9" r="6.9"/><circle cx="1275.1" cy="770.1" r="6.9"/><circle cx="1275.1" cy="770.4" r="6.9"/><circle cx="1275.0" cy="769.5" r="6.9"/><circle cx="1275.3" cy="768.8" r="6.9"/><circle cx="1275.4" cy="767.4" r="6.9"/><circle cx="1275.2" cy="757.8" r="6.9"/><circle cx="1275.2" cy="757.8" r="6.9"/><circle cx="1275.2" cy="757.8" r="6.9"/><circle cx="1275.2" cy="746.0" r="6.9"/><circle cx="1275.2" cy="746.0" r="6.9"/><circle cx="1275.2" cy="746.0" r="6.9"/><circle cx="1275.2" cy="746.0" r="6.9"/><circle cx="1275.2" cy="735.0" r="6.9"/><circle cx="1275.2" cy="735.0" r="6.9"/><circle cx="1275.2" cy="735.0" r="6.9"/><circle cx="1275.2" cy="735.0" r="6.9"/><circle cx="1275.3" cy="724.9" r="6.9"/><circle cx="1275.3" cy="724.9" r="6.9"/><circle cx="1275.3" cy="724.9" r="6.9"/><circle cx="1275.3" cy="724.9" r="6.9"/><circle cx="1275.3" cy="715.4" r="6.9"/><circle cx="1275.3" cy="715.4" r="6.9"/><circle cx="1275.3" cy="715.4" r="6.9"/><circle cx="1275.3" cy="715.4" r="6.9"/><circle cx="1275.3" cy="715.4" r="6.9"/><circle cx="1275.4" cy="706.7" r="6.9"/><circle cx="1275.4" cy="706.7" r="6.9"/><circle cx="1275.4" cy="706.7" r="6.9"/><circle cx="1275.4" cy="706.7" r="6.9"/><circle cx="1275.4" cy="706.7" r="6.9"/><circle cx="1275.4" cy="698.5" r="6.9"/><circle cx="1275.4" cy="698.5" r="6.9"/><circle cx="1275.4" cy="698.5" r="6.9"/><circle cx="1275.4" cy="698.5" r="6.9"/><circle cx="1275.4" cy="698.5" r="6.9"/><circle cx="1275.4" cy="690.9" r="6.9"/><circle cx="1275.4" cy="690.9" r="6.9"/><circle cx="1275.4" cy="690.9" r="6.9"/><circle cx="1275.4" cy="690.9" r="6.9"/><circle cx="1275.4" cy="690.9" r="6.9"/><circle cx="1275.4" cy="690.9" r="6.9"/><circle cx="1275.5" cy="683.9" r="6.9"/><circle cx="1275.5" cy="683.9" r="6.9"/><circle cx="1275.5" cy="683.9" r="6.9"/><circle cx="1275.5" cy="683.9" r="6.9"/><circle cx="1275.5" cy="683.9" r="6.9"/><circle cx="1275.5" cy="683.9" r="6.9"/><circle cx="1275.5" cy="677.3" r="6.9"/><circle cx="1290.6" cy="649.8" r="6.9"/><circle cx="1290.6" cy="648.7" r="6.9"/><circle cx="1290.6" cy="647.2" r="6.9"/><circle cx="1290.6" cy="646.3" r="6.9"/><circle cx="1290.6" cy="645.3" r="6.9"/><circle cx="1290.6" cy="643.9" r="6.9"/><circle cx="1290.6" cy="643.0" r="6.9"/><circle cx="1290.6" cy="641.9" r="6.9"/><circle cx="1290.6" cy="640.1" r="6.9"/><circle cx="1290.6" cy="638.9" r="6.9"/><circle cx="1290.6" cy="637.3" r="6.9"/><circle cx="1290.6" cy="635.0" r="6.9"/><circle cx="1290.6" cy="633.0" r="6.9"/><circle cx="1290.6" cy="630.7" r="6.9"/><circle cx="1290.6" cy="629.1" r="6.9"/><circle cx="1290.6" cy="626.7" r="6.9"/><circle cx="1290.6" cy="624.1" r="6.9"/><circle cx="1290.6" cy="621.3" r="6.9"/><circle cx="1290.6" cy="618.3" r="6.9"/><circle cx="1290.6" cy="616.0" r="6.9"/><circle cx="1290.6" cy="612.1" r="6.9"/><circle cx="1290.6" cy="608.4" r="6.9"/><circle cx="1290.6" cy="603.4" r="6.9"/><circle cx="1290.6" cy="599.2" r="6.9"/><circle cx="1292.3" cy="598.2" r="6.9"/><circle cx="1292.3" cy="605.9" r="6.9"/><circle cx="1292.3" cy="613.6" r="6.9"/><circle cx="1292.3" cy="617.8" r="6.9"/><circle cx="1292.4" cy="622.8" r="6.9"/><circle cx="1292.4" cy="627.6" r="6.9"/><circle cx="1292.4" cy="630.7" r="6.9"/><circle cx="1292.4" cy="634.7" r="6.9"/><circle cx="1292.4" cy="637.3" r="6.9"/><circle cx="1292.4" cy="639.7" r="6.9"/><circle cx="1292.4" cy="641.7" r="6.9"/><circle cx="1292.4" cy="644.6" r="6.9"/><circle cx="1292.4" cy="645.9" r="6.9"/><circle cx="1292.4" cy="647.5" r="6.9"/><circle cx="1292.4" cy="649.2" r="6.9"/><circle cx="1292.4" cy="650.6" r="6.9"/><circle cx="1292.5" cy="651.7" r="6.9"/><circle cx="1292.5" cy="653.0" r="6.9"/><circle cx="1292.5" cy="654.2" r="6.9"/><circle cx="1292.5" cy="655.6" r="6.9"/><circle cx="1292.5" cy="656.8" r="6.9"/><circle cx="1292.5" cy="657.6" r="6.9"/><circle cx="1292.5" cy="658.8" r="6.9"/><circle cx="1292.5" cy="659.8" r="6.9"/><circle cx="1292.5" cy="661.1" r="6.9"/><circle cx="1292.5" cy="662.1" r="6.9"/><circle cx="1292.5" cy="663.6" r="6.9"/><circle cx="1292.5" cy="664.6" r="6.9"/><circle cx="1292.5" cy="666.0" r="6.9"/><circle cx="1292.5" cy="667.7" r="6.9"/><circle cx="1292.5" cy="668.8" r="6.9"/><circle cx="1292.5" cy="670.5" r="6.9"/><circle cx="1292.5" cy="672.0" r="6.9"/><circle cx="1292.5" cy="672.9" r="6.9"/><circle cx="1292.5" cy="674.5" r="6.9"/><circle cx="1292.5" cy="675.8" r="6.9"/><circle cx="1292.5" cy="676.9" r="6.9"/><circle cx="1292.5" cy="678.9" r="6.9"/><circle cx="1292.6" cy="680.7" r="6.9"/><circle cx="1292.6" cy="682.9" r="6.9"/><circle cx="1292.6" cy="684.2" r="6.9"/><circle cx="1292.6" cy="685.8" r="6.9"/><circle cx="1292.6" cy="687.7" r="6.9"/><circle cx="1292.6" cy="689.4" r="6.9"/><circle cx="1292.6" cy="690.8" r="6.9"/><circle cx="1292.6" cy="692.6" r="6.9"/><circle cx="1292.6" cy="694.6" r="6.9"/><circle cx="1292.6" cy="696.6" r="6.9"/><circle cx="1292.6" cy="698.6" r="6.9"/><circle cx="1292.6" cy="700.7" r="6.9"/><circle cx="1292.6" cy="702.9" r="6.9"/><circle cx="1292.6" cy="705.5" r="6.9"/><circle cx="1292.7" cy="707.5" r="6.9"/><circle cx="1292.7" cy="709.9" r="6.9"/><circle cx="1292.7" cy="713.0" r="6.9"/><circle cx="1292.7" cy="716.0" r="6.9"/><circle cx="1292.7" cy="719.2" r="6.9"/><circle cx="1292.7" cy="722.8" r="6.9"/><circle cx="1292.7" cy="725.6" r="6.9"/><circle cx="1292.7" cy="729.2" r="6.9"/><circle cx="1292.8" cy="732.9" r="6.9"/><circle cx="1292.8" cy="735.7" r="6.9"/><circle cx="1292.8" cy="739.4" r="6.9"/><circle cx="1292.8" cy="742.7" r="6.9"/><circle cx="1292.8" cy="746.3" r="6.9"/><circle cx="1292.8" cy="748.9" r="6.9"/><circle cx="1292.8" cy="753.1" r="6.9"/><circle cx="1292.9" cy="756.3" r="6.9"/><circle cx="1292.9" cy="757.9" r="6.9"/><circle cx="1292.8" cy="757.0" r="6.9"/><circle cx="1293.0" cy="756.3" r="6.9"/><circle cx="1293.2" cy="754.9" r="6.9"/><circle cx="1292.9" cy="744.2" r="6.9"/><circle cx="1292.9" cy="744.2" r="6.9"/><circle cx="1292.9" cy="744.2" r="6.9"/><circle cx="1292.9" cy="731.6" r="6.9"/><circle cx="1292.9" cy="731.6" r="6.9"/><circle cx="1292.9" cy="731.6" r="6.9"/><circle cx="1292.9" cy="731.6" r="6.9"/><circle cx="1293.0" cy="719.8" r="6.9"/><circle cx="1293.0" cy="719.8" r="6.9"/><circle cx="1293.0" cy="719.8" r="6.9"/><circle cx="1293.0" cy="719.8" r="6.9"/><circle cx="1293.0" cy="719.8" r="6.9"/><circle cx="1293.0" cy="709.0" r="6.9"/><circle cx="1293.0" cy="709.0" r="6.9"/><circle cx="1293.0" cy="709.0" r="6.9"/><circle cx="1293.0" cy="709.0" r="6.9"/><circle cx="1293.1" cy="699.0" r="6.9"/><circle cx="1293.1" cy="699.0" r="6.9"/><circle cx="1293.1" cy="699.0" r="6.9"/><circle cx="1293.1" cy="699.0" r="6.9"/><circle cx="1293.1" cy="699.0" r="6.9"/><circle cx="1293.1" cy="689.6" r="6.9"/><circle cx="1293.1" cy="689.6" r="6.9"/><circle cx="1293.1" cy="689.6" r="6.9"/><circle cx="1293.1" cy="689.6" r="6.9"/><circle cx="1293.1" cy="689.6" r="6.9"/><circle cx="1293.1" cy="681.0" r="6.9"/><circle cx="1293.1" cy="681.0" r="6.9"/><circle cx="1293.1" cy="681.0" r="6.9"/><circle cx="1293.1" cy="681.0" r="6.9"/><circle cx="1293.1" cy="681.0" r="6.9"/><circle cx="1293.1" cy="681.0" r="6.9"/><circle cx="1293.2" cy="673.0" r="6.9"/><circle cx="1293.2" cy="673.0" r="6.9"/><circle cx="1293.2" cy="673.0" r="6.9"/><circle cx="1293.2" cy="673.0" r="6.9"/><circle cx="1293.2" cy="673.0" r="6.9"/><circle cx="1293.2" cy="673.0" r="6.9"/><circle cx="1293.2" cy="673.0" r="6.9"/><circle cx="1293.2" cy="665.6" r="6.9"/><circle cx="1307.8" cy="634.4" r="6.9"/><circle cx="1307.8" cy="633.5" r="6.9"/><circle cx="1307.8" cy="632.5" r="6.9"/><circle cx="1307.8" cy="631.4" r="6.9"/><circle cx="1307.8" cy="630.6" r="6.9"/><circle cx="1307.8" cy="629.2" r="6.9"/><circle cx="1307.8" cy="627.5" r="6.9"/><circle cx="1307.8" cy="626.3" r="6.9"/><circle cx="1307.8" cy="624.4" r="6.9"/><circle cx="1307.8" cy="622.9" r="6.9"/><circle cx="1307.8" cy="621.3" r="6.9"/><circle cx="1307.8" cy="619.1" r="6.9"/><circle cx="1307.8" cy="617.2" r="6.9"/><circle cx="1307.8" cy="615.1" r="6.9"/><circle cx="1307.8" cy="612.2" r="6.9"/><circle cx="1307.8" cy="610.5" r="6.9"/><circle cx="1307.8" cy="608.0" r="6.9"/><circle cx="1307.8" cy="605.5" r="6.9"/><circle cx="1307.8" cy="602.4" r="6.9"/><circle cx="1307.8" cy="598.9" r="6.9"/><circle cx="1309.5" cy="603.0" r="6.9"/><circle cx="1309.6" cy="609.0" r="6.9"/><circle cx="1309.6" cy="613.7" r="6.9"/><circle cx="1309.6" cy="616.4" r="6.9"/><circle cx="1309.6" cy="620.1" r="6.9"/><circle cx="1309.6" cy="623.2" r="6.9"/><circle cx="1309.6" cy="626.3" r="6.9"/><circle cx="1309.6" cy="628.5" r="6.9"/><circle cx="1309.6" cy="631.0" r="6.9"/><circle cx="1309.6" cy="632.5" r="6.9"/><circle cx="1309.6" cy="633.5" r="6.9"/><circle cx="1309.6" cy="634.7" r="6.9"/><circle cx="1309.6" cy="636.5" r="6.9"/><circle cx="1309.6" cy="637.6" r="6.9"/><circle cx="1309.6" cy="638.6" r="6.9"/><circle cx="1309.6" cy="639.6" r="6.9"/><circle cx="1309.7" cy="641.3" r="6.9"/><circle cx="1309.7" cy="642.5" r="6.9"/><circle cx="1309.7" cy="643.5" r="6.9"/><circle cx="1309.7" cy="644.2" r="6.9"/><circle cx="1309.7" cy="645.5" r="6.9"/><circle cx="1309.7" cy="646.3" r="6.9"/><circle cx="1309.7" cy="647.6" r="6.9"/><circle cx="1309.7" cy="648.7" r="6.9"/><circle cx="1309.7" cy="649.8" r="6.9"/><circle cx="1309.7" cy="650.6" r="6.9"/><circle cx="1309.7" cy="652.0" r="6.9"/><circle cx="1309.7" cy="653.7" r="6.9"/><circle cx="1309.7" cy="655.0" r="6.9"/><circle cx="1309.7" cy="656.7" r="6.9"/><circle cx="1309.7" cy="657.8" r="6.9"/><circle cx="1309.7" cy="659.1" r="6.9"/><circle cx="1309.7" cy="660.6" r="6.9"/><circle cx="1309.7" cy="661.8" r="6.9"/><circle cx="1309.7" cy="663.9" r="6.9"/><circle cx="1309.7" cy="665.5" r="6.9"/><circle cx="1309.7" cy="666.6" r="6.9"/><circle cx="1309.7" cy="668.5" r="6.9"/><circle cx="1309.8" cy="669.8" r="6.9"/><circle cx="1309.8" cy="671.4" r="6.9"/><circle cx="1309.8" cy="673.7" r="6.9"/><circle cx="1309.8" cy="675.4" r="6.9"/><circle cx="1309.8" cy="677.0" r="6.9"/><circle cx="1309.8" cy="679.5" r="6.9"/><circle cx="1309.8" cy="681.2" r="6.9"/><circle cx="1309.8" cy="684.0" r="6.9"/><circle cx="1309.8" cy="685.5" r="6.9"/><circle cx="1309.8" cy="687.1" r="6.9"/><circle cx="1309.8" cy="690.1" r="6.9"/><circle cx="1309.8" cy="692.7" r="6.9"/><circle cx="1309.8" cy="695.2" r="6.9"/><circle cx="1309.9" cy="698.3" r="6.9"/><circle cx="1309.9" cy="700.5" r="6.9"/><circle cx="1309.9" cy="703.8" r="6.9"/><circle cx="1309.9" cy="706.2" r="6.9"/><circle cx="1309.9" cy="709.7" r="6.9"/><circle cx="1309.9" cy="712.6" r="6.9"/><circle cx="1309.9" cy="716.5" r="6.9"/><circle cx="1309.9" cy="720.6" r="6.9"/><circle cx="1310.0" cy="724.5" r="6.9"/><circle cx="1310.0" cy="727.0" r="6.9"/><circle cx="1310.0" cy="730.3" r="6.9"/><circle cx="1310.0" cy="734.8" r="6.9"/><circle cx="1310.0" cy="738.3" r="6.9"/><circle cx="1310.0" cy="741.2" r="6.9"/><circle cx="1310.0" cy="744.5" r="6.9"/><circle cx="1309.9" cy="743.6" r="6.9"/><circle cx="1310.2" cy="742.9" r="6.9"/><circle cx="1310.3" cy="741.5" r="6.9"/><circle cx="1310.1" cy="730.0" r="6.9"/><circle cx="1310.1" cy="730.0" r="6.9"/><circle cx="1310.1" cy="730.0" r="6.9"/><circle cx="1310.1" cy="730.0" r="6.9"/><circle cx="1310.1" cy="716.7" r="6.9"/><circle cx="1310.1" cy="716.7" r="6.9"/><circle cx="1310.1" cy="716.7" r="6.9"/><circle cx="1310.1" cy="716.7" r="6.9"/><circle cx="1310.2" cy="704.3" r="6.9"/><circle cx="1310.2" cy="704.3" r="6.9"/><circle cx="1310.2" cy="704.3" r="6.9"/><circle cx="1310.2" cy="704.3" r="6.9"/><circle cx="1310.2" cy="704.3" r="6.9"/><circle cx="1310.2" cy="692.9" r="6.9"/><circle cx="1310.2" cy="692.9" r="6.9"/><circle cx="1310.2" cy="692.9" r="6.9"/><circle cx="1310.2" cy="692.9" r="6.9"/><circle cx="1310.2" cy="692.9" r="6.9"/><circle cx="1310.2" cy="682.3" r="6.9"/><circle cx="1310.2" cy="682.3" r="6.9"/><circle cx="1310.2" cy="682.3" r="6.9"/><circle cx="1310.2" cy="682.3" r="6.9"/><circle cx="1310.2" cy="682.3" r="6.9"/><circle cx="1310.3" cy="672.5" r="6.9"/><circle cx="1310.3" cy="672.5" r="6.9"/><circle cx="1310.3" cy="672.5" r="6.9"/><circle cx="1310.3" cy="672.5" r="6.9"/><circle cx="1310.3" cy="672.5" r="6.9"/><circle cx="1310.3" cy="672.5" r="6.9"/><circle cx="1310.3" cy="672.5" r="6.9"/><circle cx="1310.3" cy="663.5" r="6.9"/><circle cx="1310.3" cy="663.5" r="6.9"/><circle cx="1310.3" cy="663.5" r="6.9"/><circle cx="1310.3" cy="663.5" r="6.9"/><circle cx="1310.3" cy="663.5" r="6.9"/><circle cx="1310.3" cy="663.5" r="6.9"/><circle cx="1310.4" cy="655.1" r="6.9"/><circle cx="1310.4" cy="655.1" r="6.9"/><circle cx="1310.4" cy="655.1" r="6.9"/><circle cx="1310.4" cy="655.1" r="6.9"/><circle cx="1310.4" cy="655.1" r="6.9"/><circle cx="1310.4" cy="655.1" r="6.9"/><circle cx="1310.4" cy="655.1" r="6.9"/><circle cx="1310.4" cy="655.1" r="6.9"/><circle cx="1310.4" cy="647.3" r="6.9"/><circle cx="1324.8" cy="617.2" r="6.9"/><circle cx="1324.8" cy="615.9" r="6.9"/><circle cx="1324.8" cy="614.5" r="6.9"/><circle cx="1324.8" cy="613.3" r="6.9"/><circle cx="1324.8" cy="612.0" r="6.9"/><circle cx="1324.8" cy="610.8" r="6.9"/><circle cx="1324.8" cy="609.8" r="6.9"/><circle cx="1324.8" cy="608.5" r="6.9"/><circle cx="1324.8" cy="607.3" r="6.9"/><circle cx="1324.8" cy="605.8" r="6.9"/><circle cx="1324.8" cy="604.2" r="6.9"/><circle cx="1324.8" cy="602.7" r="6.9"/><circle cx="1324.8" cy="600.1" r="6.9"/><circle cx="1324.8" cy="598.4" r="6.9"/><circle cx="1326.6" cy="599.3" r="6.9"/><circle cx="1326.6" cy="602.3" r="6.9"/><circle cx="1326.6" cy="604.6" r="6.9"/><circle cx="1326.6" cy="607.2" r="6.9"/><circle cx="1326.6" cy="608.9" r="6.9"/><circle cx="1326.6" cy="611.5" r="6.9"/><circle cx="1326.6" cy="612.9" r="6.9"/><circle cx="1326.6" cy="614.6" r="6.9"/><circle cx="1326.6" cy="615.8" r="6.9"/><circle cx="1326.7" cy="617.9" r="6.9"/><circle cx="1326.7" cy="619.0" r="6.9"/><circle cx="1326.7" cy="620.3" r="6.9"/><circle cx="1326.7" cy="621.2" r="6.9"/><circle cx="1326.7" cy="622.3" r="6.9"/><circle cx="1326.7" cy="623.5" r="6.9"/><circle cx="1326.7" cy="624.4" r="6.9"/><circle cx="1326.7" cy="626.0" r="6.9"/><circle cx="1326.7" cy="627.5" r="6.9"/><circle cx="1326.7" cy="628.2" r="6.9"/><circle cx="1326.7" cy="629.2" r="6.9"/><circle cx="1326.7" cy="629.9" r="6.9"/><circle cx="1326.7" cy="631.0" r="6.9"/><circle cx="1326.7" cy="632.3" r="6.9"/><circle cx="1326.7" cy="633.2" r="6.9"/><circle cx="1326.7" cy="634.7" r="6.9"/><circle cx="1326.7" cy="635.9" r="6.9"/><circle cx="1326.7" cy="637.3" r="6.9"/><circle cx="1326.7" cy="639.0" r="6.9"/><circle cx="1326.7" cy="640.1" r="6.9"/><circle cx="1326.7" cy="641.7" r="6.9"/><circle cx="1326.7" cy="643.5" r="6.9"/><circle cx="1326.7" cy="645.0" r="6.9"/><circle cx="1326.7" cy="646.2" r="6.9"/><circle cx="1326.8" cy="648.1" r="6.9"/><circle cx="1326.8" cy="649.6" r="6.9"/><circle cx="1326.8" cy="650.7" r="6.9"/><circle cx="1326.8" cy="652.9" r="6.9"/><circle cx="1326.8" cy="654.2" r="6.9"/><circle cx="1326.8" cy="656.3" r="6.9"/><circle cx="1326.8" cy="657.7" r="6.9"/><circle cx="1326.8" cy="659.6" r="6.9"/><circle cx="1326.8" cy="661.5" r="6.9"/><circle cx="1326.8" cy="663.2" r="6.9"/><circle cx="1326.8" cy="665.3" r="6.9"/><circle cx="1326.8" cy="668.2" r="6.9"/><circle cx="1326.8" cy="670.1" r="6.9"/><circle cx="1326.8" cy="672.5" r="6.9"/><circle cx="1326.9" cy="675.5" r="6.9"/><circle cx="1326.9" cy="677.3" r="6.9"/><circle cx="1326.9" cy="680.4" r="6.9"/><circle cx="1326.9" cy="683.7" r="6.9"/><circle cx="1326.9" cy="686.5" r="6.9"/><circle cx="1326.9" cy="688.4" r="6.9"/><circle cx="1326.9" cy="690.7" r="6.9"/><circle cx="1326.9" cy="693.0" r="6.9"/><circle cx="1326.9" cy="695.9" r="6.9"/><circle cx="1326.9" cy="698.3" r="6.9"/><circle cx="1327.0" cy="702.2" r="6.9"/><circle cx="1327.0" cy="706.4" r="6.9"/><circle cx="1327.0" cy="708.7" r="6.9"/><circle cx="1327.0" cy="712.8" r="6.9"/><circle cx="1327.0" cy="716.1" r="6.9"/><circle cx="1327.0" cy="719.7" r="6.9"/><circle cx="1327.0" cy="723.2" r="6.9"/><circle cx="1327.1" cy="726.6" r="6.9"/><circle cx="1327.1" cy="730.5" r="6.9"/><circle cx="1327.1" cy="731.0" r="6.9"/><circle cx="1327.0" cy="730.1" r="6.9"/><circle cx="1327.2" cy="729.4" r="6.9"/><circle cx="1327.4" cy="728.0" r="6.9"/><circle cx="1327.1" cy="716.0" r="6.9"/><circle cx="1327.1" cy="716.0" r="6.9"/><circle cx="1327.1" cy="716.0" r="6.9"/><circle cx="1327.1" cy="716.0" r="6.9"/><circle cx="1327.2" cy="702.1" r="6.9"/><circle cx="1327.2" cy="702.1" r="6.9"/><circle cx="1327.2" cy="702.1" r="6.9"/><circle cx="1327.2" cy="702.1" r="6.9"/><circle cx="1327.2" cy="689.3" r="6.9"/><circle cx="1327.2" cy="689.3" r="6.9"/><circle cx="1327.2" cy="689.3" r="6.9"/><circle cx="1327.2" cy="689.3" r="6.9"/><circle cx="1327.2" cy="689.3" r="6.9"/><circle cx="1327.2" cy="677.5" r="6.9"/><circle cx="1327.2" cy="677.5" r="6.9"/><circle cx="1327.2" cy="677.5" r="6.9"/><circle cx="1327.2" cy="677.5" r="6.9"/><circle cx="1327.2" cy="677.5" r="6.9"/><circle cx="1327.3" cy="666.5" r="6.9"/><circle cx="1327.3" cy="666.5" r="6.9"/><circle cx="1327.3" cy="666.5" r="6.9"/><circle cx="1327.3" cy="666.5" r="6.9"/><circle cx="1327.3" cy="666.5" r="6.9"/><circle cx="1327.3" cy="666.5" r="6.9"/><circle cx="1327.3" cy="656.4" r="6.9"/><circle cx="1327.3" cy="656.4" r="6.9"/><circle cx="1327.3" cy="656.4" r="6.9"/><circle cx="1327.3" cy="656.4" r="6.9"/><circle cx="1327.3" cy="656.4" r="6.9"/><circle cx="1327.3" cy="656.4" r="6.9"/><circle cx="1327.4" cy="647.0" r="6.9"/><circle cx="1327.4" cy="647.0" r="6.9"/><circle cx="1327.4" cy="647.0" r="6.9"/><circle cx="1327.4" cy="647.0" r="6.9"/><circle cx="1327.4" cy="647.0" r="6.9"/><circle cx="1327.4" cy="647.0" r="6.9"/><circle cx="1327.4" cy="647.0" r="6.9"/><circle cx="1327.4" cy="647.0" r="6.9"/><circle cx="1327.4" cy="638.3" r="6.9"/><circle cx="1342.2" cy="600.1" r="6.9"/><circle cx="1342.2" cy="598.5" r="6.9"/><circle cx="1344.0" cy="598.1" r="6.9"/><circle cx="1344.0" cy="599.6" r="6.9"/><circle cx="1344.0" cy="601.2" r="6.9"/><circle cx="1344.0" cy="602.6" r="6.9"/><circle cx="1344.0" cy="604.3" r="6.9"/><circle cx="1344.0" cy="606.0" r="6.9"/><circle cx="1344.0" cy="607.0" r="6.9"/><circle cx="1344.1" cy="608.7" r="6.9"/><circle cx="1344.1" cy="610.1" r="6.9"/><circle cx="1344.1" cy="611.3" r="6.9"/><circle cx="1344.1" cy="612.5" r="6.9"/><circle cx="1344.1" cy="613.2" r="6.9"/><circle cx="1344.1" cy="614.5" r="6.9"/><circle cx="1344.1" cy="616.0" r="6.9"/><circle cx="1344.1" cy="616.8" r="6.9"/><circle cx="1344.1" cy="617.8" r="6.9"/><circle cx="1344.1" cy="619.4" r="6.9"/><circle cx="1344.1" cy="621.1" r="6.9"/><circle cx="1344.1" cy="622.5" r="6.9"/><circle cx="1344.1" cy="624.3" r="6.9"/><circle cx="1344.1" cy="625.3" r="6.9"/><circle cx="1344.1" cy="626.6" r="6.9"/><circle cx="1344.1" cy="628.5" r="6.9"/><circle cx="1344.1" cy="629.5" r="6.9"/><circle cx="1344.1" cy="630.9" r="6.9"/><circle cx="1344.1" cy="632.1" r="6.9"/><circle cx="1344.1" cy="633.8" r="6.9"/><circle cx="1344.1" cy="636.1" r="6.9"/><circle cx="1344.1" cy="637.8" r="6.9"/><circle cx="1344.2" cy="640.1" r="6.9"/><circle cx="1344.2" cy="641.4" r="6.9"/><circle cx="1344.2" cy="643.2" r="6.9"/><circle cx="1344.2" cy="645.8" r="6.9"/><circle cx="1344.2" cy="648.5" r="6.9"/><circle cx="1344.2" cy="650.2" r="6.9"/><circle cx="1344.2" cy="651.8" r="6.9"/><circle cx="1344.2" cy="653.7" r="6.9"/><circle cx="1344.2" cy="656.6" r="6.9"/><circle cx="1344.2" cy="658.4" r="6.9"/><circle cx="1344.2" cy="660.4" r="6.9"/><circle cx="1344.2" cy="662.5" r="6.9"/><circle cx="1344.2" cy="664.9" r="6.9"/><circle cx="1344.3" cy="668.0" r="6.9"/><circle cx="1344.3" cy="670.8" r="6.9"/><circle cx="1344.3" cy="674.1" r="6.9"/><circle cx="1344.3" cy="676.9" r="6.9"/><circle cx="1344.3" cy="680.5" r="6.9"/><circle cx="1344.3" cy="683.2" r="6.9"/><circle cx="1344.3" cy="686.6" r="6.9"/><circle cx="1344.3" cy="689.5" r="6.9"/><circle cx="1344.4" cy="692.6" r="6.9"/><circle cx="1344.4" cy="695.3" r="6.9"/><circle cx="1344.4" cy="699.6" r="6.9"/><circle cx="1344.4" cy="702.8" r="6.9"/><circle cx="1344.4" cy="707.7" r="6.9"/><circle cx="1344.4" cy="711.9" r="6.9"/><circle cx="1344.4" cy="714.8" r="6.9"/><circle cx="1344.4" cy="715.6" r="6.9"/><circle cx="1344.3" cy="714.7" r="6.9"/><circle cx="1344.6" cy="714.0" r="6.9"/><circle cx="1344.7" cy="712.6" r="6.9"/><circle cx="1344.5" cy="700.1" r="6.9"/><circle cx="1344.5" cy="700.1" r="6.9"/><circle cx="1344.5" cy="700.1" r="6.9"/><circle cx="1344.5" cy="685.9" r="6.9"/><circle cx="1344.5" cy="685.9" r="6.9"/><circle cx="1344.5" cy="685.9" r="6.9"/><circle cx="1344.5" cy="685.9" r="6.9"/><circle cx="1344.5" cy="685.9" r="6.9"/><circle cx="1344.6" cy="672.7" r="6.9"/><circle cx="1344.6" cy="672.7" r="6.9"/><circle cx="1344.6" cy="672.7" r="6.9"/><circle cx="1344.6" cy="672.7" r="6.9"/><circle cx="1344.6" cy="672.7" r="6.9"/><circle cx="1344.6" cy="660.6" r="6.9"/><circle cx="1344.6" cy="660.6" r="6.9"/><circle cx="1344.6" cy="660.6" r="6.9"/><circle cx="1344.6" cy="660.6" r="6.9"/><circle cx="1344.6" cy="660.6" r="6.9"/><circle cx="1344.6" cy="649.3" r="6.9"/><circle cx="1344.6" cy="649.3" r="6.9"/><circle cx="1344.6" cy="649.3" r="6.9"/><circle cx="1344.6" cy="649.3" r="6.9"/><circle cx="1344.6" cy="649.3" r="6.9"/><circle cx="1344.6" cy="649.3" r="6.9"/><circle cx="1344.7" cy="638.9" r="6.9"/><circle cx="1344.7" cy="638.9" r="6.9"/><circle cx="1344.7" cy="638.9" r="6.9"/><circle cx="1344.7" cy="638.9" r="6.9"/><circle cx="1344.7" cy="638.9" r="6.9"/><circle cx="1344.7" cy="638.9" r="6.9"/><circle cx="1344.7" cy="629.2" r="6.9"/><circle cx="1344.7" cy="629.2" r="6.9"/><circle cx="1344.7" cy="629.2" r="6.9"/><circle cx="1344.7" cy="629.2" r="6.9"/><circle cx="1344.7" cy="629.2" r="6.9"/><circle cx="1344.7" cy="629.2" r="6.9"/><circle cx="1344.7" cy="629.2" r="6.9"/><circle cx="1344.7" cy="629.2" r="6.9"/><circle cx="1344.8" cy="620.3" r="6.9"/><circle cx="1361.0" cy="599.1" r="6.9"/><circle cx="1361.0" cy="600.1" r="6.9"/><circle cx="1361.0" cy="601.5" r="6.9"/><circle cx="1361.0" cy="602.5" r="6.9"/><circle cx="1361.0" cy="603.5" r="6.9"/><circle cx="1361.0" cy="604.5" r="6.9"/><circle cx="1361.0" cy="606.2" r="6.9"/><circle cx="1361.0" cy="607.2" r="6.9"/><circle cx="1361.0" cy="608.3" r="6.9"/><circle cx="1361.0" cy="609.9" r="6.9"/><circle cx="1361.0" cy="611.4" r="6.9"/><circle cx="1361.1" cy="613.3" r="6.9"/><circle cx="1361.1" cy="614.7" r="6.9"/><circle cx="1361.1" cy="615.9" r="6.9"/><circle cx="1361.1" cy="617.8" r="6.9"/><circle cx="1361.1" cy="619.4" r="6.9"/><circle cx="1361.1" cy="621.3" r="6.9"/><circle cx="1361.1" cy="622.7" r="6.9"/><circle cx="1361.1" cy="625.2" r="6.9"/><circle cx="1361.1" cy="627.5" r="6.9"/><circle cx="1361.1" cy="629.2" r="6.9"/><circle cx="1361.1" cy="631.1" r="6.9"/><circle cx="1361.1" cy="632.7" r="6.9"/><circle cx="1361.1" cy="635.6" r="6.9"/><circle cx="1361.1" cy="637.3" r="6.9"/><circle cx="1361.1" cy="639.5" r="6.9"/><circle cx="1361.1" cy="641.4" r="6.9"/><circle cx="1361.1" cy="643.8" r="6.9"/><circle cx="1361.2" cy="646.5" r="6.9"/><circle cx="1361.2" cy="648.7" r="6.9"/><circle cx="1361.2" cy="651.5" r="6.9"/><circle cx="1361.2" cy="654.6" r="6.9"/><circle cx="1361.2" cy="656.9" r="6.9"/><circle cx="1361.2" cy="660.8" r="6.9"/><circle cx="1361.2" cy="663.5" r="6.9"/><circle cx="1361.2" cy="666.8" r="6.9"/><circle cx="1361.2" cy="671.0" r="6.9"/><circle cx="1361.3" cy="673.9" r="6.9"/><circle cx="1361.3" cy="676.1" r="6.9"/><circle cx="1361.3" cy="679.0" r="6.9"/><circle cx="1361.3" cy="681.5" r="6.9"/><circle cx="1361.3" cy="684.1" r="6.9"/><circle cx="1361.3" cy="688.9" r="6.9"/><circle cx="1361.3" cy="693.1" r="6.9"/><circle cx="1361.3" cy="696.2" r="6.9"/><circle cx="1361.3" cy="698.8" r="6.9"/><circle cx="1361.2" cy="697.9" r="6.9"/><circle cx="1361.5" cy="697.2" r="6.9"/><circle cx="1361.6" cy="695.8" r="6.9"/><circle cx="1361.4" cy="683.2" r="6.9"/><circle cx="1361.4" cy="683.2" r="6.9"/><circle cx="1361.4" cy="683.2" r="6.9"/><circle cx="1361.4" cy="683.2" r="6.9"/><circle cx="1361.4" cy="668.9" r="6.9"/><circle cx="1361.4" cy="668.9" r="6.9"/><circle cx="1361.4" cy="668.9" r="6.9"/><circle cx="1361.4" cy="668.9" r="6.9"/><circle cx="1361.5" cy="655.6" r="6.9"/><circle cx="1361.5" cy="655.6" r="6.9"/><circle cx="1361.5" cy="655.6" r="6.9"/><circle cx="1361.5" cy="655.6" r="6.9"/><circle cx="1361.5" cy="655.6" r="6.9"/><circle cx="1361.5" cy="643.3" r="6.9"/><circle cx="1361.5" cy="643.3" r="6.9"/><circle cx="1361.5" cy="643.3" r="6.9"/><circle cx="1361.5" cy="643.3" r="6.9"/><circle cx="1361.5" cy="643.3" r="6.9"/><circle cx="1361.5" cy="643.3" r="6.9"/><circle cx="1361.5" cy="631.9" r="6.9"/><circle cx="1361.5" cy="631.9" r="6.9"/><circle cx="1361.5" cy="631.9" r="6.9"/><circle cx="1361.5" cy="631.9" r="6.9"/><circle cx="1361.5" cy="631.9" r="6.9"/><circle cx="1361.6" cy="621.4" r="6.9"/><circle cx="1361.6" cy="621.4" r="6.9"/><circle cx="1361.6" cy="621.4" r="6.9"/><circle cx="1361.6" cy="621.4" r="6.9"/><circle cx="1361.6" cy="621.4" r="6.9"/><circle cx="1361.6" cy="621.4" r="6.9"/><circle cx="1361.6" cy="621.4" r="6.9"/><circle cx="1361.6" cy="611.7" r="6.9"/><circle cx="1361.6" cy="611.7" r="6.9"/><circle cx="1361.6" cy="611.7" r="6.9"/><circle cx="1361.6" cy="611.7" r="6.9"/><circle cx="1361.6" cy="611.7" r="6.9"/><circle cx="1361.6" cy="611.7" r="6.9"/><circle cx="1361.6" cy="611.7" r="6.9"/><circle cx="1361.6" cy="611.7" r="6.9"/><circle cx="1361.7" cy="602.7" r="6.9"/><circle cx="1376.9" cy="598.4" r="6.9"/><circle cx="1376.9" cy="599.8" r="6.9"/><circle cx="1376.9" cy="602.2" r="6.9"/><circle cx="1376.9" cy="604.3" r="6.9"/><circle cx="1376.9" cy="605.9" r="6.9"/><circle cx="1376.9" cy="608.2" r="6.9"/><circle cx="1376.9" cy="610.2" r="6.9"/><circle cx="1376.9" cy="612.0" r="6.9"/><circle cx="1376.9" cy="613.6" r="6.9"/><circle cx="1377.0" cy="615.3" r="6.9"/><circle cx="1377.0" cy="617.6" r="6.9"/><circle cx="1377.0" cy="619.8" r="6.9"/><circle cx="1377.0" cy="622.9" r="6.9"/><circle cx="1377.0" cy="625.1" r="6.9"/><circle cx="1377.0" cy="627.7" r="6.9"/><circle cx="1377.0" cy="631.0" r="6.9"/><circle cx="1377.0" cy="634.2" r="6.9"/><circle cx="1377.0" cy="637.4" r="6.9"/><circle cx="1377.0" cy="641.1" r="6.9"/><circle cx="1377.1" cy="644.4" r="6.9"/><circle cx="1377.1" cy="648.2" r="6.9"/><circle cx="1377.1" cy="651.9" r="6.9"/><circle cx="1377.1" cy="654.5" r="6.9"/><circle cx="1377.1" cy="658.2" r="6.9"/><circle cx="1377.1" cy="662.4" r="6.9"/><circle cx="1377.1" cy="666.5" r="6.9"/><circle cx="1377.2" cy="670.1" r="6.9"/><circle cx="1377.2" cy="672.7" r="6.9"/><circle cx="1377.2" cy="676.9" r="6.9"/><circle cx="1377.2" cy="681.1" r="6.9"/><circle cx="1377.1" cy="680.2" r="6.9"/><circle cx="1377.3" cy="679.5" r="6.9"/><circle cx="1377.5" cy="678.1" r="6.9"/><circle cx="1377.2" cy="665.4" r="6.9"/><circle cx="1377.2" cy="665.4" r="6.9"/><circle cx="1377.2" cy="665.4" r="6.9"/><circle cx="1377.2" cy="665.4" r="6.9"/><circle cx="1377.3" cy="650.8" r="6.9"/><circle cx="1377.3" cy="650.8" r="6.9"/><circle cx="1377.3" cy="650.8" r="6.9"/><circle cx="1377.3" cy="650.8" r="6.9"/><circle cx="1377.3" cy="637.4" r="6.9"/><circle cx="1377.3" cy="637.4" r="6.9"/><circle cx="1377.3" cy="637.4" r="6.9"/><circle cx="1377.3" cy="637.4" r="6.9"/><circle cx="1377.3" cy="637.4" r="6.9"/><circle cx="1377.4" cy="624.9" r="6.9"/><circle cx="1377.4" cy="624.9" r="6.9"/><circle cx="1377.4" cy="624.9" r="6.9"/><circle cx="1377.4" cy="624.9" r="6.9"/><circle cx="1377.4" cy="624.9" r="6.9"/><circle cx="1377.4" cy="613.4" r="6.9"/><circle cx="1377.4" cy="613.4" r="6.9"/><circle cx="1377.4" cy="613.4" r="6.9"/><circle cx="1377.4" cy="613.4" r="6.9"/><circle cx="1377.4" cy="613.4" r="6.9"/><circle cx="1377.4" cy="613.4" r="6.9"/><circle cx="1377.4" cy="602.7" r="6.9"/><circle cx="1377.4" cy="602.7" r="6.9"/><circle cx="1377.4" cy="602.7" r="6.9"/><circle cx="1377.4" cy="602.7" r="6.9"/><circle cx="1377.4" cy="602.7" r="6.9"/><circle cx="1377.4" cy="602.7" r="6.9"/><circle cx="1377.4" cy="602.7" r="6.9"/><circle cx="1393.4" cy="598.9" r="6.9"/><circle cx="1393.4" cy="601.4" r="6.9"/><circle cx="1393.4" cy="604.0" r="6.9"/><circle cx="1393.4" cy="607.4" r="6.9"/><circle cx="1393.4" cy="609.7" r="6.9"/><circle cx="1393.4" cy="612.6" r="6.9"/><circle cx="1393.4" cy="616.1" r="6.9"/><circle cx="1393.4" cy="618.4" r="6.9"/><circle cx="1393.4" cy="621.7" r="6.9"/><circle cx="1393.4" cy="624.4" r="6.9"/><circle cx="1393.5" cy="628.6" r="6.9"/><circle cx="1393.5" cy="630.8" r="6.9"/><circle cx="1393.5" cy="633.5" r="6.9"/><circle cx="1393.5" cy="637.6" r="6.9"/><circle cx="1393.5" cy="640.1" r="6.9"/><circle cx="1393.5" cy="644.2" r="6.9"/><circle cx="1393.5" cy="647.6" r="6.9"/><circle cx="1393.5" cy="651.9" r="6.9"/><circle cx="1393.6" cy="656.4" r="6.9"/><circle cx="1393.6" cy="660.6" r="6.9"/><circle cx="1393.5" cy="659.7" r="6.9"/><circle cx="1393.7" cy="659.0" r="6.9"/><circle cx="1393.9" cy="657.6" r="6.9"/><circle cx="1393.6" cy="644.5" r="6.9"/><circle cx="1393.6" cy="644.5" r="6.9"/><circle cx="1393.6" cy="644.5" r="6.9"/><circle cx="1393.6" cy="644.5" r="6.9"/><circle cx="1393.6" cy="629.6" r="6.9"/><circle cx="1393.6" cy="629.6" r="6.9"/><circle cx="1393.6" cy="629.6" r="6.9"/><circle cx="1393.6" cy="629.6" r="6.9"/><circle cx="1393.7" cy="615.8" r="6.9"/><circle cx="1393.7" cy="615.8" r="6.9"/><circle cx="1393.7" cy="615.8" r="6.9"/><circle cx="1393.7" cy="615.8" r="6.9"/><circle cx="1393.7" cy="615.8" r="6.9"/><circle cx="1393.7" cy="603.1" r="6.9"/><circle cx="1393.7" cy="603.1" r="6.9"/><circle cx="1393.7" cy="603.1" r="6.9"/><circle cx="1393.7" cy="603.1" r="6.9"/><circle cx="1393.7" cy="603.1" r="6.9"/><circle cx="1393.7" cy="603.1" r="6.9"/><circle cx="1409.3" cy="599.4" r="6.9"/><circle cx="1409.3" cy="603.4" r="6.9"/><circle cx="1409.3" cy="605.6" r="6.9"/><circle cx="1409.3" cy="609.4" r="6.9"/><circle cx="1409.3" cy="614.0" r="6.9"/><circle cx="1409.3" cy="618.6" r="6.9"/><circle cx="1409.4" cy="622.6" r="6.9"/><circle cx="1409.4" cy="627.4" r="6.9"/><circle cx="1409.4" cy="632.4" r="6.9"/><circle cx="1409.4" cy="636.7" r="6.9"/><circle cx="1409.4" cy="637.8" r="6.9"/><circle cx="1409.3" cy="636.9" r="6.9"/><circle cx="1409.5" cy="636.2" r="6.9"/><circle cx="1409.7" cy="634.8" r="6.9"/><circle cx="1409.4" cy="621.3" r="6.9"/><circle cx="1409.4" cy="621.3" r="6.9"/><circle cx="1409.4" cy="621.3" r="6.9"/><circle cx="1409.4" cy="621.3" r="6.9"/><circle cx="1409.5" cy="606.1" r="6.9"/><circle cx="1409.5" cy="606.1" r="6.9"/><circle cx="1409.5" cy="606.1" r="6.9"/><circle cx="1409.5" cy="606.1" r="6.9"/><circle cx="1424.5" cy="599.3" r="6.9"/><circle cx="1424.5" cy="604.2" r="6.9"/><circle cx="1424.5" cy="609.7" r="6.9"/><circle cx="1424.5" cy="613.5" r="6.9"/><circle cx="1424.5" cy="614.2" r="6.9"/><circle cx="1424.4" cy="613.3" r="6.9"/><circle cx="1424.7" cy="612.6" r="6.9"/><circle cx="1424.8" cy="611.2" r="6.9"/></g>
<path d="M538.3 661.5V804.1" stroke="#008000" stroke-width="13.2" stroke-linecap="round" fill="none"/>
<path d="M538.5 629V661.5" stroke="#008000" stroke-width="2.1" fill="none"/>
<path d="M575.0 661.5V804.1" stroke="#008000" stroke-width="13.2" stroke-linecap="round" fill="none"/>
<path d="M575.2 629V661.5" stroke="#008000" stroke-width="2.1" fill="none"/>
<path d="M611.2 661.5V804.1" stroke="#008000" stroke-width="13.2" stroke-linecap="round" fill="none"/>
<path d="M646.7 661.5V804.1" stroke="#008000" stroke-width="13.2" stroke-linecap="round" fill="none"/>
</g>
<rect x="225.5" y="144.5" width="1395" height="924" fill="none" stroke="#000" stroke-width="1.1"/>
<path stroke="#000" stroke-width="1.1" fill="none" d="M402.5 1068.5v4.9M610.5 1068.5v4.9M818.5 1068.5v4.9M1026.5 1068.5v4.9M1234.5 1068.5v4.9M1442.5 1068.5v4.9M225.5 144.5h-4.9M225.5 349.0h-4.9M225.5 553.5h-4.9M225.5 758.0h-4.9M225.5 962.5h-4.9"/>
<g font-size="14.15" fill="#000">
<text x="402.5" y="1089.3" text-anchor="middle" textLength="39.76" lengthAdjust="spacingAndGlyphs">196.2</text>
<text x="610.5" y="1089.3" text-anchor="middle" textLength="39.76" lengthAdjust="spacingAndGlyphs">196.3</text>
<text x="818.5" y="1089.3" text-anchor="middle" textLength="39.76" lengthAdjust="spacingAndGlyphs">196.4</text>
<text x="1026.5" y="1089.3" text-anchor="middle" textLength="39.76" lengthAdjust="spacingAndGlyphs">196.5</text>
<text x="1234.5" y="1089.3" text-anchor="middle" textLength="39.76" lengthAdjust="spacingAndGlyphs">196.6</text>
<text x="1442.5" y="1089.3" text-anchor="middle" textLength="39.76" lengthAdjust="spacingAndGlyphs">196.7</text>
<text x="215.6" y="149.6" text-anchor="end" textLength="35.35" lengthAdjust="spacingAndGlyphs">1000</text>
<text x="215.6" y="354.1" text-anchor="end" textLength="26.51" lengthAdjust="spacingAndGlyphs">800</text>
<text x="215.6" y="558.6" text-anchor="end" textLength="26.51" lengthAdjust="spacingAndGlyphs">600</text>
<text x="215.6" y="763.1" text-anchor="end" textLength="26.51" lengthAdjust="spacingAndGlyphs">400</text>
<text x="215.6" y="967.6" text-anchor="end" textLength="26.51" lengthAdjust="spacingAndGlyphs">200</text>
<text x="922.5" y="1108.2" text-anchor="middle" textLength="100.9" lengthAdjust="spacingAndGlyphs">star_age (Myr)</text>
<text transform="translate(170.3 606) rotate(-90)" text-anchor="middle" textLength="116.7" lengthAdjust="spacingAndGlyphs">FM period (days)</text>
</g>
<rect x="235.9" y="154.9" width="445.5" height="243.4" rx="4" fill="#fff" fill-opacity=".8" stroke="#d2d2d2" stroke-width="1.25"/>
<path d="M243.8 171.2H285.4" stroke="#000" stroke-width="2.08"/>
<circle cx="265.5" cy="171.2" r="2.4" fill="#000"/>
<path d="M243.8 203.0H285.4" stroke="#00f" stroke-width="4.17" stroke-linecap="square"/>
<path d="M243.8 232.9H285.4" stroke="#008000" stroke-width="4.17" stroke-linecap="square"/>
<path d="M243.8 264.0H285.4" stroke="#ffa500" stroke-width="2.08"/>
<circle cx="265.5" cy="294.5" r="4.35" fill="#90ee90"/>
<path d="M243.8 324.7H285.4" stroke="#f00" stroke-width="2.08"/>
<use href="#st" x="265.5" y="324.7"/>
<circle cx="265.5" cy="369.3" r="6.9" fill="#ff0" fill-opacity=".2" stroke="#ff0" stroke-opacity=".2" stroke-width="1.4"/>
<g font-size="21.7" fill="#000">
<text x="302.1" y="179.2" textLength="160.9" lengthAdjust="spacingAndGlyphs">m3.40_z0.0050</text>
<text x="302.1" y="209.8" textLength="339.0" lengthAdjust="spacingAndGlyphs">peak detector horizontal bounds</text>
<text x="302.1" y="240.3" textLength="370.4" lengthAdjust="spacingAndGlyphs">min. P consistent with observations</text>
<text x="302.1" y="270.9" textLength="339.7" lengthAdjust="spacingAndGlyphs">max. P must fall within this span</text>
<text x="302.1" y="301.4" textLength="337.1" lengthAdjust="spacingAndGlyphs">pulse region fit with cubic spline</text>
<text x="302.1" y="331.9" textLength="171.5" lengthAdjust="spacingAndGlyphs">pulses identified</text>
<text x="302.1" y="362.4" textLength="232.1" lengthAdjust="spacingAndGlyphs">intersection w/ P,L,T,R</text>
<text x="302.1" y="385.3" textLength="158.1" lengthAdjust="spacingAndGlyphs">loosely defined</text>
</g>
</svg>
</body></html>
